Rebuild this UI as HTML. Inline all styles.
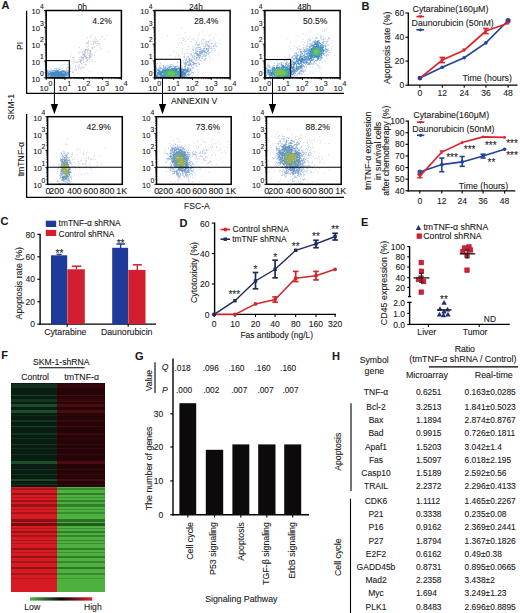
<!DOCTYPE html>
<html><head><meta charset="utf-8"><style>
html,body{margin:0;padding:0;background:#fff;overflow:hidden;}
svg{display:block;}
text{font-family:"Liberation Sans",sans-serif;fill:#1a1a1a;stroke:#1a1a1a;stroke-width:0.1px;}
</style></head><body>
<svg width="520" height="613" viewBox="0 0 520 613">
<defs>
<filter id="soft" x="-5%" y="-5%" width="110%" height="110%"><feGaussianBlur stdDeviation="0.4"/></filter>
<linearGradient id="lg" x1="0" x2="1" y1="0" y2="0"><stop offset="0" stop-color="#4cb84a"/><stop offset="0.5" stop-color="#080606"/><stop offset="1" stop-color="#e2202c"/></linearGradient>
</defs>
<rect width="520" height="613" fill="#fff"/>
<text x="1.49" y="9.20" font-size="11.00" text-anchor="start" font-weight="bold" >A</text>
<line x1="26.60" y1="10.80" x2="26.60" y2="93.60" stroke="#000" stroke-width="1.3" />
<line x1="26.00" y1="93.40" x2="344.00" y2="93.40" stroke="#000" stroke-width="1.3" />
<line x1="26.60" y1="114.00" x2="26.60" y2="197.40" stroke="#000" stroke-width="1.3" />
<line x1="26.00" y1="197.30" x2="344.00" y2="197.30" stroke="#000" stroke-width="1.3" />
<text transform="translate(13.80,119.88) rotate(-90)" font-size="8.50">SKM-1</text>
<text transform="translate(23.30,49.92) rotate(-90)" font-size="8.40">PI</text>
<text transform="translate(23.50,176.35) rotate(-90)" font-size="8.70">tmTNF-α</text>
<text x="170.92" y="103.80" font-size="8.60" text-anchor="start" >ANNEXIN V</text>
<text x="183.98" y="208.80" font-size="8.60" text-anchor="start" >FSC-A</text>
<path d="M61.3 64.7h1.0v1.0h-1.0zM67.6 67.1h1.0v1.0h-1.0zM53.8 67.9h1.0v1.0h-1.0zM54.7 67.9h1.0v1.0h-1.0zM58.1 68.0h1.0v1.0h-1.0zM51.2 68.8h1.0v1.0h-1.0zM51.0 69.1h1.0v1.0h-1.0zM61.9 68.6h1.0v1.0h-1.0z" fill="#b8cbe4" opacity="1.0" filter="url(#soft)"/>
<path d="M59.3 69.0h1.0v1.0h-1.0zM47.4 70.1h1.0v1.0h-1.0zM49.7 70.2h1.0v1.0h-1.0zM58.8 69.2h1.0v1.0h-1.0zM56.0 68.6h1.0v1.0h-1.0zM50.7 70.5h1.0v1.0h-1.0zM67.9 76.2h1.0v1.0h-1.0zM57.4 68.5h1.0v1.0h-1.0zM46.8 76.4h1.0v1.0h-1.0zM46.8 75.5h1.0v1.0h-1.0zM46.8 75.5h1.0v1.0h-1.0zM46.8 70.7h1.0v1.0h-1.0zM46.8 70.8h1.0v1.0h-1.0zM46.8 71.1h1.0v1.0h-1.0zM46.9 71.2h1.0v1.0h-1.0zM46.8 70.6h1.0v1.0h-1.0zM46.8 71.4h1.0v1.0h-1.0zM46.8 70.8h1.0v1.0h-1.0zM67.9 70.7h1.0v1.0h-1.0zM66.5 76.0h1.0v1.0h-1.0zM52.5 70.1h1.0v1.0h-1.0zM63.9 70.4h1.0v1.0h-1.0zM47.7 70.5h1.0v1.0h-1.0zM62.3 70.0h1.0v1.0h-1.0zM53.4 69.9h1.0v1.0h-1.0zM53.7 70.4h1.0v1.0h-1.0zM54.1 69.9h1.0v1.0h-1.0zM47.4 76.3h1.0v1.0h-1.0zM47.4 75.7h1.0v1.0h-1.0zM65.4 76.3h1.0v1.0h-1.0zM66.4 71.3h1.0v1.0h-1.0zM66.2 71.4h1.0v1.0h-1.0zM47.1 72.5h1.0v1.0h-1.0zM46.8 72.2h1.0v1.0h-1.0zM46.8 71.6h1.0v1.0h-1.0zM46.8 72.0h1.0v1.0h-1.0zM46.8 72.2h1.0v1.0h-1.0zM46.8 75.4h1.0v1.0h-1.0zM46.8 75.1h1.0v1.0h-1.0zM46.8 74.5h1.0v1.0h-1.0zM46.8 75.4h1.0v1.0h-1.0zM47.1 74.5h1.0v1.0h-1.0zM46.8 75.0h1.0v1.0h-1.0zM49.2 71.1h1.0v1.0h-1.0zM49.1 76.1h1.0v1.0h-1.0zM48.7 76.2h1.0v1.0h-1.0zM48.7 76.4h1.0v1.0h-1.0zM67.9 75.2h1.0v1.0h-1.0zM67.9 74.8h1.0v1.0h-1.0zM67.7 74.8h1.0v1.0h-1.0zM67.9 75.2h1.0v1.0h-1.0zM67.9 74.6h1.0v1.0h-1.0zM67.5 74.6h1.0v1.0h-1.0zM65.2 71.4h1.0v1.0h-1.0zM65.3 71.2h1.0v1.0h-1.0zM46.8 72.8h1.0v1.0h-1.0zM46.8 73.2h1.0v1.0h-1.0zM47.0 73.4h1.0v1.0h-1.0zM46.8 73.3h1.0v1.0h-1.0zM46.8 73.1h1.0v1.0h-1.0zM46.8 73.2h1.0v1.0h-1.0zM46.8 74.1h1.0v1.0h-1.0zM46.8 73.7h1.0v1.0h-1.0zM46.8 74.2h1.0v1.0h-1.0zM47.0 73.8h1.0v1.0h-1.0zM46.8 74.2h1.0v1.0h-1.0zM46.8 74.1h1.0v1.0h-1.0zM46.8 74.0h1.0v1.0h-1.0zM64.9 75.6h1.0v1.0h-1.0zM67.9 72.0h1.0v1.0h-1.0zM67.9 72.5h1.0v1.0h-1.0zM67.9 72.1h1.0v1.0h-1.0zM67.9 71.5h1.0v1.0h-1.0zM67.9 71.8h1.0v1.0h-1.0zM51.2 70.6h1.0v1.0h-1.0zM55.7 70.1h1.0v1.0h-1.0zM55.7 70.2h1.0v1.0h-1.0zM55.5 70.0h1.0v1.0h-1.0zM47.7 71.5h1.0v1.0h-1.0zM48.1 72.3h1.0v1.0h-1.0zM64.3 71.2h1.0v1.0h-1.0zM64.4 70.7h1.0v1.0h-1.0zM65.1 71.1h1.0v1.0h-1.0zM66.3 74.9h1.0v1.0h-1.0zM67.1 75.0h1.0v1.0h-1.0z" fill="#7fa8d6" opacity="1.0" filter="url(#soft)"/>
<path d="M57.6 70.1h1.0v1.0h-1.0zM58.1 70.4h1.0v1.0h-1.0zM47.6 75.2h1.0v1.0h-1.0zM48.2 75.5h1.0v1.0h-1.0zM56.7 69.9h1.0v1.0h-1.0zM67.9 74.4h1.0v1.0h-1.0zM67.9 74.3h1.0v1.0h-1.0zM67.7 74.1h1.0v1.0h-1.0zM67.9 74.4h1.0v1.0h-1.0zM67.9 73.8h1.0v1.0h-1.0zM51.1 76.0h1.0v1.0h-1.0zM50.5 75.8h1.0v1.0h-1.0zM50.4 75.7h1.0v1.0h-1.0zM50.5 75.9h1.0v1.0h-1.0zM67.1 72.1h1.0v1.0h-1.0zM66.9 72.4h1.0v1.0h-1.0zM65.5 75.2h1.0v1.0h-1.0zM66.0 74.7h1.0v1.0h-1.0zM66.2 74.8h1.0v1.0h-1.0zM67.9 72.8h1.0v1.0h-1.0zM67.9 73.2h1.0v1.0h-1.0zM67.9 72.6h1.0v1.0h-1.0zM67.3 73.1h1.0v1.0h-1.0zM67.9 73.1h1.0v1.0h-1.0zM67.6 72.7h1.0v1.0h-1.0zM67.9 72.5h1.0v1.0h-1.0zM67.9 72.5h1.0v1.0h-1.0zM67.9 73.3h1.0v1.0h-1.0zM67.9 73.3h1.0v1.0h-1.0zM64.0 70.9h1.0v1.0h-1.0zM63.2 70.8h1.0v1.0h-1.0zM63.3 70.5h1.0v1.0h-1.0zM63.8 76.4h1.0v1.0h-1.0zM64.0 75.6h1.0v1.0h-1.0zM63.4 76.1h1.0v1.0h-1.0zM63.7 76.4h1.0v1.0h-1.0zM63.4 75.9h1.0v1.0h-1.0zM49.1 74.5h1.0v1.0h-1.0zM48.9 74.5h1.0v1.0h-1.0zM47.4 72.9h1.0v1.0h-1.0zM48.2 72.8h1.0v1.0h-1.0zM47.9 72.7h1.0v1.0h-1.0zM49.6 71.7h1.0v1.0h-1.0zM50.0 72.2h1.0v1.0h-1.0zM50.0 72.4h1.0v1.0h-1.0zM52.8 70.5h1.0v1.0h-1.0zM47.7 74.4h1.0v1.0h-1.0zM48.0 74.0h1.0v1.0h-1.0zM65.3 72.0h1.0v1.0h-1.0zM65.4 72.1h1.0v1.0h-1.0zM65.3 71.9h1.0v1.0h-1.0zM67.0 74.2h1.0v1.0h-1.0zM62.2 70.6h1.0v1.0h-1.0zM62.5 70.7h1.0v1.0h-1.0zM62.8 70.8h1.0v1.0h-1.0zM48.6 72.9h1.0v1.0h-1.0zM48.9 73.0h1.0v1.0h-1.0zM52.1 76.0h1.0v1.0h-1.0zM51.3 76.4h1.0v1.0h-1.0zM51.5 75.8h1.0v1.0h-1.0zM67.0 73.0h1.0v1.0h-1.0zM66.8 72.6h1.0v1.0h-1.0zM66.5 72.7h1.0v1.0h-1.0zM64.6 74.6h1.0v1.0h-1.0zM64.3 74.7h1.0v1.0h-1.0zM64.4 74.8h1.0v1.0h-1.0zM61.8 71.4h1.0v1.0h-1.0zM61.6 71.0h1.0v1.0h-1.0zM49.0 73.6h1.0v1.0h-1.0zM48.8 74.4h1.0v1.0h-1.0zM49.8 75.2h1.0v1.0h-1.0zM50.1 75.5h1.0v1.0h-1.0zM49.7 74.7h1.0v1.0h-1.0zM63.1 75.5h1.0v1.0h-1.0zM63.0 76.4h1.0v1.0h-1.0zM62.9 76.4h1.0v1.0h-1.0zM62.8 76.4h1.0v1.0h-1.0zM62.6 75.6h1.0v1.0h-1.0zM62.8 75.6h1.0v1.0h-1.0zM65.7 74.0h1.0v1.0h-1.0zM65.6 73.9h1.0v1.0h-1.0zM66.0 74.5h1.0v1.0h-1.0zM64.4 72.1h1.0v1.0h-1.0zM64.6 71.5h1.0v1.0h-1.0zM64.8 72.3h1.0v1.0h-1.0zM65.1 71.8h1.0v1.0h-1.0zM60.9 70.7h1.0v1.0h-1.0zM60.9 71.2h1.0v1.0h-1.0zM65.9 73.1h1.0v1.0h-1.0zM65.4 73.0h1.0v1.0h-1.0zM61.8 75.9h1.0v1.0h-1.0zM62.0 76.4h1.0v1.0h-1.0zM61.6 76.1h1.0v1.0h-1.0zM61.8 76.4h1.0v1.0h-1.0zM52.8 75.6h1.0v1.0h-1.0zM53.2 76.4h1.0v1.0h-1.0zM50.9 72.5h1.0v1.0h-1.0zM50.2 71.6h1.0v1.0h-1.0zM50.4 72.1h1.0v1.0h-1.0zM51.0 71.9h1.0v1.0h-1.0zM50.5 71.5h1.0v1.0h-1.0zM51.0 72.2h1.0v1.0h-1.0zM54.9 70.8h1.0v1.0h-1.0zM54.9 71.2h1.0v1.0h-1.0zM49.9 73.4h1.0v1.0h-1.0zM49.6 73.1h1.0v1.0h-1.0zM60.0 71.2h1.0v1.0h-1.0zM60.4 75.8h1.0v1.0h-1.0zM60.9 75.9h1.0v1.0h-1.0zM64.4 73.8h1.0v1.0h-1.0zM64.4 74.1h1.0v1.0h-1.0zM64.9 74.4h1.0v1.0h-1.0zM64.8 73.8h1.0v1.0h-1.0zM50.2 73.6h1.0v1.0h-1.0zM49.9 73.8h1.0v1.0h-1.0zM49.4 74.0h1.0v1.0h-1.0zM49.7 73.6h1.0v1.0h-1.0zM53.2 76.4h1.0v1.0h-1.0zM53.9 76.4h1.0v1.0h-1.0zM64.2 73.2h1.0v1.0h-1.0zM64.7 73.1h1.0v1.0h-1.0zM63.7 72.4h1.0v1.0h-1.0zM63.9 72.4h1.0v1.0h-1.0zM64.2 72.4h1.0v1.0h-1.0zM63.6 75.4h1.0v1.0h-1.0zM63.5 74.9h1.0v1.0h-1.0zM63.6 75.1h1.0v1.0h-1.0zM59.2 76.2h1.0v1.0h-1.0zM60.0 76.3h1.0v1.0h-1.0zM50.6 75.0h1.0v1.0h-1.0zM51.2 75.0h1.0v1.0h-1.0zM51.0 74.9h1.0v1.0h-1.0zM50.4 75.4h1.0v1.0h-1.0zM50.2 75.4h1.0v1.0h-1.0zM54.4 76.3h1.0v1.0h-1.0zM55.1 75.7h1.0v1.0h-1.0zM54.3 76.2h1.0v1.0h-1.0zM54.6 76.4h1.0v1.0h-1.0zM58.3 71.4h1.0v1.0h-1.0zM58.3 71.0h1.0v1.0h-1.0zM58.4 71.1h1.0v1.0h-1.0zM58.6 71.3h1.0v1.0h-1.0zM55.9 76.4h1.0v1.0h-1.0zM55.4 71.4h1.0v1.0h-1.0zM56.2 70.7h1.0v1.0h-1.0zM52.0 71.6h1.0v1.0h-1.0zM51.3 72.0h1.0v1.0h-1.0zM52.0 72.4h1.0v1.0h-1.0zM56.7 75.6h1.0v1.0h-1.0zM56.7 75.6h1.0v1.0h-1.0zM56.7 76.2h1.0v1.0h-1.0zM56.6 76.4h1.0v1.0h-1.0zM56.6 76.1h1.0v1.0h-1.0zM58.9 75.7h1.0v1.0h-1.0zM59.0 75.7h1.0v1.0h-1.0zM58.5 76.4h1.0v1.0h-1.0zM59.0 76.4h1.0v1.0h-1.0zM58.3 76.4h1.0v1.0h-1.0zM58.4 76.4h1.0v1.0h-1.0zM58.4 75.8h1.0v1.0h-1.0zM57.3 76.2h1.0v1.0h-1.0zM57.6 76.3h1.0v1.0h-1.0zM58.1 76.2h1.0v1.0h-1.0zM57.6 76.4h1.0v1.0h-1.0zM57.8 75.9h1.0v1.0h-1.0zM50.4 73.2h1.0v1.0h-1.0zM50.5 73.1h1.0v1.0h-1.0zM50.9 73.3h1.0v1.0h-1.0zM50.5 73.0h1.0v1.0h-1.0zM50.5 73.1h1.0v1.0h-1.0zM50.9 72.7h1.0v1.0h-1.0zM51.1 73.1h1.0v1.0h-1.0zM57.3 70.6h1.0v1.0h-1.0zM57.2 70.9h1.0v1.0h-1.0zM57.8 71.1h1.0v1.0h-1.0zM57.7 70.6h1.0v1.0h-1.0zM56.2 71.4h1.0v1.0h-1.0zM57.1 71.5h1.0v1.0h-1.0zM57.1 71.4h1.0v1.0h-1.0zM62.6 71.7h1.0v1.0h-1.0zM62.7 72.1h1.0v1.0h-1.0zM63.0 71.8h1.0v1.0h-1.0zM62.3 71.7h1.0v1.0h-1.0zM62.7 71.6h1.0v1.0h-1.0zM62.4 71.6h1.0v1.0h-1.0z" fill="#4f90cc" opacity="1.0" filter="url(#soft)"/>
<path d="M63.4 72.8h1.0v1.0h-1.0zM64.1 73.4h1.0v1.0h-1.0zM63.3 73.0h1.0v1.0h-1.0zM63.7 73.1h1.0v1.0h-1.0zM64.0 73.8h1.0v1.0h-1.0zM63.5 74.1h1.0v1.0h-1.0zM63.9 73.8h1.0v1.0h-1.0zM63.4 74.2h1.0v1.0h-1.0zM63.6 73.7h1.0v1.0h-1.0zM53.1 71.9h1.0v1.0h-1.0zM53.1 71.9h1.0v1.0h-1.0zM52.8 72.4h1.0v1.0h-1.0zM53.1 72.1h1.0v1.0h-1.0zM52.7 72.2h1.0v1.0h-1.0zM53.1 71.9h1.0v1.0h-1.0zM52.7 72.2h1.0v1.0h-1.0zM62.6 75.2h1.0v1.0h-1.0zM62.7 75.0h1.0v1.0h-1.0zM62.2 74.9h1.0v1.0h-1.0zM62.9 75.2h1.0v1.0h-1.0zM50.7 74.0h1.0v1.0h-1.0zM51.1 74.1h1.0v1.0h-1.0zM51.1 73.9h1.0v1.0h-1.0zM50.7 74.2h1.0v1.0h-1.0zM50.9 74.2h1.0v1.0h-1.0zM51.6 75.0h1.0v1.0h-1.0zM52.2 74.6h1.0v1.0h-1.0zM51.5 74.7h1.0v1.0h-1.0zM52.0 74.9h1.0v1.0h-1.0zM51.8 75.2h1.0v1.0h-1.0zM61.2 72.1h1.0v1.0h-1.0zM61.7 72.5h1.0v1.0h-1.0zM61.6 71.5h1.0v1.0h-1.0zM61.8 72.5h1.0v1.0h-1.0zM61.8 72.0h1.0v1.0h-1.0zM61.6 72.0h1.0v1.0h-1.0zM61.4 72.2h1.0v1.0h-1.0zM53.8 71.7h1.0v1.0h-1.0zM53.8 71.6h1.0v1.0h-1.0zM54.1 72.0h1.0v1.0h-1.0zM53.6 72.4h1.0v1.0h-1.0zM53.3 71.7h1.0v1.0h-1.0zM62.2 74.7h1.0v1.0h-1.0zM61.5 74.8h1.0v1.0h-1.0zM61.5 74.6h1.0v1.0h-1.0zM61.5 75.1h1.0v1.0h-1.0zM61.7 74.8h1.0v1.0h-1.0zM61.9 75.1h1.0v1.0h-1.0zM61.2 72.0h1.0v1.0h-1.0zM60.2 71.8h1.0v1.0h-1.0zM60.9 72.2h1.0v1.0h-1.0zM51.8 73.1h1.0v1.0h-1.0zM51.7 73.0h1.0v1.0h-1.0zM51.4 73.4h1.0v1.0h-1.0zM51.8 73.3h1.0v1.0h-1.0zM52.6 74.6h1.0v1.0h-1.0zM52.2 74.6h1.0v1.0h-1.0zM52.5 74.9h1.0v1.0h-1.0zM53.0 74.9h1.0v1.0h-1.0zM52.7 74.8h1.0v1.0h-1.0zM53.0 74.9h1.0v1.0h-1.0zM63.0 73.1h1.0v1.0h-1.0zM62.8 72.7h1.0v1.0h-1.0zM62.3 73.4h1.0v1.0h-1.0zM62.5 72.7h1.0v1.0h-1.0zM62.5 73.4h1.0v1.0h-1.0zM62.5 73.3h1.0v1.0h-1.0zM63.0 74.0h1.0v1.0h-1.0zM62.6 73.5h1.0v1.0h-1.0zM62.3 74.1h1.0v1.0h-1.0zM62.4 74.3h1.0v1.0h-1.0zM63.0 74.4h1.0v1.0h-1.0zM62.8 74.0h1.0v1.0h-1.0zM60.6 75.4h1.0v1.0h-1.0zM61.1 74.7h1.0v1.0h-1.0zM61.1 74.8h1.0v1.0h-1.0zM59.5 72.1h1.0v1.0h-1.0zM59.3 71.7h1.0v1.0h-1.0zM59.9 72.0h1.0v1.0h-1.0zM59.8 71.9h1.0v1.0h-1.0zM59.8 72.1h1.0v1.0h-1.0zM59.6 72.0h1.0v1.0h-1.0zM51.4 73.8h1.0v1.0h-1.0zM51.5 74.5h1.0v1.0h-1.0zM51.4 73.9h1.0v1.0h-1.0zM51.7 73.8h1.0v1.0h-1.0zM51.6 74.4h1.0v1.0h-1.0zM52.1 73.8h1.0v1.0h-1.0zM54.3 71.8h1.0v1.0h-1.0zM54.9 72.3h1.0v1.0h-1.0zM54.7 72.2h1.0v1.0h-1.0zM53.6 75.3h1.0v1.0h-1.0zM53.3 75.2h1.0v1.0h-1.0zM54.1 75.0h1.0v1.0h-1.0zM54.0 75.5h1.0v1.0h-1.0zM53.8 75.1h1.0v1.0h-1.0zM53.6 75.4h1.0v1.0h-1.0zM53.7 75.5h1.0v1.0h-1.0zM53.7 75.4h1.0v1.0h-1.0zM59.8 74.6h1.0v1.0h-1.0zM59.9 74.7h1.0v1.0h-1.0zM60.2 75.2h1.0v1.0h-1.0zM59.5 74.8h1.0v1.0h-1.0zM59.5 74.8h1.0v1.0h-1.0zM59.7 74.6h1.0v1.0h-1.0zM61.6 73.4h1.0v1.0h-1.0zM61.8 73.2h1.0v1.0h-1.0zM62.0 73.3h1.0v1.0h-1.0zM61.6 72.7h1.0v1.0h-1.0zM61.5 73.0h1.0v1.0h-1.0zM62.0 73.1h1.0v1.0h-1.0zM52.9 72.7h1.0v1.0h-1.0zM52.7 73.3h1.0v1.0h-1.0zM53.0 72.5h1.0v1.0h-1.0zM53.1 72.9h1.0v1.0h-1.0zM52.9 73.1h1.0v1.0h-1.0zM52.5 72.8h1.0v1.0h-1.0zM52.6 72.7h1.0v1.0h-1.0zM52.6 72.5h1.0v1.0h-1.0zM52.9 73.2h1.0v1.0h-1.0zM61.5 73.9h1.0v1.0h-1.0zM61.6 74.0h1.0v1.0h-1.0zM62.1 73.9h1.0v1.0h-1.0zM61.5 74.3h1.0v1.0h-1.0zM61.5 74.0h1.0v1.0h-1.0zM61.8 73.6h1.0v1.0h-1.0zM61.5 74.1h1.0v1.0h-1.0zM62.1 74.4h1.0v1.0h-1.0zM58.4 71.9h1.0v1.0h-1.0zM58.7 71.8h1.0v1.0h-1.0zM59.0 72.0h1.0v1.0h-1.0zM58.3 71.9h1.0v1.0h-1.0zM59.1 72.2h1.0v1.0h-1.0zM58.9 71.8h1.0v1.0h-1.0zM54.9 74.8h1.0v1.0h-1.0zM54.6 74.6h1.0v1.0h-1.0zM54.4 74.7h1.0v1.0h-1.0zM55.0 75.4h1.0v1.0h-1.0zM55.0 74.6h1.0v1.0h-1.0zM54.7 74.5h1.0v1.0h-1.0zM55.4 72.0h1.0v1.0h-1.0zM55.7 71.9h1.0v1.0h-1.0zM55.4 72.0h1.0v1.0h-1.0zM56.1 71.7h1.0v1.0h-1.0zM55.4 71.7h1.0v1.0h-1.0zM55.3 72.3h1.0v1.0h-1.0zM53.2 74.2h1.0v1.0h-1.0zM52.6 74.4h1.0v1.0h-1.0zM53.0 73.7h1.0v1.0h-1.0zM53.0 74.3h1.0v1.0h-1.0zM53.2 73.9h1.0v1.0h-1.0zM52.9 73.9h1.0v1.0h-1.0zM52.4 73.6h1.0v1.0h-1.0zM52.5 74.3h1.0v1.0h-1.0zM58.7 74.9h1.0v1.0h-1.0zM58.9 74.6h1.0v1.0h-1.0zM58.5 75.3h1.0v1.0h-1.0zM58.7 74.9h1.0v1.0h-1.0zM58.8 75.0h1.0v1.0h-1.0zM58.4 75.2h1.0v1.0h-1.0zM59.2 74.6h1.0v1.0h-1.0zM55.6 74.7h1.0v1.0h-1.0zM56.0 74.7h1.0v1.0h-1.0zM55.8 74.9h1.0v1.0h-1.0zM55.8 75.4h1.0v1.0h-1.0zM56.0 74.7h1.0v1.0h-1.0zM55.6 74.7h1.0v1.0h-1.0zM55.8 75.3h1.0v1.0h-1.0zM60.8 72.7h1.0v1.0h-1.0zM60.7 72.7h1.0v1.0h-1.0zM60.9 72.9h1.0v1.0h-1.0zM60.3 73.1h1.0v1.0h-1.0zM60.9 72.8h1.0v1.0h-1.0zM61.0 73.2h1.0v1.0h-1.0zM60.3 73.1h1.0v1.0h-1.0zM60.8 73.1h1.0v1.0h-1.0zM56.8 74.6h1.0v1.0h-1.0zM57.0 74.5h1.0v1.0h-1.0zM56.9 75.4h1.0v1.0h-1.0zM57.1 74.7h1.0v1.0h-1.0zM60.5 73.9h1.0v1.0h-1.0zM60.9 73.8h1.0v1.0h-1.0zM61.1 74.4h1.0v1.0h-1.0zM60.4 73.7h1.0v1.0h-1.0zM60.2 74.1h1.0v1.0h-1.0zM60.3 73.9h1.0v1.0h-1.0zM60.2 74.3h1.0v1.0h-1.0zM60.8 74.2h1.0v1.0h-1.0zM57.6 72.2h1.0v1.0h-1.0zM57.4 71.9h1.0v1.0h-1.0zM58.0 72.3h1.0v1.0h-1.0zM57.6 72.0h1.0v1.0h-1.0zM57.8 72.0h1.0v1.0h-1.0zM57.3 72.4h1.0v1.0h-1.0zM57.6 72.3h1.0v1.0h-1.0zM57.5 71.8h1.0v1.0h-1.0zM57.4 75.2h1.0v1.0h-1.0zM58.2 74.9h1.0v1.0h-1.0zM57.4 74.7h1.0v1.0h-1.0zM57.6 75.1h1.0v1.0h-1.0zM57.3 75.2h1.0v1.0h-1.0zM57.2 75.4h1.0v1.0h-1.0zM56.5 72.5h1.0v1.0h-1.0zM56.6 72.4h1.0v1.0h-1.0zM56.4 72.3h1.0v1.0h-1.0zM56.9 71.6h1.0v1.0h-1.0zM56.2 72.5h1.0v1.0h-1.0zM56.5 71.9h1.0v1.0h-1.0zM56.6 72.3h1.0v1.0h-1.0zM53.4 73.4h1.0v1.0h-1.0zM54.0 73.0h1.0v1.0h-1.0zM54.1 72.9h1.0v1.0h-1.0zM53.2 73.5h1.0v1.0h-1.0zM53.6 73.0h1.0v1.0h-1.0zM53.3 73.4h1.0v1.0h-1.0zM59.4 72.5h1.0v1.0h-1.0zM59.7 73.3h1.0v1.0h-1.0zM59.6 73.2h1.0v1.0h-1.0zM59.5 72.8h1.0v1.0h-1.0zM59.4 73.2h1.0v1.0h-1.0zM53.3 74.0h1.0v1.0h-1.0zM53.8 73.9h1.0v1.0h-1.0zM53.6 73.7h1.0v1.0h-1.0zM54.2 74.3h1.0v1.0h-1.0zM53.7 73.7h1.0v1.0h-1.0zM53.4 73.6h1.0v1.0h-1.0zM53.6 73.5h1.0v1.0h-1.0zM59.6 73.7h1.0v1.0h-1.0zM60.2 73.9h1.0v1.0h-1.0zM59.8 74.1h1.0v1.0h-1.0zM60.1 73.9h1.0v1.0h-1.0zM59.5 73.9h1.0v1.0h-1.0zM60.1 73.7h1.0v1.0h-1.0zM59.3 74.2h1.0v1.0h-1.0zM60.1 73.7h1.0v1.0h-1.0zM59.4 73.9h1.0v1.0h-1.0zM54.7 73.2h1.0v1.0h-1.0zM55.2 73.0h1.0v1.0h-1.0zM54.9 73.1h1.0v1.0h-1.0zM54.4 72.8h1.0v1.0h-1.0zM54.8 73.1h1.0v1.0h-1.0zM54.7 72.8h1.0v1.0h-1.0zM55.1 74.4h1.0v1.0h-1.0zM55.0 74.0h1.0v1.0h-1.0zM55.0 74.2h1.0v1.0h-1.0zM55.0 73.8h1.0v1.0h-1.0zM54.7 73.6h1.0v1.0h-1.0zM54.3 74.0h1.0v1.0h-1.0zM54.8 73.8h1.0v1.0h-1.0zM54.3 74.2h1.0v1.0h-1.0zM54.5 73.5h1.0v1.0h-1.0zM54.7 73.9h1.0v1.0h-1.0zM54.4 74.4h1.0v1.0h-1.0zM54.8 74.0h1.0v1.0h-1.0zM55.2 74.4h1.0v1.0h-1.0zM58.4 73.0h1.0v1.0h-1.0zM58.3 72.9h1.0v1.0h-1.0zM58.3 72.9h1.0v1.0h-1.0zM58.9 73.1h1.0v1.0h-1.0zM58.9 72.7h1.0v1.0h-1.0zM59.1 72.9h1.0v1.0h-1.0zM58.6 73.1h1.0v1.0h-1.0zM59.1 73.1h1.0v1.0h-1.0zM58.4 72.8h1.0v1.0h-1.0zM59.1 73.1h1.0v1.0h-1.0zM58.8 74.0h1.0v1.0h-1.0zM58.4 73.7h1.0v1.0h-1.0zM58.3 73.5h1.0v1.0h-1.0zM58.3 74.1h1.0v1.0h-1.0zM58.8 73.6h1.0v1.0h-1.0zM58.6 73.8h1.0v1.0h-1.0zM58.9 74.3h1.0v1.0h-1.0zM58.7 74.1h1.0v1.0h-1.0zM58.8 73.7h1.0v1.0h-1.0zM55.5 73.2h1.0v1.0h-1.0zM55.6 73.4h1.0v1.0h-1.0zM55.6 73.2h1.0v1.0h-1.0zM55.3 72.6h1.0v1.0h-1.0zM56.0 73.2h1.0v1.0h-1.0zM55.3 73.0h1.0v1.0h-1.0zM55.3 72.6h1.0v1.0h-1.0zM55.4 73.2h1.0v1.0h-1.0zM55.3 72.7h1.0v1.0h-1.0zM55.5 74.2h1.0v1.0h-1.0zM56.1 73.9h1.0v1.0h-1.0zM56.1 74.0h1.0v1.0h-1.0zM55.5 73.5h1.0v1.0h-1.0zM55.7 74.2h1.0v1.0h-1.0zM55.5 74.3h1.0v1.0h-1.0zM55.2 73.7h1.0v1.0h-1.0zM56.1 74.0h1.0v1.0h-1.0zM55.7 74.3h1.0v1.0h-1.0zM55.9 74.0h1.0v1.0h-1.0zM57.4 72.5h1.0v1.0h-1.0zM58.0 73.0h1.0v1.0h-1.0zM57.4 72.7h1.0v1.0h-1.0zM57.3 73.3h1.0v1.0h-1.0zM57.8 73.0h1.0v1.0h-1.0zM58.1 73.8h1.0v1.0h-1.0zM58.1 73.6h1.0v1.0h-1.0zM58.1 73.7h1.0v1.0h-1.0zM57.9 73.6h1.0v1.0h-1.0zM58.0 74.2h1.0v1.0h-1.0zM57.5 74.2h1.0v1.0h-1.0zM57.4 73.9h1.0v1.0h-1.0zM58.1 74.0h1.0v1.0h-1.0zM58.2 73.6h1.0v1.0h-1.0zM58.1 74.2h1.0v1.0h-1.0zM57.2 74.3h1.0v1.0h-1.0zM58.0 74.3h1.0v1.0h-1.0zM56.9 74.3h1.0v1.0h-1.0zM56.8 73.6h1.0v1.0h-1.0zM56.8 73.7h1.0v1.0h-1.0zM56.7 74.3h1.0v1.0h-1.0zM56.3 74.2h1.0v1.0h-1.0zM56.3 73.8h1.0v1.0h-1.0zM56.6 72.7h1.0v1.0h-1.0zM57.2 72.5h1.0v1.0h-1.0zM56.8 73.1h1.0v1.0h-1.0zM56.3 73.1h1.0v1.0h-1.0zM57.1 73.5h1.0v1.0h-1.0zM56.5 73.1h1.0v1.0h-1.0zM56.7 72.6h1.0v1.0h-1.0zM56.7 73.1h1.0v1.0h-1.0zM56.7 72.6h1.0v1.0h-1.0zM56.7 73.4h1.0v1.0h-1.0zM56.3 73.1h1.0v1.0h-1.0zM57.0 73.5h1.0v1.0h-1.0zM56.2 73.3h1.0v1.0h-1.0zM56.4 73.2h1.0v1.0h-1.0zM57.1 72.7h1.0v1.0h-1.0zM57.0 72.9h1.0v1.0h-1.0z" fill="#3d8ac6" opacity="1.0" filter="url(#soft)"/>
<path d="M108.2 51.1h1.0v1.0h-1.0zM89.3 71.1h1.0v1.0h-1.0zM106.6 35.1h1.0v1.0h-1.0zM73.8 74.6h1.0v1.0h-1.0zM76.9 72.8h1.0v1.0h-1.0zM67.8 74.7h1.0v1.0h-1.0zM83.7 71.7h1.0v1.0h-1.0zM94.5 60.9h1.0v1.0h-1.0zM62.6 72.3h1.0v1.0h-1.0zM87.1 37.0h1.0v1.0h-1.0zM80.4 71.6h1.0v1.0h-1.0zM79.1 47.0h1.0v1.0h-1.0zM62.6 65.6h1.0v1.0h-1.0zM70.9 53.3h1.0v1.0h-1.0zM70.0 55.4h1.0v1.0h-1.0zM71.2 61.3h1.0v1.0h-1.0zM63.6 64.2h1.0v1.0h-1.0zM94.4 52.1h1.0v1.0h-1.0zM95.5 50.1h1.0v1.0h-1.0zM66.8 64.0h1.0v1.0h-1.0zM99.7 39.1h1.0v1.0h-1.0zM93.9 54.9h1.0v1.0h-1.0zM99.3 49.3h1.0v1.0h-1.0zM91.7 60.8h1.0v1.0h-1.0zM105.2 38.4h1.0v1.0h-1.0zM103.7 38.5h1.0v1.0h-1.0zM72.8 63.3h1.0v1.0h-1.0zM90.4 37.1h1.0v1.0h-1.0zM101.4 35.7h1.0v1.0h-1.0zM100.9 48.1h1.0v1.0h-1.0zM95.4 46.7h1.0v1.0h-1.0zM89.8 35.4h1.0v1.0h-1.0zM81.8 48.4h1.0v1.0h-1.0zM94.5 36.8h1.0v1.0h-1.0zM101.9 36.9h1.0v1.0h-1.0zM91.0 34.6h1.0v1.0h-1.0zM70.5 64.6h1.0v1.0h-1.0zM99.3 46.4h1.0v1.0h-1.0zM88.6 61.0h1.0v1.0h-1.0zM91.1 43.9h1.0v1.0h-1.0zM77.8 51.5h1.0v1.0h-1.0zM80.3 49.3h1.0v1.0h-1.0zM84.2 67.1h1.0v1.0h-1.0zM78.4 54.3h1.0v1.0h-1.0zM93.1 38.8h1.0v1.0h-1.0zM91.4 59.3h1.0v1.0h-1.0zM67.1 66.2h1.0v1.0h-1.0zM73.0 59.2h1.0v1.0h-1.0zM73.2 56.4h1.0v1.0h-1.0zM85.4 43.7h1.0v1.0h-1.0zM88.2 40.2h1.0v1.0h-1.0zM82.8 67.6h1.0v1.0h-1.0z" fill="#d3d8e4" opacity="1.0" filter="url(#soft)"/>
<path d="M85.3 61.0h1.0v1.0h-1.0zM73.6 57.0h1.0v1.0h-1.0zM78.8 51.9h1.0v1.0h-1.0zM74.4 60.3h1.0v1.0h-1.0zM72.1 72.1h1.0v1.0h-1.0zM84.3 63.8h1.0v1.0h-1.0zM93.7 46.4h1.0v1.0h-1.0zM73.5 61.2h1.0v1.0h-1.0zM88.0 45.6h1.0v1.0h-1.0zM86.5 46.2h1.0v1.0h-1.0zM85.5 64.4h1.0v1.0h-1.0zM85.6 63.7h1.0v1.0h-1.0zM71.8 67.8h1.0v1.0h-1.0zM75.0 66.4h1.0v1.0h-1.0zM67.9 72.4h1.0v1.0h-1.0zM79.9 68.5h1.0v1.0h-1.0zM95.4 37.6h1.0v1.0h-1.0zM70.0 71.0h1.0v1.0h-1.0zM72.4 57.2h1.0v1.0h-1.0zM75.3 65.3h1.0v1.0h-1.0zM97.2 40.2h1.0v1.0h-1.0zM74.4 69.8h1.0v1.0h-1.0zM96.8 44.9h1.0v1.0h-1.0zM73.1 71.4h1.0v1.0h-1.0zM70.1 66.3h1.0v1.0h-1.0zM92.6 44.2h1.0v1.0h-1.0zM74.8 66.6h1.0v1.0h-1.0zM82.1 66.5h1.0v1.0h-1.0zM71.8 70.7h1.0v1.0h-1.0zM76.0 69.3h1.0v1.0h-1.0zM98.4 43.6h1.0v1.0h-1.0zM98.8 43.7h1.0v1.0h-1.0zM75.2 68.8h1.0v1.0h-1.0zM92.9 43.1h1.0v1.0h-1.0zM93.0 41.3h1.0v1.0h-1.0zM88.0 40.9h1.0v1.0h-1.0zM86.6 60.1h1.0v1.0h-1.0zM87.3 43.6h1.0v1.0h-1.0zM75.3 62.0h1.0v1.0h-1.0zM80.8 68.3h1.0v1.0h-1.0zM95.5 39.1h1.0v1.0h-1.0zM92.5 48.5h1.0v1.0h-1.0zM92.1 47.0h1.0v1.0h-1.0zM80.7 63.5h1.0v1.0h-1.0zM83.0 61.3h1.0v1.0h-1.0zM80.8 51.6h1.0v1.0h-1.0zM86.5 42.3h1.0v1.0h-1.0zM78.0 67.7h1.0v1.0h-1.0zM97.4 42.9h1.0v1.0h-1.0zM89.4 58.9h1.0v1.0h-1.0zM80.6 66.6h1.0v1.0h-1.0zM78.7 64.2h1.0v1.0h-1.0zM87.9 43.5h1.0v1.0h-1.0zM76.7 61.5h1.0v1.0h-1.0zM76.7 62.3h1.0v1.0h-1.0zM65.7 71.0h1.0v1.0h-1.0zM87.4 42.2h1.0v1.0h-1.0zM78.6 65.3h1.0v1.0h-1.0zM91.7 54.2h1.0v1.0h-1.0zM91.2 47.6h1.0v1.0h-1.0zM92.0 47.5h1.0v1.0h-1.0zM69.6 68.4h1.0v1.0h-1.0zM69.2 67.9h1.0v1.0h-1.0zM70.0 67.7h1.0v1.0h-1.0zM77.5 65.9h1.0v1.0h-1.0zM77.7 61.3h1.0v1.0h-1.0zM78.8 59.0h1.0v1.0h-1.0zM87.0 53.4h1.0v1.0h-1.0zM77.7 67.4h1.0v1.0h-1.0zM96.8 40.9h1.0v1.0h-1.0zM81.0 63.3h1.0v1.0h-1.0zM79.3 57.2h1.0v1.0h-1.0zM79.1 67.2h1.0v1.0h-1.0zM87.0 59.0h1.0v1.0h-1.0zM66.7 67.6h1.0v1.0h-1.0zM66.7 67.7h1.0v1.0h-1.0zM93.2 40.9h1.0v1.0h-1.0zM81.7 51.8h1.0v1.0h-1.0zM81.9 51.5h1.0v1.0h-1.0zM95.4 42.5h1.0v1.0h-1.0zM95.4 42.8h1.0v1.0h-1.0zM87.4 52.0h1.0v1.0h-1.0zM90.5 50.3h1.0v1.0h-1.0zM65.9 69.4h1.0v1.0h-1.0zM65.3 70.4h1.0v1.0h-1.0zM67.5 70.1h1.0v1.0h-1.0zM85.0 49.1h1.0v1.0h-1.0zM84.8 49.2h1.0v1.0h-1.0zM90.7 56.6h1.0v1.0h-1.0zM90.4 52.8h1.0v1.0h-1.0zM95.5 40.9h1.0v1.0h-1.0z" fill="#bcc6da" opacity="1.0" filter="url(#soft)"/>
<path d="M83.4 59.3h1.0v1.0h-1.0zM94.3 40.8h1.0v1.0h-1.0zM83.4 49.8h1.0v1.0h-1.0zM94.7 42.5h1.0v1.0h-1.0zM81.1 56.3h1.0v1.0h-1.0zM80.5 56.5h1.0v1.0h-1.0zM80.2 61.9h1.0v1.0h-1.0zM79.3 61.6h1.0v1.0h-1.0zM89.2 53.0h1.0v1.0h-1.0zM89.9 52.7h1.0v1.0h-1.0zM90.5 54.0h1.0v1.0h-1.0zM88.7 57.8h1.0v1.0h-1.0zM66.5 69.5h1.0v1.0h-1.0zM66.6 70.2h1.0v1.0h-1.0zM90.0 51.4h1.0v1.0h-1.0zM86.0 58.2h1.0v1.0h-1.0zM88.1 48.6h1.0v1.0h-1.0zM87.3 49.4h1.0v1.0h-1.0zM86.3 48.8h1.0v1.0h-1.0zM89.5 50.4h1.0v1.0h-1.0zM90.1 50.4h1.0v1.0h-1.0zM85.6 55.2h1.0v1.0h-1.0zM79.9 59.4h1.0v1.0h-1.0zM81.3 60.2h1.0v1.0h-1.0zM86.8 57.1h1.0v1.0h-1.0zM86.3 57.0h1.0v1.0h-1.0zM84.1 51.0h1.0v1.0h-1.0zM79.9 60.7h1.0v1.0h-1.0zM88.8 54.9h1.0v1.0h-1.0zM88.8 50.3h1.0v1.0h-1.0zM87.2 50.2h1.0v1.0h-1.0zM82.5 54.3h1.0v1.0h-1.0zM82.5 53.6h1.0v1.0h-1.0zM79.7 59.7h1.0v1.0h-1.0zM85.6 49.6h1.0v1.0h-1.0zM85.2 50.0h1.0v1.0h-1.0zM89.4 57.0h1.0v1.0h-1.0zM85.5 56.3h1.0v1.0h-1.0zM84.4 53.4h1.0v1.0h-1.0zM89.7 54.8h1.0v1.0h-1.0zM88.8 56.7h1.0v1.0h-1.0zM80.3 60.1h1.0v1.0h-1.0zM80.6 60.2h1.0v1.0h-1.0zM84.4 52.3h1.0v1.0h-1.0zM84.3 51.7h1.0v1.0h-1.0zM84.9 51.9h1.0v1.0h-1.0zM88.8 56.4h1.0v1.0h-1.0zM83.5 53.4h1.0v1.0h-1.0zM89.6 55.5h1.0v1.0h-1.0zM90.0 56.0h1.0v1.0h-1.0zM85.0 57.5h1.0v1.0h-1.0zM84.1 54.6h1.0v1.0h-1.0zM83.4 55.0h1.0v1.0h-1.0zM81.5 58.5h1.0v1.0h-1.0zM81.5 57.7h1.0v1.0h-1.0zM82.6 58.5h1.0v1.0h-1.0zM81.4 56.7h1.0v1.0h-1.0zM84.8 56.1h1.0v1.0h-1.0zM83.7 56.5h1.0v1.0h-1.0zM84.0 55.6h1.0v1.0h-1.0zM83.1 57.3h1.0v1.0h-1.0zM82.3 57.2h1.0v1.0h-1.0z" fill="#a9b7d2" opacity="1.0" filter="url(#soft)"/>
<rect x="46.20" y="60.60" width="23.10" height="17.20" fill="none" stroke="#000" stroke-width="1.1"/>
<rect x="46.20" y="10.50" width="75.20" height="67.30" fill="none" stroke="#000" stroke-width="1.5"/>
<text x="43.80" y="81.70" font-size="7.6" text-anchor="end">10<tspan dy="-5.6" font-size="6.8">0</tspan></text>
<line x1="44.00" y1="77.80" x2="46.20" y2="77.80" stroke="#000" stroke-width="0.9" />
<line x1="44.80" y1="72.74" x2="46.20" y2="72.74" stroke="#000" stroke-width="0.6" />
<line x1="44.80" y1="69.77" x2="46.20" y2="69.77" stroke="#000" stroke-width="0.6" />
<line x1="44.80" y1="67.67" x2="46.20" y2="67.67" stroke="#000" stroke-width="0.6" />
<line x1="44.80" y1="66.04" x2="46.20" y2="66.04" stroke="#000" stroke-width="0.6" />
<line x1="44.80" y1="64.71" x2="46.20" y2="64.71" stroke="#000" stroke-width="0.6" />
<line x1="44.80" y1="63.58" x2="46.20" y2="63.58" stroke="#000" stroke-width="0.6" />
<line x1="44.80" y1="62.61" x2="46.20" y2="62.61" stroke="#000" stroke-width="0.6" />
<line x1="44.80" y1="61.74" x2="46.20" y2="61.74" stroke="#000" stroke-width="0.6" />
<text x="43.80" y="64.88" font-size="7.6" text-anchor="end">10<tspan dy="-5.6" font-size="6.8">1</tspan></text>
<line x1="44.00" y1="60.97" x2="46.20" y2="60.97" stroke="#000" stroke-width="0.9" />
<line x1="44.80" y1="55.91" x2="46.20" y2="55.91" stroke="#000" stroke-width="0.6" />
<line x1="44.80" y1="52.95" x2="46.20" y2="52.95" stroke="#000" stroke-width="0.6" />
<line x1="44.80" y1="50.85" x2="46.20" y2="50.85" stroke="#000" stroke-width="0.6" />
<line x1="44.80" y1="49.21" x2="46.20" y2="49.21" stroke="#000" stroke-width="0.6" />
<line x1="44.80" y1="47.88" x2="46.20" y2="47.88" stroke="#000" stroke-width="0.6" />
<line x1="44.80" y1="46.76" x2="46.20" y2="46.76" stroke="#000" stroke-width="0.6" />
<line x1="44.80" y1="45.78" x2="46.20" y2="45.78" stroke="#000" stroke-width="0.6" />
<line x1="44.80" y1="44.92" x2="46.20" y2="44.92" stroke="#000" stroke-width="0.6" />
<text x="43.80" y="48.05" font-size="7.6" text-anchor="end">10<tspan dy="-5.6" font-size="6.8">2</tspan></text>
<line x1="44.00" y1="44.15" x2="46.20" y2="44.15" stroke="#000" stroke-width="0.9" />
<line x1="44.80" y1="39.09" x2="46.20" y2="39.09" stroke="#000" stroke-width="0.6" />
<line x1="44.80" y1="36.12" x2="46.20" y2="36.12" stroke="#000" stroke-width="0.6" />
<line x1="44.80" y1="34.02" x2="46.20" y2="34.02" stroke="#000" stroke-width="0.6" />
<line x1="44.80" y1="32.39" x2="46.20" y2="32.39" stroke="#000" stroke-width="0.6" />
<line x1="44.80" y1="31.06" x2="46.20" y2="31.06" stroke="#000" stroke-width="0.6" />
<line x1="44.80" y1="29.93" x2="46.20" y2="29.93" stroke="#000" stroke-width="0.6" />
<line x1="44.80" y1="28.96" x2="46.20" y2="28.96" stroke="#000" stroke-width="0.6" />
<line x1="44.80" y1="28.09" x2="46.20" y2="28.09" stroke="#000" stroke-width="0.6" />
<text x="43.80" y="31.23" font-size="7.6" text-anchor="end">10<tspan dy="-5.6" font-size="6.8">3</tspan></text>
<line x1="44.00" y1="27.33" x2="46.20" y2="27.33" stroke="#000" stroke-width="0.9" />
<line x1="44.80" y1="22.26" x2="46.20" y2="22.26" stroke="#000" stroke-width="0.6" />
<line x1="44.80" y1="19.30" x2="46.20" y2="19.30" stroke="#000" stroke-width="0.6" />
<line x1="44.80" y1="17.20" x2="46.20" y2="17.20" stroke="#000" stroke-width="0.6" />
<line x1="44.80" y1="15.56" x2="46.20" y2="15.56" stroke="#000" stroke-width="0.6" />
<line x1="44.80" y1="14.23" x2="46.20" y2="14.23" stroke="#000" stroke-width="0.6" />
<line x1="44.80" y1="13.11" x2="46.20" y2="13.11" stroke="#000" stroke-width="0.6" />
<line x1="44.80" y1="12.13" x2="46.20" y2="12.13" stroke="#000" stroke-width="0.6" />
<line x1="44.80" y1="11.27" x2="46.20" y2="11.27" stroke="#000" stroke-width="0.6" />
<text x="43.80" y="14.40" font-size="7.6" text-anchor="end">10<tspan dy="-5.6" font-size="6.8">4</tspan></text>
<line x1="44.00" y1="10.50" x2="46.20" y2="10.50" stroke="#000" stroke-width="0.9" />
<text x="46.00" y="90.9" font-size="8.1" text-anchor="middle">10<tspan dy="-5.4" font-size="7">0</tspan></text>
<line x1="46.20" y1="77.80" x2="46.20" y2="80.00" stroke="#000" stroke-width="0.9" />
<line x1="51.86" y1="77.80" x2="51.86" y2="79.10" stroke="#000" stroke-width="0.6" />
<line x1="55.17" y1="77.80" x2="55.17" y2="79.10" stroke="#000" stroke-width="0.6" />
<line x1="57.52" y1="77.80" x2="57.52" y2="79.10" stroke="#000" stroke-width="0.6" />
<line x1="59.34" y1="77.80" x2="59.34" y2="79.10" stroke="#000" stroke-width="0.6" />
<line x1="60.83" y1="77.80" x2="60.83" y2="79.10" stroke="#000" stroke-width="0.6" />
<line x1="62.09" y1="77.80" x2="62.09" y2="79.10" stroke="#000" stroke-width="0.6" />
<line x1="63.18" y1="77.80" x2="63.18" y2="79.10" stroke="#000" stroke-width="0.6" />
<line x1="64.14" y1="77.80" x2="64.14" y2="79.10" stroke="#000" stroke-width="0.6" />
<text x="64.80" y="90.9" font-size="8.1" text-anchor="middle">10<tspan dy="-5.4" font-size="7">1</tspan></text>
<line x1="65.00" y1="77.80" x2="65.00" y2="80.00" stroke="#000" stroke-width="0.9" />
<line x1="70.66" y1="77.80" x2="70.66" y2="79.10" stroke="#000" stroke-width="0.6" />
<line x1="73.97" y1="77.80" x2="73.97" y2="79.10" stroke="#000" stroke-width="0.6" />
<line x1="76.32" y1="77.80" x2="76.32" y2="79.10" stroke="#000" stroke-width="0.6" />
<line x1="78.14" y1="77.80" x2="78.14" y2="79.10" stroke="#000" stroke-width="0.6" />
<line x1="79.63" y1="77.80" x2="79.63" y2="79.10" stroke="#000" stroke-width="0.6" />
<line x1="80.89" y1="77.80" x2="80.89" y2="79.10" stroke="#000" stroke-width="0.6" />
<line x1="81.98" y1="77.80" x2="81.98" y2="79.10" stroke="#000" stroke-width="0.6" />
<line x1="82.94" y1="77.80" x2="82.94" y2="79.10" stroke="#000" stroke-width="0.6" />
<text x="83.60" y="90.9" font-size="8.1" text-anchor="middle">10<tspan dy="-5.4" font-size="7">2</tspan></text>
<line x1="83.80" y1="77.80" x2="83.80" y2="80.00" stroke="#000" stroke-width="0.9" />
<line x1="89.46" y1="77.80" x2="89.46" y2="79.10" stroke="#000" stroke-width="0.6" />
<line x1="92.77" y1="77.80" x2="92.77" y2="79.10" stroke="#000" stroke-width="0.6" />
<line x1="95.12" y1="77.80" x2="95.12" y2="79.10" stroke="#000" stroke-width="0.6" />
<line x1="96.94" y1="77.80" x2="96.94" y2="79.10" stroke="#000" stroke-width="0.6" />
<line x1="98.43" y1="77.80" x2="98.43" y2="79.10" stroke="#000" stroke-width="0.6" />
<line x1="99.69" y1="77.80" x2="99.69" y2="79.10" stroke="#000" stroke-width="0.6" />
<line x1="100.78" y1="77.80" x2="100.78" y2="79.10" stroke="#000" stroke-width="0.6" />
<line x1="101.74" y1="77.80" x2="101.74" y2="79.10" stroke="#000" stroke-width="0.6" />
<text x="102.40" y="90.9" font-size="8.1" text-anchor="middle">10<tspan dy="-5.4" font-size="7">3</tspan></text>
<line x1="102.60" y1="77.80" x2="102.60" y2="80.00" stroke="#000" stroke-width="0.9" />
<line x1="108.26" y1="77.80" x2="108.26" y2="79.10" stroke="#000" stroke-width="0.6" />
<line x1="111.57" y1="77.80" x2="111.57" y2="79.10" stroke="#000" stroke-width="0.6" />
<line x1="113.92" y1="77.80" x2="113.92" y2="79.10" stroke="#000" stroke-width="0.6" />
<line x1="115.74" y1="77.80" x2="115.74" y2="79.10" stroke="#000" stroke-width="0.6" />
<line x1="117.23" y1="77.80" x2="117.23" y2="79.10" stroke="#000" stroke-width="0.6" />
<line x1="118.49" y1="77.80" x2="118.49" y2="79.10" stroke="#000" stroke-width="0.6" />
<line x1="119.58" y1="77.80" x2="119.58" y2="79.10" stroke="#000" stroke-width="0.6" />
<line x1="120.54" y1="77.80" x2="120.54" y2="79.10" stroke="#000" stroke-width="0.6" />
<text x="121.20" y="90.9" font-size="8.1" text-anchor="middle">10<tspan dy="-5.4" font-size="7">4</tspan></text>
<line x1="121.40" y1="77.80" x2="121.40" y2="80.00" stroke="#000" stroke-width="0.9" />
<text x="77.69" y="9.60" font-size="8.40" text-anchor="start" >0h</text>
<text x="92.25" y="23.80" font-size="8.60" text-anchor="start" >4.2%</text>
<line x1="54.40" y1="77.80" x2="54.40" y2="106.00" stroke="#000" stroke-width="1" />
<path d="M50.80,104 L58.00,104 L54.40,114.3 Z" fill="#000" />
<path d="M181.4 27.3h1.0v1.0h-1.0zM184.8 31.9h1.0v1.0h-1.0zM167.2 35.0h1.0v1.0h-1.0zM169.9 54.6h1.0v1.0h-1.0zM218.4 54.1h1.0v1.0h-1.0zM176.6 46.7h1.0v1.0h-1.0zM201.9 73.6h1.0v1.0h-1.0zM202.2 31.3h1.0v1.0h-1.0zM215.4 33.8h1.0v1.0h-1.0zM203.6 35.0h1.0v1.0h-1.0zM161.6 59.0h1.0v1.0h-1.0zM173.6 51.2h1.0v1.0h-1.0zM176.4 34.4h1.0v1.0h-1.0zM178.3 38.2h1.0v1.0h-1.0zM219.6 39.6h1.0v1.0h-1.0zM179.4 34.4h1.0v1.0h-1.0zM182.0 47.9h1.0v1.0h-1.0zM219.8 42.9h1.0v1.0h-1.0zM197.8 38.4h1.0v1.0h-1.0zM189.1 36.3h1.0v1.0h-1.0zM175.3 56.4h1.0v1.0h-1.0zM209.6 60.4h1.0v1.0h-1.0zM175.9 52.4h1.0v1.0h-1.0zM211.5 58.5h1.0v1.0h-1.0zM198.3 31.7h1.0v1.0h-1.0zM185.6 43.5h1.0v1.0h-1.0zM186.7 49.0h1.0v1.0h-1.0zM181.9 51.3h1.0v1.0h-1.0zM194.5 76.0h1.0v1.0h-1.0zM181.8 44.6h1.0v1.0h-1.0zM186.2 36.7h1.0v1.0h-1.0zM177.8 56.6h1.0v1.0h-1.0zM197.2 69.0h1.0v1.0h-1.0zM209.6 34.7h1.0v1.0h-1.0zM193.2 38.1h1.0v1.0h-1.0zM208.6 35.7h1.0v1.0h-1.0zM177.7 43.5h1.0v1.0h-1.0zM178.3 52.5h1.0v1.0h-1.0zM165.8 59.6h1.0v1.0h-1.0zM165.4 59.5h1.0v1.0h-1.0zM185.0 40.8h1.0v1.0h-1.0zM197.1 35.4h1.0v1.0h-1.0zM178.3 55.0h1.0v1.0h-1.0zM157.5 60.7h1.0v1.0h-1.0zM188.4 47.5h1.0v1.0h-1.0zM215.1 49.9h1.0v1.0h-1.0zM213.8 36.9h1.0v1.0h-1.0zM181.7 36.6h1.0v1.0h-1.0zM194.5 39.6h1.0v1.0h-1.0zM214.0 50.6h1.0v1.0h-1.0zM190.8 41.5h1.0v1.0h-1.0zM216.2 42.4h1.0v1.0h-1.0zM200.7 39.8h1.0v1.0h-1.0zM198.7 33.9h1.0v1.0h-1.0zM209.2 56.9h1.0v1.0h-1.0zM187.4 45.4h1.0v1.0h-1.0zM187.7 39.0h1.0v1.0h-1.0zM188.7 45.8h1.0v1.0h-1.0zM178.9 42.1h1.0v1.0h-1.0zM201.6 62.9h1.0v1.0h-1.0zM186.6 52.4h1.0v1.0h-1.0zM180.2 61.6h1.0v1.0h-1.0zM192.0 46.1h1.0v1.0h-1.0zM191.7 38.8h1.0v1.0h-1.0zM181.3 42.9h1.0v1.0h-1.0zM173.4 63.5h1.0v1.0h-1.0zM189.4 38.5h1.0v1.0h-1.0zM197.5 74.4h1.0v1.0h-1.0zM197.5 70.8h1.0v1.0h-1.0zM187.4 52.7h1.0v1.0h-1.0zM181.9 53.0h1.0v1.0h-1.0zM190.6 41.0h1.0v1.0h-1.0zM180.8 42.1h1.0v1.0h-1.0zM196.5 74.0h1.0v1.0h-1.0zM190.5 50.8h1.0v1.0h-1.0zM183.9 38.6h1.0v1.0h-1.0zM212.9 37.9h1.0v1.0h-1.0zM197.8 72.1h1.0v1.0h-1.0zM184.2 53.1h1.0v1.0h-1.0zM182.7 38.1h1.0v1.0h-1.0zM202.0 38.7h1.0v1.0h-1.0zM210.1 39.2h1.0v1.0h-1.0zM208.8 55.8h1.0v1.0h-1.0zM210.9 39.5h1.0v1.0h-1.0zM211.8 52.2h1.0v1.0h-1.0zM204.2 38.9h1.0v1.0h-1.0zM183.9 54.4h1.0v1.0h-1.0zM211.9 43.1h1.0v1.0h-1.0zM190.9 76.2h1.0v1.0h-1.0zM155.5 64.0h1.0v1.0h-1.0zM203.2 39.4h1.0v1.0h-1.0zM215.1 43.2h1.0v1.0h-1.0zM182.2 39.9h1.0v1.0h-1.0zM182.5 40.0h1.0v1.0h-1.0zM160.1 63.3h1.0v1.0h-1.0zM160.0 62.7h1.0v1.0h-1.0zM177.4 62.4h1.0v1.0h-1.0zM177.0 61.6h1.0v1.0h-1.0zM177.4 61.6h1.0v1.0h-1.0zM156.2 63.4h1.0v1.0h-1.0z" fill="#ccd5e6" opacity="1.0" filter="url(#soft)"/>
<path d="M157.1 62.9h1.0v1.0h-1.0zM213.5 47.8h1.0v1.0h-1.0zM216.5 45.9h1.0v1.0h-1.0zM195.7 42.0h1.0v1.0h-1.0zM211.1 42.9h1.0v1.0h-1.0zM196.4 65.5h1.0v1.0h-1.0zM183.8 57.2h1.0v1.0h-1.0zM183.2 56.6h1.0v1.0h-1.0zM195.9 41.8h1.0v1.0h-1.0zM200.7 60.7h1.0v1.0h-1.0zM184.0 56.2h1.0v1.0h-1.0zM191.9 75.1h1.0v1.0h-1.0zM193.6 47.3h1.0v1.0h-1.0zM201.2 41.6h1.0v1.0h-1.0zM211.6 49.7h1.0v1.0h-1.0zM211.4 50.5h1.0v1.0h-1.0zM195.0 44.0h1.0v1.0h-1.0zM193.0 72.8h1.0v1.0h-1.0zM193.1 72.7h1.0v1.0h-1.0zM182.7 60.5h1.0v1.0h-1.0zM199.0 63.9h1.0v1.0h-1.0zM195.5 65.8h1.0v1.0h-1.0zM189.9 53.5h1.0v1.0h-1.0zM190.7 53.0h1.0v1.0h-1.0zM193.3 67.4h1.0v1.0h-1.0zM202.5 43.6h1.0v1.0h-1.0zM214.9 43.7h1.0v1.0h-1.0zM203.5 59.6h1.0v1.0h-1.0zM159.0 65.5h1.0v1.0h-1.0zM200.0 60.1h1.0v1.0h-1.0zM192.1 48.7h1.0v1.0h-1.0zM192.3 49.2h1.0v1.0h-1.0zM209.4 40.6h1.0v1.0h-1.0zM201.3 43.1h1.0v1.0h-1.0zM201.4 43.3h1.0v1.0h-1.0zM203.5 41.7h1.0v1.0h-1.0zM204.4 59.6h1.0v1.0h-1.0zM205.1 58.6h1.0v1.0h-1.0zM202.7 45.8h1.0v1.0h-1.0zM156.2 65.3h1.0v1.0h-1.0zM213.1 45.6h1.0v1.0h-1.0zM212.9 46.0h1.0v1.0h-1.0zM205.1 58.0h1.0v1.0h-1.0zM215.3 45.6h1.0v1.0h-1.0zM215.5 45.8h1.0v1.0h-1.0zM160.3 65.3h1.0v1.0h-1.0zM211.6 47.8h1.0v1.0h-1.0zM155.6 66.5h1.0v1.0h-1.0zM155.5 65.8h1.0v1.0h-1.0zM171.7 63.9h1.0v1.0h-1.0zM199.1 43.9h1.0v1.0h-1.0zM196.0 43.2h1.0v1.0h-1.0zM199.2 59.8h1.0v1.0h-1.0zM180.0 64.9h1.0v1.0h-1.0zM186.6 56.3h1.0v1.0h-1.0zM188.0 55.7h1.0v1.0h-1.0zM208.0 41.0h1.0v1.0h-1.0zM170.5 64.0h1.0v1.0h-1.0zM191.9 72.3h1.0v1.0h-1.0zM192.6 72.0h1.0v1.0h-1.0zM184.7 59.2h1.0v1.0h-1.0zM198.5 64.1h1.0v1.0h-1.0zM207.0 41.1h1.0v1.0h-1.0zM166.5 64.9h1.0v1.0h-1.0zM205.2 40.7h1.0v1.0h-1.0zM192.7 52.6h1.0v1.0h-1.0zM214.0 45.2h1.0v1.0h-1.0zM190.4 54.6h1.0v1.0h-1.0zM187.7 55.8h1.0v1.0h-1.0zM207.9 54.0h1.0v1.0h-1.0zM162.5 65.5h1.0v1.0h-1.0zM179.5 65.1h1.0v1.0h-1.0zM179.3 64.7h1.0v1.0h-1.0zM203.7 46.5h1.0v1.0h-1.0zM204.6 58.5h1.0v1.0h-1.0zM204.3 59.0h1.0v1.0h-1.0zM193.2 49.8h1.0v1.0h-1.0zM193.1 49.0h1.0v1.0h-1.0zM195.4 47.4h1.0v1.0h-1.0zM195.7 47.4h1.0v1.0h-1.0zM202.1 57.7h1.0v1.0h-1.0zM163.1 65.1h1.0v1.0h-1.0zM209.1 42.8h1.0v1.0h-1.0zM209.1 42.7h1.0v1.0h-1.0zM167.6 65.3h1.0v1.0h-1.0zM192.2 67.2h1.0v1.0h-1.0zM188.9 75.7h1.0v1.0h-1.0zM198.5 44.0h1.0v1.0h-1.0zM195.6 64.6h1.0v1.0h-1.0zM210.5 47.9h1.0v1.0h-1.0zM201.3 58.0h1.0v1.0h-1.0zM201.0 58.3h1.0v1.0h-1.0zM198.8 62.8h1.0v1.0h-1.0zM198.5 62.8h1.0v1.0h-1.0zM176.8 65.2h1.0v1.0h-1.0zM205.1 55.7h1.0v1.0h-1.0zM155.5 67.2h1.0v1.0h-1.0zM208.0 42.1h1.0v1.0h-1.0zM210.8 46.5h1.0v1.0h-1.0zM191.1 72.3h1.0v1.0h-1.0zM186.5 56.6h1.0v1.0h-1.0zM181.5 65.8h1.0v1.0h-1.0zM197.5 44.2h1.0v1.0h-1.0zM199.4 47.3h1.0v1.0h-1.0zM199.9 46.8h1.0v1.0h-1.0zM209.7 51.9h1.0v1.0h-1.0zM204.3 46.5h1.0v1.0h-1.0zM197.6 61.9h1.0v1.0h-1.0zM185.1 58.8h1.0v1.0h-1.0zM196.8 46.9h1.0v1.0h-1.0zM209.2 45.5h1.0v1.0h-1.0zM209.7 45.4h1.0v1.0h-1.0zM198.2 45.3h1.0v1.0h-1.0zM205.9 42.2h1.0v1.0h-1.0zM205.8 41.9h1.0v1.0h-1.0zM190.9 54.6h1.0v1.0h-1.0zM191.6 55.1h1.0v1.0h-1.0zM197.6 62.5h1.0v1.0h-1.0zM197.3 48.3h1.0v1.0h-1.0zM190.9 68.6h1.0v1.0h-1.0zM195.5 48.7h1.0v1.0h-1.0zM201.9 56.2h1.0v1.0h-1.0zM197.1 44.5h1.0v1.0h-1.0zM197.3 44.8h1.0v1.0h-1.0zM191.8 68.5h1.0v1.0h-1.0zM172.2 65.4h1.0v1.0h-1.0zM187.7 56.9h1.0v1.0h-1.0zM198.7 49.1h1.0v1.0h-1.0zM191.8 66.6h1.0v1.0h-1.0zM183.1 62.1h1.0v1.0h-1.0zM183.2 61.8h1.0v1.0h-1.0zM198.4 46.9h1.0v1.0h-1.0zM200.3 48.5h1.0v1.0h-1.0zM197.6 47.0h1.0v1.0h-1.0zM208.3 52.9h1.0v1.0h-1.0zM208.9 52.9h1.0v1.0h-1.0zM203.4 56.0h1.0v1.0h-1.0zM206.2 53.8h1.0v1.0h-1.0zM205.2 45.2h1.0v1.0h-1.0zM185.7 60.3h1.0v1.0h-1.0zM205.7 55.1h1.0v1.0h-1.0zM155.5 67.9h1.0v1.0h-1.0zM205.3 44.1h1.0v1.0h-1.0zM191.0 65.5h1.0v1.0h-1.0zM205.5 42.7h1.0v1.0h-1.0zM193.7 54.2h1.0v1.0h-1.0zM196.4 63.3h1.0v1.0h-1.0zM201.4 55.8h1.0v1.0h-1.0zM196.3 59.9h1.0v1.0h-1.0zM196.0 60.1h1.0v1.0h-1.0zM184.8 60.6h1.0v1.0h-1.0zM196.8 49.8h1.0v1.0h-1.0zM169.5 64.8h1.0v1.0h-1.0zM195.2 59.8h1.0v1.0h-1.0zM209.2 47.4h1.0v1.0h-1.0zM209.0 46.6h1.0v1.0h-1.0zM193.5 58.6h1.0v1.0h-1.0zM193.9 59.3h1.0v1.0h-1.0zM195.8 50.3h1.0v1.0h-1.0zM195.2 50.1h1.0v1.0h-1.0zM202.9 48.0h1.0v1.0h-1.0zM156.1 67.1h1.0v1.0h-1.0zM192.7 64.7h1.0v1.0h-1.0zM203.2 55.3h1.0v1.0h-1.0zM206.4 43.3h1.0v1.0h-1.0zM205.9 42.8h1.0v1.0h-1.0zM186.1 58.7h1.0v1.0h-1.0zM192.3 56.9h1.0v1.0h-1.0zM192.2 56.7h1.0v1.0h-1.0zM193.4 58.1h1.0v1.0h-1.0zM207.1 44.1h1.0v1.0h-1.0zM197.8 59.2h1.0v1.0h-1.0zM193.8 55.4h1.0v1.0h-1.0zM192.1 56.1h1.0v1.0h-1.0zM192.7 55.7h1.0v1.0h-1.0zM195.5 59.3h1.0v1.0h-1.0zM205.0 46.5h1.0v1.0h-1.0zM160.8 67.3h1.0v1.0h-1.0zM160.2 67.1h1.0v1.0h-1.0zM204.5 55.4h1.0v1.0h-1.0zM204.1 54.6h1.0v1.0h-1.0zM204.7 54.6h1.0v1.0h-1.0zM206.2 45.0h1.0v1.0h-1.0zM158.9 66.6h1.0v1.0h-1.0zM163.5 66.1h1.0v1.0h-1.0zM163.6 66.3h1.0v1.0h-1.0zM208.3 52.5h1.0v1.0h-1.0zM203.2 48.0h1.0v1.0h-1.0zM194.0 57.4h1.0v1.0h-1.0zM186.3 59.7h1.0v1.0h-1.0zM207.4 45.1h1.0v1.0h-1.0zM195.4 62.4h1.0v1.0h-1.0zM196.3 58.5h1.0v1.0h-1.0zM208.0 50.7h1.0v1.0h-1.0zM208.2 50.6h1.0v1.0h-1.0zM194.1 55.7h1.0v1.0h-1.0zM194.4 55.7h1.0v1.0h-1.0zM206.5 53.2h1.0v1.0h-1.0zM208.0 45.7h1.0v1.0h-1.0z" fill="#b2c4e0" opacity="1.0" filter="url(#soft)"/>
<path d="M207.9 48.5h1.0v1.0h-1.0zM202.4 54.0h1.0v1.0h-1.0zM155.5 69.2h1.0v1.0h-1.0zM155.5 69.3h1.0v1.0h-1.0zM177.5 66.4h1.0v1.0h-1.0zM203.9 48.1h1.0v1.0h-1.0zM164.6 65.8h1.0v1.0h-1.0zM195.5 62.9h1.0v1.0h-1.0zM190.6 65.2h1.0v1.0h-1.0zM184.8 61.7h1.0v1.0h-1.0zM207.6 45.6h1.0v1.0h-1.0zM207.8 46.1h1.0v1.0h-1.0zM200.3 49.3h1.0v1.0h-1.0zM200.4 48.6h1.0v1.0h-1.0zM198.8 57.5h1.0v1.0h-1.0zM198.8 58.1h1.0v1.0h-1.0zM184.1 66.0h1.0v1.0h-1.0zM184.1 65.9h1.0v1.0h-1.0zM184.5 66.2h1.0v1.0h-1.0zM196.7 51.0h1.0v1.0h-1.0zM194.3 63.5h1.0v1.0h-1.0zM191.4 58.5h1.0v1.0h-1.0zM191.5 59.2h1.0v1.0h-1.0zM194.6 52.9h1.0v1.0h-1.0zM190.0 68.2h1.0v1.0h-1.0zM193.3 61.2h1.0v1.0h-1.0zM167.8 66.2h1.0v1.0h-1.0zM188.6 64.5h1.0v1.0h-1.0zM188.1 65.0h1.0v1.0h-1.0zM189.2 64.8h1.0v1.0h-1.0zM184.1 63.5h1.0v1.0h-1.0zM183.9 63.6h1.0v1.0h-1.0zM190.2 70.5h1.0v1.0h-1.0zM205.7 48.1h1.0v1.0h-1.0zM188.5 58.3h1.0v1.0h-1.0zM187.9 64.3h1.0v1.0h-1.0zM188.5 65.5h1.0v1.0h-1.0zM186.7 64.6h1.0v1.0h-1.0zM196.1 57.7h1.0v1.0h-1.0zM185.5 62.1h1.0v1.0h-1.0zM184.4 63.0h1.0v1.0h-1.0zM186.9 76.4h1.0v1.0h-1.0zM186.1 75.8h1.0v1.0h-1.0zM192.8 64.2h1.0v1.0h-1.0zM192.5 64.1h1.0v1.0h-1.0zM190.5 63.8h1.0v1.0h-1.0zM190.3 64.1h1.0v1.0h-1.0zM187.1 61.8h1.0v1.0h-1.0zM205.9 53.3h1.0v1.0h-1.0zM207.8 47.7h1.0v1.0h-1.0zM207.9 48.5h1.0v1.0h-1.0zM176.2 66.0h1.0v1.0h-1.0zM185.3 64.6h1.0v1.0h-1.0zM187.0 61.1h1.0v1.0h-1.0zM185.9 62.6h1.0v1.0h-1.0zM190.1 63.1h1.0v1.0h-1.0zM189.3 64.1h1.0v1.0h-1.0zM206.6 47.9h1.0v1.0h-1.0zM155.9 69.6h1.0v1.0h-1.0zM155.5 70.3h1.0v1.0h-1.0zM207.4 50.7h1.0v1.0h-1.0zM207.3 51.1h1.0v1.0h-1.0zM206.0 51.9h1.0v1.0h-1.0zM191.2 59.6h1.0v1.0h-1.0zM191.3 59.8h1.0v1.0h-1.0zM189.9 73.5h1.0v1.0h-1.0zM188.7 63.2h1.0v1.0h-1.0zM184.9 65.6h1.0v1.0h-1.0zM207.7 49.2h1.0v1.0h-1.0zM191.8 62.0h1.0v1.0h-1.0zM207.6 50.2h1.0v1.0h-1.0zM191.4 60.7h1.0v1.0h-1.0zM156.1 67.7h1.0v1.0h-1.0zM156.0 68.0h1.0v1.0h-1.0zM190.6 70.2h1.0v1.0h-1.0zM198.8 50.9h1.0v1.0h-1.0zM199.3 56.7h1.0v1.0h-1.0zM199.2 57.0h1.0v1.0h-1.0zM155.5 72.3h1.0v1.0h-1.0zM155.5 71.9h1.0v1.0h-1.0zM185.6 63.7h1.0v1.0h-1.0zM188.2 61.5h1.0v1.0h-1.0zM188.7 61.6h1.0v1.0h-1.0zM185.4 62.6h1.0v1.0h-1.0zM196.4 57.4h1.0v1.0h-1.0zM185.8 63.4h1.0v1.0h-1.0zM196.7 57.3h1.0v1.0h-1.0zM196.3 56.8h1.0v1.0h-1.0zM155.6 73.1h1.0v1.0h-1.0zM189.7 73.4h1.0v1.0h-1.0zM189.4 62.3h1.0v1.0h-1.0zM189.6 62.3h1.0v1.0h-1.0zM155.5 70.7h1.0v1.0h-1.0zM155.5 70.7h1.0v1.0h-1.0zM155.5 71.2h1.0v1.0h-1.0zM155.6 70.8h1.0v1.0h-1.0zM194.8 63.1h1.0v1.0h-1.0zM194.3 63.1h1.0v1.0h-1.0zM192.7 61.9h1.0v1.0h-1.0zM206.1 48.5h1.0v1.0h-1.0zM206.1 49.4h1.0v1.0h-1.0zM195.7 52.1h1.0v1.0h-1.0zM195.3 52.4h1.0v1.0h-1.0zM195.7 51.7h1.0v1.0h-1.0zM195.2 52.5h1.0v1.0h-1.0zM202.7 49.2h1.0v1.0h-1.0zM188.0 75.3h1.0v1.0h-1.0zM188.0 75.3h1.0v1.0h-1.0zM188.6 74.7h1.0v1.0h-1.0zM193.1 62.3h1.0v1.0h-1.0zM193.5 62.4h1.0v1.0h-1.0zM206.0 49.6h1.0v1.0h-1.0zM195.8 54.3h1.0v1.0h-1.0zM171.1 66.2h1.0v1.0h-1.0zM187.9 67.4h1.0v1.0h-1.0zM161.3 68.0h1.0v1.0h-1.0zM203.1 49.4h1.0v1.0h-1.0zM190.5 60.5h1.0v1.0h-1.0zM175.5 66.0h1.0v1.0h-1.0zM203.8 53.4h1.0v1.0h-1.0zM193.4 63.2h1.0v1.0h-1.0zM193.4 62.8h1.0v1.0h-1.0zM193.7 62.9h1.0v1.0h-1.0zM189.2 58.6h1.0v1.0h-1.0zM189.5 58.6h1.0v1.0h-1.0zM159.9 67.7h1.0v1.0h-1.0zM159.4 68.4h1.0v1.0h-1.0zM188.6 58.7h1.0v1.0h-1.0zM188.7 58.9h1.0v1.0h-1.0zM188.5 58.7h1.0v1.0h-1.0zM188.8 59.4h1.0v1.0h-1.0zM195.1 52.9h1.0v1.0h-1.0zM195.0 52.8h1.0v1.0h-1.0zM172.9 65.8h1.0v1.0h-1.0zM158.2 67.6h1.0v1.0h-1.0zM163.3 67.0h1.0v1.0h-1.0zM198.6 56.7h1.0v1.0h-1.0zM179.9 66.8h1.0v1.0h-1.0zM169.4 66.1h1.0v1.0h-1.0zM169.8 65.7h1.0v1.0h-1.0zM170.0 65.5h1.0v1.0h-1.0zM170.8 66.0h1.0v1.0h-1.0zM187.1 67.1h1.0v1.0h-1.0zM188.5 60.3h1.0v1.0h-1.0zM200.8 50.2h1.0v1.0h-1.0zM174.8 66.4h1.0v1.0h-1.0zM174.7 65.9h1.0v1.0h-1.0zM174.3 66.2h1.0v1.0h-1.0zM184.9 67.4h1.0v1.0h-1.0zM155.5 73.9h1.0v1.0h-1.0zM189.8 60.1h1.0v1.0h-1.0zM189.5 60.4h1.0v1.0h-1.0zM185.7 76.4h1.0v1.0h-1.0zM196.4 53.1h1.0v1.0h-1.0zM179.3 66.6h1.0v1.0h-1.0zM196.7 54.8h1.0v1.0h-1.0zM188.4 73.9h1.0v1.0h-1.0zM187.9 74.1h1.0v1.0h-1.0zM187.9 73.8h1.0v1.0h-1.0zM199.8 55.5h1.0v1.0h-1.0zM198.9 50.9h1.0v1.0h-1.0zM155.5 76.3h1.0v1.0h-1.0zM155.5 76.4h1.0v1.0h-1.0zM178.0 67.3h1.0v1.0h-1.0zM189.0 70.5h1.0v1.0h-1.0zM196.7 53.8h1.0v1.0h-1.0zM204.5 49.5h1.0v1.0h-1.0zM197.3 53.1h1.0v1.0h-1.0zM204.7 52.0h1.0v1.0h-1.0zM204.8 51.5h1.0v1.0h-1.0zM204.9 51.8h1.0v1.0h-1.0zM188.5 73.4h1.0v1.0h-1.0zM165.2 67.1h1.0v1.0h-1.0zM164.9 66.7h1.0v1.0h-1.0zM165.6 67.2h1.0v1.0h-1.0zM155.5 75.0h1.0v1.0h-1.0zM155.5 74.8h1.0v1.0h-1.0zM189.7 69.1h1.0v1.0h-1.0zM189.7 68.8h1.0v1.0h-1.0zM187.3 73.9h1.0v1.0h-1.0zM187.7 73.6h1.0v1.0h-1.0zM186.9 74.2h1.0v1.0h-1.0zM157.2 69.0h1.0v1.0h-1.0zM202.0 50.1h1.0v1.0h-1.0zM188.4 67.8h1.0v1.0h-1.0zM188.3 68.0h1.0v1.0h-1.0zM156.9 70.1h1.0v1.0h-1.0zM189.0 70.4h1.0v1.0h-1.0zM189.6 69.7h1.0v1.0h-1.0zM198.2 56.3h1.0v1.0h-1.0zM203.6 50.4h1.0v1.0h-1.0zM204.3 50.6h1.0v1.0h-1.0zM204.2 50.5h1.0v1.0h-1.0zM204.1 51.0h1.0v1.0h-1.0zM188.7 71.5h1.0v1.0h-1.0zM202.0 51.7h1.0v1.0h-1.0zM200.4 51.0h1.0v1.0h-1.0zM200.9 51.2h1.0v1.0h-1.0zM198.9 54.5h1.0v1.0h-1.0zM199.2 55.0h1.0v1.0h-1.0zM199.8 55.2h1.0v1.0h-1.0zM158.3 68.6h1.0v1.0h-1.0zM158.2 69.3h1.0v1.0h-1.0zM158.3 68.7h1.0v1.0h-1.0zM159.8 68.8h1.0v1.0h-1.0zM183.2 68.4h1.0v1.0h-1.0zM200.5 53.0h1.0v1.0h-1.0zM200.7 53.0h1.0v1.0h-1.0zM197.1 53.8h1.0v1.0h-1.0zM199.8 51.5h1.0v1.0h-1.0zM199.4 52.2h1.0v1.0h-1.0zM199.6 51.7h1.0v1.0h-1.0zM199.2 52.0h1.0v1.0h-1.0zM197.1 54.9h1.0v1.0h-1.0zM197.6 54.7h1.0v1.0h-1.0zM197.3 55.2h1.0v1.0h-1.0zM197.7 54.6h1.0v1.0h-1.0zM201.1 52.1h1.0v1.0h-1.0zM201.8 52.5h1.0v1.0h-1.0zM187.5 67.6h1.0v1.0h-1.0zM187.1 68.2h1.0v1.0h-1.0zM201.1 51.3h1.0v1.0h-1.0zM156.2 70.7h1.0v1.0h-1.0zM186.7 68.2h1.0v1.0h-1.0zM199.8 53.5h1.0v1.0h-1.0zM199.5 54.4h1.0v1.0h-1.0zM199.4 54.5h1.0v1.0h-1.0zM202.0 50.5h1.0v1.0h-1.0zM202.4 51.4h1.0v1.0h-1.0zM203.9 50.7h1.0v1.0h-1.0zM203.1 51.3h1.0v1.0h-1.0zM203.0 51.2h1.0v1.0h-1.0zM203.9 51.5h1.0v1.0h-1.0zM184.9 67.8h1.0v1.0h-1.0zM184.5 76.4h1.0v1.0h-1.0zM199.2 52.9h1.0v1.0h-1.0zM161.8 69.3h1.0v1.0h-1.0zM181.6 67.6h1.0v1.0h-1.0zM181.5 68.3h1.0v1.0h-1.0zM200.2 51.5h1.0v1.0h-1.0zM200.3 51.7h1.0v1.0h-1.0zM198.0 54.9h1.0v1.0h-1.0zM198.3 55.1h1.0v1.0h-1.0zM186.0 72.8h1.0v1.0h-1.0zM198.1 54.0h1.0v1.0h-1.0zM162.9 68.5h1.0v1.0h-1.0zM163.2 67.9h1.0v1.0h-1.0zM185.6 75.1h1.0v1.0h-1.0zM184.9 75.0h1.0v1.0h-1.0zM188.5 70.6h1.0v1.0h-1.0zM188.4 71.1h1.0v1.0h-1.0zM168.4 67.0h1.0v1.0h-1.0zM168.8 66.8h1.0v1.0h-1.0zM188.1 68.8h1.0v1.0h-1.0zM188.3 69.2h1.0v1.0h-1.0z" fill="#86abd8" opacity="1.0" filter="url(#soft)"/>
<path d="M172.4 67.5h1.0v1.0h-1.0zM186.1 71.8h1.0v1.0h-1.0zM169.5 67.1h1.0v1.0h-1.0zM174.5 66.7h1.0v1.0h-1.0zM158.2 70.0h1.0v1.0h-1.0zM158.9 70.2h1.0v1.0h-1.0zM185.1 73.9h1.0v1.0h-1.0zM179.3 67.6h1.0v1.0h-1.0zM179.5 68.5h1.0v1.0h-1.0zM187.0 69.4h1.0v1.0h-1.0zM187.2 69.0h1.0v1.0h-1.0zM187.0 71.3h1.0v1.0h-1.0zM187.2 71.4h1.0v1.0h-1.0zM187.5 71.5h1.0v1.0h-1.0zM187.0 71.3h1.0v1.0h-1.0zM178.6 68.0h1.0v1.0h-1.0zM164.3 68.0h1.0v1.0h-1.0zM157.9 70.8h1.0v1.0h-1.0zM162.9 69.3h1.0v1.0h-1.0zM162.2 69.4h1.0v1.0h-1.0zM185.2 73.1h1.0v1.0h-1.0zM156.5 76.4h1.0v1.0h-1.0zM156.4 76.4h1.0v1.0h-1.0zM156.5 76.4h1.0v1.0h-1.0zM156.0 76.4h1.0v1.0h-1.0zM156.8 75.8h1.0v1.0h-1.0zM156.3 76.4h1.0v1.0h-1.0zM177.0 67.9h1.0v1.0h-1.0zM177.3 68.0h1.0v1.0h-1.0zM159.4 70.0h1.0v1.0h-1.0zM159.8 76.0h1.0v1.0h-1.0zM159.1 76.3h1.0v1.0h-1.0zM159.0 76.4h1.0v1.0h-1.0zM185.4 69.2h1.0v1.0h-1.0zM185.9 69.5h1.0v1.0h-1.0zM187.0 70.5h1.0v1.0h-1.0zM187.9 70.4h1.0v1.0h-1.0zM187.2 69.5h1.0v1.0h-1.0zM183.6 75.5h1.0v1.0h-1.0zM183.9 76.4h1.0v1.0h-1.0zM186.1 71.3h1.0v1.0h-1.0zM186.5 71.2h1.0v1.0h-1.0zM184.7 69.2h1.0v1.0h-1.0zM184.4 69.3h1.0v1.0h-1.0zM184.9 69.1h1.0v1.0h-1.0zM184.5 68.7h1.0v1.0h-1.0zM184.2 68.7h1.0v1.0h-1.0zM183.8 68.6h1.0v1.0h-1.0zM183.1 68.9h1.0v1.0h-1.0zM184.8 75.0h1.0v1.0h-1.0zM184.4 75.1h1.0v1.0h-1.0zM184.0 75.2h1.0v1.0h-1.0zM184.7 75.1h1.0v1.0h-1.0zM182.3 69.0h1.0v1.0h-1.0zM155.9 75.4h1.0v1.0h-1.0zM156.1 74.6h1.0v1.0h-1.0zM157.0 72.1h1.0v1.0h-1.0zM157.4 72.1h1.0v1.0h-1.0zM157.2 76.4h1.0v1.0h-1.0zM157.7 76.3h1.0v1.0h-1.0zM156.9 76.4h1.0v1.0h-1.0zM157.0 75.7h1.0v1.0h-1.0zM157.1 76.4h1.0v1.0h-1.0zM157.3 75.6h1.0v1.0h-1.0zM156.9 76.4h1.0v1.0h-1.0zM156.9 76.4h1.0v1.0h-1.0zM186.0 70.5h1.0v1.0h-1.0zM185.9 69.9h1.0v1.0h-1.0zM176.1 68.3h1.0v1.0h-1.0zM176.5 68.1h1.0v1.0h-1.0zM176.6 67.7h1.0v1.0h-1.0zM185.5 71.0h1.0v1.0h-1.0zM181.4 69.1h1.0v1.0h-1.0zM181.0 69.0h1.0v1.0h-1.0zM181.0 69.1h1.0v1.0h-1.0zM180.9 69.4h1.0v1.0h-1.0zM181.8 68.6h1.0v1.0h-1.0zM157.5 73.4h1.0v1.0h-1.0zM157.1 72.6h1.0v1.0h-1.0zM185.3 69.9h1.0v1.0h-1.0zM185.2 69.7h1.0v1.0h-1.0zM158.8 70.9h1.0v1.0h-1.0zM166.8 68.4h1.0v1.0h-1.0zM166.7 68.1h1.0v1.0h-1.0zM160.2 76.4h1.0v1.0h-1.0zM160.8 76.4h1.0v1.0h-1.0zM160.7 76.1h1.0v1.0h-1.0zM184.4 74.0h1.0v1.0h-1.0zM184.5 74.3h1.0v1.0h-1.0zM157.3 74.4h1.0v1.0h-1.0zM157.1 73.5h1.0v1.0h-1.0zM157.1 74.2h1.0v1.0h-1.0zM157.7 74.5h1.0v1.0h-1.0zM184.7 70.1h1.0v1.0h-1.0zM183.9 69.8h1.0v1.0h-1.0zM184.1 69.9h1.0v1.0h-1.0zM163.3 69.4h1.0v1.0h-1.0zM180.9 69.3h1.0v1.0h-1.0zM157.4 75.0h1.0v1.0h-1.0zM157.0 75.2h1.0v1.0h-1.0zM184.3 72.8h1.0v1.0h-1.0zM184.7 73.4h1.0v1.0h-1.0zM184.9 73.1h1.0v1.0h-1.0zM184.8 71.9h1.0v1.0h-1.0zM184.0 72.2h1.0v1.0h-1.0zM184.7 71.7h1.0v1.0h-1.0zM184.7 71.7h1.0v1.0h-1.0zM175.4 67.8h1.0v1.0h-1.0zM175.2 67.8h1.0v1.0h-1.0zM184.0 71.4h1.0v1.0h-1.0zM179.1 69.1h1.0v1.0h-1.0zM179.2 69.0h1.0v1.0h-1.0zM179.4 69.1h1.0v1.0h-1.0zM166.9 67.5h1.0v1.0h-1.0zM182.6 75.7h1.0v1.0h-1.0zM182.9 76.4h1.0v1.0h-1.0zM182.0 75.5h1.0v1.0h-1.0zM182.2 76.1h1.0v1.0h-1.0zM182.4 76.2h1.0v1.0h-1.0zM183.0 70.1h1.0v1.0h-1.0zM183.8 69.6h1.0v1.0h-1.0zM178.8 69.4h1.0v1.0h-1.0zM178.1 68.6h1.0v1.0h-1.0zM178.0 68.6h1.0v1.0h-1.0zM159.6 71.3h1.0v1.0h-1.0zM159.2 70.6h1.0v1.0h-1.0zM159.0 71.2h1.0v1.0h-1.0zM159.0 70.8h1.0v1.0h-1.0zM157.9 72.1h1.0v1.0h-1.0zM158.2 72.0h1.0v1.0h-1.0zM158.6 72.4h1.0v1.0h-1.0zM158.2 72.3h1.0v1.0h-1.0zM183.5 74.7h1.0v1.0h-1.0zM159.2 74.6h1.0v1.0h-1.0zM174.6 68.1h1.0v1.0h-1.0zM174.2 67.6h1.0v1.0h-1.0zM174.9 67.7h1.0v1.0h-1.0zM174.2 68.1h1.0v1.0h-1.0zM176.9 68.6h1.0v1.0h-1.0zM173.1 68.1h1.0v1.0h-1.0zM173.4 67.9h1.0v1.0h-1.0zM182.1 70.5h1.0v1.0h-1.0zM158.6 73.0h1.0v1.0h-1.0zM158.9 72.7h1.0v1.0h-1.0zM158.3 73.3h1.0v1.0h-1.0zM158.6 73.4h1.0v1.0h-1.0zM172.7 68.5h1.0v1.0h-1.0zM162.7 70.2h1.0v1.0h-1.0zM162.1 69.8h1.0v1.0h-1.0zM182.9 71.0h1.0v1.0h-1.0zM161.4 76.4h1.0v1.0h-1.0zM161.5 76.4h1.0v1.0h-1.0zM161.4 76.2h1.0v1.0h-1.0zM161.6 76.4h1.0v1.0h-1.0zM161.8 76.4h1.0v1.0h-1.0zM164.8 69.4h1.0v1.0h-1.0zM164.9 68.6h1.0v1.0h-1.0zM164.6 69.4h1.0v1.0h-1.0zM183.7 73.9h1.0v1.0h-1.0zM183.9 73.5h1.0v1.0h-1.0zM159.9 71.5h1.0v1.0h-1.0zM159.9 70.7h1.0v1.0h-1.0zM181.3 75.9h1.0v1.0h-1.0zM181.1 75.7h1.0v1.0h-1.0zM181.7 76.1h1.0v1.0h-1.0zM181.3 76.4h1.0v1.0h-1.0zM180.9 75.5h1.0v1.0h-1.0zM181.7 76.0h1.0v1.0h-1.0zM181.2 76.4h1.0v1.0h-1.0zM171.7 68.5h1.0v1.0h-1.0zM171.5 67.9h1.0v1.0h-1.0zM171.6 68.2h1.0v1.0h-1.0z" fill="#5592ca" opacity="1.0" filter="url(#soft)"/>
<path d="M176.1 69.0h1.0v1.0h-1.0zM176.6 69.3h1.0v1.0h-1.0zM183.6 72.0h1.0v1.0h-1.0zM183.8 72.2h1.0v1.0h-1.0zM183.7 73.5h1.0v1.0h-1.0zM183.2 73.0h1.0v1.0h-1.0zM159.2 73.7h1.0v1.0h-1.0zM159.5 74.3h1.0v1.0h-1.0zM159.4 74.0h1.0v1.0h-1.0zM169.2 67.7h1.0v1.0h-1.0zM169.1 67.6h1.0v1.0h-1.0zM160.5 74.7h1.0v1.0h-1.0zM160.0 74.7h1.0v1.0h-1.0zM180.8 70.3h1.0v1.0h-1.0zM180.3 69.7h1.0v1.0h-1.0zM180.6 70.4h1.0v1.0h-1.0zM159.5 71.9h1.0v1.0h-1.0zM179.6 70.3h1.0v1.0h-1.0zM179.3 70.5h1.0v1.0h-1.0zM179.2 69.7h1.0v1.0h-1.0zM179.3 69.8h1.0v1.0h-1.0zM179.8 69.8h1.0v1.0h-1.0zM180.2 75.5h1.0v1.0h-1.0zM180.1 76.4h1.0v1.0h-1.0zM180.7 76.4h1.0v1.0h-1.0zM180.3 76.4h1.0v1.0h-1.0zM180.4 76.1h1.0v1.0h-1.0zM182.7 74.8h1.0v1.0h-1.0zM182.0 75.0h1.0v1.0h-1.0zM182.0 74.9h1.0v1.0h-1.0zM179.2 76.4h1.0v1.0h-1.0zM182.9 70.7h1.0v1.0h-1.0zM181.9 71.1h1.0v1.0h-1.0zM182.8 71.5h1.0v1.0h-1.0zM182.1 71.3h1.0v1.0h-1.0zM159.6 73.4h1.0v1.0h-1.0zM178.6 69.8h1.0v1.0h-1.0zM178.7 76.4h1.0v1.0h-1.0zM178.0 76.4h1.0v1.0h-1.0zM178.5 76.1h1.0v1.0h-1.0zM178.6 76.3h1.0v1.0h-1.0zM178.6 75.7h1.0v1.0h-1.0zM178.2 76.4h1.0v1.0h-1.0zM161.4 71.1h1.0v1.0h-1.0zM161.7 70.6h1.0v1.0h-1.0zM161.0 71.2h1.0v1.0h-1.0zM165.6 68.9h1.0v1.0h-1.0zM175.8 69.1h1.0v1.0h-1.0zM175.0 69.0h1.0v1.0h-1.0zM177.3 76.4h1.0v1.0h-1.0zM177.1 76.2h1.0v1.0h-1.0zM177.9 76.4h1.0v1.0h-1.0zM177.3 76.4h1.0v1.0h-1.0zM163.4 70.5h1.0v1.0h-1.0zM163.3 70.1h1.0v1.0h-1.0zM160.5 74.1h1.0v1.0h-1.0zM160.2 73.5h1.0v1.0h-1.0zM160.4 74.4h1.0v1.0h-1.0zM159.9 74.1h1.0v1.0h-1.0zM182.8 73.7h1.0v1.0h-1.0zM182.4 73.5h1.0v1.0h-1.0zM177.0 70.5h1.0v1.0h-1.0zM181.5 70.6h1.0v1.0h-1.0zM181.1 71.2h1.0v1.0h-1.0zM181.3 71.0h1.0v1.0h-1.0zM162.6 76.4h1.0v1.0h-1.0zM162.8 75.8h1.0v1.0h-1.0zM162.8 76.1h1.0v1.0h-1.0zM162.6 76.3h1.0v1.0h-1.0zM161.9 75.6h1.0v1.0h-1.0zM160.8 72.4h1.0v1.0h-1.0zM160.2 72.3h1.0v1.0h-1.0zM159.9 72.4h1.0v1.0h-1.0zM160.9 71.5h1.0v1.0h-1.0zM182.4 72.5h1.0v1.0h-1.0zM182.5 72.1h1.0v1.0h-1.0zM182.8 71.6h1.0v1.0h-1.0zM182.8 73.2h1.0v1.0h-1.0zM182.6 73.4h1.0v1.0h-1.0zM182.7 72.9h1.0v1.0h-1.0zM161.2 75.3h1.0v1.0h-1.0zM161.5 75.4h1.0v1.0h-1.0zM161.6 75.1h1.0v1.0h-1.0zM174.0 69.5h1.0v1.0h-1.0zM174.5 69.5h1.0v1.0h-1.0zM174.3 68.7h1.0v1.0h-1.0zM174.4 69.4h1.0v1.0h-1.0zM180.5 70.7h1.0v1.0h-1.0zM179.9 70.7h1.0v1.0h-1.0zM160.6 73.1h1.0v1.0h-1.0zM160.1 73.0h1.0v1.0h-1.0zM160.6 73.5h1.0v1.0h-1.0zM160.7 72.8h1.0v1.0h-1.0zM160.5 72.9h1.0v1.0h-1.0zM160.6 72.5h1.0v1.0h-1.0zM166.2 69.3h1.0v1.0h-1.0zM166.0 69.3h1.0v1.0h-1.0zM166.8 68.9h1.0v1.0h-1.0zM166.5 68.9h1.0v1.0h-1.0zM166.4 68.8h1.0v1.0h-1.0zM179.7 70.7h1.0v1.0h-1.0zM176.8 76.1h1.0v1.0h-1.0zM176.6 76.2h1.0v1.0h-1.0zM176.7 76.4h1.0v1.0h-1.0zM175.9 76.4h1.0v1.0h-1.0zM162.3 71.4h1.0v1.0h-1.0zM162.8 71.4h1.0v1.0h-1.0zM162.1 70.9h1.0v1.0h-1.0zM173.0 69.5h1.0v1.0h-1.0zM173.4 68.9h1.0v1.0h-1.0zM172.9 69.5h1.0v1.0h-1.0zM173.0 69.4h1.0v1.0h-1.0zM178.6 71.3h1.0v1.0h-1.0zM178.4 71.1h1.0v1.0h-1.0zM178.2 71.3h1.0v1.0h-1.0zM176.2 69.8h1.0v1.0h-1.0zM176.3 70.1h1.0v1.0h-1.0zM175.9 69.6h1.0v1.0h-1.0zM161.6 72.2h1.0v1.0h-1.0zM161.8 71.8h1.0v1.0h-1.0zM161.2 71.9h1.0v1.0h-1.0zM161.2 72.4h1.0v1.0h-1.0zM161.2 71.9h1.0v1.0h-1.0zM161.7 71.7h1.0v1.0h-1.0zM181.0 72.1h1.0v1.0h-1.0zM181.0 71.9h1.0v1.0h-1.0zM181.5 71.6h1.0v1.0h-1.0zM181.7 71.9h1.0v1.0h-1.0zM181.8 71.6h1.0v1.0h-1.0zM181.6 72.4h1.0v1.0h-1.0zM181.4 72.0h1.0v1.0h-1.0zM181.5 72.0h1.0v1.0h-1.0zM161.2 73.9h1.0v1.0h-1.0zM161.1 73.8h1.0v1.0h-1.0zM161.4 74.3h1.0v1.0h-1.0zM181.1 74.3h1.0v1.0h-1.0zM181.8 73.7h1.0v1.0h-1.0zM181.8 74.2h1.0v1.0h-1.0zM181.4 74.3h1.0v1.0h-1.0zM180.1 75.4h1.0v1.0h-1.0zM180.1 75.0h1.0v1.0h-1.0zM180.1 75.3h1.0v1.0h-1.0zM180.2 75.2h1.0v1.0h-1.0zM180.4 74.6h1.0v1.0h-1.0zM180.9 75.5h1.0v1.0h-1.0zM164.3 69.6h1.0v1.0h-1.0zM164.6 70.4h1.0v1.0h-1.0zM164.4 69.7h1.0v1.0h-1.0zM164.4 69.7h1.0v1.0h-1.0zM171.9 69.2h1.0v1.0h-1.0zM181.3 73.1h1.0v1.0h-1.0zM162.9 76.4h1.0v1.0h-1.0zM163.9 76.4h1.0v1.0h-1.0zM163.4 75.7h1.0v1.0h-1.0zM163.1 76.4h1.0v1.0h-1.0zM163.2 76.4h1.0v1.0h-1.0zM163.2 76.4h1.0v1.0h-1.0zM163.6 76.4h1.0v1.0h-1.0zM163.3 76.4h1.0v1.0h-1.0zM160.9 72.8h1.0v1.0h-1.0zM180.5 72.5h1.0v1.0h-1.0zM180.6 72.1h1.0v1.0h-1.0zM180.3 72.1h1.0v1.0h-1.0zM179.5 75.4h1.0v1.0h-1.0zM179.3 74.6h1.0v1.0h-1.0zM179.0 75.0h1.0v1.0h-1.0zM179.1 75.2h1.0v1.0h-1.0zM179.6 72.5h1.0v1.0h-1.0zM178.9 71.7h1.0v1.0h-1.0zM177.9 71.5h1.0v1.0h-1.0zM177.6 70.8h1.0v1.0h-1.0zM177.5 71.0h1.0v1.0h-1.0zM177.8 71.1h1.0v1.0h-1.0zM177.5 70.9h1.0v1.0h-1.0zM162.5 75.1h1.0v1.0h-1.0zM162.4 75.0h1.0v1.0h-1.0zM161.9 75.3h1.0v1.0h-1.0zM175.6 70.1h1.0v1.0h-1.0zM174.9 70.2h1.0v1.0h-1.0zM175.5 70.2h1.0v1.0h-1.0zM175.3 76.4h1.0v1.0h-1.0zM174.9 76.4h1.0v1.0h-1.0zM174.9 75.7h1.0v1.0h-1.0zM168.2 68.9h1.0v1.0h-1.0zM168.8 69.1h1.0v1.0h-1.0zM168.4 68.9h1.0v1.0h-1.0zM168.1 69.4h1.0v1.0h-1.0zM168.0 68.5h1.0v1.0h-1.0zM168.2 69.1h1.0v1.0h-1.0zM178.2 74.9h1.0v1.0h-1.0zM178.3 75.0h1.0v1.0h-1.0zM178.4 74.8h1.0v1.0h-1.0zM178.4 75.1h1.0v1.0h-1.0zM171.1 68.9h1.0v1.0h-1.0zM171.2 68.9h1.0v1.0h-1.0zM171.7 68.8h1.0v1.0h-1.0zM171.1 68.6h1.0v1.0h-1.0zM170.9 69.0h1.0v1.0h-1.0zM171.3 69.3h1.0v1.0h-1.0zM180.4 74.1h1.0v1.0h-1.0zM180.8 73.7h1.0v1.0h-1.0zM180.2 73.2h1.0v1.0h-1.0zM180.4 72.6h1.0v1.0h-1.0zM180.9 72.5h1.0v1.0h-1.0zM180.2 73.0h1.0v1.0h-1.0zM180.2 73.2h1.0v1.0h-1.0zM180.7 72.7h1.0v1.0h-1.0zM180.4 72.8h1.0v1.0h-1.0zM179.9 72.9h1.0v1.0h-1.0zM163.1 71.2h1.0v1.0h-1.0zM163.0 71.0h1.0v1.0h-1.0zM163.1 70.9h1.0v1.0h-1.0zM162.8 71.9h1.0v1.0h-1.0zM162.5 72.2h1.0v1.0h-1.0zM162.6 71.7h1.0v1.0h-1.0zM161.9 72.1h1.0v1.0h-1.0zM162.8 71.9h1.0v1.0h-1.0zM162.0 71.7h1.0v1.0h-1.0zM178.8 72.1h1.0v1.0h-1.0zM178.5 72.4h1.0v1.0h-1.0zM178.7 71.8h1.0v1.0h-1.0zM178.2 71.9h1.0v1.0h-1.0zM164.2 76.4h1.0v1.0h-1.0zM164.0 76.4h1.0v1.0h-1.0zM164.7 75.9h1.0v1.0h-1.0z" fill="#3f88c2" opacity="1.0" filter="url(#soft)"/>
<path d="M164.9 69.7h1.0v1.0h-1.0zM169.0 69.2h1.0v1.0h-1.0zM169.7 68.9h1.0v1.0h-1.0zM169.5 69.1h1.0v1.0h-1.0zM179.9 72.9h1.0v1.0h-1.0zM179.2 73.4h1.0v1.0h-1.0zM179.4 72.9h1.0v1.0h-1.0zM170.3 68.8h1.0v1.0h-1.0zM170.7 68.6h1.0v1.0h-1.0zM170.0 69.1h1.0v1.0h-1.0zM170.1 68.9h1.0v1.0h-1.0zM170.5 69.2h1.0v1.0h-1.0zM170.3 68.7h1.0v1.0h-1.0zM177.3 74.8h1.0v1.0h-1.0zM177.3 74.5h1.0v1.0h-1.0zM179.5 74.4h1.0v1.0h-1.0zM179.1 74.0h1.0v1.0h-1.0zM179.4 73.5h1.0v1.0h-1.0zM179.3 74.0h1.0v1.0h-1.0zM179.8 73.9h1.0v1.0h-1.0zM162.5 72.6h1.0v1.0h-1.0zM162.6 72.6h1.0v1.0h-1.0zM174.5 69.8h1.0v1.0h-1.0zM174.1 70.2h1.0v1.0h-1.0zM173.9 69.9h1.0v1.0h-1.0zM174.8 69.8h1.0v1.0h-1.0zM165.7 76.1h1.0v1.0h-1.0zM165.9 76.3h1.0v1.0h-1.0zM165.7 76.4h1.0v1.0h-1.0zM165.7 76.4h1.0v1.0h-1.0zM165.6 76.4h1.0v1.0h-1.0zM165.7 76.4h1.0v1.0h-1.0zM164.9 76.4h1.0v1.0h-1.0zM165.5 76.1h1.0v1.0h-1.0zM165.1 75.8h1.0v1.0h-1.0zM176.1 71.0h1.0v1.0h-1.0zM175.9 70.5h1.0v1.0h-1.0zM176.0 71.3h1.0v1.0h-1.0zM176.7 71.1h1.0v1.0h-1.0zM176.1 71.0h1.0v1.0h-1.0zM166.9 75.6h1.0v1.0h-1.0zM166.7 76.4h1.0v1.0h-1.0zM166.7 76.1h1.0v1.0h-1.0zM166.1 76.4h1.0v1.0h-1.0zM166.2 76.4h1.0v1.0h-1.0zM166.2 76.1h1.0v1.0h-1.0zM166.7 76.1h1.0v1.0h-1.0zM166.0 76.4h1.0v1.0h-1.0zM178.2 73.2h1.0v1.0h-1.0zM178.8 72.9h1.0v1.0h-1.0zM178.2 73.4h1.0v1.0h-1.0zM178.0 72.9h1.0v1.0h-1.0zM178.1 73.3h1.0v1.0h-1.0zM178.1 73.7h1.0v1.0h-1.0zM178.1 74.1h1.0v1.0h-1.0zM178.2 73.6h1.0v1.0h-1.0zM176.9 72.1h1.0v1.0h-1.0zM177.0 72.4h1.0v1.0h-1.0zM173.7 70.3h1.0v1.0h-1.0zM173.3 69.8h1.0v1.0h-1.0zM164.3 71.5h1.0v1.0h-1.0zM164.2 71.3h1.0v1.0h-1.0zM164.7 71.2h1.0v1.0h-1.0zM164.3 70.9h1.0v1.0h-1.0zM164.7 70.8h1.0v1.0h-1.0zM164.3 71.3h1.0v1.0h-1.0zM164.1 70.7h1.0v1.0h-1.0zM176.1 74.7h1.0v1.0h-1.0zM176.0 75.1h1.0v1.0h-1.0zM176.7 74.6h1.0v1.0h-1.0zM165.9 70.0h1.0v1.0h-1.0zM166.8 70.1h1.0v1.0h-1.0zM166.5 69.6h1.0v1.0h-1.0zM165.9 69.8h1.0v1.0h-1.0zM163.0 74.6h1.0v1.0h-1.0zM163.8 74.9h1.0v1.0h-1.0zM163.9 75.1h1.0v1.0h-1.0zM163.6 75.4h1.0v1.0h-1.0zM163.6 75.1h1.0v1.0h-1.0zM163.8 72.2h1.0v1.0h-1.0zM163.5 71.7h1.0v1.0h-1.0zM167.5 76.4h1.0v1.0h-1.0zM167.2 75.8h1.0v1.0h-1.0zM167.3 76.4h1.0v1.0h-1.0zM167.3 75.9h1.0v1.0h-1.0zM167.0 75.8h1.0v1.0h-1.0zM167.5 76.4h1.0v1.0h-1.0zM167.0 75.9h1.0v1.0h-1.0zM167.1 76.4h1.0v1.0h-1.0zM167.2 76.4h1.0v1.0h-1.0zM167.7 76.4h1.0v1.0h-1.0zM174.1 76.4h1.0v1.0h-1.0zM174.7 76.4h1.0v1.0h-1.0zM174.8 76.4h1.0v1.0h-1.0zM174.2 75.9h1.0v1.0h-1.0zM174.8 76.4h1.0v1.0h-1.0zM174.3 76.2h1.0v1.0h-1.0zM174.7 76.4h1.0v1.0h-1.0zM174.8 75.9h1.0v1.0h-1.0zM174.1 75.9h1.0v1.0h-1.0zM174.4 76.4h1.0v1.0h-1.0zM174.3 76.4h1.0v1.0h-1.0zM177.7 74.3h1.0v1.0h-1.0zM177.0 73.9h1.0v1.0h-1.0zM177.3 74.0h1.0v1.0h-1.0zM177.3 74.4h1.0v1.0h-1.0zM177.4 73.8h1.0v1.0h-1.0zM175.8 71.0h1.0v1.0h-1.0zM175.5 70.9h1.0v1.0h-1.0zM175.1 71.3h1.0v1.0h-1.0zM175.5 71.3h1.0v1.0h-1.0zM177.5 72.9h1.0v1.0h-1.0zM177.4 73.4h1.0v1.0h-1.0zM177.2 72.6h1.0v1.0h-1.0zM177.3 72.9h1.0v1.0h-1.0zM177.7 73.1h1.0v1.0h-1.0zM177.7 72.8h1.0v1.0h-1.0zM176.9 73.0h1.0v1.0h-1.0zM163.5 72.7h1.0v1.0h-1.0zM163.4 72.6h1.0v1.0h-1.0zM163.8 72.9h1.0v1.0h-1.0zM163.6 73.3h1.0v1.0h-1.0zM163.2 72.9h1.0v1.0h-1.0zM163.2 72.7h1.0v1.0h-1.0zM163.0 73.1h1.0v1.0h-1.0zM163.8 72.8h1.0v1.0h-1.0zM163.5 74.0h1.0v1.0h-1.0zM163.7 74.3h1.0v1.0h-1.0zM163.0 73.7h1.0v1.0h-1.0zM163.8 74.1h1.0v1.0h-1.0zM172.7 70.3h1.0v1.0h-1.0zM172.5 69.8h1.0v1.0h-1.0zM167.0 70.1h1.0v1.0h-1.0zM167.9 70.1h1.0v1.0h-1.0zM167.8 70.2h1.0v1.0h-1.0zM167.8 69.6h1.0v1.0h-1.0zM167.2 70.1h1.0v1.0h-1.0zM167.3 69.8h1.0v1.0h-1.0zM176.9 72.0h1.0v1.0h-1.0zM176.9 72.1h1.0v1.0h-1.0zM176.8 72.1h1.0v1.0h-1.0zM176.4 72.0h1.0v1.0h-1.0zM168.6 76.3h1.0v1.0h-1.0zM168.2 76.4h1.0v1.0h-1.0zM168.1 76.4h1.0v1.0h-1.0zM168.6 76.4h1.0v1.0h-1.0zM168.4 76.0h1.0v1.0h-1.0zM168.6 76.4h1.0v1.0h-1.0zM168.3 76.0h1.0v1.0h-1.0zM168.5 76.4h1.0v1.0h-1.0zM168.8 76.2h1.0v1.0h-1.0zM164.5 75.2h1.0v1.0h-1.0zM164.0 75.4h1.0v1.0h-1.0zM164.1 75.0h1.0v1.0h-1.0zM164.3 75.2h1.0v1.0h-1.0zM164.2 74.8h1.0v1.0h-1.0zM164.3 74.8h1.0v1.0h-1.0zM164.8 74.6h1.0v1.0h-1.0zM164.6 75.1h1.0v1.0h-1.0zM164.7 74.8h1.0v1.0h-1.0zM164.4 75.2h1.0v1.0h-1.0zM165.0 70.7h1.0v1.0h-1.0zM165.7 70.7h1.0v1.0h-1.0zM165.3 70.5h1.0v1.0h-1.0zM165.1 71.2h1.0v1.0h-1.0zM165.1 71.5h1.0v1.0h-1.0zM165.2 70.8h1.0v1.0h-1.0zM165.2 71.2h1.0v1.0h-1.0zM165.0 71.0h1.0v1.0h-1.0zM165.0 70.6h1.0v1.0h-1.0zM175.7 75.1h1.0v1.0h-1.0zM175.1 74.9h1.0v1.0h-1.0zM175.2 74.8h1.0v1.0h-1.0zM164.4 72.1h1.0v1.0h-1.0zM164.8 71.5h1.0v1.0h-1.0zM164.6 72.3h1.0v1.0h-1.0zM176.3 73.9h1.0v1.0h-1.0zM176.6 74.1h1.0v1.0h-1.0zM176.2 73.6h1.0v1.0h-1.0zM176.3 74.5h1.0v1.0h-1.0zM176.1 73.9h1.0v1.0h-1.0zM176.2 73.9h1.0v1.0h-1.0zM176.5 73.7h1.0v1.0h-1.0zM176.6 73.7h1.0v1.0h-1.0zM176.9 74.0h1.0v1.0h-1.0zM176.1 74.2h1.0v1.0h-1.0zM176.8 73.6h1.0v1.0h-1.0zM165.8 74.7h1.0v1.0h-1.0zM165.0 74.6h1.0v1.0h-1.0zM165.9 75.2h1.0v1.0h-1.0zM165.8 74.6h1.0v1.0h-1.0zM171.3 69.7h1.0v1.0h-1.0zM171.3 70.4h1.0v1.0h-1.0zM171.8 70.3h1.0v1.0h-1.0zM171.1 70.2h1.0v1.0h-1.0zM171.0 70.1h1.0v1.0h-1.0zM171.3 69.7h1.0v1.0h-1.0zM171.0 69.7h1.0v1.0h-1.0zM168.1 70.4h1.0v1.0h-1.0zM167.9 70.2h1.0v1.0h-1.0zM168.7 70.4h1.0v1.0h-1.0zM168.0 70.4h1.0v1.0h-1.0zM174.0 70.9h1.0v1.0h-1.0zM174.8 70.9h1.0v1.0h-1.0zM174.3 71.1h1.0v1.0h-1.0zM174.6 71.1h1.0v1.0h-1.0zM174.0 71.3h1.0v1.0h-1.0zM176.7 73.2h1.0v1.0h-1.0zM176.2 73.4h1.0v1.0h-1.0zM176.0 72.6h1.0v1.0h-1.0zM176.4 73.5h1.0v1.0h-1.0z" fill="#3b9db0" opacity="1.0" filter="url(#soft)"/>
<path d="M166.2 75.2h1.0v1.0h-1.0zM166.1 74.5h1.0v1.0h-1.0zM169.4 76.4h1.0v1.0h-1.0zM168.9 76.4h1.0v1.0h-1.0zM169.3 76.4h1.0v1.0h-1.0zM169.6 76.4h1.0v1.0h-1.0zM169.4 75.7h1.0v1.0h-1.0zM169.8 76.4h1.0v1.0h-1.0zM169.8 76.1h1.0v1.0h-1.0zM169.0 76.4h1.0v1.0h-1.0zM169.4 76.4h1.0v1.0h-1.0zM169.3 76.2h1.0v1.0h-1.0zM169.8 76.1h1.0v1.0h-1.0zM169.2 75.6h1.0v1.0h-1.0zM164.2 73.3h1.0v1.0h-1.0zM164.0 73.4h1.0v1.0h-1.0zM164.4 72.6h1.0v1.0h-1.0zM163.9 72.5h1.0v1.0h-1.0zM163.9 73.3h1.0v1.0h-1.0zM164.1 72.8h1.0v1.0h-1.0zM164.1 72.9h1.0v1.0h-1.0zM164.1 73.4h1.0v1.0h-1.0zM164.0 73.3h1.0v1.0h-1.0zM164.6 73.0h1.0v1.0h-1.0zM164.7 73.4h1.0v1.0h-1.0zM164.4 74.4h1.0v1.0h-1.0zM164.7 74.2h1.0v1.0h-1.0zM164.8 74.4h1.0v1.0h-1.0zM164.6 73.8h1.0v1.0h-1.0zM164.2 74.1h1.0v1.0h-1.0zM169.3 69.7h1.0v1.0h-1.0zM169.6 70.5h1.0v1.0h-1.0zM169.8 70.1h1.0v1.0h-1.0zM169.8 70.2h1.0v1.0h-1.0zM169.4 70.1h1.0v1.0h-1.0zM169.0 69.9h1.0v1.0h-1.0zM169.9 70.1h1.0v1.0h-1.0zM170.1 70.3h1.0v1.0h-1.0zM170.2 70.4h1.0v1.0h-1.0zM170.8 69.8h1.0v1.0h-1.0zM170.0 70.2h1.0v1.0h-1.0zM170.7 70.4h1.0v1.0h-1.0zM166.2 70.7h1.0v1.0h-1.0zM166.7 70.8h1.0v1.0h-1.0zM166.8 70.7h1.0v1.0h-1.0zM166.3 70.6h1.0v1.0h-1.0zM166.1 71.3h1.0v1.0h-1.0zM166.1 71.1h1.0v1.0h-1.0zM166.9 71.3h1.0v1.0h-1.0zM173.7 75.9h1.0v1.0h-1.0zM173.0 75.8h1.0v1.0h-1.0zM173.4 75.6h1.0v1.0h-1.0zM173.8 75.8h1.0v1.0h-1.0zM173.7 76.4h1.0v1.0h-1.0zM173.1 75.5h1.0v1.0h-1.0zM173.2 76.4h1.0v1.0h-1.0zM173.1 76.4h1.0v1.0h-1.0zM173.5 75.7h1.0v1.0h-1.0zM173.0 76.4h1.0v1.0h-1.0zM175.4 71.6h1.0v1.0h-1.0zM175.4 71.7h1.0v1.0h-1.0zM175.8 72.4h1.0v1.0h-1.0zM175.6 71.5h1.0v1.0h-1.0zM175.9 72.1h1.0v1.0h-1.0zM175.6 71.6h1.0v1.0h-1.0zM175.2 72.2h1.0v1.0h-1.0zM165.7 71.9h1.0v1.0h-1.0zM165.1 71.9h1.0v1.0h-1.0zM165.3 71.9h1.0v1.0h-1.0zM165.3 72.3h1.0v1.0h-1.0zM165.7 71.8h1.0v1.0h-1.0zM167.3 74.8h1.0v1.0h-1.0zM167.7 75.4h1.0v1.0h-1.0zM165.2 73.7h1.0v1.0h-1.0zM165.3 73.8h1.0v1.0h-1.0zM165.5 73.7h1.0v1.0h-1.0zM165.3 73.7h1.0v1.0h-1.0zM165.3 73.9h1.0v1.0h-1.0zM165.4 73.7h1.0v1.0h-1.0zM165.1 74.2h1.0v1.0h-1.0zM173.2 70.6h1.0v1.0h-1.0zM173.8 71.1h1.0v1.0h-1.0zM173.5 71.0h1.0v1.0h-1.0zM173.6 70.8h1.0v1.0h-1.0zM165.8 73.2h1.0v1.0h-1.0zM165.0 72.7h1.0v1.0h-1.0zM165.5 73.4h1.0v1.0h-1.0zM175.4 73.9h1.0v1.0h-1.0zM175.3 73.6h1.0v1.0h-1.0zM175.4 74.3h1.0v1.0h-1.0zM175.4 74.5h1.0v1.0h-1.0zM175.5 73.7h1.0v1.0h-1.0zM175.3 73.7h1.0v1.0h-1.0zM170.1 76.4h1.0v1.0h-1.0zM170.7 76.4h1.0v1.0h-1.0zM170.1 76.3h1.0v1.0h-1.0zM170.9 76.4h1.0v1.0h-1.0zM170.8 75.6h1.0v1.0h-1.0zM170.0 75.6h1.0v1.0h-1.0zM170.2 75.7h1.0v1.0h-1.0zM170.4 76.4h1.0v1.0h-1.0zM170.2 76.4h1.0v1.0h-1.0zM174.1 75.3h1.0v1.0h-1.0zM174.3 74.8h1.0v1.0h-1.0zM174.7 74.7h1.0v1.0h-1.0zM174.0 75.2h1.0v1.0h-1.0zM174.3 74.6h1.0v1.0h-1.0zM166.7 74.5h1.0v1.0h-1.0zM166.2 74.2h1.0v1.0h-1.0zM166.3 73.6h1.0v1.0h-1.0zM166.2 73.6h1.0v1.0h-1.0zM167.0 71.4h1.0v1.0h-1.0zM167.8 71.4h1.0v1.0h-1.0zM167.5 71.2h1.0v1.0h-1.0zM167.0 71.0h1.0v1.0h-1.0zM167.3 71.0h1.0v1.0h-1.0zM167.5 71.1h1.0v1.0h-1.0zM167.5 70.9h1.0v1.0h-1.0zM175.7 72.9h1.0v1.0h-1.0zM175.4 72.9h1.0v1.0h-1.0zM175.3 72.8h1.0v1.0h-1.0zM175.8 72.9h1.0v1.0h-1.0zM175.8 73.5h1.0v1.0h-1.0zM175.5 73.5h1.0v1.0h-1.0zM175.6 72.9h1.0v1.0h-1.0zM166.8 71.9h1.0v1.0h-1.0zM166.7 71.9h1.0v1.0h-1.0zM166.2 71.7h1.0v1.0h-1.0zM166.0 71.9h1.0v1.0h-1.0zM166.1 72.1h1.0v1.0h-1.0zM172.3 75.6h1.0v1.0h-1.0zM172.5 76.4h1.0v1.0h-1.0zM171.9 76.4h1.0v1.0h-1.0zM172.4 75.8h1.0v1.0h-1.0zM172.7 76.4h1.0v1.0h-1.0zM172.1 76.4h1.0v1.0h-1.0zM172.4 75.9h1.0v1.0h-1.0zM172.0 76.4h1.0v1.0h-1.0zM172.7 76.1h1.0v1.0h-1.0zM172.9 76.4h1.0v1.0h-1.0zM172.2 76.4h1.0v1.0h-1.0zM172.3 75.7h1.0v1.0h-1.0zM166.0 72.6h1.0v1.0h-1.0zM166.3 73.1h1.0v1.0h-1.0zM166.1 72.6h1.0v1.0h-1.0zM166.7 73.3h1.0v1.0h-1.0zM166.0 72.9h1.0v1.0h-1.0zM166.6 73.0h1.0v1.0h-1.0zM166.6 72.6h1.0v1.0h-1.0zM168.3 74.6h1.0v1.0h-1.0zM168.2 75.1h1.0v1.0h-1.0zM168.5 75.4h1.0v1.0h-1.0zM168.5 75.1h1.0v1.0h-1.0zM168.2 74.7h1.0v1.0h-1.0zM168.4 75.1h1.0v1.0h-1.0zM174.1 71.5h1.0v1.0h-1.0zM174.1 71.6h1.0v1.0h-1.0zM173.9 72.1h1.0v1.0h-1.0zM174.6 71.6h1.0v1.0h-1.0zM174.2 71.9h1.0v1.0h-1.0zM174.3 71.9h1.0v1.0h-1.0zM174.8 71.8h1.0v1.0h-1.0zM174.8 72.4h1.0v1.0h-1.0zM171.0 76.0h1.0v1.0h-1.0zM170.9 76.3h1.0v1.0h-1.0zM171.1 75.8h1.0v1.0h-1.0zM171.1 76.4h1.0v1.0h-1.0zM171.0 76.4h1.0v1.0h-1.0zM171.1 76.1h1.0v1.0h-1.0zM171.1 75.7h1.0v1.0h-1.0zM171.6 76.1h1.0v1.0h-1.0zM171.0 76.4h1.0v1.0h-1.0zM171.7 75.7h1.0v1.0h-1.0zM171.7 76.4h1.0v1.0h-1.0zM171.4 75.5h1.0v1.0h-1.0zM171.7 76.4h1.0v1.0h-1.0zM171.2 76.2h1.0v1.0h-1.0zM171.9 76.3h1.0v1.0h-1.0zM171.6 76.4h1.0v1.0h-1.0zM172.4 71.1h1.0v1.0h-1.0zM171.9 71.1h1.0v1.0h-1.0zM172.7 71.1h1.0v1.0h-1.0zM172.7 70.6h1.0v1.0h-1.0zM172.6 70.8h1.0v1.0h-1.0zM172.5 71.0h1.0v1.0h-1.0zM167.1 74.3h1.0v1.0h-1.0zM167.6 73.6h1.0v1.0h-1.0zM167.4 74.4h1.0v1.0h-1.0zM167.9 74.5h1.0v1.0h-1.0zM167.5 74.4h1.0v1.0h-1.0zM167.3 73.5h1.0v1.0h-1.0zM167.4 74.1h1.0v1.0h-1.0zM167.7 73.6h1.0v1.0h-1.0zM167.1 73.6h1.0v1.0h-1.0zM167.4 74.1h1.0v1.0h-1.0zM168.9 70.5h1.0v1.0h-1.0zM168.8 70.8h1.0v1.0h-1.0zM168.6 71.3h1.0v1.0h-1.0zM168.8 71.4h1.0v1.0h-1.0zM168.7 71.0h1.0v1.0h-1.0zM167.9 71.2h1.0v1.0h-1.0zM168.2 71.5h1.0v1.0h-1.0zM168.0 70.7h1.0v1.0h-1.0zM168.3 71.1h1.0v1.0h-1.0zM167.9 72.2h1.0v1.0h-1.0zM167.0 72.1h1.0v1.0h-1.0zM167.5 72.1h1.0v1.0h-1.0zM167.6 71.9h1.0v1.0h-1.0zM167.0 72.0h1.0v1.0h-1.0zM167.2 71.8h1.0v1.0h-1.0zM167.5 71.6h1.0v1.0h-1.0zM167.6 73.0h1.0v1.0h-1.0zM167.7 72.6h1.0v1.0h-1.0zM167.7 73.0h1.0v1.0h-1.0zM167.4 73.1h1.0v1.0h-1.0zM167.7 72.8h1.0v1.0h-1.0zM167.5 73.5h1.0v1.0h-1.0zM167.9 73.3h1.0v1.0h-1.0zM174.7 74.1h1.0v1.0h-1.0zM174.5 73.6h1.0v1.0h-1.0zM174.5 73.7h1.0v1.0h-1.0zM174.0 73.5h1.0v1.0h-1.0zM174.1 74.0h1.0v1.0h-1.0zM171.5 71.2h1.0v1.0h-1.0zM171.8 71.1h1.0v1.0h-1.0zM171.1 71.3h1.0v1.0h-1.0zM171.5 71.0h1.0v1.0h-1.0zM171.6 71.2h1.0v1.0h-1.0zM169.2 71.2h1.0v1.0h-1.0zM169.0 71.0h1.0v1.0h-1.0zM169.0 70.8h1.0v1.0h-1.0zM169.6 71.2h1.0v1.0h-1.0zM169.6 71.0h1.0v1.0h-1.0zM169.0 71.4h1.0v1.0h-1.0zM169.6 70.9h1.0v1.0h-1.0zM169.3 71.3h1.0v1.0h-1.0zM168.9 75.2h1.0v1.0h-1.0zM169.7 75.1h1.0v1.0h-1.0zM169.4 75.2h1.0v1.0h-1.0zM169.6 75.0h1.0v1.0h-1.0zM169.5 74.8h1.0v1.0h-1.0zM169.0 74.8h1.0v1.0h-1.0zM169.6 74.7h1.0v1.0h-1.0zM169.9 74.6h1.0v1.0h-1.0zM174.6 73.4h1.0v1.0h-1.0zM174.1 73.0h1.0v1.0h-1.0zM174.3 72.6h1.0v1.0h-1.0zM174.6 73.4h1.0v1.0h-1.0zM174.8 72.5h1.0v1.0h-1.0zM174.3 72.8h1.0v1.0h-1.0zM174.4 72.8h1.0v1.0h-1.0zM170.9 70.9h1.0v1.0h-1.0zM170.3 70.6h1.0v1.0h-1.0zM170.3 71.1h1.0v1.0h-1.0zM170.1 70.8h1.0v1.0h-1.0zM170.9 71.3h1.0v1.0h-1.0z" fill="#4db47c" opacity="1.0" filter="url(#soft)"/>
<path d="M168.6 74.1h1.0v1.0h-1.0zM168.8 74.5h1.0v1.0h-1.0zM168.0 74.3h1.0v1.0h-1.0zM168.1 73.8h1.0v1.0h-1.0zM168.9 74.0h1.0v1.0h-1.0zM168.1 74.3h1.0v1.0h-1.0zM173.5 75.1h1.0v1.0h-1.0zM173.3 75.0h1.0v1.0h-1.0zM173.1 75.4h1.0v1.0h-1.0zM173.7 75.4h1.0v1.0h-1.0zM173.5 75.2h1.0v1.0h-1.0zM173.0 71.7h1.0v1.0h-1.0zM173.1 72.4h1.0v1.0h-1.0zM173.1 71.6h1.0v1.0h-1.0zM173.0 72.2h1.0v1.0h-1.0zM173.0 72.1h1.0v1.0h-1.0zM173.7 72.1h1.0v1.0h-1.0zM173.5 72.3h1.0v1.0h-1.0zM168.0 72.1h1.0v1.0h-1.0zM168.9 71.7h1.0v1.0h-1.0zM168.9 71.9h1.0v1.0h-1.0zM168.7 71.6h1.0v1.0h-1.0zM168.9 71.7h1.0v1.0h-1.0zM168.6 72.3h1.0v1.0h-1.0zM168.4 73.2h1.0v1.0h-1.0zM168.7 73.2h1.0v1.0h-1.0zM168.6 72.6h1.0v1.0h-1.0zM168.0 72.6h1.0v1.0h-1.0zM168.5 72.9h1.0v1.0h-1.0zM168.7 72.7h1.0v1.0h-1.0zM168.3 72.8h1.0v1.0h-1.0zM170.9 75.2h1.0v1.0h-1.0zM170.0 74.9h1.0v1.0h-1.0zM170.2 75.5h1.0v1.0h-1.0zM170.8 74.8h1.0v1.0h-1.0zM169.5 74.3h1.0v1.0h-1.0zM169.5 74.2h1.0v1.0h-1.0zM169.5 71.6h1.0v1.0h-1.0zM169.8 72.4h1.0v1.0h-1.0zM169.3 72.2h1.0v1.0h-1.0zM169.8 71.9h1.0v1.0h-1.0zM169.8 71.9h1.0v1.0h-1.0zM169.4 71.6h1.0v1.0h-1.0zM169.2 72.3h1.0v1.0h-1.0zM169.1 72.0h1.0v1.0h-1.0zM172.8 71.6h1.0v1.0h-1.0zM172.2 72.0h1.0v1.0h-1.0zM172.7 71.9h1.0v1.0h-1.0zM172.0 71.8h1.0v1.0h-1.0zM172.0 72.5h1.0v1.0h-1.0zM172.5 71.9h1.0v1.0h-1.0zM172.3 72.2h1.0v1.0h-1.0zM172.0 72.5h1.0v1.0h-1.0zM172.4 71.5h1.0v1.0h-1.0zM172.2 72.4h1.0v1.0h-1.0zM172.7 72.1h1.0v1.0h-1.0zM172.4 71.5h1.0v1.0h-1.0zM172.4 71.8h1.0v1.0h-1.0zM172.1 72.1h1.0v1.0h-1.0zM172.3 72.3h1.0v1.0h-1.0zM173.9 74.4h1.0v1.0h-1.0zM173.6 73.9h1.0v1.0h-1.0zM173.4 74.0h1.0v1.0h-1.0zM173.0 73.7h1.0v1.0h-1.0zM172.9 73.9h1.0v1.0h-1.0zM173.0 74.3h1.0v1.0h-1.0zM173.8 73.6h1.0v1.0h-1.0zM173.5 74.1h1.0v1.0h-1.0zM173.8 73.4h1.0v1.0h-1.0zM173.6 73.3h1.0v1.0h-1.0zM173.6 73.2h1.0v1.0h-1.0zM173.8 72.7h1.0v1.0h-1.0zM173.6 73.3h1.0v1.0h-1.0zM173.5 72.7h1.0v1.0h-1.0zM173.5 72.8h1.0v1.0h-1.0zM173.3 73.3h1.0v1.0h-1.0zM173.4 72.7h1.0v1.0h-1.0zM173.2 72.7h1.0v1.0h-1.0zM169.4 72.8h1.0v1.0h-1.0zM169.1 72.9h1.0v1.0h-1.0zM169.8 73.1h1.0v1.0h-1.0zM169.6 72.9h1.0v1.0h-1.0zM169.0 72.9h1.0v1.0h-1.0zM169.2 73.1h1.0v1.0h-1.0zM169.7 73.4h1.0v1.0h-1.0zM169.5 72.8h1.0v1.0h-1.0zM169.3 73.5h1.0v1.0h-1.0zM169.9 73.2h1.0v1.0h-1.0zM169.2 72.7h1.0v1.0h-1.0zM169.1 73.2h1.0v1.0h-1.0zM169.7 72.7h1.0v1.0h-1.0zM169.8 72.6h1.0v1.0h-1.0zM172.8 75.3h1.0v1.0h-1.0zM172.6 74.6h1.0v1.0h-1.0zM171.9 75.0h1.0v1.0h-1.0zM172.4 75.1h1.0v1.0h-1.0zM172.9 75.4h1.0v1.0h-1.0zM172.8 75.0h1.0v1.0h-1.0zM172.8 75.1h1.0v1.0h-1.0zM172.7 74.6h1.0v1.0h-1.0zM172.9 74.8h1.0v1.0h-1.0zM172.6 75.1h1.0v1.0h-1.0zM172.1 74.5h1.0v1.0h-1.0zM172.2 75.0h1.0v1.0h-1.0zM172.1 75.0h1.0v1.0h-1.0zM170.6 72.2h1.0v1.0h-1.0zM170.9 72.2h1.0v1.0h-1.0zM170.0 72.3h1.0v1.0h-1.0zM170.8 72.0h1.0v1.0h-1.0zM170.4 71.6h1.0v1.0h-1.0zM170.9 72.0h1.0v1.0h-1.0zM170.7 72.1h1.0v1.0h-1.0zM170.6 71.6h1.0v1.0h-1.0zM170.2 71.9h1.0v1.0h-1.0zM171.8 75.2h1.0v1.0h-1.0zM171.7 74.6h1.0v1.0h-1.0zM171.2 75.4h1.0v1.0h-1.0zM171.0 75.0h1.0v1.0h-1.0zM171.5 74.7h1.0v1.0h-1.0zM171.3 74.9h1.0v1.0h-1.0zM171.0 75.3h1.0v1.0h-1.0zM171.4 74.6h1.0v1.0h-1.0zM171.7 71.9h1.0v1.0h-1.0zM171.3 72.5h1.0v1.0h-1.0zM171.3 72.5h1.0v1.0h-1.0zM171.3 71.9h1.0v1.0h-1.0zM171.3 72.3h1.0v1.0h-1.0zM171.7 72.0h1.0v1.0h-1.0zM171.3 72.1h1.0v1.0h-1.0zM171.4 71.6h1.0v1.0h-1.0zM171.5 72.4h1.0v1.0h-1.0zM171.2 72.0h1.0v1.0h-1.0zM170.9 74.0h1.0v1.0h-1.0zM170.2 74.3h1.0v1.0h-1.0zM170.0 73.6h1.0v1.0h-1.0zM170.9 73.7h1.0v1.0h-1.0zM170.3 74.1h1.0v1.0h-1.0zM169.9 74.1h1.0v1.0h-1.0zM170.6 74.4h1.0v1.0h-1.0zM170.1 73.5h1.0v1.0h-1.0zM170.7 73.1h1.0v1.0h-1.0zM170.0 72.9h1.0v1.0h-1.0zM170.0 73.3h1.0v1.0h-1.0zM170.1 73.3h1.0v1.0h-1.0zM170.6 72.7h1.0v1.0h-1.0zM170.1 73.2h1.0v1.0h-1.0zM172.7 73.0h1.0v1.0h-1.0zM172.4 72.6h1.0v1.0h-1.0zM172.6 72.7h1.0v1.0h-1.0zM172.9 73.1h1.0v1.0h-1.0zM172.2 72.8h1.0v1.0h-1.0zM172.4 73.0h1.0v1.0h-1.0zM172.2 74.2h1.0v1.0h-1.0zM172.3 74.0h1.0v1.0h-1.0zM172.1 74.0h1.0v1.0h-1.0zM172.1 74.2h1.0v1.0h-1.0zM172.0 73.7h1.0v1.0h-1.0zM172.6 73.5h1.0v1.0h-1.0zM171.0 73.2h1.0v1.0h-1.0zM171.3 72.6h1.0v1.0h-1.0zM171.8 73.2h1.0v1.0h-1.0zM171.7 72.8h1.0v1.0h-1.0zM171.9 72.9h1.0v1.0h-1.0zM171.8 72.7h1.0v1.0h-1.0zM171.7 73.2h1.0v1.0h-1.0zM171.8 72.9h1.0v1.0h-1.0zM171.0 73.3h1.0v1.0h-1.0zM171.2 72.7h1.0v1.0h-1.0zM171.6 73.4h1.0v1.0h-1.0zM171.5 73.0h1.0v1.0h-1.0zM171.6 73.3h1.0v1.0h-1.0zM170.9 73.8h1.0v1.0h-1.0zM171.7 74.5h1.0v1.0h-1.0zM171.8 73.9h1.0v1.0h-1.0zM171.0 73.8h1.0v1.0h-1.0zM171.3 74.1h1.0v1.0h-1.0zM171.6 74.0h1.0v1.0h-1.0zM171.8 74.0h1.0v1.0h-1.0zM171.6 73.6h1.0v1.0h-1.0zM171.0 74.0h1.0v1.0h-1.0zM170.9 74.1h1.0v1.0h-1.0zM171.5 74.3h1.0v1.0h-1.0z" fill="#6cc04c" opacity="1.0" filter="url(#soft)"/>
<rect x="154.90" y="59.30" width="25.70" height="18.50" fill="none" stroke="#000" stroke-width="1.1"/>
<rect x="154.90" y="10.50" width="75.20" height="67.30" fill="none" stroke="#000" stroke-width="1.5"/>
<text x="152.50" y="81.70" font-size="7.6" text-anchor="end">10<tspan dy="-5.6" font-size="6.8">0</tspan></text>
<line x1="152.70" y1="77.80" x2="154.90" y2="77.80" stroke="#000" stroke-width="0.9" />
<line x1="153.50" y1="72.74" x2="154.90" y2="72.74" stroke="#000" stroke-width="0.6" />
<line x1="153.50" y1="69.77" x2="154.90" y2="69.77" stroke="#000" stroke-width="0.6" />
<line x1="153.50" y1="67.67" x2="154.90" y2="67.67" stroke="#000" stroke-width="0.6" />
<line x1="153.50" y1="66.04" x2="154.90" y2="66.04" stroke="#000" stroke-width="0.6" />
<line x1="153.50" y1="64.71" x2="154.90" y2="64.71" stroke="#000" stroke-width="0.6" />
<line x1="153.50" y1="63.58" x2="154.90" y2="63.58" stroke="#000" stroke-width="0.6" />
<line x1="153.50" y1="62.61" x2="154.90" y2="62.61" stroke="#000" stroke-width="0.6" />
<line x1="153.50" y1="61.74" x2="154.90" y2="61.74" stroke="#000" stroke-width="0.6" />
<text x="152.50" y="64.88" font-size="7.6" text-anchor="end">10<tspan dy="-5.6" font-size="6.8">1</tspan></text>
<line x1="152.70" y1="60.97" x2="154.90" y2="60.97" stroke="#000" stroke-width="0.9" />
<line x1="153.50" y1="55.91" x2="154.90" y2="55.91" stroke="#000" stroke-width="0.6" />
<line x1="153.50" y1="52.95" x2="154.90" y2="52.95" stroke="#000" stroke-width="0.6" />
<line x1="153.50" y1="50.85" x2="154.90" y2="50.85" stroke="#000" stroke-width="0.6" />
<line x1="153.50" y1="49.21" x2="154.90" y2="49.21" stroke="#000" stroke-width="0.6" />
<line x1="153.50" y1="47.88" x2="154.90" y2="47.88" stroke="#000" stroke-width="0.6" />
<line x1="153.50" y1="46.76" x2="154.90" y2="46.76" stroke="#000" stroke-width="0.6" />
<line x1="153.50" y1="45.78" x2="154.90" y2="45.78" stroke="#000" stroke-width="0.6" />
<line x1="153.50" y1="44.92" x2="154.90" y2="44.92" stroke="#000" stroke-width="0.6" />
<text x="152.50" y="48.05" font-size="7.6" text-anchor="end">10<tspan dy="-5.6" font-size="6.8">2</tspan></text>
<line x1="152.70" y1="44.15" x2="154.90" y2="44.15" stroke="#000" stroke-width="0.9" />
<line x1="153.50" y1="39.09" x2="154.90" y2="39.09" stroke="#000" stroke-width="0.6" />
<line x1="153.50" y1="36.12" x2="154.90" y2="36.12" stroke="#000" stroke-width="0.6" />
<line x1="153.50" y1="34.02" x2="154.90" y2="34.02" stroke="#000" stroke-width="0.6" />
<line x1="153.50" y1="32.39" x2="154.90" y2="32.39" stroke="#000" stroke-width="0.6" />
<line x1="153.50" y1="31.06" x2="154.90" y2="31.06" stroke="#000" stroke-width="0.6" />
<line x1="153.50" y1="29.93" x2="154.90" y2="29.93" stroke="#000" stroke-width="0.6" />
<line x1="153.50" y1="28.96" x2="154.90" y2="28.96" stroke="#000" stroke-width="0.6" />
<line x1="153.50" y1="28.09" x2="154.90" y2="28.09" stroke="#000" stroke-width="0.6" />
<text x="152.50" y="31.23" font-size="7.6" text-anchor="end">10<tspan dy="-5.6" font-size="6.8">3</tspan></text>
<line x1="152.70" y1="27.33" x2="154.90" y2="27.33" stroke="#000" stroke-width="0.9" />
<line x1="153.50" y1="22.26" x2="154.90" y2="22.26" stroke="#000" stroke-width="0.6" />
<line x1="153.50" y1="19.30" x2="154.90" y2="19.30" stroke="#000" stroke-width="0.6" />
<line x1="153.50" y1="17.20" x2="154.90" y2="17.20" stroke="#000" stroke-width="0.6" />
<line x1="153.50" y1="15.56" x2="154.90" y2="15.56" stroke="#000" stroke-width="0.6" />
<line x1="153.50" y1="14.23" x2="154.90" y2="14.23" stroke="#000" stroke-width="0.6" />
<line x1="153.50" y1="13.11" x2="154.90" y2="13.11" stroke="#000" stroke-width="0.6" />
<line x1="153.50" y1="12.13" x2="154.90" y2="12.13" stroke="#000" stroke-width="0.6" />
<line x1="153.50" y1="11.27" x2="154.90" y2="11.27" stroke="#000" stroke-width="0.6" />
<text x="152.50" y="14.40" font-size="7.6" text-anchor="end">10<tspan dy="-5.6" font-size="6.8">4</tspan></text>
<line x1="152.70" y1="10.50" x2="154.90" y2="10.50" stroke="#000" stroke-width="0.9" />
<text x="154.70" y="90.9" font-size="8.1" text-anchor="middle">10<tspan dy="-5.4" font-size="7">0</tspan></text>
<line x1="154.90" y1="77.80" x2="154.90" y2="80.00" stroke="#000" stroke-width="0.9" />
<line x1="160.56" y1="77.80" x2="160.56" y2="79.10" stroke="#000" stroke-width="0.6" />
<line x1="163.87" y1="77.80" x2="163.87" y2="79.10" stroke="#000" stroke-width="0.6" />
<line x1="166.22" y1="77.80" x2="166.22" y2="79.10" stroke="#000" stroke-width="0.6" />
<line x1="168.04" y1="77.80" x2="168.04" y2="79.10" stroke="#000" stroke-width="0.6" />
<line x1="169.53" y1="77.80" x2="169.53" y2="79.10" stroke="#000" stroke-width="0.6" />
<line x1="170.79" y1="77.80" x2="170.79" y2="79.10" stroke="#000" stroke-width="0.6" />
<line x1="171.88" y1="77.80" x2="171.88" y2="79.10" stroke="#000" stroke-width="0.6" />
<line x1="172.84" y1="77.80" x2="172.84" y2="79.10" stroke="#000" stroke-width="0.6" />
<text x="173.50" y="90.9" font-size="8.1" text-anchor="middle">10<tspan dy="-5.4" font-size="7">1</tspan></text>
<line x1="173.70" y1="77.80" x2="173.70" y2="80.00" stroke="#000" stroke-width="0.9" />
<line x1="179.36" y1="77.80" x2="179.36" y2="79.10" stroke="#000" stroke-width="0.6" />
<line x1="182.67" y1="77.80" x2="182.67" y2="79.10" stroke="#000" stroke-width="0.6" />
<line x1="185.02" y1="77.80" x2="185.02" y2="79.10" stroke="#000" stroke-width="0.6" />
<line x1="186.84" y1="77.80" x2="186.84" y2="79.10" stroke="#000" stroke-width="0.6" />
<line x1="188.33" y1="77.80" x2="188.33" y2="79.10" stroke="#000" stroke-width="0.6" />
<line x1="189.59" y1="77.80" x2="189.59" y2="79.10" stroke="#000" stroke-width="0.6" />
<line x1="190.68" y1="77.80" x2="190.68" y2="79.10" stroke="#000" stroke-width="0.6" />
<line x1="191.64" y1="77.80" x2="191.64" y2="79.10" stroke="#000" stroke-width="0.6" />
<text x="192.30" y="90.9" font-size="8.1" text-anchor="middle">10<tspan dy="-5.4" font-size="7">2</tspan></text>
<line x1="192.50" y1="77.80" x2="192.50" y2="80.00" stroke="#000" stroke-width="0.9" />
<line x1="198.16" y1="77.80" x2="198.16" y2="79.10" stroke="#000" stroke-width="0.6" />
<line x1="201.47" y1="77.80" x2="201.47" y2="79.10" stroke="#000" stroke-width="0.6" />
<line x1="203.82" y1="77.80" x2="203.82" y2="79.10" stroke="#000" stroke-width="0.6" />
<line x1="205.64" y1="77.80" x2="205.64" y2="79.10" stroke="#000" stroke-width="0.6" />
<line x1="207.13" y1="77.80" x2="207.13" y2="79.10" stroke="#000" stroke-width="0.6" />
<line x1="208.39" y1="77.80" x2="208.39" y2="79.10" stroke="#000" stroke-width="0.6" />
<line x1="209.48" y1="77.80" x2="209.48" y2="79.10" stroke="#000" stroke-width="0.6" />
<line x1="210.44" y1="77.80" x2="210.44" y2="79.10" stroke="#000" stroke-width="0.6" />
<text x="211.10" y="90.9" font-size="8.1" text-anchor="middle">10<tspan dy="-5.4" font-size="7">3</tspan></text>
<line x1="211.30" y1="77.80" x2="211.30" y2="80.00" stroke="#000" stroke-width="0.9" />
<line x1="216.96" y1="77.80" x2="216.96" y2="79.10" stroke="#000" stroke-width="0.6" />
<line x1="220.27" y1="77.80" x2="220.27" y2="79.10" stroke="#000" stroke-width="0.6" />
<line x1="222.62" y1="77.80" x2="222.62" y2="79.10" stroke="#000" stroke-width="0.6" />
<line x1="224.44" y1="77.80" x2="224.44" y2="79.10" stroke="#000" stroke-width="0.6" />
<line x1="225.93" y1="77.80" x2="225.93" y2="79.10" stroke="#000" stroke-width="0.6" />
<line x1="227.19" y1="77.80" x2="227.19" y2="79.10" stroke="#000" stroke-width="0.6" />
<line x1="228.28" y1="77.80" x2="228.28" y2="79.10" stroke="#000" stroke-width="0.6" />
<line x1="229.24" y1="77.80" x2="229.24" y2="79.10" stroke="#000" stroke-width="0.6" />
<text x="229.90" y="90.9" font-size="8.1" text-anchor="middle">10<tspan dy="-5.4" font-size="7">4</tspan></text>
<line x1="230.10" y1="77.80" x2="230.10" y2="80.00" stroke="#000" stroke-width="0.9" />
<text x="188.89" y="9.60" font-size="8.40" text-anchor="start" >24h</text>
<text x="193.96" y="23.80" font-size="8.60" text-anchor="start" >28.4%</text>
<line x1="162.50" y1="77.80" x2="162.50" y2="106.00" stroke="#000" stroke-width="1" />
<path d="M158.90,104 L166.10,104 L162.50,114.3 Z" fill="#000" />
<path d="M265.5 60.1h1.0v1.0h-1.0zM310.1 31.4h1.0v1.0h-1.0zM334.0 55.1h1.0v1.0h-1.0zM295.4 40.5h1.0v1.0h-1.0zM302.6 33.1h1.0v1.0h-1.0zM297.1 35.5h1.0v1.0h-1.0zM287.4 38.5h1.0v1.0h-1.0zM289.9 41.9h1.0v1.0h-1.0zM276.7 55.7h1.0v1.0h-1.0zM317.2 33.3h1.0v1.0h-1.0zM332.6 40.4h1.0v1.0h-1.0zM321.9 30.9h1.0v1.0h-1.0zM312.3 72.6h1.0v1.0h-1.0zM290.1 48.0h1.0v1.0h-1.0zM327.5 58.6h1.0v1.0h-1.0zM288.5 45.9h1.0v1.0h-1.0zM309.9 71.4h1.0v1.0h-1.0zM294.0 45.4h1.0v1.0h-1.0zM269.6 59.6h1.0v1.0h-1.0zM330.6 43.2h1.0v1.0h-1.0zM302.7 38.7h1.0v1.0h-1.0zM332.1 46.1h1.0v1.0h-1.0zM278.8 59.2h1.0v1.0h-1.0zM276.0 60.1h1.0v1.0h-1.0zM315.4 67.4h1.0v1.0h-1.0zM303.9 74.2h1.0v1.0h-1.0zM301.3 40.9h1.0v1.0h-1.0zM326.4 28.6h1.0v1.0h-1.0zM310.0 66.6h1.0v1.0h-1.0zM273.5 62.2h1.0v1.0h-1.0zM322.0 62.0h1.0v1.0h-1.0zM303.9 42.1h1.0v1.0h-1.0zM268.5 62.4h1.0v1.0h-1.0zM284.6 56.6h1.0v1.0h-1.0zM324.7 60.9h1.0v1.0h-1.0zM309.3 37.2h1.0v1.0h-1.0zM303.0 44.5h1.0v1.0h-1.0zM331.1 47.7h1.0v1.0h-1.0zM323.0 36.2h1.0v1.0h-1.0zM324.4 30.0h1.0v1.0h-1.0zM297.8 45.4h1.0v1.0h-1.0zM312.2 37.8h1.0v1.0h-1.0zM323.9 28.8h1.0v1.0h-1.0zM319.0 62.2h1.0v1.0h-1.0zM320.4 68.5h1.0v1.0h-1.0zM323.9 59.7h1.0v1.0h-1.0zM282.7 59.3h1.0v1.0h-1.0zM312.1 66.5h1.0v1.0h-1.0zM320.3 34.6h1.0v1.0h-1.0zM289.3 54.3h1.0v1.0h-1.0zM330.7 49.3h1.0v1.0h-1.0zM328.4 44.6h1.0v1.0h-1.0zM320.5 66.5h1.0v1.0h-1.0zM298.9 46.1h1.0v1.0h-1.0zM274.1 63.0h1.0v1.0h-1.0z" fill="#c9d3e6" opacity="1.0" filter="url(#soft)"/>
<path d="M307.5 40.5h1.0v1.0h-1.0zM329.4 52.0h1.0v1.0h-1.0zM288.5 55.5h1.0v1.0h-1.0zM296.4 47.0h1.0v1.0h-1.0zM318.7 67.1h1.0v1.0h-1.0zM317.4 65.0h1.0v1.0h-1.0zM327.9 36.8h1.0v1.0h-1.0zM318.2 65.7h1.0v1.0h-1.0zM307.2 42.5h1.0v1.0h-1.0zM320.9 35.8h1.0v1.0h-1.0zM305.0 70.5h1.0v1.0h-1.0zM329.3 38.2h1.0v1.0h-1.0zM326.1 55.8h1.0v1.0h-1.0zM283.5 59.9h1.0v1.0h-1.0zM316.7 64.4h1.0v1.0h-1.0zM327.9 48.4h1.0v1.0h-1.0zM327.5 44.9h1.0v1.0h-1.0zM306.8 44.0h1.0v1.0h-1.0zM305.7 67.6h1.0v1.0h-1.0zM308.2 39.1h1.0v1.0h-1.0zM320.2 36.7h1.0v1.0h-1.0zM324.8 38.5h1.0v1.0h-1.0zM284.3 59.6h1.0v1.0h-1.0zM319.9 37.6h1.0v1.0h-1.0zM267.4 63.8h1.0v1.0h-1.0zM288.8 58.3h1.0v1.0h-1.0zM327.8 54.4h1.0v1.0h-1.0zM265.5 76.4h1.0v1.0h-1.0zM265.5 76.0h1.0v1.0h-1.0zM328.0 51.6h1.0v1.0h-1.0zM286.8 58.2h1.0v1.0h-1.0zM297.8 51.3h1.0v1.0h-1.0zM266.7 65.2h1.0v1.0h-1.0zM301.3 48.4h1.0v1.0h-1.0zM309.8 39.4h1.0v1.0h-1.0zM287.7 58.4h1.0v1.0h-1.0zM297.5 48.2h1.0v1.0h-1.0zM306.0 65.5h1.0v1.0h-1.0zM309.2 40.2h1.0v1.0h-1.0zM309.6 40.2h1.0v1.0h-1.0zM286.4 60.1h1.0v1.0h-1.0zM328.3 38.1h1.0v1.0h-1.0zM328.5 38.4h1.0v1.0h-1.0zM289.3 56.5h1.0v1.0h-1.0zM286.2 59.4h1.0v1.0h-1.0zM326.9 39.3h1.0v1.0h-1.0zM297.2 48.8h1.0v1.0h-1.0zM315.8 36.9h1.0v1.0h-1.0zM326.0 54.7h1.0v1.0h-1.0zM303.2 72.3h1.0v1.0h-1.0zM327.5 40.6h1.0v1.0h-1.0zM323.2 38.3h1.0v1.0h-1.0zM273.7 64.9h1.0v1.0h-1.0zM328.4 49.9h1.0v1.0h-1.0zM313.0 63.7h1.0v1.0h-1.0zM282.8 62.2h1.0v1.0h-1.0zM301.4 74.2h1.0v1.0h-1.0zM295.1 76.4h1.0v1.0h-1.0zM295.3 52.3h1.0v1.0h-1.0zM326.7 54.3h1.0v1.0h-1.0zM315.7 62.7h1.0v1.0h-1.0zM276.9 62.6h1.0v1.0h-1.0zM269.2 64.6h1.0v1.0h-1.0zM303.2 47.3h1.0v1.0h-1.0zM303.4 46.8h1.0v1.0h-1.0zM299.7 48.7h1.0v1.0h-1.0zM298.8 49.3h1.0v1.0h-1.0zM302.9 48.5h1.0v1.0h-1.0zM321.0 39.3h1.0v1.0h-1.0zM293.5 76.2h1.0v1.0h-1.0zM326.0 41.6h1.0v1.0h-1.0zM304.6 68.8h1.0v1.0h-1.0zM296.3 75.4h1.0v1.0h-1.0zM296.7 74.6h1.0v1.0h-1.0zM265.5 66.8h1.0v1.0h-1.0zM326.8 41.3h1.0v1.0h-1.0zM326.8 40.9h1.0v1.0h-1.0zM305.9 45.6h1.0v1.0h-1.0zM266.1 76.4h1.0v1.0h-1.0zM280.7 61.8h1.0v1.0h-1.0zM280.8 62.1h1.0v1.0h-1.0zM324.3 54.9h1.0v1.0h-1.0zM324.2 55.0h1.0v1.0h-1.0zM290.5 57.9h1.0v1.0h-1.0zM314.4 62.5h1.0v1.0h-1.0zM311.4 63.9h1.0v1.0h-1.0zM268.1 65.1h1.0v1.0h-1.0zM325.4 41.0h1.0v1.0h-1.0zM322.8 38.9h1.0v1.0h-1.0zM325.6 43.1h1.0v1.0h-1.0zM320.9 39.6h1.0v1.0h-1.0zM312.4 41.3h1.0v1.0h-1.0zM294.0 53.4h1.0v1.0h-1.0zM326.3 51.8h1.0v1.0h-1.0zM265.5 73.7h1.0v1.0h-1.0zM306.2 46.1h1.0v1.0h-1.0zM306.9 45.7h1.0v1.0h-1.0zM299.8 49.7h1.0v1.0h-1.0zM316.4 60.8h1.0v1.0h-1.0zM291.6 56.3h1.0v1.0h-1.0zM291.8 55.7h1.0v1.0h-1.0zM315.0 37.6h1.0v1.0h-1.0zM267.1 66.2h1.0v1.0h-1.0zM319.2 60.0h1.0v1.0h-1.0zM314.3 39.4h1.0v1.0h-1.0zM295.3 74.5h1.0v1.0h-1.0zM269.4 66.2h1.0v1.0h-1.0zM312.6 63.1h1.0v1.0h-1.0zM299.0 73.9h1.0v1.0h-1.0zM299.6 74.5h1.0v1.0h-1.0zM316.5 37.9h1.0v1.0h-1.0zM316.5 38.2h1.0v1.0h-1.0zM316.4 37.6h1.0v1.0h-1.0zM301.5 73.4h1.0v1.0h-1.0zM306.6 64.7h1.0v1.0h-1.0zM323.6 40.4h1.0v1.0h-1.0zM323.0 40.4h1.0v1.0h-1.0zM310.2 42.9h1.0v1.0h-1.0zM314.4 62.4h1.0v1.0h-1.0zM268.1 66.3h1.0v1.0h-1.0zM326.0 48.5h1.0v1.0h-1.0zM277.3 63.9h1.0v1.0h-1.0zM299.9 50.9h1.0v1.0h-1.0zM279.1 62.9h1.0v1.0h-1.0zM279.7 63.5h1.0v1.0h-1.0zM303.8 70.4h1.0v1.0h-1.0zM303.2 69.7h1.0v1.0h-1.0zM305.5 47.3h1.0v1.0h-1.0zM323.7 41.3h1.0v1.0h-1.0zM296.7 73.4h1.0v1.0h-1.0zM291.7 56.9h1.0v1.0h-1.0zM294.2 75.2h1.0v1.0h-1.0z" fill="#acc0de" opacity="1.0" filter="url(#soft)"/>
<path d="M309.5 43.5h1.0v1.0h-1.0zM321.2 58.5h1.0v1.0h-1.0zM325.4 45.3h1.0v1.0h-1.0zM292.1 56.5h1.0v1.0h-1.0zM281.0 62.8h1.0v1.0h-1.0zM313.1 62.3h1.0v1.0h-1.0zM322.5 41.5h1.0v1.0h-1.0zM325.4 46.2h1.0v1.0h-1.0zM278.2 63.6h1.0v1.0h-1.0zM291.6 57.6h1.0v1.0h-1.0zM314.0 61.3h1.0v1.0h-1.0zM269.6 66.7h1.0v1.0h-1.0zM268.9 66.6h1.0v1.0h-1.0zM297.9 72.8h1.0v1.0h-1.0zM298.6 72.7h1.0v1.0h-1.0zM295.8 52.7h1.0v1.0h-1.0zM295.5 53.1h1.0v1.0h-1.0zM265.5 72.8h1.0v1.0h-1.0zM265.5 72.7h1.0v1.0h-1.0zM320.1 59.4h1.0v1.0h-1.0zM266.0 75.0h1.0v1.0h-1.0zM293.7 55.3h1.0v1.0h-1.0zM293.5 55.5h1.0v1.0h-1.0zM326.0 51.2h1.0v1.0h-1.0zM324.3 52.9h1.0v1.0h-1.0zM303.9 49.3h1.0v1.0h-1.0zM265.5 68.5h1.0v1.0h-1.0zM265.5 68.0h1.0v1.0h-1.0zM265.5 67.6h1.0v1.0h-1.0zM265.7 68.1h1.0v1.0h-1.0zM302.6 71.1h1.0v1.0h-1.0zM286.3 61.5h1.0v1.0h-1.0zM315.2 59.9h1.0v1.0h-1.0zM322.9 42.5h1.0v1.0h-1.0zM321.9 41.8h1.0v1.0h-1.0zM326.7 48.8h1.0v1.0h-1.0zM300.4 72.8h1.0v1.0h-1.0zM324.6 44.4h1.0v1.0h-1.0zM303.8 66.5h1.0v1.0h-1.0zM300.3 51.0h1.0v1.0h-1.0zM318.4 40.1h1.0v1.0h-1.0zM318.7 40.2h1.0v1.0h-1.0zM299.2 72.6h1.0v1.0h-1.0zM305.5 48.3h1.0v1.0h-1.0zM326.6 49.6h1.0v1.0h-1.0zM326.9 50.5h1.0v1.0h-1.0zM303.9 66.0h1.0v1.0h-1.0zM316.5 59.8h1.0v1.0h-1.0zM325.2 48.5h1.0v1.0h-1.0zM311.6 42.7h1.0v1.0h-1.0zM308.8 46.3h1.0v1.0h-1.0zM317.0 59.9h1.0v1.0h-1.0zM294.9 72.9h1.0v1.0h-1.0zM301.4 51.2h1.0v1.0h-1.0zM313.7 40.7h1.0v1.0h-1.0zM275.9 65.4h1.0v1.0h-1.0zM276.6 65.3h1.0v1.0h-1.0zM280.7 63.9h1.0v1.0h-1.0zM265.8 72.2h1.0v1.0h-1.0zM325.1 51.2h1.0v1.0h-1.0zM303.9 49.8h1.0v1.0h-1.0zM309.1 63.7h1.0v1.0h-1.0zM309.5 64.2h1.0v1.0h-1.0zM299.1 72.1h1.0v1.0h-1.0zM303.0 64.8h1.0v1.0h-1.0zM310.7 44.3h1.0v1.0h-1.0zM302.8 50.8h1.0v1.0h-1.0zM268.9 76.4h1.0v1.0h-1.0zM301.7 70.7h1.0v1.0h-1.0zM324.2 45.5h1.0v1.0h-1.0zM324.2 45.3h1.0v1.0h-1.0zM266.6 74.0h1.0v1.0h-1.0zM265.5 69.2h1.0v1.0h-1.0zM277.6 65.3h1.0v1.0h-1.0zM305.1 63.9h1.0v1.0h-1.0zM321.8 57.2h1.0v1.0h-1.0zM299.3 71.5h1.0v1.0h-1.0zM323.5 53.7h1.0v1.0h-1.0zM322.4 43.5h1.0v1.0h-1.0zM310.6 63.0h1.0v1.0h-1.0zM300.1 51.6h1.0v1.0h-1.0zM300.5 52.3h1.0v1.0h-1.0zM302.3 68.6h1.0v1.0h-1.0zM296.5 54.1h1.0v1.0h-1.0zM296.6 54.1h1.0v1.0h-1.0zM281.6 63.9h1.0v1.0h-1.0zM292.9 58.6h1.0v1.0h-1.0zM266.3 68.1h1.0v1.0h-1.0zM312.8 60.6h1.0v1.0h-1.0zM324.1 45.5h1.0v1.0h-1.0zM300.5 70.8h1.0v1.0h-1.0zM300.8 70.8h1.0v1.0h-1.0zM300.2 70.7h1.0v1.0h-1.0zM325.6 48.9h1.0v1.0h-1.0zM297.9 55.0h1.0v1.0h-1.0zM293.6 58.3h1.0v1.0h-1.0zM293.2 58.4h1.0v1.0h-1.0zM291.8 60.0h1.0v1.0h-1.0zM301.3 70.0h1.0v1.0h-1.0zM265.5 70.6h1.0v1.0h-1.0zM265.5 71.2h1.0v1.0h-1.0zM265.5 71.2h1.0v1.0h-1.0zM307.0 47.8h1.0v1.0h-1.0zM315.8 59.4h1.0v1.0h-1.0zM294.3 55.0h1.0v1.0h-1.0zM317.4 39.9h1.0v1.0h-1.0zM291.5 76.4h1.0v1.0h-1.0zM291.1 76.4h1.0v1.0h-1.0zM303.5 51.3h1.0v1.0h-1.0zM303.8 50.5h1.0v1.0h-1.0zM308.4 64.3h1.0v1.0h-1.0zM265.5 69.8h1.0v1.0h-1.0zM265.5 70.0h1.0v1.0h-1.0zM265.5 70.4h1.0v1.0h-1.0zM265.5 70.1h1.0v1.0h-1.0zM285.0 63.2h1.0v1.0h-1.0zM285.6 62.9h1.0v1.0h-1.0zM325.3 49.7h1.0v1.0h-1.0zM307.7 63.6h1.0v1.0h-1.0zM307.2 64.1h1.0v1.0h-1.0zM300.9 53.2h1.0v1.0h-1.0zM300.7 52.7h1.0v1.0h-1.0zM299.9 69.8h1.0v1.0h-1.0zM293.3 74.3h1.0v1.0h-1.0zM314.9 40.5h1.0v1.0h-1.0zM315.0 40.3h1.0v1.0h-1.0zM296.3 70.9h1.0v1.0h-1.0zM287.6 63.5h1.0v1.0h-1.0zM288.5 63.0h1.0v1.0h-1.0zM304.2 49.5h1.0v1.0h-1.0zM320.3 57.8h1.0v1.0h-1.0zM320.7 57.5h1.0v1.0h-1.0zM302.2 68.5h1.0v1.0h-1.0zM293.3 58.7h1.0v1.0h-1.0zM286.0 62.6h1.0v1.0h-1.0zM286.4 62.5h1.0v1.0h-1.0zM294.5 73.1h1.0v1.0h-1.0zM300.2 54.0h1.0v1.0h-1.0zM322.3 54.6h1.0v1.0h-1.0zM310.0 61.7h1.0v1.0h-1.0zM310.2 62.3h1.0v1.0h-1.0zM321.6 43.4h1.0v1.0h-1.0zM306.3 48.9h1.0v1.0h-1.0zM306.7 49.2h1.0v1.0h-1.0zM306.8 49.2h1.0v1.0h-1.0zM301.3 69.3h1.0v1.0h-1.0zM299.5 54.6h1.0v1.0h-1.0zM299.5 55.1h1.0v1.0h-1.0zM309.5 46.0h1.0v1.0h-1.0zM308.9 46.2h1.0v1.0h-1.0zM280.8 64.7h1.0v1.0h-1.0zM291.9 60.3h1.0v1.0h-1.0zM324.8 47.6h1.0v1.0h-1.0zM304.2 52.2h1.0v1.0h-1.0zM304.5 52.0h1.0v1.0h-1.0zM301.8 53.4h1.0v1.0h-1.0zM301.6 52.8h1.0v1.0h-1.0zM323.0 45.2h1.0v1.0h-1.0zM310.5 45.2h1.0v1.0h-1.0zM310.7 44.8h1.0v1.0h-1.0zM302.0 52.7h1.0v1.0h-1.0zM302.1 52.8h1.0v1.0h-1.0zM313.3 41.6h1.0v1.0h-1.0zM313.3 41.9h1.0v1.0h-1.0zM290.6 62.2h1.0v1.0h-1.0zM296.8 54.9h1.0v1.0h-1.0zM296.6 55.1h1.0v1.0h-1.0zM296.6 55.3h1.0v1.0h-1.0zM304.5 52.8h1.0v1.0h-1.0zM289.1 62.6h1.0v1.0h-1.0zM314.1 41.4h1.0v1.0h-1.0zM294.4 57.9h1.0v1.0h-1.0zM313.0 59.1h1.0v1.0h-1.0zM305.4 50.3h1.0v1.0h-1.0zM305.8 49.7h1.0v1.0h-1.0zM295.2 55.5h1.0v1.0h-1.0zM301.9 65.4h1.0v1.0h-1.0zM268.1 69.0h1.0v1.0h-1.0zM318.5 58.6h1.0v1.0h-1.0zM269.4 75.7h1.0v1.0h-1.0zM269.0 76.4h1.0v1.0h-1.0zM312.1 60.0h1.0v1.0h-1.0zM312.0 59.6h1.0v1.0h-1.0zM302.5 65.7h1.0v1.0h-1.0zM291.5 60.6h1.0v1.0h-1.0zM291.3 61.1h1.0v1.0h-1.0zM291.6 60.9h1.0v1.0h-1.0zM291.8 60.8h1.0v1.0h-1.0zM291.4 60.7h1.0v1.0h-1.0zM309.3 62.4h1.0v1.0h-1.0zM308.1 62.8h1.0v1.0h-1.0zM308.6 63.0h1.0v1.0h-1.0zM308.8 62.9h1.0v1.0h-1.0zM308.4 62.6h1.0v1.0h-1.0zM306.2 63.1h1.0v1.0h-1.0zM319.0 42.1h1.0v1.0h-1.0zM302.2 53.6h1.0v1.0h-1.0zM307.9 48.3h1.0v1.0h-1.0zM294.0 59.0h1.0v1.0h-1.0zM300.7 55.4h1.0v1.0h-1.0zM304.9 50.9h1.0v1.0h-1.0zM305.7 51.2h1.0v1.0h-1.0zM272.4 66.8h1.0v1.0h-1.0zM272.3 66.6h1.0v1.0h-1.0zM317.2 58.9h1.0v1.0h-1.0zM317.6 59.3h1.0v1.0h-1.0zM266.9 69.3h1.0v1.0h-1.0zM304.4 54.1h1.0v1.0h-1.0zM304.6 53.7h1.0v1.0h-1.0zM299.5 69.3h1.0v1.0h-1.0zM268.5 74.6h1.0v1.0h-1.0zM292.2 73.9h1.0v1.0h-1.0zM310.3 60.8h1.0v1.0h-1.0zM310.4 61.3h1.0v1.0h-1.0zM295.5 56.3h1.0v1.0h-1.0zM295.2 56.4h1.0v1.0h-1.0zM295.6 55.8h1.0v1.0h-1.0zM296.7 56.1h1.0v1.0h-1.0zM288.3 63.5h1.0v1.0h-1.0zM288.3 64.5h1.0v1.0h-1.0zM285.7 63.5h1.0v1.0h-1.0zM285.8 63.8h1.0v1.0h-1.0zM285.6 64.1h1.0v1.0h-1.0zM295.2 71.4h1.0v1.0h-1.0zM295.8 70.9h1.0v1.0h-1.0zM324.0 50.3h1.0v1.0h-1.0zM320.0 43.2h1.0v1.0h-1.0zM293.2 73.0h1.0v1.0h-1.0zM304.6 62.7h1.0v1.0h-1.0zM304.2 63.0h1.0v1.0h-1.0zM304.4 63.1h1.0v1.0h-1.0zM295.0 56.7h1.0v1.0h-1.0zM295.8 57.4h1.0v1.0h-1.0zM323.0 51.8h1.0v1.0h-1.0zM307.3 61.8h1.0v1.0h-1.0zM290.7 63.0h1.0v1.0h-1.0zM290.7 62.9h1.0v1.0h-1.0zM290.7 63.1h1.0v1.0h-1.0zM290.5 63.2h1.0v1.0h-1.0zM286.3 63.9h1.0v1.0h-1.0zM301.4 67.7h1.0v1.0h-1.0zM302.5 55.3h1.0v1.0h-1.0zM306.6 51.3h1.0v1.0h-1.0zM306.0 51.3h1.0v1.0h-1.0zM309.4 60.7h1.0v1.0h-1.0zM321.1 43.9h1.0v1.0h-1.0zM321.4 44.4h1.0v1.0h-1.0zM309.6 47.1h1.0v1.0h-1.0zM309.0 47.1h1.0v1.0h-1.0z" fill="#82a8d6" opacity="1.0" filter="url(#soft)"/>
<path d="M295.5 57.6h1.0v1.0h-1.0zM271.6 67.6h1.0v1.0h-1.0zM271.8 68.4h1.0v1.0h-1.0zM271.4 68.4h1.0v1.0h-1.0zM310.4 46.0h1.0v1.0h-1.0zM296.6 56.8h1.0v1.0h-1.0zM296.6 69.6h1.0v1.0h-1.0zM296.7 70.2h1.0v1.0h-1.0zM317.7 41.0h1.0v1.0h-1.0zM307.1 50.5h1.0v1.0h-1.0zM307.8 49.9h1.0v1.0h-1.0zM306.1 53.5h1.0v1.0h-1.0zM306.4 53.1h1.0v1.0h-1.0zM322.9 53.8h1.0v1.0h-1.0zM306.6 62.2h1.0v1.0h-1.0zM306.1 61.9h1.0v1.0h-1.0zM303.7 54.6h1.0v1.0h-1.0zM303.3 55.2h1.0v1.0h-1.0zM303.4 55.3h1.0v1.0h-1.0zM303.8 55.4h1.0v1.0h-1.0zM277.0 66.5h1.0v1.0h-1.0zM320.5 56.9h1.0v1.0h-1.0zM311.3 44.7h1.0v1.0h-1.0zM322.5 45.4h1.0v1.0h-1.0zM291.7 74.6h1.0v1.0h-1.0zM296.5 65.5h1.0v1.0h-1.0zM296.0 64.5h1.0v1.0h-1.0zM301.6 64.0h1.0v1.0h-1.0zM301.2 64.2h1.0v1.0h-1.0zM311.2 59.9h1.0v1.0h-1.0zM299.4 56.2h1.0v1.0h-1.0zM267.2 72.8h1.0v1.0h-1.0zM298.2 63.9h1.0v1.0h-1.0zM298.9 64.3h1.0v1.0h-1.0zM293.9 64.6h1.0v1.0h-1.0zM293.3 60.7h1.0v1.0h-1.0zM312.3 44.4h1.0v1.0h-1.0zM290.1 64.2h1.0v1.0h-1.0zM290.6 64.0h1.0v1.0h-1.0zM306.6 53.6h1.0v1.0h-1.0zM306.8 54.1h1.0v1.0h-1.0zM306.6 54.3h1.0v1.0h-1.0zM295.7 58.8h1.0v1.0h-1.0zM295.8 63.7h1.0v1.0h-1.0zM295.9 64.2h1.0v1.0h-1.0zM299.1 64.4h1.0v1.0h-1.0zM299.2 64.4h1.0v1.0h-1.0zM272.9 66.8h1.0v1.0h-1.0zM273.8 67.1h1.0v1.0h-1.0zM305.1 61.7h1.0v1.0h-1.0zM305.8 62.2h1.0v1.0h-1.0zM281.9 64.9h1.0v1.0h-1.0zM282.2 64.7h1.0v1.0h-1.0zM306.4 60.8h1.0v1.0h-1.0zM306.2 60.6h1.0v1.0h-1.0zM306.5 61.4h1.0v1.0h-1.0zM287.3 64.7h1.0v1.0h-1.0zM287.1 65.4h1.0v1.0h-1.0zM316.7 41.0h1.0v1.0h-1.0zM316.8 41.2h1.0v1.0h-1.0zM312.3 59.1h1.0v1.0h-1.0zM312.8 58.6h1.0v1.0h-1.0zM312.5 59.1h1.0v1.0h-1.0zM300.4 67.6h1.0v1.0h-1.0zM323.0 46.8h1.0v1.0h-1.0zM318.8 42.4h1.0v1.0h-1.0zM317.9 42.2h1.0v1.0h-1.0zM307.6 52.1h1.0v1.0h-1.0zM295.9 57.9h1.0v1.0h-1.0zM293.3 65.3h1.0v1.0h-1.0zM292.9 63.8h1.0v1.0h-1.0zM301.2 66.8h1.0v1.0h-1.0zM301.0 66.5h1.0v1.0h-1.0zM268.9 69.8h1.0v1.0h-1.0zM314.4 42.2h1.0v1.0h-1.0zM292.6 62.0h1.0v1.0h-1.0zM319.5 43.3h1.0v1.0h-1.0zM319.3 43.2h1.0v1.0h-1.0zM318.9 43.3h1.0v1.0h-1.0zM319.8 43.3h1.0v1.0h-1.0zM319.4 42.9h1.0v1.0h-1.0zM302.3 55.8h1.0v1.0h-1.0zM301.5 65.6h1.0v1.0h-1.0zM301.2 65.6h1.0v1.0h-1.0zM301.6 66.2h1.0v1.0h-1.0zM301.2 56.3h1.0v1.0h-1.0zM307.4 52.6h1.0v1.0h-1.0zM307.4 52.5h1.0v1.0h-1.0zM294.3 63.7h1.0v1.0h-1.0zM283.3 65.4h1.0v1.0h-1.0zM283.3 65.3h1.0v1.0h-1.0zM283.0 65.1h1.0v1.0h-1.0zM300.1 55.8h1.0v1.0h-1.0zM300.3 55.5h1.0v1.0h-1.0zM268.5 73.8h1.0v1.0h-1.0zM300.8 64.7h1.0v1.0h-1.0zM292.2 63.4h1.0v1.0h-1.0zM295.9 66.5h1.0v1.0h-1.0zM293.1 64.4h1.0v1.0h-1.0zM293.5 64.3h1.0v1.0h-1.0zM268.4 70.2h1.0v1.0h-1.0zM268.6 69.5h1.0v1.0h-1.0zM268.4 69.9h1.0v1.0h-1.0zM268.1 70.1h1.0v1.0h-1.0zM299.7 63.0h1.0v1.0h-1.0zM267.9 70.3h1.0v1.0h-1.0zM267.1 70.0h1.0v1.0h-1.0zM292.8 73.0h1.0v1.0h-1.0zM298.6 62.5h1.0v1.0h-1.0zM298.4 63.1h1.0v1.0h-1.0zM285.1 65.0h1.0v1.0h-1.0zM285.3 65.2h1.0v1.0h-1.0zM297.5 63.0h1.0v1.0h-1.0zM297.1 62.9h1.0v1.0h-1.0zM296.7 63.0h1.0v1.0h-1.0zM320.8 44.3h1.0v1.0h-1.0zM271.7 76.4h1.0v1.0h-1.0zM306.7 54.8h1.0v1.0h-1.0zM306.8 54.6h1.0v1.0h-1.0zM297.7 69.2h1.0v1.0h-1.0zM297.4 69.1h1.0v1.0h-1.0zM295.2 70.0h1.0v1.0h-1.0zM300.0 62.5h1.0v1.0h-1.0zM299.8 67.7h1.0v1.0h-1.0zM295.9 60.4h1.0v1.0h-1.0zM308.2 59.6h1.0v1.0h-1.0zM308.4 60.0h1.0v1.0h-1.0zM305.4 61.5h1.0v1.0h-1.0zM301.0 62.8h1.0v1.0h-1.0zM300.9 62.6h1.0v1.0h-1.0zM301.2 62.6h1.0v1.0h-1.0zM322.4 53.0h1.0v1.0h-1.0zM294.8 71.3h1.0v1.0h-1.0zM289.2 65.3h1.0v1.0h-1.0zM316.9 58.1h1.0v1.0h-1.0zM308.2 49.6h1.0v1.0h-1.0zM293.4 72.0h1.0v1.0h-1.0zM293.8 72.2h1.0v1.0h-1.0zM293.7 71.8h1.0v1.0h-1.0zM293.1 71.5h1.0v1.0h-1.0zM295.0 63.1h1.0v1.0h-1.0zM296.3 66.5h1.0v1.0h-1.0zM296.2 65.8h1.0v1.0h-1.0zM321.0 55.1h1.0v1.0h-1.0zM291.1 64.6h1.0v1.0h-1.0zM293.7 62.1h1.0v1.0h-1.0zM293.4 62.1h1.0v1.0h-1.0zM304.5 55.7h1.0v1.0h-1.0zM309.7 59.7h1.0v1.0h-1.0zM267.2 72.5h1.0v1.0h-1.0zM267.5 71.8h1.0v1.0h-1.0zM267.8 72.3h1.0v1.0h-1.0zM270.2 70.5h1.0v1.0h-1.0zM270.2 69.6h1.0v1.0h-1.0zM297.1 58.2h1.0v1.0h-1.0zM297.7 58.4h1.0v1.0h-1.0zM290.5 64.8h1.0v1.0h-1.0zM297.7 66.3h1.0v1.0h-1.0zM293.4 62.7h1.0v1.0h-1.0zM293.6 63.4h1.0v1.0h-1.0zM293.6 62.6h1.0v1.0h-1.0zM296.7 59.3h1.0v1.0h-1.0zM298.4 66.3h1.0v1.0h-1.0zM298.3 66.0h1.0v1.0h-1.0zM305.4 56.0h1.0v1.0h-1.0zM305.8 56.1h1.0v1.0h-1.0zM318.4 58.0h1.0v1.0h-1.0zM318.4 58.1h1.0v1.0h-1.0zM294.1 63.3h1.0v1.0h-1.0zM295.6 61.1h1.0v1.0h-1.0zM295.7 61.4h1.0v1.0h-1.0zM294.6 62.4h1.0v1.0h-1.0zM294.0 62.2h1.0v1.0h-1.0zM294.2 61.7h1.0v1.0h-1.0zM294.6 62.1h1.0v1.0h-1.0zM272.7 76.4h1.0v1.0h-1.0zM272.6 75.7h1.0v1.0h-1.0zM300.9 66.1h1.0v1.0h-1.0zM299.9 65.6h1.0v1.0h-1.0zM300.3 66.9h1.0v1.0h-1.0zM300.4 66.5h1.0v1.0h-1.0zM300.3 67.0h1.0v1.0h-1.0zM269.0 75.2h1.0v1.0h-1.0zM269.4 74.6h1.0v1.0h-1.0zM269.6 74.9h1.0v1.0h-1.0zM291.8 73.8h1.0v1.0h-1.0zM291.8 74.5h1.0v1.0h-1.0zM308.5 51.3h1.0v1.0h-1.0zM308.6 51.1h1.0v1.0h-1.0zM308.7 51.2h1.0v1.0h-1.0zM267.6 70.9h1.0v1.0h-1.0zM267.0 70.5h1.0v1.0h-1.0zM280.4 66.4h1.0v1.0h-1.0zM299.8 65.6h1.0v1.0h-1.0zM298.9 65.9h1.0v1.0h-1.0zM303.7 61.5h1.0v1.0h-1.0zM303.1 62.4h1.0v1.0h-1.0zM303.9 61.8h1.0v1.0h-1.0zM303.4 62.1h1.0v1.0h-1.0zM303.4 61.5h1.0v1.0h-1.0zM295.3 61.8h1.0v1.0h-1.0zM298.6 68.3h1.0v1.0h-1.0zM304.6 60.5h1.0v1.0h-1.0zM312.6 45.2h1.0v1.0h-1.0zM311.9 45.4h1.0v1.0h-1.0zM312.0 44.6h1.0v1.0h-1.0zM296.5 68.5h1.0v1.0h-1.0zM317.6 58.5h1.0v1.0h-1.0zM317.5 57.5h1.0v1.0h-1.0zM308.2 51.7h1.0v1.0h-1.0zM306.9 56.3h1.0v1.0h-1.0zM268.6 72.7h1.0v1.0h-1.0zM317.8 41.9h1.0v1.0h-1.0zM317.5 42.4h1.0v1.0h-1.0zM321.9 45.8h1.0v1.0h-1.0zM322.3 45.5h1.0v1.0h-1.0zM308.3 53.1h1.0v1.0h-1.0zM313.7 44.1h1.0v1.0h-1.0zM313.9 43.9h1.0v1.0h-1.0zM313.8 44.1h1.0v1.0h-1.0zM297.7 62.2h1.0v1.0h-1.0zM297.7 62.2h1.0v1.0h-1.0zM297.5 61.6h1.0v1.0h-1.0zM297.0 61.6h1.0v1.0h-1.0zM299.5 67.4h1.0v1.0h-1.0zM299.5 66.8h1.0v1.0h-1.0zM295.8 67.0h1.0v1.0h-1.0zM295.4 67.3h1.0v1.0h-1.0zM295.4 67.2h1.0v1.0h-1.0zM272.0 68.3h1.0v1.0h-1.0zM294.0 70.0h1.0v1.0h-1.0zM286.4 66.4h1.0v1.0h-1.0zM320.6 56.0h1.0v1.0h-1.0zM295.8 69.0h1.0v1.0h-1.0zM292.5 66.2h1.0v1.0h-1.0zM292.8 66.0h1.0v1.0h-1.0zM292.9 65.9h1.0v1.0h-1.0zM296.9 60.4h1.0v1.0h-1.0zM296.1 60.3h1.0v1.0h-1.0zM296.7 60.4h1.0v1.0h-1.0zM296.2 60.0h1.0v1.0h-1.0zM315.3 41.8h1.0v1.0h-1.0zM315.6 41.6h1.0v1.0h-1.0zM297.9 66.9h1.0v1.0h-1.0zM312.8 58.4h1.0v1.0h-1.0zM314.1 42.6h1.0v1.0h-1.0zM288.6 65.7h1.0v1.0h-1.0zM288.1 66.0h1.0v1.0h-1.0zM288.6 66.3h1.0v1.0h-1.0zM302.2 61.8h1.0v1.0h-1.0zM302.9 62.5h1.0v1.0h-1.0zM302.7 61.7h1.0v1.0h-1.0zM296.5 61.3h1.0v1.0h-1.0zM304.2 59.7h1.0v1.0h-1.0zM304.5 59.7h1.0v1.0h-1.0zM300.0 62.3h1.0v1.0h-1.0zM299.2 56.7h1.0v1.0h-1.0zM299.4 56.9h1.0v1.0h-1.0zM299.8 56.8h1.0v1.0h-1.0zM293.6 66.5h1.0v1.0h-1.0zM293.7 67.4h1.0v1.0h-1.0zM308.9 53.6h1.0v1.0h-1.0zM308.1 54.4h1.0v1.0h-1.0zM269.7 70.7h1.0v1.0h-1.0zM269.8 71.2h1.0v1.0h-1.0zM306.8 59.4h1.0v1.0h-1.0zM306.1 58.7h1.0v1.0h-1.0zM306.7 58.9h1.0v1.0h-1.0zM306.4 59.3h1.0v1.0h-1.0zM268.9 71.9h1.0v1.0h-1.0zM268.6 71.5h1.0v1.0h-1.0zM268.1 71.8h1.0v1.0h-1.0zM268.2 71.6h1.0v1.0h-1.0zM293.7 70.9h1.0v1.0h-1.0zM321.9 51.7h1.0v1.0h-1.0zM297.8 58.9h1.0v1.0h-1.0zM304.3 57.0h1.0v1.0h-1.0zM304.1 57.4h1.0v1.0h-1.0zM304.5 57.2h1.0v1.0h-1.0zM304.0 57.0h1.0v1.0h-1.0zM304.8 56.7h1.0v1.0h-1.0zM297.7 67.9h1.0v1.0h-1.0zM297.3 67.6h1.0v1.0h-1.0zM297.2 67.7h1.0v1.0h-1.0zM297.4 67.8h1.0v1.0h-1.0zM296.9 68.3h1.0v1.0h-1.0zM302.6 57.1h1.0v1.0h-1.0zM296.1 67.0h1.0v1.0h-1.0zM300.9 62.1h1.0v1.0h-1.0zM309.4 48.6h1.0v1.0h-1.0zM309.1 49.0h1.0v1.0h-1.0zM323.0 49.6h1.0v1.0h-1.0zM323.0 49.6h1.0v1.0h-1.0zM323.8 49.2h1.0v1.0h-1.0zM297.7 66.7h1.0v1.0h-1.0zM297.9 66.9h1.0v1.0h-1.0zM295.4 68.4h1.0v1.0h-1.0zM295.5 67.7h1.0v1.0h-1.0zM295.7 67.5h1.0v1.0h-1.0zM295.6 67.9h1.0v1.0h-1.0zM273.0 76.4h1.0v1.0h-1.0zM272.9 76.4h1.0v1.0h-1.0zM273.6 76.4h1.0v1.0h-1.0zM273.1 76.4h1.0v1.0h-1.0zM316.5 42.3h1.0v1.0h-1.0zM316.5 41.6h1.0v1.0h-1.0zM294.2 68.9h1.0v1.0h-1.0zM305.6 58.8h1.0v1.0h-1.0zM305.0 59.2h1.0v1.0h-1.0zM285.5 66.4h1.0v1.0h-1.0zM298.6 58.1h1.0v1.0h-1.0zM298.6 57.7h1.0v1.0h-1.0zM290.7 65.9h1.0v1.0h-1.0zM290.8 66.0h1.0v1.0h-1.0zM290.5 65.6h1.0v1.0h-1.0zM290.4 66.5h1.0v1.0h-1.0zM307.9 56.3h1.0v1.0h-1.0zM306.2 56.8h1.0v1.0h-1.0zM306.4 57.4h1.0v1.0h-1.0zM297.4 61.2h1.0v1.0h-1.0zM297.4 61.4h1.0v1.0h-1.0zM320.0 45.2h1.0v1.0h-1.0zM320.5 45.5h1.0v1.0h-1.0zM320.7 45.1h1.0v1.0h-1.0zM296.4 67.5h1.0v1.0h-1.0zM275.9 66.7h1.0v1.0h-1.0zM308.6 59.3h1.0v1.0h-1.0zM308.4 58.7h1.0v1.0h-1.0zM304.3 58.9h1.0v1.0h-1.0zM304.3 58.9h1.0v1.0h-1.0zM297.8 60.5h1.0v1.0h-1.0zM297.8 59.9h1.0v1.0h-1.0zM281.9 66.3h1.0v1.0h-1.0zM281.0 66.5h1.0v1.0h-1.0zM300.5 56.6h1.0v1.0h-1.0zM293.0 67.6h1.0v1.0h-1.0zM306.2 58.5h1.0v1.0h-1.0zM305.9 57.9h1.0v1.0h-1.0zM305.7 57.8h1.0v1.0h-1.0zM305.8 58.1h1.0v1.0h-1.0zM293.9 70.1h1.0v1.0h-1.0zM293.6 69.6h1.0v1.0h-1.0zM293.7 70.4h1.0v1.0h-1.0zM290.1 75.3h1.0v1.0h-1.0zM304.6 57.7h1.0v1.0h-1.0zM308.7 54.6h1.0v1.0h-1.0zM308.4 55.2h1.0v1.0h-1.0zM310.5 58.8h1.0v1.0h-1.0zM310.7 58.6h1.0v1.0h-1.0zM310.4 59.4h1.0v1.0h-1.0zM303.6 60.0h1.0v1.0h-1.0zM284.2 66.1h1.0v1.0h-1.0zM284.1 66.2h1.0v1.0h-1.0zM289.7 76.4h1.0v1.0h-1.0zM289.8 76.4h1.0v1.0h-1.0zM289.1 75.7h1.0v1.0h-1.0zM292.6 67.3h1.0v1.0h-1.0zM292.2 66.5h1.0v1.0h-1.0zM292.3 67.2h1.0v1.0h-1.0zM292.7 66.5h1.0v1.0h-1.0zM291.9 66.7h1.0v1.0h-1.0zM311.9 47.5h1.0v1.0h-1.0zM293.1 69.0h1.0v1.0h-1.0zM293.7 69.0h1.0v1.0h-1.0zM293.6 68.7h1.0v1.0h-1.0zM291.9 71.5h1.0v1.0h-1.0zM292.6 71.1h1.0v1.0h-1.0zM309.2 50.2h1.0v1.0h-1.0zM307.8 57.8h1.0v1.0h-1.0zM307.1 58.4h1.0v1.0h-1.0zM308.9 58.5h1.0v1.0h-1.0zM309.1 58.8h1.0v1.0h-1.0zM307.8 56.6h1.0v1.0h-1.0zM302.3 61.0h1.0v1.0h-1.0zM313.1 44.7h1.0v1.0h-1.0zM312.9 45.0h1.0v1.0h-1.0zM313.3 45.0h1.0v1.0h-1.0zM314.5 44.0h1.0v1.0h-1.0zM270.7 74.8h1.0v1.0h-1.0zM270.0 74.5h1.0v1.0h-1.0zM270.0 75.3h1.0v1.0h-1.0zM299.7 60.8h1.0v1.0h-1.0zM299.6 60.7h1.0v1.0h-1.0zM299.7 60.6h1.0v1.0h-1.0zM310.6 48.4h1.0v1.0h-1.0zM310.8 48.2h1.0v1.0h-1.0zM310.7 47.9h1.0v1.0h-1.0zM271.0 70.3h1.0v1.0h-1.0zM282.9 66.0h1.0v1.0h-1.0zM272.9 67.7h1.0v1.0h-1.0zM273.3 67.6h1.0v1.0h-1.0zM273.9 67.8h1.0v1.0h-1.0zM292.3 68.1h1.0v1.0h-1.0zM292.0 67.9h1.0v1.0h-1.0zM281.9 65.9h1.0v1.0h-1.0zM291.5 66.7h1.0v1.0h-1.0zM291.1 67.4h1.0v1.0h-1.0zM314.9 43.0h1.0v1.0h-1.0zM315.6 43.5h1.0v1.0h-1.0zM315.0 43.2h1.0v1.0h-1.0zM303.5 59.1h1.0v1.0h-1.0zM303.1 59.2h1.0v1.0h-1.0zM292.4 68.5h1.0v1.0h-1.0zM291.3 72.2h1.0v1.0h-1.0zM291.0 71.9h1.0v1.0h-1.0zM292.7 70.0h1.0v1.0h-1.0zM292.4 69.7h1.0v1.0h-1.0zM292.8 70.5h1.0v1.0h-1.0zM290.1 66.8h1.0v1.0h-1.0zM290.1 67.1h1.0v1.0h-1.0zM298.3 59.8h1.0v1.0h-1.0zM298.0 60.3h1.0v1.0h-1.0zM313.1 57.1h1.0v1.0h-1.0zM322.6 47.5h1.0v1.0h-1.0zM322.4 46.8h1.0v1.0h-1.0zM276.0 67.4h1.0v1.0h-1.0zM276.6 66.8h1.0v1.0h-1.0zM276.0 67.1h1.0v1.0h-1.0zM275.9 67.1h1.0v1.0h-1.0zM276.8 67.0h1.0v1.0h-1.0zM311.1 58.2h1.0v1.0h-1.0zM314.0 56.9h1.0v1.0h-1.0zM314.3 56.9h1.0v1.0h-1.0zM289.1 67.3h1.0v1.0h-1.0zM288.9 67.0h1.0v1.0h-1.0zM269.5 73.4h1.0v1.0h-1.0zM268.9 73.1h1.0v1.0h-1.0zM291.2 67.8h1.0v1.0h-1.0zM291.8 67.7h1.0v1.0h-1.0zM288.5 66.6h1.0v1.0h-1.0zM288.5 66.5h1.0v1.0h-1.0zM288.8 66.9h1.0v1.0h-1.0zM278.0 67.1h1.0v1.0h-1.0zM309.9 51.1h1.0v1.0h-1.0zM287.2 67.1h1.0v1.0h-1.0zM309.7 53.2h1.0v1.0h-1.0zM300.1 60.9h1.0v1.0h-1.0zM300.2 60.8h1.0v1.0h-1.0zM321.0 53.1h1.0v1.0h-1.0zM321.0 53.3h1.0v1.0h-1.0zM321.0 53.5h1.0v1.0h-1.0zM321.7 52.9h1.0v1.0h-1.0zM320.9 53.4h1.0v1.0h-1.0zM301.1 61.0h1.0v1.0h-1.0zM301.4 60.5h1.0v1.0h-1.0zM321.6 45.7h1.0v1.0h-1.0zM321.2 45.6h1.0v1.0h-1.0zM308.6 55.6h1.0v1.0h-1.0zM307.9 55.7h1.0v1.0h-1.0zM308.2 56.0h1.0v1.0h-1.0zM316.9 43.0h1.0v1.0h-1.0zM316.6 43.5h1.0v1.0h-1.0zM316.1 43.0h1.0v1.0h-1.0zM316.6 42.6h1.0v1.0h-1.0zM315.8 57.1h1.0v1.0h-1.0zM309.4 52.4h1.0v1.0h-1.0zM318.2 56.9h1.0v1.0h-1.0zM318.0 56.9h1.0v1.0h-1.0zM318.4 57.0h1.0v1.0h-1.0zM318.2 56.7h1.0v1.0h-1.0zM302.4 58.4h1.0v1.0h-1.0zM302.7 57.7h1.0v1.0h-1.0zM302.5 58.3h1.0v1.0h-1.0zM302.1 58.1h1.0v1.0h-1.0zM302.5 57.6h1.0v1.0h-1.0zM299.1 57.6h1.0v1.0h-1.0zM298.9 57.8h1.0v1.0h-1.0zM299.3 58.2h1.0v1.0h-1.0zM299.5 58.5h1.0v1.0h-1.0zM291.6 70.5h1.0v1.0h-1.0zM312.2 56.7h1.0v1.0h-1.0zM312.0 56.5h1.0v1.0h-1.0zM291.6 70.6h1.0v1.0h-1.0zM291.3 70.6h1.0v1.0h-1.0zM291.6 71.2h1.0v1.0h-1.0zM272.1 69.1h1.0v1.0h-1.0zM272.0 69.4h1.0v1.0h-1.0zM308.2 58.0h1.0v1.0h-1.0zM308.0 58.1h1.0v1.0h-1.0zM308.1 57.5h1.0v1.0h-1.0zM320.7 55.3h1.0v1.0h-1.0zM320.8 55.2h1.0v1.0h-1.0zM320.8 54.9h1.0v1.0h-1.0zM286.9 67.3h1.0v1.0h-1.0zM286.2 67.0h1.0v1.0h-1.0zM274.3 76.4h1.0v1.0h-1.0zM274.3 75.8h1.0v1.0h-1.0zM302.4 60.3h1.0v1.0h-1.0zM322.9 50.8h1.0v1.0h-1.0zM322.5 51.1h1.0v1.0h-1.0zM322.9 51.0h1.0v1.0h-1.0z" fill="#5290ca" opacity="1.0" filter="url(#soft)"/>
<path d="M290.1 68.7h1.0v1.0h-1.0zM290.1 68.7h1.0v1.0h-1.0zM316.9 43.7h1.0v1.0h-1.0zM317.7 44.2h1.0v1.0h-1.0zM317.4 43.7h1.0v1.0h-1.0zM317.3 43.7h1.0v1.0h-1.0zM309.1 54.5h1.0v1.0h-1.0zM309.0 54.8h1.0v1.0h-1.0zM309.7 54.9h1.0v1.0h-1.0zM290.0 73.9h1.0v1.0h-1.0zM290.7 74.1h1.0v1.0h-1.0zM308.1 57.4h1.0v1.0h-1.0zM308.3 57.2h1.0v1.0h-1.0zM271.6 74.7h1.0v1.0h-1.0zM271.7 75.2h1.0v1.0h-1.0zM271.0 74.6h1.0v1.0h-1.0zM271.3 75.2h1.0v1.0h-1.0zM315.2 43.8h1.0v1.0h-1.0zM315.8 44.3h1.0v1.0h-1.0zM315.2 43.6h1.0v1.0h-1.0zM289.4 67.6h1.0v1.0h-1.0zM289.1 67.8h1.0v1.0h-1.0zM289.9 68.0h1.0v1.0h-1.0zM317.3 56.8h1.0v1.0h-1.0zM317.5 56.6h1.0v1.0h-1.0zM279.0 66.8h1.0v1.0h-1.0zM299.3 60.0h1.0v1.0h-1.0zM299.0 59.7h1.0v1.0h-1.0zM299.8 59.5h1.0v1.0h-1.0zM299.6 60.2h1.0v1.0h-1.0zM319.7 55.6h1.0v1.0h-1.0zM319.3 55.9h1.0v1.0h-1.0zM302.3 59.3h1.0v1.0h-1.0zM302.7 59.1h1.0v1.0h-1.0zM310.2 57.9h1.0v1.0h-1.0zM310.8 58.3h1.0v1.0h-1.0zM310.4 57.9h1.0v1.0h-1.0zM301.6 57.8h1.0v1.0h-1.0zM301.0 58.2h1.0v1.0h-1.0zM274.4 68.4h1.0v1.0h-1.0zM274.4 68.3h1.0v1.0h-1.0zM285.6 67.0h1.0v1.0h-1.0zM309.6 57.9h1.0v1.0h-1.0zM309.8 57.8h1.0v1.0h-1.0zM309.4 58.1h1.0v1.0h-1.0zM318.4 44.5h1.0v1.0h-1.0zM318.1 45.5h1.0v1.0h-1.0zM318.1 44.8h1.0v1.0h-1.0zM300.5 57.8h1.0v1.0h-1.0zM300.6 58.1h1.0v1.0h-1.0zM299.9 59.4h1.0v1.0h-1.0zM299.1 58.6h1.0v1.0h-1.0zM316.7 43.7h1.0v1.0h-1.0zM316.1 44.4h1.0v1.0h-1.0zM310.9 48.7h1.0v1.0h-1.0zM310.0 49.5h1.0v1.0h-1.0zM310.9 49.4h1.0v1.0h-1.0zM310.8 49.2h1.0v1.0h-1.0zM312.6 47.0h1.0v1.0h-1.0zM313.5 45.7h1.0v1.0h-1.0zM313.0 46.2h1.0v1.0h-1.0zM270.5 72.1h1.0v1.0h-1.0zM270.2 71.8h1.0v1.0h-1.0zM311.3 56.8h1.0v1.0h-1.0zM311.9 57.0h1.0v1.0h-1.0zM311.8 56.5h1.0v1.0h-1.0zM290.7 69.8h1.0v1.0h-1.0zM290.3 69.9h1.0v1.0h-1.0zM309.2 55.7h1.0v1.0h-1.0zM309.6 56.3h1.0v1.0h-1.0zM288.2 68.3h1.0v1.0h-1.0zM288.8 68.1h1.0v1.0h-1.0zM288.7 76.4h1.0v1.0h-1.0zM287.9 76.4h1.0v1.0h-1.0zM290.0 72.7h1.0v1.0h-1.0zM290.9 72.7h1.0v1.0h-1.0zM301.3 59.7h1.0v1.0h-1.0zM301.8 60.0h1.0v1.0h-1.0zM301.4 60.0h1.0v1.0h-1.0zM300.3 60.4h1.0v1.0h-1.0zM322.1 48.4h1.0v1.0h-1.0zM289.0 69.0h1.0v1.0h-1.0zM289.3 68.9h1.0v1.0h-1.0zM270.4 74.0h1.0v1.0h-1.0zM270.5 73.6h1.0v1.0h-1.0zM311.5 48.2h1.0v1.0h-1.0zM311.9 48.5h1.0v1.0h-1.0zM310.9 48.1h1.0v1.0h-1.0zM284.3 67.3h1.0v1.0h-1.0zM284.7 67.5h1.0v1.0h-1.0zM284.1 66.9h1.0v1.0h-1.0zM309.9 57.4h1.0v1.0h-1.0zM290.6 70.9h1.0v1.0h-1.0zM290.4 70.9h1.0v1.0h-1.0zM310.1 54.8h1.0v1.0h-1.0zM310.5 55.5h1.0v1.0h-1.0zM290.0 71.9h1.0v1.0h-1.0zM310.7 56.7h1.0v1.0h-1.0zM310.4 57.1h1.0v1.0h-1.0zM310.2 57.0h1.0v1.0h-1.0zM310.0 57.5h1.0v1.0h-1.0zM301.5 59.2h1.0v1.0h-1.0zM301.9 58.6h1.0v1.0h-1.0zM301.2 58.7h1.0v1.0h-1.0zM301.4 58.6h1.0v1.0h-1.0zM300.9 58.6h1.0v1.0h-1.0zM310.2 55.6h1.0v1.0h-1.0zM309.9 55.9h1.0v1.0h-1.0zM310.8 56.3h1.0v1.0h-1.0zM287.7 68.0h1.0v1.0h-1.0zM287.4 68.3h1.0v1.0h-1.0zM287.4 68.3h1.0v1.0h-1.0zM320.3 54.0h1.0v1.0h-1.0zM320.4 53.8h1.0v1.0h-1.0zM320.5 53.8h1.0v1.0h-1.0zM320.3 54.2h1.0v1.0h-1.0zM320.6 54.0h1.0v1.0h-1.0zM300.4 59.2h1.0v1.0h-1.0zM300.6 58.9h1.0v1.0h-1.0zM300.4 58.8h1.0v1.0h-1.0zM310.5 54.5h1.0v1.0h-1.0zM289.7 75.1h1.0v1.0h-1.0zM289.0 74.7h1.0v1.0h-1.0zM289.3 75.2h1.0v1.0h-1.0zM289.3 74.7h1.0v1.0h-1.0zM289.8 74.5h1.0v1.0h-1.0zM322.9 50.2h1.0v1.0h-1.0zM322.0 50.3h1.0v1.0h-1.0zM322.2 50.4h1.0v1.0h-1.0zM322.6 49.6h1.0v1.0h-1.0zM322.6 50.2h1.0v1.0h-1.0zM322.5 49.6h1.0v1.0h-1.0zM270.1 72.8h1.0v1.0h-1.0zM270.9 72.9h1.0v1.0h-1.0zM270.6 73.3h1.0v1.0h-1.0zM270.5 72.5h1.0v1.0h-1.0zM311.1 55.6h1.0v1.0h-1.0zM311.9 56.4h1.0v1.0h-1.0zM317.6 45.1h1.0v1.0h-1.0zM310.4 50.3h1.0v1.0h-1.0zM310.1 49.6h1.0v1.0h-1.0zM283.0 66.6h1.0v1.0h-1.0zM283.3 67.4h1.0v1.0h-1.0zM283.5 67.3h1.0v1.0h-1.0zM273.3 68.5h1.0v1.0h-1.0zM273.2 69.1h1.0v1.0h-1.0zM273.7 74.6h1.0v1.0h-1.0zM272.5 70.4h1.0v1.0h-1.0zM272.3 70.3h1.0v1.0h-1.0zM272.6 70.5h1.0v1.0h-1.0zM272.1 70.5h1.0v1.0h-1.0zM272.5 70.4h1.0v1.0h-1.0zM322.6 49.5h1.0v1.0h-1.0zM316.7 44.6h1.0v1.0h-1.0zM316.1 45.1h1.0v1.0h-1.0zM275.9 67.6h1.0v1.0h-1.0zM275.4 68.1h1.0v1.0h-1.0zM275.8 68.3h1.0v1.0h-1.0zM318.9 46.2h1.0v1.0h-1.0zM319.2 46.3h1.0v1.0h-1.0zM319.6 45.7h1.0v1.0h-1.0zM287.9 68.7h1.0v1.0h-1.0zM289.4 69.7h1.0v1.0h-1.0zM289.1 69.6h1.0v1.0h-1.0zM289.1 69.9h1.0v1.0h-1.0zM287.0 76.4h1.0v1.0h-1.0zM287.0 75.9h1.0v1.0h-1.0zM287.8 76.3h1.0v1.0h-1.0zM287.1 76.0h1.0v1.0h-1.0zM287.5 76.0h1.0v1.0h-1.0zM287.5 76.4h1.0v1.0h-1.0zM287.3 76.4h1.0v1.0h-1.0zM310.3 52.8h1.0v1.0h-1.0zM310.8 52.5h1.0v1.0h-1.0zM310.3 53.4h1.0v1.0h-1.0zM321.6 47.5h1.0v1.0h-1.0zM321.8 47.1h1.0v1.0h-1.0zM321.2 47.2h1.0v1.0h-1.0zM320.6 52.8h1.0v1.0h-1.0zM320.1 52.6h1.0v1.0h-1.0zM286.8 67.6h1.0v1.0h-1.0zM318.8 56.2h1.0v1.0h-1.0zM318.1 55.9h1.0v1.0h-1.0zM318.8 55.7h1.0v1.0h-1.0zM314.8 45.9h1.0v1.0h-1.0zM314.5 45.8h1.0v1.0h-1.0zM314.1 46.2h1.0v1.0h-1.0zM282.7 67.4h1.0v1.0h-1.0zM282.6 67.3h1.0v1.0h-1.0zM310.1 51.3h1.0v1.0h-1.0zM311.8 55.5h1.0v1.0h-1.0zM311.6 54.8h1.0v1.0h-1.0zM274.9 76.4h1.0v1.0h-1.0zM275.2 76.4h1.0v1.0h-1.0zM313.1 55.5h1.0v1.0h-1.0zM313.4 55.8h1.0v1.0h-1.0zM280.9 66.8h1.0v1.0h-1.0zM281.9 67.4h1.0v1.0h-1.0zM281.0 66.9h1.0v1.0h-1.0zM319.0 55.2h1.0v1.0h-1.0zM319.1 55.1h1.0v1.0h-1.0zM271.7 74.0h1.0v1.0h-1.0zM271.5 73.5h1.0v1.0h-1.0zM271.0 74.4h1.0v1.0h-1.0zM310.8 51.6h1.0v1.0h-1.0zM310.2 52.2h1.0v1.0h-1.0zM310.4 51.7h1.0v1.0h-1.0zM313.8 47.4h1.0v1.0h-1.0zM313.4 46.9h1.0v1.0h-1.0zM313.3 46.7h1.0v1.0h-1.0zM289.3 74.0h1.0v1.0h-1.0zM289.7 73.6h1.0v1.0h-1.0zM271.9 71.5h1.0v1.0h-1.0zM271.5 72.0h1.0v1.0h-1.0zM320.8 52.0h1.0v1.0h-1.0zM285.1 67.7h1.0v1.0h-1.0zM285.3 68.3h1.0v1.0h-1.0zM285.7 67.9h1.0v1.0h-1.0zM285.0 67.8h1.0v1.0h-1.0zM285.2 67.9h1.0v1.0h-1.0zM311.8 49.4h1.0v1.0h-1.0zM311.6 48.8h1.0v1.0h-1.0zM312.7 47.5h1.0v1.0h-1.0zM312.1 48.4h1.0v1.0h-1.0zM312.4 47.8h1.0v1.0h-1.0zM286.3 76.1h1.0v1.0h-1.0zM289.1 70.8h1.0v1.0h-1.0zM289.8 71.5h1.0v1.0h-1.0zM314.3 56.5h1.0v1.0h-1.0zM314.0 55.8h1.0v1.0h-1.0zM314.2 55.6h1.0v1.0h-1.0zM314.4 55.9h1.0v1.0h-1.0zM314.7 56.0h1.0v1.0h-1.0zM287.1 68.6h1.0v1.0h-1.0zM287.4 69.2h1.0v1.0h-1.0zM287.0 69.0h1.0v1.0h-1.0zM276.2 68.0h1.0v1.0h-1.0zM275.9 68.3h1.0v1.0h-1.0zM276.5 67.7h1.0v1.0h-1.0zM276.5 67.6h1.0v1.0h-1.0zM317.0 55.9h1.0v1.0h-1.0zM317.0 56.4h1.0v1.0h-1.0zM317.1 55.8h1.0v1.0h-1.0zM284.9 67.6h1.0v1.0h-1.0zM274.5 69.3h1.0v1.0h-1.0zM274.8 69.5h1.0v1.0h-1.0zM288.9 72.8h1.0v1.0h-1.0zM289.8 73.2h1.0v1.0h-1.0zM289.2 73.0h1.0v1.0h-1.0zM289.4 72.6h1.0v1.0h-1.0zM315.4 46.4h1.0v1.0h-1.0zM315.3 46.4h1.0v1.0h-1.0zM315.4 46.3h1.0v1.0h-1.0zM315.9 45.8h1.0v1.0h-1.0zM315.6 46.3h1.0v1.0h-1.0zM271.2 72.6h1.0v1.0h-1.0zM271.2 73.2h1.0v1.0h-1.0zM271.2 72.7h1.0v1.0h-1.0zM271.5 72.7h1.0v1.0h-1.0zM271.7 72.9h1.0v1.0h-1.0zM315.9 56.4h1.0v1.0h-1.0zM315.5 56.0h1.0v1.0h-1.0zM315.0 55.9h1.0v1.0h-1.0zM315.1 55.8h1.0v1.0h-1.0zM315.8 55.7h1.0v1.0h-1.0zM311.2 53.8h1.0v1.0h-1.0zM311.2 54.1h1.0v1.0h-1.0zM316.1 55.6h1.0v1.0h-1.0zM316.6 56.5h1.0v1.0h-1.0zM288.2 70.1h1.0v1.0h-1.0zM288.4 69.6h1.0v1.0h-1.0zM288.4 70.0h1.0v1.0h-1.0zM288.7 70.4h1.0v1.0h-1.0zM272.7 73.8h1.0v1.0h-1.0zM289.0 71.8h1.0v1.0h-1.0zM289.8 71.6h1.0v1.0h-1.0zM288.9 72.1h1.0v1.0h-1.0zM288.9 71.8h1.0v1.0h-1.0zM288.2 75.2h1.0v1.0h-1.0zM288.0 75.2h1.0v1.0h-1.0zM288.9 74.9h1.0v1.0h-1.0zM288.6 75.1h1.0v1.0h-1.0zM288.8 75.0h1.0v1.0h-1.0zM277.9 68.0h1.0v1.0h-1.0zM274.3 74.6h1.0v1.0h-1.0zM274.3 74.6h1.0v1.0h-1.0zM273.9 74.9h1.0v1.0h-1.0zM312.1 54.8h1.0v1.0h-1.0zM311.9 55.4h1.0v1.0h-1.0zM312.8 54.7h1.0v1.0h-1.0zM312.2 54.7h1.0v1.0h-1.0zM317.8 45.9h1.0v1.0h-1.0zM317.5 45.5h1.0v1.0h-1.0zM317.5 46.5h1.0v1.0h-1.0zM316.9 46.1h1.0v1.0h-1.0zM317.6 45.8h1.0v1.0h-1.0zM317.0 46.2h1.0v1.0h-1.0zM317.1 46.3h1.0v1.0h-1.0zM272.3 71.4h1.0v1.0h-1.0zM272.0 71.1h1.0v1.0h-1.0zM278.0 67.8h1.0v1.0h-1.0zM278.5 67.6h1.0v1.0h-1.0zM278.5 68.1h1.0v1.0h-1.0zM278.6 67.6h1.0v1.0h-1.0zM320.3 47.2h1.0v1.0h-1.0zM320.1 47.4h1.0v1.0h-1.0zM320.5 46.7h1.0v1.0h-1.0zM320.2 47.2h1.0v1.0h-1.0zM320.3 46.6h1.0v1.0h-1.0zM283.1 67.8h1.0v1.0h-1.0zM285.8 75.8h1.0v1.0h-1.0zM285.1 76.4h1.0v1.0h-1.0zM285.6 76.4h1.0v1.0h-1.0zM285.8 76.4h1.0v1.0h-1.0zM285.3 75.7h1.0v1.0h-1.0zM284.9 76.3h1.0v1.0h-1.0z" fill="#3f88c2" opacity="1.0" filter="url(#soft)"/>
<path d="M273.4 69.7h1.0v1.0h-1.0zM273.1 69.8h1.0v1.0h-1.0zM273.7 69.6h1.0v1.0h-1.0zM321.0 47.9h1.0v1.0h-1.0zM321.0 48.3h1.0v1.0h-1.0zM321.5 47.6h1.0v1.0h-1.0zM321.2 48.4h1.0v1.0h-1.0zM321.3 47.8h1.0v1.0h-1.0zM319.0 53.7h1.0v1.0h-1.0zM321.2 49.7h1.0v1.0h-1.0zM320.9 50.0h1.0v1.0h-1.0zM320.9 50.3h1.0v1.0h-1.0zM311.2 50.5h1.0v1.0h-1.0zM311.5 50.2h1.0v1.0h-1.0zM310.9 50.1h1.0v1.0h-1.0zM320.6 51.0h1.0v1.0h-1.0zM320.9 51.1h1.0v1.0h-1.0zM320.5 50.9h1.0v1.0h-1.0zM320.8 50.5h1.0v1.0h-1.0zM286.1 69.1h1.0v1.0h-1.0zM314.6 47.2h1.0v1.0h-1.0zM314.4 47.0h1.0v1.0h-1.0zM314.7 47.1h1.0v1.0h-1.0zM311.1 53.1h1.0v1.0h-1.0zM311.6 52.6h1.0v1.0h-1.0zM311.9 53.0h1.0v1.0h-1.0zM311.1 53.3h1.0v1.0h-1.0zM317.9 54.7h1.0v1.0h-1.0zM317.9 55.4h1.0v1.0h-1.0zM318.1 55.3h1.0v1.0h-1.0zM284.5 75.8h1.0v1.0h-1.0zM283.9 75.5h1.0v1.0h-1.0zM284.5 76.4h1.0v1.0h-1.0zM284.1 76.4h1.0v1.0h-1.0zM284.9 76.2h1.0v1.0h-1.0zM284.0 76.4h1.0v1.0h-1.0zM284.5 76.1h1.0v1.0h-1.0zM273.6 74.2h1.0v1.0h-1.0zM272.9 74.0h1.0v1.0h-1.0zM273.1 74.3h1.0v1.0h-1.0zM273.8 74.3h1.0v1.0h-1.0zM279.3 67.8h1.0v1.0h-1.0zM279.2 68.2h1.0v1.0h-1.0zM279.5 67.7h1.0v1.0h-1.0zM276.4 76.4h1.0v1.0h-1.0zM276.0 76.4h1.0v1.0h-1.0zM276.6 75.6h1.0v1.0h-1.0zM276.1 76.4h1.0v1.0h-1.0zM276.2 76.4h1.0v1.0h-1.0zM276.7 76.4h1.0v1.0h-1.0zM321.8 48.7h1.0v1.0h-1.0zM321.0 48.6h1.0v1.0h-1.0zM321.2 48.9h1.0v1.0h-1.0zM321.6 48.8h1.0v1.0h-1.0zM321.8 48.6h1.0v1.0h-1.0zM288.1 74.1h1.0v1.0h-1.0zM319.5 53.2h1.0v1.0h-1.0zM319.1 52.9h1.0v1.0h-1.0zM318.9 53.1h1.0v1.0h-1.0zM287.2 69.5h1.0v1.0h-1.0zM319.8 46.8h1.0v1.0h-1.0zM319.0 46.9h1.0v1.0h-1.0zM288.6 70.8h1.0v1.0h-1.0zM288.0 70.9h1.0v1.0h-1.0zM313.2 47.5h1.0v1.0h-1.0zM287.5 74.7h1.0v1.0h-1.0zM287.1 74.8h1.0v1.0h-1.0zM287.7 75.4h1.0v1.0h-1.0zM287.2 74.6h1.0v1.0h-1.0zM287.1 75.1h1.0v1.0h-1.0zM311.3 51.1h1.0v1.0h-1.0zM311.1 51.1h1.0v1.0h-1.0zM311.8 50.5h1.0v1.0h-1.0zM312.9 49.0h1.0v1.0h-1.0zM312.8 49.3h1.0v1.0h-1.0zM312.7 48.8h1.0v1.0h-1.0zM282.5 67.8h1.0v1.0h-1.0zM281.9 68.4h1.0v1.0h-1.0zM282.0 68.3h1.0v1.0h-1.0zM282.0 68.3h1.0v1.0h-1.0zM282.6 68.5h1.0v1.0h-1.0zM282.2 68.0h1.0v1.0h-1.0zM312.9 54.9h1.0v1.0h-1.0zM313.9 54.7h1.0v1.0h-1.0zM313.8 55.0h1.0v1.0h-1.0zM313.8 54.6h1.0v1.0h-1.0zM272.4 73.0h1.0v1.0h-1.0zM272.1 73.2h1.0v1.0h-1.0zM272.5 73.2h1.0v1.0h-1.0zM272.6 72.8h1.0v1.0h-1.0zM272.8 73.4h1.0v1.0h-1.0zM272.3 72.4h1.0v1.0h-1.0zM272.2 72.2h1.0v1.0h-1.0zM272.0 72.0h1.0v1.0h-1.0zM272.4 71.8h1.0v1.0h-1.0zM272.3 71.7h1.0v1.0h-1.0zM275.2 69.4h1.0v1.0h-1.0zM285.8 68.5h1.0v1.0h-1.0zM285.0 68.7h1.0v1.0h-1.0zM285.2 68.7h1.0v1.0h-1.0zM285.7 69.2h1.0v1.0h-1.0zM285.8 69.2h1.0v1.0h-1.0zM285.7 69.5h1.0v1.0h-1.0zM285.2 68.6h1.0v1.0h-1.0zM311.0 52.4h1.0v1.0h-1.0zM311.1 52.1h1.0v1.0h-1.0zM311.2 52.1h1.0v1.0h-1.0zM311.9 51.7h1.0v1.0h-1.0zM311.9 51.8h1.0v1.0h-1.0zM311.1 52.1h1.0v1.0h-1.0zM311.7 52.4h1.0v1.0h-1.0zM311.9 51.7h1.0v1.0h-1.0zM283.5 76.4h1.0v1.0h-1.0zM319.3 52.3h1.0v1.0h-1.0zM319.5 52.1h1.0v1.0h-1.0zM319.4 51.6h1.0v1.0h-1.0zM312.8 54.0h1.0v1.0h-1.0zM312.3 54.4h1.0v1.0h-1.0zM288.6 72.6h1.0v1.0h-1.0zM288.3 72.9h1.0v1.0h-1.0zM282.4 75.7h1.0v1.0h-1.0zM282.3 76.4h1.0v1.0h-1.0zM282.6 75.7h1.0v1.0h-1.0zM284.4 69.1h1.0v1.0h-1.0zM284.3 69.2h1.0v1.0h-1.0zM284.8 69.2h1.0v1.0h-1.0zM318.0 46.8h1.0v1.0h-1.0zM318.3 46.9h1.0v1.0h-1.0zM318.0 47.4h1.0v1.0h-1.0zM288.1 71.7h1.0v1.0h-1.0zM288.2 72.5h1.0v1.0h-1.0zM288.2 71.7h1.0v1.0h-1.0zM288.1 72.0h1.0v1.0h-1.0zM288.1 71.5h1.0v1.0h-1.0zM281.2 76.4h1.0v1.0h-1.0zM281.8 76.0h1.0v1.0h-1.0zM281.2 76.0h1.0v1.0h-1.0zM281.8 76.4h1.0v1.0h-1.0zM281.6 76.4h1.0v1.0h-1.0zM281.9 76.4h1.0v1.0h-1.0zM280.9 76.4h1.0v1.0h-1.0zM314.9 47.2h1.0v1.0h-1.0zM315.7 47.5h1.0v1.0h-1.0zM280.8 76.4h1.0v1.0h-1.0zM279.9 76.4h1.0v1.0h-1.0zM280.5 76.4h1.0v1.0h-1.0zM280.2 76.4h1.0v1.0h-1.0zM280.7 68.3h1.0v1.0h-1.0zM280.8 68.2h1.0v1.0h-1.0zM280.7 67.6h1.0v1.0h-1.0zM280.8 68.0h1.0v1.0h-1.0zM280.7 68.5h1.0v1.0h-1.0zM317.5 55.2h1.0v1.0h-1.0zM317.6 54.9h1.0v1.0h-1.0zM317.3 55.0h1.0v1.0h-1.0zM317.8 55.5h1.0v1.0h-1.0zM320.3 50.4h1.0v1.0h-1.0zM320.1 49.7h1.0v1.0h-1.0zM320.2 50.4h1.0v1.0h-1.0zM320.7 50.4h1.0v1.0h-1.0zM320.5 50.0h1.0v1.0h-1.0zM320.4 50.3h1.0v1.0h-1.0zM320.1 50.4h1.0v1.0h-1.0zM320.6 50.3h1.0v1.0h-1.0zM320.5 48.4h1.0v1.0h-1.0zM320.5 48.1h1.0v1.0h-1.0zM320.8 48.2h1.0v1.0h-1.0zM281.8 68.2h1.0v1.0h-1.0zM281.7 67.8h1.0v1.0h-1.0zM281.2 68.5h1.0v1.0h-1.0zM281.0 68.4h1.0v1.0h-1.0zM274.4 70.5h1.0v1.0h-1.0zM274.2 70.0h1.0v1.0h-1.0zM274.3 70.0h1.0v1.0h-1.0zM274.1 70.4h1.0v1.0h-1.0zM275.8 75.0h1.0v1.0h-1.0zM275.2 74.8h1.0v1.0h-1.0zM275.2 74.8h1.0v1.0h-1.0zM314.6 54.7h1.0v1.0h-1.0zM283.3 69.4h1.0v1.0h-1.0zM286.2 70.2h1.0v1.0h-1.0zM286.2 70.3h1.0v1.0h-1.0zM286.5 70.0h1.0v1.0h-1.0zM286.4 70.0h1.0v1.0h-1.0zM286.5 69.5h1.0v1.0h-1.0zM286.9 75.1h1.0v1.0h-1.0zM286.6 75.1h1.0v1.0h-1.0zM273.7 71.1h1.0v1.0h-1.0zM273.7 71.3h1.0v1.0h-1.0zM317.3 47.3h1.0v1.0h-1.0zM317.3 47.5h1.0v1.0h-1.0zM317.8 46.5h1.0v1.0h-1.0zM317.0 46.6h1.0v1.0h-1.0zM279.2 75.6h1.0v1.0h-1.0zM279.2 76.1h1.0v1.0h-1.0zM279.5 76.4h1.0v1.0h-1.0zM279.3 75.9h1.0v1.0h-1.0zM277.4 76.4h1.0v1.0h-1.0zM277.9 76.4h1.0v1.0h-1.0zM277.0 76.4h1.0v1.0h-1.0zM277.2 76.4h1.0v1.0h-1.0zM277.4 75.7h1.0v1.0h-1.0zM277.6 76.4h1.0v1.0h-1.0zM277.2 75.6h1.0v1.0h-1.0zM316.2 47.2h1.0v1.0h-1.0zM316.7 46.9h1.0v1.0h-1.0zM316.8 46.5h1.0v1.0h-1.0zM316.9 47.3h1.0v1.0h-1.0zM287.1 70.5h1.0v1.0h-1.0zM287.3 71.1h1.0v1.0h-1.0zM287.9 71.1h1.0v1.0h-1.0zM287.0 70.5h1.0v1.0h-1.0zM318.2 54.5h1.0v1.0h-1.0zM318.2 53.8h1.0v1.0h-1.0zM318.7 53.6h1.0v1.0h-1.0zM287.6 73.7h1.0v1.0h-1.0zM312.6 50.5h1.0v1.0h-1.0zM312.8 50.1h1.0v1.0h-1.0zM316.9 55.3h1.0v1.0h-1.0zM315.3 54.6h1.0v1.0h-1.0zM315.7 55.0h1.0v1.0h-1.0zM315.4 55.1h1.0v1.0h-1.0zM315.4 55.5h1.0v1.0h-1.0zM315.1 55.3h1.0v1.0h-1.0zM278.0 76.4h1.0v1.0h-1.0zM277.9 76.4h1.0v1.0h-1.0zM278.0 76.4h1.0v1.0h-1.0zM278.7 76.4h1.0v1.0h-1.0zM278.1 76.0h1.0v1.0h-1.0zM277.9 76.4h1.0v1.0h-1.0zM278.5 76.4h1.0v1.0h-1.0zM278.5 76.4h1.0v1.0h-1.0zM278.1 76.2h1.0v1.0h-1.0zM276.5 68.9h1.0v1.0h-1.0zM276.5 68.7h1.0v1.0h-1.0zM276.7 68.7h1.0v1.0h-1.0zM276.6 68.6h1.0v1.0h-1.0zM276.7 69.0h1.0v1.0h-1.0zM276.7 69.2h1.0v1.0h-1.0zM312.4 53.3h1.0v1.0h-1.0zM312.5 52.6h1.0v1.0h-1.0zM312.6 52.7h1.0v1.0h-1.0zM274.0 74.4h1.0v1.0h-1.0zM274.4 73.9h1.0v1.0h-1.0zM320.0 48.9h1.0v1.0h-1.0zM320.0 49.4h1.0v1.0h-1.0zM320.3 49.2h1.0v1.0h-1.0zM314.8 48.0h1.0v1.0h-1.0zM313.9 48.2h1.0v1.0h-1.0zM314.0 48.1h1.0v1.0h-1.0zM273.8 72.7h1.0v1.0h-1.0zM273.3 73.0h1.0v1.0h-1.0zM319.0 48.0h1.0v1.0h-1.0zM319.1 48.0h1.0v1.0h-1.0zM318.9 47.9h1.0v1.0h-1.0zM319.7 47.9h1.0v1.0h-1.0zM319.5 47.8h1.0v1.0h-1.0zM319.3 48.0h1.0v1.0h-1.0zM313.1 49.1h1.0v1.0h-1.0zM313.4 49.4h1.0v1.0h-1.0zM313.6 48.5h1.0v1.0h-1.0zM313.4 48.8h1.0v1.0h-1.0zM313.8 49.2h1.0v1.0h-1.0zM313.5 48.7h1.0v1.0h-1.0zM313.5 53.6h1.0v1.0h-1.0zM313.2 54.4h1.0v1.0h-1.0zM313.3 54.1h1.0v1.0h-1.0zM313.4 54.2h1.0v1.0h-1.0zM313.1 53.9h1.0v1.0h-1.0zM313.6 54.0h1.0v1.0h-1.0zM287.1 73.2h1.0v1.0h-1.0zM287.9 73.0h1.0v1.0h-1.0zM287.6 73.4h1.0v1.0h-1.0zM285.0 70.0h1.0v1.0h-1.0zM285.5 70.2h1.0v1.0h-1.0zM287.0 72.0h1.0v1.0h-1.0zM286.9 72.3h1.0v1.0h-1.0zM287.1 72.1h1.0v1.0h-1.0zM287.5 72.1h1.0v1.0h-1.0zM287.9 72.0h1.0v1.0h-1.0zM287.7 72.0h1.0v1.0h-1.0zM287.2 71.9h1.0v1.0h-1.0zM287.2 72.3h1.0v1.0h-1.0zM272.9 72.1h1.0v1.0h-1.0zM273.2 72.3h1.0v1.0h-1.0zM273.7 72.0h1.0v1.0h-1.0zM273.2 71.6h1.0v1.0h-1.0zM273.9 72.0h1.0v1.0h-1.0zM277.6 69.5h1.0v1.0h-1.0zM276.9 68.6h1.0v1.0h-1.0zM277.0 68.9h1.0v1.0h-1.0zM277.0 68.6h1.0v1.0h-1.0zM319.1 50.2h1.0v1.0h-1.0zM312.5 51.1h1.0v1.0h-1.0zM312.8 50.5h1.0v1.0h-1.0zM312.5 51.4h1.0v1.0h-1.0zM311.9 51.0h1.0v1.0h-1.0zM285.1 75.3h1.0v1.0h-1.0zM285.1 75.1h1.0v1.0h-1.0zM285.1 75.1h1.0v1.0h-1.0zM285.5 75.0h1.0v1.0h-1.0zM285.3 74.5h1.0v1.0h-1.0zM285.8 74.8h1.0v1.0h-1.0zM312.8 51.5h1.0v1.0h-1.0zM312.9 51.5h1.0v1.0h-1.0zM318.2 53.1h1.0v1.0h-1.0zM318.1 53.2h1.0v1.0h-1.0zM318.8 53.0h1.0v1.0h-1.0zM318.1 52.6h1.0v1.0h-1.0zM318.3 52.5h1.0v1.0h-1.0zM318.1 52.6h1.0v1.0h-1.0zM282.8 69.4h1.0v1.0h-1.0zM282.6 68.8h1.0v1.0h-1.0z" fill="#3b9db0" opacity="1.0" filter="url(#soft)"/>
<path d="M278.6 68.9h1.0v1.0h-1.0zM278.9 69.4h1.0v1.0h-1.0zM317.9 47.8h1.0v1.0h-1.0zM318.6 47.6h1.0v1.0h-1.0zM317.9 47.7h1.0v1.0h-1.0zM318.3 48.0h1.0v1.0h-1.0zM286.8 71.0h1.0v1.0h-1.0zM286.3 71.2h1.0v1.0h-1.0zM286.6 70.8h1.0v1.0h-1.0zM319.4 49.2h1.0v1.0h-1.0zM319.0 48.9h1.0v1.0h-1.0zM319.2 49.2h1.0v1.0h-1.0zM319.6 48.6h1.0v1.0h-1.0zM319.8 48.7h1.0v1.0h-1.0zM286.0 74.1h1.0v1.0h-1.0zM286.1 74.2h1.0v1.0h-1.0zM286.0 73.7h1.0v1.0h-1.0zM285.9 73.8h1.0v1.0h-1.0zM318.8 51.5h1.0v1.0h-1.0zM318.3 51.9h1.0v1.0h-1.0zM318.2 51.9h1.0v1.0h-1.0zM284.8 70.0h1.0v1.0h-1.0zM284.1 70.1h1.0v1.0h-1.0zM284.0 69.8h1.0v1.0h-1.0zM284.6 69.5h1.0v1.0h-1.0zM284.7 70.0h1.0v1.0h-1.0zM315.7 47.9h1.0v1.0h-1.0zM315.9 47.9h1.0v1.0h-1.0zM315.1 48.0h1.0v1.0h-1.0zM315.8 48.4h1.0v1.0h-1.0zM315.4 48.3h1.0v1.0h-1.0zM315.4 48.5h1.0v1.0h-1.0zM317.8 53.9h1.0v1.0h-1.0zM317.3 54.5h1.0v1.0h-1.0zM317.4 54.1h1.0v1.0h-1.0zM317.1 53.8h1.0v1.0h-1.0zM317.9 54.5h1.0v1.0h-1.0zM317.9 54.4h1.0v1.0h-1.0zM317.4 53.7h1.0v1.0h-1.0zM317.4 48.2h1.0v1.0h-1.0zM317.4 47.8h1.0v1.0h-1.0zM318.0 50.8h1.0v1.0h-1.0zM318.4 50.6h1.0v1.0h-1.0zM276.1 75.2h1.0v1.0h-1.0zM276.6 74.9h1.0v1.0h-1.0zM276.5 75.3h1.0v1.0h-1.0zM276.3 74.9h1.0v1.0h-1.0zM276.1 75.3h1.0v1.0h-1.0zM276.3 75.1h1.0v1.0h-1.0zM276.4 74.9h1.0v1.0h-1.0zM276.9 74.8h1.0v1.0h-1.0zM279.0 68.6h1.0v1.0h-1.0zM279.7 69.1h1.0v1.0h-1.0zM279.7 68.9h1.0v1.0h-1.0zM314.5 53.6h1.0v1.0h-1.0zM314.2 53.8h1.0v1.0h-1.0zM314.4 54.2h1.0v1.0h-1.0zM314.9 53.9h1.0v1.0h-1.0zM314.7 53.8h1.0v1.0h-1.0zM314.9 53.6h1.0v1.0h-1.0zM274.5 70.6h1.0v1.0h-1.0zM274.1 71.1h1.0v1.0h-1.0zM274.8 71.5h1.0v1.0h-1.0zM313.3 50.0h1.0v1.0h-1.0zM313.3 49.8h1.0v1.0h-1.0zM313.0 50.2h1.0v1.0h-1.0zM313.8 49.6h1.0v1.0h-1.0zM313.7 49.5h1.0v1.0h-1.0zM316.5 48.1h1.0v1.0h-1.0zM315.9 47.7h1.0v1.0h-1.0zM315.9 48.1h1.0v1.0h-1.0zM316.3 48.1h1.0v1.0h-1.0zM316.0 47.8h1.0v1.0h-1.0zM316.4 47.5h1.0v1.0h-1.0zM313.8 53.3h1.0v1.0h-1.0zM313.9 52.7h1.0v1.0h-1.0zM284.7 74.7h1.0v1.0h-1.0zM284.0 75.3h1.0v1.0h-1.0zM284.5 74.9h1.0v1.0h-1.0zM314.3 49.0h1.0v1.0h-1.0zM314.5 48.7h1.0v1.0h-1.0zM314.6 49.4h1.0v1.0h-1.0zM314.6 48.7h1.0v1.0h-1.0zM314.6 48.8h1.0v1.0h-1.0zM314.1 49.2h1.0v1.0h-1.0zM283.0 69.8h1.0v1.0h-1.0zM286.4 72.2h1.0v1.0h-1.0zM286.5 71.7h1.0v1.0h-1.0zM285.9 72.5h1.0v1.0h-1.0zM286.3 73.1h1.0v1.0h-1.0zM286.0 72.7h1.0v1.0h-1.0zM286.4 73.5h1.0v1.0h-1.0zM286.3 73.4h1.0v1.0h-1.0zM286.9 73.1h1.0v1.0h-1.0zM286.9 72.7h1.0v1.0h-1.0zM286.7 72.6h1.0v1.0h-1.0zM286.7 72.7h1.0v1.0h-1.0zM281.0 69.4h1.0v1.0h-1.0zM281.8 69.0h1.0v1.0h-1.0zM281.7 68.5h1.0v1.0h-1.0zM280.9 69.4h1.0v1.0h-1.0zM280.9 68.6h1.0v1.0h-1.0zM281.5 69.5h1.0v1.0h-1.0zM318.4 49.1h1.0v1.0h-1.0zM318.9 49.1h1.0v1.0h-1.0zM318.3 49.0h1.0v1.0h-1.0zM318.9 48.6h1.0v1.0h-1.0zM318.7 49.3h1.0v1.0h-1.0zM318.9 49.8h1.0v1.0h-1.0zM318.5 50.4h1.0v1.0h-1.0zM318.6 49.9h1.0v1.0h-1.0zM318.0 50.0h1.0v1.0h-1.0zM318.0 50.3h1.0v1.0h-1.0zM318.9 49.8h1.0v1.0h-1.0zM318.5 49.7h1.0v1.0h-1.0zM318.8 50.2h1.0v1.0h-1.0zM274.4 72.9h1.0v1.0h-1.0zM274.9 73.0h1.0v1.0h-1.0zM274.5 73.3h1.0v1.0h-1.0zM274.8 72.9h1.0v1.0h-1.0zM285.6 71.2h1.0v1.0h-1.0zM285.8 71.0h1.0v1.0h-1.0zM285.6 70.9h1.0v1.0h-1.0zM285.6 71.2h1.0v1.0h-1.0zM285.0 70.9h1.0v1.0h-1.0zM285.9 70.8h1.0v1.0h-1.0zM315.9 54.3h1.0v1.0h-1.0zM316.0 54.1h1.0v1.0h-1.0zM316.1 54.2h1.0v1.0h-1.0zM316.7 54.1h1.0v1.0h-1.0zM316.2 53.6h1.0v1.0h-1.0zM315.6 54.4h1.0v1.0h-1.0zM315.6 54.0h1.0v1.0h-1.0zM315.5 53.7h1.0v1.0h-1.0zM280.2 68.9h1.0v1.0h-1.0zM280.1 69.2h1.0v1.0h-1.0zM280.5 68.8h1.0v1.0h-1.0zM280.5 68.5h1.0v1.0h-1.0zM280.5 68.7h1.0v1.0h-1.0zM280.4 69.3h1.0v1.0h-1.0zM280.6 68.6h1.0v1.0h-1.0zM280.5 69.1h1.0v1.0h-1.0zM280.3 68.8h1.0v1.0h-1.0zM285.4 74.2h1.0v1.0h-1.0zM285.5 73.9h1.0v1.0h-1.0zM285.1 73.8h1.0v1.0h-1.0zM313.2 51.5h1.0v1.0h-1.0zM313.5 50.6h1.0v1.0h-1.0zM313.1 51.1h1.0v1.0h-1.0zM313.6 51.4h1.0v1.0h-1.0zM313.8 51.4h1.0v1.0h-1.0zM313.1 51.7h1.0v1.0h-1.0zM313.5 51.9h1.0v1.0h-1.0zM313.3 51.6h1.0v1.0h-1.0zM313.5 51.9h1.0v1.0h-1.0zM313.7 52.2h1.0v1.0h-1.0zM313.2 52.4h1.0v1.0h-1.0zM280.6 75.0h1.0v1.0h-1.0zM280.6 75.0h1.0v1.0h-1.0zM280.6 75.0h1.0v1.0h-1.0zM283.7 75.3h1.0v1.0h-1.0zM283.8 74.8h1.0v1.0h-1.0zM283.4 75.1h1.0v1.0h-1.0zM283.2 75.1h1.0v1.0h-1.0zM283.9 74.5h1.0v1.0h-1.0zM283.7 75.4h1.0v1.0h-1.0zM282.9 75.0h1.0v1.0h-1.0zM279.1 74.9h1.0v1.0h-1.0zM279.4 75.5h1.0v1.0h-1.0zM279.7 74.9h1.0v1.0h-1.0zM279.1 74.6h1.0v1.0h-1.0zM279.4 75.1h1.0v1.0h-1.0zM278.9 75.3h1.0v1.0h-1.0zM279.1 74.9h1.0v1.0h-1.0zM279.0 74.7h1.0v1.0h-1.0zM279.5 75.1h1.0v1.0h-1.0zM279.4 75.2h1.0v1.0h-1.0zM317.4 52.9h1.0v1.0h-1.0zM316.9 52.6h1.0v1.0h-1.0zM317.2 52.5h1.0v1.0h-1.0zM317.7 52.9h1.0v1.0h-1.0zM317.5 52.6h1.0v1.0h-1.0zM317.4 52.9h1.0v1.0h-1.0zM274.9 72.2h1.0v1.0h-1.0zM274.8 72.3h1.0v1.0h-1.0zM274.2 71.5h1.0v1.0h-1.0zM274.5 72.1h1.0v1.0h-1.0zM274.0 71.9h1.0v1.0h-1.0zM274.7 72.0h1.0v1.0h-1.0zM274.7 72.4h1.0v1.0h-1.0zM274.2 72.0h1.0v1.0h-1.0zM274.7 71.6h1.0v1.0h-1.0zM274.6 72.3h1.0v1.0h-1.0zM277.3 74.8h1.0v1.0h-1.0zM277.7 75.1h1.0v1.0h-1.0zM277.8 74.6h1.0v1.0h-1.0zM277.4 75.0h1.0v1.0h-1.0zM277.2 74.5h1.0v1.0h-1.0zM277.6 74.6h1.0v1.0h-1.0zM281.1 75.1h1.0v1.0h-1.0zM281.0 74.9h1.0v1.0h-1.0zM281.3 75.2h1.0v1.0h-1.0zM280.9 75.1h1.0v1.0h-1.0zM317.3 48.7h1.0v1.0h-1.0zM317.9 48.8h1.0v1.0h-1.0zM317.8 49.3h1.0v1.0h-1.0zM317.8 49.5h1.0v1.0h-1.0zM317.0 49.1h1.0v1.0h-1.0zM315.0 49.2h1.0v1.0h-1.0zM315.9 49.5h1.0v1.0h-1.0zM315.6 48.6h1.0v1.0h-1.0zM315.1 49.2h1.0v1.0h-1.0zM315.5 48.6h1.0v1.0h-1.0zM278.5 74.5h1.0v1.0h-1.0zM278.8 74.9h1.0v1.0h-1.0zM278.4 75.4h1.0v1.0h-1.0zM282.4 75.0h1.0v1.0h-1.0zM282.0 75.1h1.0v1.0h-1.0zM282.7 75.4h1.0v1.0h-1.0zM282.5 74.9h1.0v1.0h-1.0zM282.0 74.6h1.0v1.0h-1.0zM282.4 75.1h1.0v1.0h-1.0zM282.7 75.4h1.0v1.0h-1.0zM276.5 70.3h1.0v1.0h-1.0zM276.2 69.9h1.0v1.0h-1.0zM276.9 70.1h1.0v1.0h-1.0zM276.7 70.5h1.0v1.0h-1.0zM276.9 69.7h1.0v1.0h-1.0zM276.5 69.8h1.0v1.0h-1.0zM282.8 69.6h1.0v1.0h-1.0zM282.2 69.9h1.0v1.0h-1.0zM282.8 69.9h1.0v1.0h-1.0zM282.3 69.9h1.0v1.0h-1.0zM281.9 69.7h1.0v1.0h-1.0zM284.5 70.9h1.0v1.0h-1.0zM284.1 70.7h1.0v1.0h-1.0zM284.4 71.0h1.0v1.0h-1.0zM284.6 70.8h1.0v1.0h-1.0zM284.7 71.4h1.0v1.0h-1.0zM284.4 71.5h1.0v1.0h-1.0zM285.7 71.8h1.0v1.0h-1.0zM285.0 72.0h1.0v1.0h-1.0zM285.2 72.1h1.0v1.0h-1.0zM314.4 52.7h1.0v1.0h-1.0zM314.5 52.9h1.0v1.0h-1.0zM314.6 52.7h1.0v1.0h-1.0zM314.8 53.5h1.0v1.0h-1.0zM314.7 52.8h1.0v1.0h-1.0zM314.5 49.8h1.0v1.0h-1.0zM314.4 50.5h1.0v1.0h-1.0zM316.1 48.7h1.0v1.0h-1.0zM316.3 48.7h1.0v1.0h-1.0zM316.7 48.7h1.0v1.0h-1.0zM316.2 48.8h1.0v1.0h-1.0zM316.6 48.7h1.0v1.0h-1.0zM316.1 49.5h1.0v1.0h-1.0zM317.7 51.7h1.0v1.0h-1.0zM317.1 52.1h1.0v1.0h-1.0zM317.5 51.6h1.0v1.0h-1.0zM317.8 52.3h1.0v1.0h-1.0zM317.3 52.2h1.0v1.0h-1.0zM317.8 51.6h1.0v1.0h-1.0zM317.2 51.7h1.0v1.0h-1.0zM317.5 52.1h1.0v1.0h-1.0zM285.4 73.1h1.0v1.0h-1.0zM285.8 73.1h1.0v1.0h-1.0zM284.9 73.0h1.0v1.0h-1.0zM285.9 73.5h1.0v1.0h-1.0zM285.1 72.6h1.0v1.0h-1.0zM285.3 73.2h1.0v1.0h-1.0zM317.2 50.5h1.0v1.0h-1.0zM317.2 49.9h1.0v1.0h-1.0zM317.4 49.8h1.0v1.0h-1.0zM317.6 49.7h1.0v1.0h-1.0zM317.5 50.4h1.0v1.0h-1.0zM317.5 49.7h1.0v1.0h-1.0zM317.8 50.4h1.0v1.0h-1.0zM317.8 49.7h1.0v1.0h-1.0zM316.9 51.2h1.0v1.0h-1.0zM317.9 51.3h1.0v1.0h-1.0z" fill="#4db47c" opacity="1.0" filter="url(#soft)"/>
<path d="M277.5 70.1h1.0v1.0h-1.0zM277.3 69.9h1.0v1.0h-1.0zM277.6 70.2h1.0v1.0h-1.0zM277.2 69.6h1.0v1.0h-1.0zM284.4 73.9h1.0v1.0h-1.0zM284.2 73.6h1.0v1.0h-1.0zM284.0 73.5h1.0v1.0h-1.0zM316.8 52.6h1.0v1.0h-1.0zM316.6 52.9h1.0v1.0h-1.0zM316.4 53.4h1.0v1.0h-1.0zM316.0 53.5h1.0v1.0h-1.0zM278.0 70.5h1.0v1.0h-1.0zM278.7 70.3h1.0v1.0h-1.0zM278.1 70.0h1.0v1.0h-1.0zM278.2 69.9h1.0v1.0h-1.0zM278.1 70.4h1.0v1.0h-1.0zM275.7 70.7h1.0v1.0h-1.0zM275.9 71.1h1.0v1.0h-1.0zM275.8 71.0h1.0v1.0h-1.0zM275.8 71.1h1.0v1.0h-1.0zM314.9 53.1h1.0v1.0h-1.0zM314.9 53.5h1.0v1.0h-1.0zM315.4 53.5h1.0v1.0h-1.0zM315.3 52.8h1.0v1.0h-1.0zM315.6 53.5h1.0v1.0h-1.0zM315.9 53.0h1.0v1.0h-1.0zM315.3 53.0h1.0v1.0h-1.0zM315.3 53.4h1.0v1.0h-1.0zM315.5 52.7h1.0v1.0h-1.0zM314.1 50.6h1.0v1.0h-1.0zM314.3 51.5h1.0v1.0h-1.0zM314.6 51.0h1.0v1.0h-1.0zM314.8 51.0h1.0v1.0h-1.0zM314.2 50.6h1.0v1.0h-1.0zM314.4 50.6h1.0v1.0h-1.0zM314.4 51.3h1.0v1.0h-1.0zM314.4 50.9h1.0v1.0h-1.0zM314.5 50.6h1.0v1.0h-1.0zM314.2 50.9h1.0v1.0h-1.0zM314.0 51.2h1.0v1.0h-1.0zM313.9 52.1h1.0v1.0h-1.0zM314.2 52.0h1.0v1.0h-1.0zM314.1 51.8h1.0v1.0h-1.0zM314.6 51.9h1.0v1.0h-1.0zM314.7 52.3h1.0v1.0h-1.0zM315.8 50.2h1.0v1.0h-1.0zM315.2 50.2h1.0v1.0h-1.0zM315.7 49.7h1.0v1.0h-1.0zM315.9 50.2h1.0v1.0h-1.0zM283.4 71.0h1.0v1.0h-1.0zM283.4 70.9h1.0v1.0h-1.0zM283.7 71.2h1.0v1.0h-1.0zM283.0 70.8h1.0v1.0h-1.0zM283.5 71.1h1.0v1.0h-1.0zM283.0 70.7h1.0v1.0h-1.0zM276.1 74.2h1.0v1.0h-1.0zM276.1 74.4h1.0v1.0h-1.0zM316.8 49.7h1.0v1.0h-1.0zM316.4 50.3h1.0v1.0h-1.0zM316.7 49.8h1.0v1.0h-1.0zM316.6 50.4h1.0v1.0h-1.0zM316.0 50.2h1.0v1.0h-1.0zM316.8 49.9h1.0v1.0h-1.0zM316.4 50.2h1.0v1.0h-1.0zM279.1 70.0h1.0v1.0h-1.0zM279.5 70.2h1.0v1.0h-1.0zM279.5 69.5h1.0v1.0h-1.0zM279.2 70.1h1.0v1.0h-1.0zM281.8 69.8h1.0v1.0h-1.0zM280.9 70.0h1.0v1.0h-1.0zM281.0 70.5h1.0v1.0h-1.0zM275.5 72.8h1.0v1.0h-1.0zM275.8 72.7h1.0v1.0h-1.0zM275.0 72.6h1.0v1.0h-1.0zM275.6 72.6h1.0v1.0h-1.0zM275.8 73.1h1.0v1.0h-1.0zM274.9 73.1h1.0v1.0h-1.0zM275.4 73.3h1.0v1.0h-1.0zM275.2 72.9h1.0v1.0h-1.0zM279.4 74.1h1.0v1.0h-1.0zM279.2 73.9h1.0v1.0h-1.0zM279.6 73.9h1.0v1.0h-1.0zM279.4 73.9h1.0v1.0h-1.0zM283.9 71.9h1.0v1.0h-1.0zM284.4 72.2h1.0v1.0h-1.0zM284.1 72.4h1.0v1.0h-1.0zM284.3 71.8h1.0v1.0h-1.0zM284.4 72.1h1.0v1.0h-1.0zM284.7 71.9h1.0v1.0h-1.0zM284.9 71.5h1.0v1.0h-1.0zM284.5 71.6h1.0v1.0h-1.0zM316.8 52.4h1.0v1.0h-1.0zM316.1 52.1h1.0v1.0h-1.0zM316.0 51.8h1.0v1.0h-1.0zM316.8 52.1h1.0v1.0h-1.0zM316.0 51.5h1.0v1.0h-1.0zM316.1 52.5h1.0v1.0h-1.0zM316.4 51.9h1.0v1.0h-1.0zM316.7 51.1h1.0v1.0h-1.0zM316.5 50.5h1.0v1.0h-1.0zM316.0 51.2h1.0v1.0h-1.0zM316.7 50.6h1.0v1.0h-1.0zM316.6 50.6h1.0v1.0h-1.0zM316.2 50.9h1.0v1.0h-1.0zM280.2 70.4h1.0v1.0h-1.0zM280.7 69.8h1.0v1.0h-1.0zM280.7 69.7h1.0v1.0h-1.0zM280.6 69.9h1.0v1.0h-1.0zM280.9 70.2h1.0v1.0h-1.0zM280.3 74.3h1.0v1.0h-1.0zM279.9 73.8h1.0v1.0h-1.0zM280.4 74.2h1.0v1.0h-1.0zM279.9 74.1h1.0v1.0h-1.0zM280.0 73.7h1.0v1.0h-1.0zM284.6 73.4h1.0v1.0h-1.0zM284.3 72.8h1.0v1.0h-1.0zM284.1 72.9h1.0v1.0h-1.0zM284.0 73.0h1.0v1.0h-1.0zM284.3 72.7h1.0v1.0h-1.0zM284.9 72.6h1.0v1.0h-1.0zM278.0 73.9h1.0v1.0h-1.0zM277.9 74.3h1.0v1.0h-1.0zM278.3 73.8h1.0v1.0h-1.0zM315.0 50.8h1.0v1.0h-1.0zM315.2 51.0h1.0v1.0h-1.0zM315.6 50.6h1.0v1.0h-1.0zM315.9 51.0h1.0v1.0h-1.0zM315.7 51.0h1.0v1.0h-1.0zM315.4 52.4h1.0v1.0h-1.0zM315.1 51.7h1.0v1.0h-1.0zM315.7 52.2h1.0v1.0h-1.0zM315.7 52.2h1.0v1.0h-1.0zM315.7 51.9h1.0v1.0h-1.0zM315.1 52.5h1.0v1.0h-1.0zM315.1 51.7h1.0v1.0h-1.0zM283.3 74.0h1.0v1.0h-1.0zM283.8 73.5h1.0v1.0h-1.0zM283.0 74.0h1.0v1.0h-1.0zM283.5 73.7h1.0v1.0h-1.0zM283.1 74.0h1.0v1.0h-1.0zM283.4 73.7h1.0v1.0h-1.0zM283.6 73.8h1.0v1.0h-1.0zM283.3 74.1h1.0v1.0h-1.0zM283.4 74.4h1.0v1.0h-1.0zM283.3 73.6h1.0v1.0h-1.0zM276.9 73.7h1.0v1.0h-1.0zM277.4 73.6h1.0v1.0h-1.0zM277.2 74.0h1.0v1.0h-1.0zM277.1 73.7h1.0v1.0h-1.0zM275.7 71.9h1.0v1.0h-1.0zM275.4 72.0h1.0v1.0h-1.0zM275.0 72.1h1.0v1.0h-1.0zM274.9 72.0h1.0v1.0h-1.0zM275.2 71.7h1.0v1.0h-1.0zM274.9 72.0h1.0v1.0h-1.0zM282.1 71.5h1.0v1.0h-1.0zM282.0 71.1h1.0v1.0h-1.0zM282.9 70.7h1.0v1.0h-1.0zM282.1 70.7h1.0v1.0h-1.0zM282.4 70.9h1.0v1.0h-1.0zM280.9 73.9h1.0v1.0h-1.0zM281.3 74.5h1.0v1.0h-1.0zM281.4 74.3h1.0v1.0h-1.0zM281.8 74.1h1.0v1.0h-1.0zM281.5 73.7h1.0v1.0h-1.0zM281.8 74.0h1.0v1.0h-1.0zM282.4 74.3h1.0v1.0h-1.0zM281.9 74.2h1.0v1.0h-1.0zM282.2 74.1h1.0v1.0h-1.0zM282.2 74.4h1.0v1.0h-1.0zM282.2 74.0h1.0v1.0h-1.0zM282.9 73.6h1.0v1.0h-1.0zM281.9 73.6h1.0v1.0h-1.0zM283.8 71.5h1.0v1.0h-1.0zM283.4 71.7h1.0v1.0h-1.0zM283.4 72.2h1.0v1.0h-1.0zM283.9 72.4h1.0v1.0h-1.0zM283.5 71.8h1.0v1.0h-1.0zM283.8 72.1h1.0v1.0h-1.0zM283.7 71.6h1.0v1.0h-1.0zM283.6 72.4h1.0v1.0h-1.0zM283.0 71.7h1.0v1.0h-1.0zM276.8 71.3h1.0v1.0h-1.0zM276.6 71.3h1.0v1.0h-1.0zM276.6 71.3h1.0v1.0h-1.0zM276.0 70.9h1.0v1.0h-1.0zM275.9 70.7h1.0v1.0h-1.0zM276.1 70.5h1.0v1.0h-1.0zM275.9 70.7h1.0v1.0h-1.0zM276.5 70.7h1.0v1.0h-1.0zM276.6 70.8h1.0v1.0h-1.0zM276.4 70.7h1.0v1.0h-1.0zM276.7 70.9h1.0v1.0h-1.0zM279.5 73.0h1.0v1.0h-1.0zM279.3 72.8h1.0v1.0h-1.0zM279.8 73.4h1.0v1.0h-1.0zM283.2 72.8h1.0v1.0h-1.0zM283.8 73.1h1.0v1.0h-1.0zM283.2 73.0h1.0v1.0h-1.0zM283.6 73.4h1.0v1.0h-1.0zM281.1 70.8h1.0v1.0h-1.0zM281.2 71.0h1.0v1.0h-1.0zM281.1 71.3h1.0v1.0h-1.0zM281.7 70.8h1.0v1.0h-1.0zM281.4 70.6h1.0v1.0h-1.0zM281.6 70.8h1.0v1.0h-1.0zM281.6 70.6h1.0v1.0h-1.0zM281.6 71.0h1.0v1.0h-1.0zM281.3 71.3h1.0v1.0h-1.0zM280.3 73.1h1.0v1.0h-1.0zM279.9 73.4h1.0v1.0h-1.0zM280.6 73.2h1.0v1.0h-1.0zM279.3 70.6h1.0v1.0h-1.0zM279.4 71.1h1.0v1.0h-1.0zM278.8 71.4h1.0v1.0h-1.0zM278.0 70.6h1.0v1.0h-1.0zM278.7 70.9h1.0v1.0h-1.0zM278.1 70.5h1.0v1.0h-1.0zM278.3 71.4h1.0v1.0h-1.0zM276.8 72.6h1.0v1.0h-1.0zM276.6 73.4h1.0v1.0h-1.0zM276.8 72.8h1.0v1.0h-1.0zM276.2 72.9h1.0v1.0h-1.0zM276.4 73.0h1.0v1.0h-1.0zM276.7 72.6h1.0v1.0h-1.0zM276.3 73.5h1.0v1.0h-1.0zM276.4 72.8h1.0v1.0h-1.0zM276.8 73.2h1.0v1.0h-1.0zM276.0 72.7h1.0v1.0h-1.0zM276.9 73.1h1.0v1.0h-1.0zM276.4 72.8h1.0v1.0h-1.0zM278.9 73.2h1.0v1.0h-1.0zM278.7 73.3h1.0v1.0h-1.0zM278.5 72.6h1.0v1.0h-1.0zM278.7 72.7h1.0v1.0h-1.0zM278.1 73.4h1.0v1.0h-1.0zM278.5 73.1h1.0v1.0h-1.0zM280.4 71.3h1.0v1.0h-1.0zM280.9 70.8h1.0v1.0h-1.0zM280.5 70.6h1.0v1.0h-1.0zM280.3 71.0h1.0v1.0h-1.0zM280.6 71.4h1.0v1.0h-1.0zM280.5 70.9h1.0v1.0h-1.0zM280.5 70.7h1.0v1.0h-1.0zM280.3 71.3h1.0v1.0h-1.0zM280.0 71.5h1.0v1.0h-1.0zM280.2 70.7h1.0v1.0h-1.0zM280.2 71.5h1.0v1.0h-1.0zM280.6 70.8h1.0v1.0h-1.0zM280.5 71.4h1.0v1.0h-1.0zM280.6 71.0h1.0v1.0h-1.0zM280.2 71.1h1.0v1.0h-1.0zM277.3 70.8h1.0v1.0h-1.0zM277.1 70.6h1.0v1.0h-1.0zM277.3 70.9h1.0v1.0h-1.0zM276.9 71.5h1.0v1.0h-1.0zM277.3 71.1h1.0v1.0h-1.0zM277.0 71.0h1.0v1.0h-1.0zM277.4 71.5h1.0v1.0h-1.0zM277.4 71.2h1.0v1.0h-1.0zM277.2 71.2h1.0v1.0h-1.0zM277.0 70.8h1.0v1.0h-1.0zM282.0 71.8h1.0v1.0h-1.0zM282.7 72.2h1.0v1.0h-1.0zM282.0 71.6h1.0v1.0h-1.0zM282.4 71.7h1.0v1.0h-1.0zM282.8 71.8h1.0v1.0h-1.0zM282.8 72.2h1.0v1.0h-1.0zM282.3 71.7h1.0v1.0h-1.0zM281.4 73.1h1.0v1.0h-1.0zM281.5 72.8h1.0v1.0h-1.0zM281.6 73.0h1.0v1.0h-1.0zM281.9 72.5h1.0v1.0h-1.0zM281.2 73.2h1.0v1.0h-1.0zM281.4 72.6h1.0v1.0h-1.0zM281.0 72.8h1.0v1.0h-1.0zM281.0 73.3h1.0v1.0h-1.0zM281.4 72.7h1.0v1.0h-1.0zM281.5 73.2h1.0v1.0h-1.0zM281.9 73.2h1.0v1.0h-1.0zM281.5 73.2h1.0v1.0h-1.0zM279.1 71.8h1.0v1.0h-1.0zM279.5 71.6h1.0v1.0h-1.0zM279.4 71.5h1.0v1.0h-1.0zM279.5 72.5h1.0v1.0h-1.0zM279.5 71.7h1.0v1.0h-1.0zM279.7 72.1h1.0v1.0h-1.0zM279.5 71.7h1.0v1.0h-1.0zM279.3 72.2h1.0v1.0h-1.0zM279.6 72.3h1.0v1.0h-1.0zM282.2 72.7h1.0v1.0h-1.0zM282.2 72.5h1.0v1.0h-1.0zM282.4 73.1h1.0v1.0h-1.0zM282.0 72.7h1.0v1.0h-1.0zM282.8 72.6h1.0v1.0h-1.0zM282.5 72.9h1.0v1.0h-1.0zM282.6 73.2h1.0v1.0h-1.0zM277.6 72.8h1.0v1.0h-1.0zM277.4 73.3h1.0v1.0h-1.0zM277.4 73.0h1.0v1.0h-1.0zM277.9 73.2h1.0v1.0h-1.0zM277.6 73.1h1.0v1.0h-1.0zM277.2 72.8h1.0v1.0h-1.0zM277.1 73.4h1.0v1.0h-1.0zM277.6 72.8h1.0v1.0h-1.0zM277.9 72.7h1.0v1.0h-1.0zM277.2 73.0h1.0v1.0h-1.0zM276.9 73.1h1.0v1.0h-1.0zM280.0 72.3h1.0v1.0h-1.0zM280.6 71.5h1.0v1.0h-1.0zM280.3 72.3h1.0v1.0h-1.0zM280.9 71.8h1.0v1.0h-1.0zM280.4 72.3h1.0v1.0h-1.0zM280.5 71.7h1.0v1.0h-1.0zM280.2 72.4h1.0v1.0h-1.0zM280.6 71.5h1.0v1.0h-1.0zM280.0 72.0h1.0v1.0h-1.0zM281.6 71.9h1.0v1.0h-1.0zM281.0 72.2h1.0v1.0h-1.0zM281.2 71.7h1.0v1.0h-1.0zM276.1 72.5h1.0v1.0h-1.0zM276.4 72.4h1.0v1.0h-1.0zM276.0 72.2h1.0v1.0h-1.0zM276.7 72.1h1.0v1.0h-1.0zM276.4 72.1h1.0v1.0h-1.0zM276.5 72.4h1.0v1.0h-1.0zM276.8 72.2h1.0v1.0h-1.0zM278.3 72.4h1.0v1.0h-1.0zM278.3 72.4h1.0v1.0h-1.0zM278.1 71.8h1.0v1.0h-1.0zM278.0 71.7h1.0v1.0h-1.0zM278.6 72.1h1.0v1.0h-1.0zM278.6 72.1h1.0v1.0h-1.0zM278.3 72.2h1.0v1.0h-1.0zM277.0 71.8h1.0v1.0h-1.0zM277.8 72.4h1.0v1.0h-1.0zM276.9 71.6h1.0v1.0h-1.0zM277.0 72.4h1.0v1.0h-1.0zM277.8 72.0h1.0v1.0h-1.0zM277.3 72.5h1.0v1.0h-1.0zM277.4 72.1h1.0v1.0h-1.0zM276.9 71.9h1.0v1.0h-1.0zM277.1 72.2h1.0v1.0h-1.0zM277.9 72.3h1.0v1.0h-1.0z" fill="#7ac24c" opacity="1.0" filter="url(#soft)"/>
<rect x="264.90" y="59.50" width="25.70" height="18.30" fill="none" stroke="#000" stroke-width="1.1"/>
<rect x="264.90" y="10.50" width="75.20" height="67.30" fill="none" stroke="#000" stroke-width="1.5"/>
<text x="262.50" y="81.70" font-size="7.6" text-anchor="end">10<tspan dy="-5.6" font-size="6.8">0</tspan></text>
<line x1="262.70" y1="77.80" x2="264.90" y2="77.80" stroke="#000" stroke-width="0.9" />
<line x1="263.50" y1="72.74" x2="264.90" y2="72.74" stroke="#000" stroke-width="0.6" />
<line x1="263.50" y1="69.77" x2="264.90" y2="69.77" stroke="#000" stroke-width="0.6" />
<line x1="263.50" y1="67.67" x2="264.90" y2="67.67" stroke="#000" stroke-width="0.6" />
<line x1="263.50" y1="66.04" x2="264.90" y2="66.04" stroke="#000" stroke-width="0.6" />
<line x1="263.50" y1="64.71" x2="264.90" y2="64.71" stroke="#000" stroke-width="0.6" />
<line x1="263.50" y1="63.58" x2="264.90" y2="63.58" stroke="#000" stroke-width="0.6" />
<line x1="263.50" y1="62.61" x2="264.90" y2="62.61" stroke="#000" stroke-width="0.6" />
<line x1="263.50" y1="61.74" x2="264.90" y2="61.74" stroke="#000" stroke-width="0.6" />
<text x="262.50" y="64.88" font-size="7.6" text-anchor="end">10<tspan dy="-5.6" font-size="6.8">1</tspan></text>
<line x1="262.70" y1="60.97" x2="264.90" y2="60.97" stroke="#000" stroke-width="0.9" />
<line x1="263.50" y1="55.91" x2="264.90" y2="55.91" stroke="#000" stroke-width="0.6" />
<line x1="263.50" y1="52.95" x2="264.90" y2="52.95" stroke="#000" stroke-width="0.6" />
<line x1="263.50" y1="50.85" x2="264.90" y2="50.85" stroke="#000" stroke-width="0.6" />
<line x1="263.50" y1="49.21" x2="264.90" y2="49.21" stroke="#000" stroke-width="0.6" />
<line x1="263.50" y1="47.88" x2="264.90" y2="47.88" stroke="#000" stroke-width="0.6" />
<line x1="263.50" y1="46.76" x2="264.90" y2="46.76" stroke="#000" stroke-width="0.6" />
<line x1="263.50" y1="45.78" x2="264.90" y2="45.78" stroke="#000" stroke-width="0.6" />
<line x1="263.50" y1="44.92" x2="264.90" y2="44.92" stroke="#000" stroke-width="0.6" />
<text x="262.50" y="48.05" font-size="7.6" text-anchor="end">10<tspan dy="-5.6" font-size="6.8">2</tspan></text>
<line x1="262.70" y1="44.15" x2="264.90" y2="44.15" stroke="#000" stroke-width="0.9" />
<line x1="263.50" y1="39.09" x2="264.90" y2="39.09" stroke="#000" stroke-width="0.6" />
<line x1="263.50" y1="36.12" x2="264.90" y2="36.12" stroke="#000" stroke-width="0.6" />
<line x1="263.50" y1="34.02" x2="264.90" y2="34.02" stroke="#000" stroke-width="0.6" />
<line x1="263.50" y1="32.39" x2="264.90" y2="32.39" stroke="#000" stroke-width="0.6" />
<line x1="263.50" y1="31.06" x2="264.90" y2="31.06" stroke="#000" stroke-width="0.6" />
<line x1="263.50" y1="29.93" x2="264.90" y2="29.93" stroke="#000" stroke-width="0.6" />
<line x1="263.50" y1="28.96" x2="264.90" y2="28.96" stroke="#000" stroke-width="0.6" />
<line x1="263.50" y1="28.09" x2="264.90" y2="28.09" stroke="#000" stroke-width="0.6" />
<text x="262.50" y="31.23" font-size="7.6" text-anchor="end">10<tspan dy="-5.6" font-size="6.8">3</tspan></text>
<line x1="262.70" y1="27.33" x2="264.90" y2="27.33" stroke="#000" stroke-width="0.9" />
<line x1="263.50" y1="22.26" x2="264.90" y2="22.26" stroke="#000" stroke-width="0.6" />
<line x1="263.50" y1="19.30" x2="264.90" y2="19.30" stroke="#000" stroke-width="0.6" />
<line x1="263.50" y1="17.20" x2="264.90" y2="17.20" stroke="#000" stroke-width="0.6" />
<line x1="263.50" y1="15.56" x2="264.90" y2="15.56" stroke="#000" stroke-width="0.6" />
<line x1="263.50" y1="14.23" x2="264.90" y2="14.23" stroke="#000" stroke-width="0.6" />
<line x1="263.50" y1="13.11" x2="264.90" y2="13.11" stroke="#000" stroke-width="0.6" />
<line x1="263.50" y1="12.13" x2="264.90" y2="12.13" stroke="#000" stroke-width="0.6" />
<line x1="263.50" y1="11.27" x2="264.90" y2="11.27" stroke="#000" stroke-width="0.6" />
<text x="262.50" y="14.40" font-size="7.6" text-anchor="end">10<tspan dy="-5.6" font-size="6.8">4</tspan></text>
<line x1="262.70" y1="10.50" x2="264.90" y2="10.50" stroke="#000" stroke-width="0.9" />
<text x="264.70" y="90.9" font-size="8.1" text-anchor="middle">10<tspan dy="-5.4" font-size="7">0</tspan></text>
<line x1="264.90" y1="77.80" x2="264.90" y2="80.00" stroke="#000" stroke-width="0.9" />
<line x1="270.56" y1="77.80" x2="270.56" y2="79.10" stroke="#000" stroke-width="0.6" />
<line x1="273.87" y1="77.80" x2="273.87" y2="79.10" stroke="#000" stroke-width="0.6" />
<line x1="276.22" y1="77.80" x2="276.22" y2="79.10" stroke="#000" stroke-width="0.6" />
<line x1="278.04" y1="77.80" x2="278.04" y2="79.10" stroke="#000" stroke-width="0.6" />
<line x1="279.53" y1="77.80" x2="279.53" y2="79.10" stroke="#000" stroke-width="0.6" />
<line x1="280.79" y1="77.80" x2="280.79" y2="79.10" stroke="#000" stroke-width="0.6" />
<line x1="281.88" y1="77.80" x2="281.88" y2="79.10" stroke="#000" stroke-width="0.6" />
<line x1="282.84" y1="77.80" x2="282.84" y2="79.10" stroke="#000" stroke-width="0.6" />
<text x="283.50" y="90.9" font-size="8.1" text-anchor="middle">10<tspan dy="-5.4" font-size="7">1</tspan></text>
<line x1="283.70" y1="77.80" x2="283.70" y2="80.00" stroke="#000" stroke-width="0.9" />
<line x1="289.36" y1="77.80" x2="289.36" y2="79.10" stroke="#000" stroke-width="0.6" />
<line x1="292.67" y1="77.80" x2="292.67" y2="79.10" stroke="#000" stroke-width="0.6" />
<line x1="295.02" y1="77.80" x2="295.02" y2="79.10" stroke="#000" stroke-width="0.6" />
<line x1="296.84" y1="77.80" x2="296.84" y2="79.10" stroke="#000" stroke-width="0.6" />
<line x1="298.33" y1="77.80" x2="298.33" y2="79.10" stroke="#000" stroke-width="0.6" />
<line x1="299.59" y1="77.80" x2="299.59" y2="79.10" stroke="#000" stroke-width="0.6" />
<line x1="300.68" y1="77.80" x2="300.68" y2="79.10" stroke="#000" stroke-width="0.6" />
<line x1="301.64" y1="77.80" x2="301.64" y2="79.10" stroke="#000" stroke-width="0.6" />
<text x="302.30" y="90.9" font-size="8.1" text-anchor="middle">10<tspan dy="-5.4" font-size="7">2</tspan></text>
<line x1="302.50" y1="77.80" x2="302.50" y2="80.00" stroke="#000" stroke-width="0.9" />
<line x1="308.16" y1="77.80" x2="308.16" y2="79.10" stroke="#000" stroke-width="0.6" />
<line x1="311.47" y1="77.80" x2="311.47" y2="79.10" stroke="#000" stroke-width="0.6" />
<line x1="313.82" y1="77.80" x2="313.82" y2="79.10" stroke="#000" stroke-width="0.6" />
<line x1="315.64" y1="77.80" x2="315.64" y2="79.10" stroke="#000" stroke-width="0.6" />
<line x1="317.13" y1="77.80" x2="317.13" y2="79.10" stroke="#000" stroke-width="0.6" />
<line x1="318.39" y1="77.80" x2="318.39" y2="79.10" stroke="#000" stroke-width="0.6" />
<line x1="319.48" y1="77.80" x2="319.48" y2="79.10" stroke="#000" stroke-width="0.6" />
<line x1="320.44" y1="77.80" x2="320.44" y2="79.10" stroke="#000" stroke-width="0.6" />
<text x="321.10" y="90.9" font-size="8.1" text-anchor="middle">10<tspan dy="-5.4" font-size="7">3</tspan></text>
<line x1="321.30" y1="77.80" x2="321.30" y2="80.00" stroke="#000" stroke-width="0.9" />
<line x1="326.96" y1="77.80" x2="326.96" y2="79.10" stroke="#000" stroke-width="0.6" />
<line x1="330.27" y1="77.80" x2="330.27" y2="79.10" stroke="#000" stroke-width="0.6" />
<line x1="332.62" y1="77.80" x2="332.62" y2="79.10" stroke="#000" stroke-width="0.6" />
<line x1="334.44" y1="77.80" x2="334.44" y2="79.10" stroke="#000" stroke-width="0.6" />
<line x1="335.93" y1="77.80" x2="335.93" y2="79.10" stroke="#000" stroke-width="0.6" />
<line x1="337.19" y1="77.80" x2="337.19" y2="79.10" stroke="#000" stroke-width="0.6" />
<line x1="338.28" y1="77.80" x2="338.28" y2="79.10" stroke="#000" stroke-width="0.6" />
<line x1="339.24" y1="77.80" x2="339.24" y2="79.10" stroke="#000" stroke-width="0.6" />
<text x="339.90" y="90.9" font-size="8.1" text-anchor="middle">10<tspan dy="-5.4" font-size="7">4</tspan></text>
<line x1="340.10" y1="77.80" x2="340.10" y2="80.00" stroke="#000" stroke-width="0.9" />
<text x="297.24" y="9.60" font-size="8.40" text-anchor="start" >48h</text>
<text x="303.06" y="23.80" font-size="8.60" text-anchor="start" >50.5%</text>
<line x1="272.50" y1="77.80" x2="272.50" y2="106.00" stroke="#000" stroke-width="1" />
<path d="M268.90,104 L276.10,104 L272.50,114.3 Z" fill="#000" />
<path d="M104.7 147.6h1.0v1.0h-1.0zM99.8 155.7h1.0v1.0h-1.0zM53.2 164.4h1.0v1.0h-1.0zM66.9 138.0h1.0v1.0h-1.0zM53.2 169.5h1.0v1.0h-1.0zM55.8 156.4h1.0v1.0h-1.0zM61.3 143.5h1.0v1.0h-1.0zM56.1 152.4h1.0v1.0h-1.0zM78.2 173.3h1.0v1.0h-1.0zM92.0 173.3h1.0v1.0h-1.0zM87.2 172.5h1.0v1.0h-1.0zM76.6 153.8h1.0v1.0h-1.0zM58.9 148.8h1.0v1.0h-1.0zM84.4 173.3h1.0v1.0h-1.0zM81.3 174.0h1.0v1.0h-1.0zM94.8 159.0h1.0v1.0h-1.0zM86.2 151.9h1.0v1.0h-1.0zM97.6 167.5h1.0v1.0h-1.0zM79.9 150.0h1.0v1.0h-1.0zM83.4 167.4h1.0v1.0h-1.0zM90.7 169.9h1.0v1.0h-1.0zM75.2 149.4h1.0v1.0h-1.0zM72.1 182.9h1.0v1.0h-1.0zM96.8 164.9h1.0v1.0h-1.0zM88.8 162.7h1.0v1.0h-1.0zM94.2 154.6h1.0v1.0h-1.0zM93.4 155.4h1.0v1.0h-1.0zM75.4 156.7h1.0v1.0h-1.0zM82.8 151.5h1.0v1.0h-1.0zM77.2 159.3h1.0v1.0h-1.0zM65.2 142.4h1.0v1.0h-1.0zM72.0 152.4h1.0v1.0h-1.0zM75.0 164.3h1.0v1.0h-1.0zM100.9 162.7h1.0v1.0h-1.0zM101.2 164.4h1.0v1.0h-1.0zM89.0 164.7h1.0v1.0h-1.0zM77.9 148.4h1.0v1.0h-1.0zM73.3 161.4h1.0v1.0h-1.0zM82.9 153.9h1.0v1.0h-1.0zM71.2 156.3h1.0v1.0h-1.0zM56.9 171.1h1.0v1.0h-1.0zM72.2 158.5h1.0v1.0h-1.0zM72.0 154.1h1.0v1.0h-1.0zM74.3 158.9h1.0v1.0h-1.0zM85.6 167.5h1.0v1.0h-1.0zM56.7 173.0h1.0v1.0h-1.0zM66.6 144.0h1.0v1.0h-1.0zM77.3 149.6h1.0v1.0h-1.0zM83.5 158.6h1.0v1.0h-1.0zM96.9 161.9h1.0v1.0h-1.0zM96.6 161.7h1.0v1.0h-1.0zM65.1 144.6h1.0v1.0h-1.0zM79.2 168.5h1.0v1.0h-1.0z" fill="#cfd7e7" opacity="1.0" filter="url(#soft)"/>
<path d="M92.5 158.7h1.0v1.0h-1.0zM83.2 153.2h1.0v1.0h-1.0zM92.5 167.1h1.0v1.0h-1.0zM88.1 156.9h1.0v1.0h-1.0zM85.6 158.3h1.0v1.0h-1.0zM70.5 153.6h1.0v1.0h-1.0zM82.0 162.9h1.0v1.0h-1.0zM85.7 166.2h1.0v1.0h-1.0zM85.6 164.6h1.0v1.0h-1.0zM77.7 160.9h1.0v1.0h-1.0zM56.6 168.5h1.0v1.0h-1.0zM88.3 158.6h1.0v1.0h-1.0zM90.7 159.2h1.0v1.0h-1.0zM75.2 168.4h1.0v1.0h-1.0zM90.2 157.9h1.0v1.0h-1.0zM82.8 164.2h1.0v1.0h-1.0zM72.8 168.5h1.0v1.0h-1.0zM85.8 160.5h1.0v1.0h-1.0zM79.1 166.9h1.0v1.0h-1.0zM79.4 163.0h1.0v1.0h-1.0zM81.2 159.7h1.0v1.0h-1.0zM77.8 163.6h1.0v1.0h-1.0zM84.7 160.4h1.0v1.0h-1.0zM85.3 162.4h1.0v1.0h-1.0zM62.2 150.4h1.0v1.0h-1.0zM81.4 159.8h1.0v1.0h-1.0zM80.2 160.7h1.0v1.0h-1.0zM77.6 164.8h1.0v1.0h-1.0zM58.3 164.3h1.0v1.0h-1.0zM75.1 166.7h1.0v1.0h-1.0zM78.4 166.6h1.0v1.0h-1.0zM74.0 165.9h1.0v1.0h-1.0zM84.4 163.5h1.0v1.0h-1.0zM71.6 165.9h1.0v1.0h-1.0zM58.3 179.6h1.0v1.0h-1.0zM90.1 166.8h1.0v1.0h-1.0zM89.8 167.4h1.0v1.0h-1.0zM90.6 167.6h1.0v1.0h-1.0zM57.1 180.2h1.0v1.0h-1.0zM71.1 163.8h1.0v1.0h-1.0zM62.6 182.9h1.0v1.0h-1.0zM62.1 182.9h1.0v1.0h-1.0zM57.9 182.8h1.0v1.0h-1.0zM57.2 181.3h1.0v1.0h-1.0zM56.7 181.1h1.0v1.0h-1.0zM71.2 178.3h1.0v1.0h-1.0zM61.1 152.2h1.0v1.0h-1.0zM67.0 152.4h1.0v1.0h-1.0zM67.6 152.2h1.0v1.0h-1.0zM60.4 182.9h1.0v1.0h-1.0zM57.8 166.4h1.0v1.0h-1.0zM71.5 175.4h1.0v1.0h-1.0zM59.2 182.9h1.0v1.0h-1.0zM58.9 182.9h1.0v1.0h-1.0zM57.8 167.7h1.0v1.0h-1.0zM63.3 151.5h1.0v1.0h-1.0zM63.5 151.3h1.0v1.0h-1.0zM68.1 153.1h1.0v1.0h-1.0zM70.6 176.9h1.0v1.0h-1.0zM70.8 176.7h1.0v1.0h-1.0zM69.6 182.1h1.0v1.0h-1.0zM61.0 152.8h1.0v1.0h-1.0zM59.5 177.9h1.0v1.0h-1.0zM64.4 152.6h1.0v1.0h-1.0zM59.2 163.2h1.0v1.0h-1.0zM69.0 182.9h1.0v1.0h-1.0zM70.7 167.1h1.0v1.0h-1.0zM65.1 182.9h1.0v1.0h-1.0zM65.0 182.9h1.0v1.0h-1.0z" fill="#b6c7e1" opacity="1.0" filter="url(#soft)"/>
<path d="M60.7 153.8h1.0v1.0h-1.0zM68.1 182.9h1.0v1.0h-1.0zM67.6 182.9h1.0v1.0h-1.0zM60.1 157.9h1.0v1.0h-1.0zM63.7 153.1h1.0v1.0h-1.0zM70.0 175.7h1.0v1.0h-1.0zM59.3 174.8h1.0v1.0h-1.0zM69.1 159.3h1.0v1.0h-1.0zM67.2 154.2h1.0v1.0h-1.0zM61.1 156.4h1.0v1.0h-1.0zM62.1 154.3h1.0v1.0h-1.0zM64.7 182.7h1.0v1.0h-1.0zM68.5 157.3h1.0v1.0h-1.0zM61.4 179.9h1.0v1.0h-1.0zM60.0 159.4h1.0v1.0h-1.0zM70.2 162.7h1.0v1.0h-1.0zM70.4 162.6h1.0v1.0h-1.0zM69.7 162.4h1.0v1.0h-1.0zM70.0 162.7h1.0v1.0h-1.0zM69.3 181.3h1.0v1.0h-1.0zM63.5 181.3h1.0v1.0h-1.0zM66.3 181.7h1.0v1.0h-1.0zM68.7 180.2h1.0v1.0h-1.0zM68.6 180.1h1.0v1.0h-1.0zM68.5 158.7h1.0v1.0h-1.0zM66.0 154.6h1.0v1.0h-1.0zM61.9 154.7h1.0v1.0h-1.0zM65.3 153.9h1.0v1.0h-1.0zM59.9 160.5h1.0v1.0h-1.0zM67.0 181.7h1.0v1.0h-1.0zM69.3 159.9h1.0v1.0h-1.0zM65.1 181.0h1.0v1.0h-1.0zM66.8 156.5h1.0v1.0h-1.0zM60.0 177.2h1.0v1.0h-1.0zM62.1 156.0h1.0v1.0h-1.0zM62.5 156.1h1.0v1.0h-1.0zM62.1 156.2h1.0v1.0h-1.0zM63.6 155.2h1.0v1.0h-1.0zM63.7 155.0h1.0v1.0h-1.0zM66.0 154.7h1.0v1.0h-1.0zM65.9 155.4h1.0v1.0h-1.0zM66.8 157.4h1.0v1.0h-1.0zM66.9 157.1h1.0v1.0h-1.0zM69.6 161.2h1.0v1.0h-1.0zM61.2 179.3h1.0v1.0h-1.0zM68.4 179.6h1.0v1.0h-1.0zM66.6 181.6h1.0v1.0h-1.0zM67.1 181.7h1.0v1.0h-1.0zM68.5 178.1h1.0v1.0h-1.0zM68.0 180.4h1.0v1.0h-1.0zM68.0 179.8h1.0v1.0h-1.0zM65.0 155.2h1.0v1.0h-1.0zM59.9 176.2h1.0v1.0h-1.0zM62.4 180.0h1.0v1.0h-1.0zM60.3 173.7h1.0v1.0h-1.0zM60.4 174.1h1.0v1.0h-1.0zM68.7 175.0h1.0v1.0h-1.0zM62.8 156.6h1.0v1.0h-1.0zM60.6 174.9h1.0v1.0h-1.0z" fill="#96b2da" opacity="1.0" filter="url(#soft)"/>
<path d="M69.4 161.9h1.0v1.0h-1.0zM60.4 172.9h1.0v1.0h-1.0zM66.1 155.8h1.0v1.0h-1.0zM67.3 179.8h1.0v1.0h-1.0zM69.7 171.9h1.0v1.0h-1.0zM70.3 171.9h1.0v1.0h-1.0zM69.7 171.0h1.0v1.0h-1.0zM60.9 159.0h1.0v1.0h-1.0zM68.5 160.3h1.0v1.0h-1.0zM68.2 160.0h1.0v1.0h-1.0zM60.4 172.0h1.0v1.0h-1.0zM62.3 158.3h1.0v1.0h-1.0zM63.3 180.6h1.0v1.0h-1.0zM65.6 157.3h1.0v1.0h-1.0zM67.6 178.8h1.0v1.0h-1.0zM64.4 156.9h1.0v1.0h-1.0zM64.0 157.3h1.0v1.0h-1.0zM65.5 157.3h1.0v1.0h-1.0zM60.5 170.8h1.0v1.0h-1.0zM69.2 174.2h1.0v1.0h-1.0zM68.1 176.6h1.0v1.0h-1.0zM61.1 160.2h1.0v1.0h-1.0zM66.2 158.5h1.0v1.0h-1.0zM59.7 166.2h1.0v1.0h-1.0zM61.4 174.5h1.0v1.0h-1.0zM61.5 174.7h1.0v1.0h-1.0zM62.4 178.8h1.0v1.0h-1.0zM61.9 179.2h1.0v1.0h-1.0zM61.8 158.9h1.0v1.0h-1.0zM62.5 159.4h1.0v1.0h-1.0zM62.5 158.8h1.0v1.0h-1.0zM60.2 169.2h1.0v1.0h-1.0zM61.4 177.0h1.0v1.0h-1.0zM64.2 157.9h1.0v1.0h-1.0zM64.5 157.9h1.0v1.0h-1.0zM60.5 167.3h1.0v1.0h-1.0zM61.1 161.6h1.0v1.0h-1.0zM61.1 173.3h1.0v1.0h-1.0zM67.4 160.1h1.0v1.0h-1.0zM67.3 159.8h1.0v1.0h-1.0zM68.9 166.7h1.0v1.0h-1.0zM69.1 167.7h1.0v1.0h-1.0zM61.5 176.7h1.0v1.0h-1.0zM68.4 175.4h1.0v1.0h-1.0zM66.1 159.2h1.0v1.0h-1.0zM65.4 178.9h1.0v1.0h-1.0zM65.5 179.6h1.0v1.0h-1.0zM65.5 179.4h1.0v1.0h-1.0zM66.8 177.0h1.0v1.0h-1.0zM66.6 177.2h1.0v1.0h-1.0zM61.1 162.1h1.0v1.0h-1.0zM63.3 159.3h1.0v1.0h-1.0zM69.1 173.6h1.0v1.0h-1.0zM69.4 168.1h1.0v1.0h-1.0z" fill="#7a9fd0" opacity="1.0" filter="url(#soft)"/>
<path d="M63.0 179.6h1.0v1.0h-1.0zM63.6 179.5h1.0v1.0h-1.0zM63.3 179.3h1.0v1.0h-1.0zM61.1 163.7h1.0v1.0h-1.0zM63.7 179.0h1.0v1.0h-1.0zM68.8 169.6h1.0v1.0h-1.0zM69.5 169.6h1.0v1.0h-1.0zM69.0 169.0h1.0v1.0h-1.0zM69.5 169.1h1.0v1.0h-1.0zM67.7 164.4h1.0v1.0h-1.0zM68.2 164.0h1.0v1.0h-1.0zM66.6 161.0h1.0v1.0h-1.0zM64.7 159.4h1.0v1.0h-1.0zM65.2 159.1h1.0v1.0h-1.0zM65.1 159.6h1.0v1.0h-1.0zM65.3 159.1h1.0v1.0h-1.0zM64.1 159.5h1.0v1.0h-1.0zM61.6 160.6h1.0v1.0h-1.0zM62.0 160.3h1.0v1.0h-1.0zM66.6 178.2h1.0v1.0h-1.0zM66.3 177.9h1.0v1.0h-1.0zM62.2 178.0h1.0v1.0h-1.0zM61.1 164.0h1.0v1.0h-1.0zM61.0 164.6h1.0v1.0h-1.0zM67.3 176.3h1.0v1.0h-1.0zM67.2 176.1h1.0v1.0h-1.0zM66.2 160.3h1.0v1.0h-1.0zM68.6 174.0h1.0v1.0h-1.0zM69.1 172.1h1.0v1.0h-1.0zM69.2 171.7h1.0v1.0h-1.0zM61.0 165.1h1.0v1.0h-1.0zM60.6 165.1h1.0v1.0h-1.0zM62.3 173.7h1.0v1.0h-1.0zM66.9 162.6h1.0v1.0h-1.0zM67.2 161.9h1.0v1.0h-1.0zM62.0 177.1h1.0v1.0h-1.0zM62.2 176.7h1.0v1.0h-1.0zM62.4 176.1h1.0v1.0h-1.0zM62.5 176.4h1.0v1.0h-1.0zM62.0 176.7h1.0v1.0h-1.0zM62.0 176.1h1.0v1.0h-1.0zM68.2 165.8h1.0v1.0h-1.0zM67.9 166.6h1.0v1.0h-1.0zM67.9 166.6h1.0v1.0h-1.0zM66.9 174.9h1.0v1.0h-1.0zM67.2 175.6h1.0v1.0h-1.0zM61.5 170.7h1.0v1.0h-1.0zM61.0 170.7h1.0v1.0h-1.0zM60.9 166.6h1.0v1.0h-1.0zM61.1 166.6h1.0v1.0h-1.0zM61.5 166.3h1.0v1.0h-1.0zM61.7 161.0h1.0v1.0h-1.0zM61.8 161.5h1.0v1.0h-1.0zM62.6 161.5h1.0v1.0h-1.0zM64.8 160.0h1.0v1.0h-1.0zM65.0 160.3h1.0v1.0h-1.0zM66.0 177.1h1.0v1.0h-1.0zM64.8 178.2h1.0v1.0h-1.0zM65.5 178.4h1.0v1.0h-1.0zM65.1 177.8h1.0v1.0h-1.0zM64.0 160.5h1.0v1.0h-1.0zM63.6 175.2h1.0v1.0h-1.0zM63.2 177.8h1.0v1.0h-1.0zM63.4 178.3h1.0v1.0h-1.0zM66.5 161.4h1.0v1.0h-1.0zM67.6 167.5h1.0v1.0h-1.0zM67.7 167.3h1.0v1.0h-1.0zM67.7 167.5h1.0v1.0h-1.0zM61.3 166.8h1.0v1.0h-1.0zM61.2 166.7h1.0v1.0h-1.0zM60.9 167.0h1.0v1.0h-1.0zM61.3 167.2h1.0v1.0h-1.0zM66.9 162.9h1.0v1.0h-1.0zM68.4 168.5h1.0v1.0h-1.0zM67.8 168.7h1.0v1.0h-1.0zM61.6 170.2h1.0v1.0h-1.0zM61.0 170.4h1.0v1.0h-1.0zM61.4 170.5h1.0v1.0h-1.0zM61.2 169.8h1.0v1.0h-1.0zM66.0 176.5h1.0v1.0h-1.0zM66.3 175.9h1.0v1.0h-1.0zM68.1 173.1h1.0v1.0h-1.0zM68.2 173.4h1.0v1.0h-1.0z" fill="#6595c4" opacity="1.0" filter="url(#soft)"/>
<path d="M61.6 167.9h1.0v1.0h-1.0zM61.6 168.2h1.0v1.0h-1.0zM61.0 169.5h1.0v1.0h-1.0zM68.3 169.0h1.0v1.0h-1.0zM67.7 169.2h1.0v1.0h-1.0zM68.1 169.7h1.0v1.0h-1.0zM62.5 162.5h1.0v1.0h-1.0zM62.2 172.0h1.0v1.0h-1.0zM62.3 172.3h1.0v1.0h-1.0zM62.4 172.4h1.0v1.0h-1.0zM62.8 173.2h1.0v1.0h-1.0zM65.8 175.5h1.0v1.0h-1.0zM66.4 175.1h1.0v1.0h-1.0zM65.6 175.4h1.0v1.0h-1.0zM66.2 175.0h1.0v1.0h-1.0zM63.3 176.2h1.0v1.0h-1.0zM63.2 176.5h1.0v1.0h-1.0zM62.8 175.9h1.0v1.0h-1.0zM63.2 176.2h1.0v1.0h-1.0zM64.7 177.4h1.0v1.0h-1.0zM63.0 176.8h1.0v1.0h-1.0zM63.2 177.7h1.0v1.0h-1.0zM63.4 160.9h1.0v1.0h-1.0zM67.5 164.1h1.0v1.0h-1.0zM67.3 164.3h1.0v1.0h-1.0zM67.3 164.2h1.0v1.0h-1.0zM67.6 164.5h1.0v1.0h-1.0zM67.5 163.7h1.0v1.0h-1.0zM66.8 163.7h1.0v1.0h-1.0zM64.8 161.2h1.0v1.0h-1.0zM64.6 161.6h1.0v1.0h-1.0zM66.5 162.4h1.0v1.0h-1.0zM66.3 161.8h1.0v1.0h-1.0zM65.9 162.6h1.0v1.0h-1.0zM66.1 162.7h1.0v1.0h-1.0zM62.2 162.8h1.0v1.0h-1.0zM62.0 163.0h1.0v1.0h-1.0zM62.4 163.7h1.0v1.0h-1.0zM61.8 163.2h1.0v1.0h-1.0zM67.6 170.4h1.0v1.0h-1.0zM67.8 169.8h1.0v1.0h-1.0zM61.8 164.3h1.0v1.0h-1.0zM65.4 175.8h1.0v1.0h-1.0zM64.8 175.8h1.0v1.0h-1.0zM64.9 176.2h1.0v1.0h-1.0zM68.4 171.9h1.0v1.0h-1.0zM68.3 172.5h1.0v1.0h-1.0zM68.0 172.3h1.0v1.0h-1.0zM68.3 172.6h1.0v1.0h-1.0zM64.4 177.1h1.0v1.0h-1.0zM63.6 177.6h1.0v1.0h-1.0zM63.9 177.3h1.0v1.0h-1.0zM64.2 176.7h1.0v1.0h-1.0zM64.0 161.0h1.0v1.0h-1.0zM63.7 161.3h1.0v1.0h-1.0zM64.3 176.0h1.0v1.0h-1.0zM64.1 176.6h1.0v1.0h-1.0zM64.0 175.7h1.0v1.0h-1.0zM64.5 176.0h1.0v1.0h-1.0zM64.3 176.3h1.0v1.0h-1.0zM64.4 175.9h1.0v1.0h-1.0zM68.3 171.4h1.0v1.0h-1.0zM68.4 171.1h1.0v1.0h-1.0zM68.3 171.0h1.0v1.0h-1.0zM68.0 171.5h1.0v1.0h-1.0zM67.8 171.6h1.0v1.0h-1.0zM61.7 166.1h1.0v1.0h-1.0zM62.6 166.4h1.0v1.0h-1.0zM66.7 165.5h1.0v1.0h-1.0zM66.3 173.9h1.0v1.0h-1.0zM66.1 174.4h1.0v1.0h-1.0zM65.1 174.2h1.0v1.0h-1.0zM65.0 174.2h1.0v1.0h-1.0zM62.4 171.6h1.0v1.0h-1.0zM62.0 171.1h1.0v1.0h-1.0zM62.3 171.5h1.0v1.0h-1.0zM67.4 166.4h1.0v1.0h-1.0zM66.4 163.1h1.0v1.0h-1.0zM66.6 163.2h1.0v1.0h-1.0zM67.4 167.0h1.0v1.0h-1.0zM67.2 167.1h1.0v1.0h-1.0zM61.9 167.3h1.0v1.0h-1.0zM67.3 172.9h1.0v1.0h-1.0zM67.5 173.4h1.0v1.0h-1.0zM64.2 173.5h1.0v1.0h-1.0zM63.6 173.1h1.0v1.0h-1.0zM64.2 173.6h1.0v1.0h-1.0zM63.4 161.7h1.0v1.0h-1.0zM62.8 162.0h1.0v1.0h-1.0zM62.7 162.0h1.0v1.0h-1.0zM63.4 162.6h1.0v1.0h-1.0z" fill="#6a9ea4" opacity="1.0" filter="url(#soft)"/>
<path d="M65.2 162.5h1.0v1.0h-1.0zM65.2 162.6h1.0v1.0h-1.0zM63.4 172.2h1.0v1.0h-1.0zM63.6 172.1h1.0v1.0h-1.0zM62.3 168.2h1.0v1.0h-1.0zM62.1 168.5h1.0v1.0h-1.0zM61.7 170.5h1.0v1.0h-1.0zM66.0 163.8h1.0v1.0h-1.0zM66.5 164.4h1.0v1.0h-1.0zM63.6 162.0h1.0v1.0h-1.0zM64.3 162.3h1.0v1.0h-1.0zM63.7 162.6h1.0v1.0h-1.0zM64.5 161.7h1.0v1.0h-1.0zM64.5 162.3h1.0v1.0h-1.0zM62.8 165.2h1.0v1.0h-1.0zM62.7 165.1h1.0v1.0h-1.0zM61.8 169.5h1.0v1.0h-1.0zM62.2 169.6h1.0v1.0h-1.0zM61.7 169.4h1.0v1.0h-1.0zM62.0 169.0h1.0v1.0h-1.0zM61.9 169.1h1.0v1.0h-1.0zM62.8 162.8h1.0v1.0h-1.0zM63.6 162.9h1.0v1.0h-1.0zM62.8 163.6h1.0v1.0h-1.0zM63.0 165.9h1.0v1.0h-1.0zM63.4 166.4h1.0v1.0h-1.0zM63.2 166.0h1.0v1.0h-1.0zM62.6 166.3h1.0v1.0h-1.0zM63.0 165.7h1.0v1.0h-1.0zM66.6 170.1h1.0v1.0h-1.0zM66.9 169.9h1.0v1.0h-1.0zM63.3 164.2h1.0v1.0h-1.0zM63.3 164.3h1.0v1.0h-1.0zM63.5 163.8h1.0v1.0h-1.0zM63.4 164.2h1.0v1.0h-1.0zM67.2 172.7h1.0v1.0h-1.0zM67.4 171.7h1.0v1.0h-1.0zM66.8 171.9h1.0v1.0h-1.0zM66.3 173.5h1.0v1.0h-1.0zM66.4 172.8h1.0v1.0h-1.0zM66.1 173.1h1.0v1.0h-1.0zM66.4 173.2h1.0v1.0h-1.0zM65.4 162.9h1.0v1.0h-1.0zM65.6 173.3h1.0v1.0h-1.0zM65.5 173.0h1.0v1.0h-1.0zM64.7 173.4h1.0v1.0h-1.0zM64.7 173.3h1.0v1.0h-1.0zM66.1 164.8h1.0v1.0h-1.0zM66.3 165.2h1.0v1.0h-1.0zM65.8 165.4h1.0v1.0h-1.0zM63.3 167.3h1.0v1.0h-1.0zM66.5 167.2h1.0v1.0h-1.0zM66.5 166.9h1.0v1.0h-1.0zM65.7 166.7h1.0v1.0h-1.0zM65.8 167.3h1.0v1.0h-1.0zM65.7 166.8h1.0v1.0h-1.0zM65.7 168.2h1.0v1.0h-1.0zM66.8 171.5h1.0v1.0h-1.0zM67.5 171.1h1.0v1.0h-1.0zM66.6 165.9h1.0v1.0h-1.0zM66.4 166.6h1.0v1.0h-1.0zM66.2 166.2h1.0v1.0h-1.0zM65.8 166.2h1.0v1.0h-1.0zM65.6 165.7h1.0v1.0h-1.0zM66.2 166.1h1.0v1.0h-1.0zM66.2 166.3h1.0v1.0h-1.0zM64.3 162.9h1.0v1.0h-1.0zM64.0 162.8h1.0v1.0h-1.0zM64.1 163.5h1.0v1.0h-1.0zM64.4 163.3h1.0v1.0h-1.0zM63.9 163.2h1.0v1.0h-1.0zM65.0 163.7h1.0v1.0h-1.0zM65.5 163.9h1.0v1.0h-1.0zM65.2 164.3h1.0v1.0h-1.0zM65.5 164.2h1.0v1.0h-1.0zM63.2 171.1h1.0v1.0h-1.0zM63.5 170.9h1.0v1.0h-1.0zM63.3 171.0h1.0v1.0h-1.0zM63.4 171.5h1.0v1.0h-1.0zM63.0 171.1h1.0v1.0h-1.0zM63.7 166.2h1.0v1.0h-1.0zM64.4 165.9h1.0v1.0h-1.0zM64.6 166.1h1.0v1.0h-1.0zM64.4 166.0h1.0v1.0h-1.0zM63.8 166.0h1.0v1.0h-1.0zM64.3 164.0h1.0v1.0h-1.0zM63.9 164.2h1.0v1.0h-1.0zM64.1 165.1h1.0v1.0h-1.0zM64.0 165.0h1.0v1.0h-1.0zM64.4 165.1h1.0v1.0h-1.0zM65.6 169.1h1.0v1.0h-1.0zM66.3 169.7h1.0v1.0h-1.0zM66.4 169.2h1.0v1.0h-1.0zM66.5 169.5h1.0v1.0h-1.0zM62.9 168.5h1.0v1.0h-1.0zM62.7 168.0h1.0v1.0h-1.0zM63.3 167.8h1.0v1.0h-1.0zM63.3 168.4h1.0v1.0h-1.0zM63.6 168.4h1.0v1.0h-1.0z" fill="#88ac62" opacity="1.0" filter="url(#soft)"/>
<path d="M63.7 167.5h1.0v1.0h-1.0zM64.4 172.3h1.0v1.0h-1.0zM64.6 172.1h1.0v1.0h-1.0zM64.4 171.7h1.0v1.0h-1.0zM63.9 171.9h1.0v1.0h-1.0zM64.8 165.2h1.0v1.0h-1.0zM65.5 165.0h1.0v1.0h-1.0zM64.6 167.5h1.0v1.0h-1.0zM64.8 167.1h1.0v1.0h-1.0zM64.7 167.0h1.0v1.0h-1.0zM65.3 166.1h1.0v1.0h-1.0zM64.9 165.8h1.0v1.0h-1.0zM64.8 168.5h1.0v1.0h-1.0zM65.1 168.3h1.0v1.0h-1.0zM66.5 171.7h1.0v1.0h-1.0zM66.3 172.6h1.0v1.0h-1.0zM66.3 172.1h1.0v1.0h-1.0zM66.4 172.3h1.0v1.0h-1.0zM62.7 168.8h1.0v1.0h-1.0zM63.2 169.2h1.0v1.0h-1.0zM62.8 169.2h1.0v1.0h-1.0zM63.1 168.8h1.0v1.0h-1.0zM62.7 169.4h1.0v1.0h-1.0zM62.8 168.9h1.0v1.0h-1.0zM62.7 170.2h1.0v1.0h-1.0zM64.1 167.9h1.0v1.0h-1.0zM65.9 169.9h1.0v1.0h-1.0zM66.5 170.5h1.0v1.0h-1.0zM66.2 170.2h1.0v1.0h-1.0zM66.4 170.2h1.0v1.0h-1.0zM65.6 170.0h1.0v1.0h-1.0zM65.2 171.8h1.0v1.0h-1.0zM65.4 172.2h1.0v1.0h-1.0zM65.6 172.5h1.0v1.0h-1.0zM64.7 172.2h1.0v1.0h-1.0zM65.0 172.1h1.0v1.0h-1.0zM66.3 171.6h1.0v1.0h-1.0zM64.9 169.3h1.0v1.0h-1.0zM65.0 169.4h1.0v1.0h-1.0zM65.4 169.6h1.0v1.0h-1.0zM65.4 168.7h1.0v1.0h-1.0zM65.1 168.9h1.0v1.0h-1.0zM64.8 169.6h1.0v1.0h-1.0zM64.9 169.2h1.0v1.0h-1.0zM64.0 169.0h1.0v1.0h-1.0zM64.4 169.6h1.0v1.0h-1.0zM64.6 168.8h1.0v1.0h-1.0zM64.6 169.5h1.0v1.0h-1.0zM63.7 171.6h1.0v1.0h-1.0zM64.0 171.1h1.0v1.0h-1.0zM63.7 171.1h1.0v1.0h-1.0zM64.3 170.4h1.0v1.0h-1.0zM64.3 170.5h1.0v1.0h-1.0zM65.5 170.2h1.0v1.0h-1.0zM64.7 169.8h1.0v1.0h-1.0zM65.1 170.6h1.0v1.0h-1.0zM65.4 171.4h1.0v1.0h-1.0zM64.9 171.0h1.0v1.0h-1.0zM64.8 171.4h1.0v1.0h-1.0zM64.8 171.1h1.0v1.0h-1.0zM65.3 171.0h1.0v1.0h-1.0zM65.2 171.6h1.0v1.0h-1.0z" fill="#a8ae48" opacity="1.0" filter="url(#soft)"/>
<rect x="47.60" y="116.70" width="74.70" height="67.60" fill="none" stroke="#000" stroke-width="1.5"/>
<line x1="47.60" y1="167.20" x2="122.30" y2="167.20" stroke="#000" stroke-width="1.1" />
<text x="45.40" y="188.20" font-size="7.6" text-anchor="end">10<tspan dy="-5.6" font-size="6.8">0</tspan></text>
<line x1="45.40" y1="184.30" x2="47.60" y2="184.30" stroke="#000" stroke-width="0.9" />
<line x1="46.20" y1="179.21" x2="47.60" y2="179.21" stroke="#000" stroke-width="0.6" />
<line x1="46.20" y1="176.24" x2="47.60" y2="176.24" stroke="#000" stroke-width="0.6" />
<line x1="46.20" y1="174.13" x2="47.60" y2="174.13" stroke="#000" stroke-width="0.6" />
<line x1="46.20" y1="172.49" x2="47.60" y2="172.49" stroke="#000" stroke-width="0.6" />
<line x1="46.20" y1="171.15" x2="47.60" y2="171.15" stroke="#000" stroke-width="0.6" />
<line x1="46.20" y1="170.02" x2="47.60" y2="170.02" stroke="#000" stroke-width="0.6" />
<line x1="46.20" y1="169.04" x2="47.60" y2="169.04" stroke="#000" stroke-width="0.6" />
<line x1="46.20" y1="168.17" x2="47.60" y2="168.17" stroke="#000" stroke-width="0.6" />
<text x="45.40" y="171.30" font-size="7.6" text-anchor="end">10<tspan dy="-5.6" font-size="6.8">1</tspan></text>
<line x1="45.40" y1="167.40" x2="47.60" y2="167.40" stroke="#000" stroke-width="0.9" />
<line x1="46.20" y1="162.31" x2="47.60" y2="162.31" stroke="#000" stroke-width="0.6" />
<line x1="46.20" y1="159.34" x2="47.60" y2="159.34" stroke="#000" stroke-width="0.6" />
<line x1="46.20" y1="157.23" x2="47.60" y2="157.23" stroke="#000" stroke-width="0.6" />
<line x1="46.20" y1="155.59" x2="47.60" y2="155.59" stroke="#000" stroke-width="0.6" />
<line x1="46.20" y1="154.25" x2="47.60" y2="154.25" stroke="#000" stroke-width="0.6" />
<line x1="46.20" y1="153.12" x2="47.60" y2="153.12" stroke="#000" stroke-width="0.6" />
<line x1="46.20" y1="152.14" x2="47.60" y2="152.14" stroke="#000" stroke-width="0.6" />
<line x1="46.20" y1="151.27" x2="47.60" y2="151.27" stroke="#000" stroke-width="0.6" />
<text x="45.40" y="154.40" font-size="7.6" text-anchor="end">10<tspan dy="-5.6" font-size="6.8">2</tspan></text>
<line x1="45.40" y1="150.50" x2="47.60" y2="150.50" stroke="#000" stroke-width="0.9" />
<line x1="46.20" y1="145.41" x2="47.60" y2="145.41" stroke="#000" stroke-width="0.6" />
<line x1="46.20" y1="142.44" x2="47.60" y2="142.44" stroke="#000" stroke-width="0.6" />
<line x1="46.20" y1="140.33" x2="47.60" y2="140.33" stroke="#000" stroke-width="0.6" />
<line x1="46.20" y1="138.69" x2="47.60" y2="138.69" stroke="#000" stroke-width="0.6" />
<line x1="46.20" y1="137.35" x2="47.60" y2="137.35" stroke="#000" stroke-width="0.6" />
<line x1="46.20" y1="136.22" x2="47.60" y2="136.22" stroke="#000" stroke-width="0.6" />
<line x1="46.20" y1="135.24" x2="47.60" y2="135.24" stroke="#000" stroke-width="0.6" />
<line x1="46.20" y1="134.37" x2="47.60" y2="134.37" stroke="#000" stroke-width="0.6" />
<text x="45.40" y="137.50" font-size="7.6" text-anchor="end">10<tspan dy="-5.6" font-size="6.8">3</tspan></text>
<line x1="45.40" y1="133.60" x2="47.60" y2="133.60" stroke="#000" stroke-width="0.9" />
<line x1="46.20" y1="128.51" x2="47.60" y2="128.51" stroke="#000" stroke-width="0.6" />
<line x1="46.20" y1="125.54" x2="47.60" y2="125.54" stroke="#000" stroke-width="0.6" />
<line x1="46.20" y1="123.43" x2="47.60" y2="123.43" stroke="#000" stroke-width="0.6" />
<line x1="46.20" y1="121.79" x2="47.60" y2="121.79" stroke="#000" stroke-width="0.6" />
<line x1="46.20" y1="120.45" x2="47.60" y2="120.45" stroke="#000" stroke-width="0.6" />
<line x1="46.20" y1="119.32" x2="47.60" y2="119.32" stroke="#000" stroke-width="0.6" />
<line x1="46.20" y1="118.34" x2="47.60" y2="118.34" stroke="#000" stroke-width="0.6" />
<line x1="46.20" y1="117.47" x2="47.60" y2="117.47" stroke="#000" stroke-width="0.6" />
<text x="45.40" y="120.60" font-size="7.6" text-anchor="end">10<tspan dy="-5.6" font-size="6.8">4</tspan></text>
<line x1="45.40" y1="116.70" x2="47.60" y2="116.70" stroke="#000" stroke-width="0.9" />
<text x="45.43" y="194.20" font-size="8.90" text-anchor="start" >0</text>
<text x="49.37" y="194.20" font-size="8.90" text-anchor="start" >200</text>
<text x="66.97" y="194.20" font-size="8.90" text-anchor="start" >400</text>
<text x="83.27" y="194.20" font-size="8.90" text-anchor="start" >600</text>
<text x="99.57" y="194.20" font-size="8.90" text-anchor="start" >800</text>
<text x="116.35" y="194.20" font-size="8.90" text-anchor="start" >1K</text>
<text x="86.56" y="129.60" font-size="8.60" text-anchor="start" >42.9%</text>
<path d="M215.8 163.6h1.0v1.0h-1.0zM208.5 172.0h1.0v1.0h-1.0zM201.2 176.5h1.0v1.0h-1.0zM198.8 180.9h1.0v1.0h-1.0zM188.4 143.8h1.0v1.0h-1.0zM170.3 136.5h1.0v1.0h-1.0zM229.8 137.6h1.0v1.0h-1.0zM222.1 161.7h1.0v1.0h-1.0zM220.0 157.8h1.0v1.0h-1.0zM229.8 153.6h1.0v1.0h-1.0zM227.2 147.1h1.0v1.0h-1.0zM196.9 140.7h1.0v1.0h-1.0zM220.7 143.2h1.0v1.0h-1.0zM228.2 140.8h1.0v1.0h-1.0zM193.1 142.2h1.0v1.0h-1.0zM229.5 144.0h1.0v1.0h-1.0zM217.8 141.5h1.0v1.0h-1.0zM165.4 171.1h1.0v1.0h-1.0zM201.3 139.4h1.0v1.0h-1.0zM214.9 154.2h1.0v1.0h-1.0zM225.6 152.4h1.0v1.0h-1.0zM170.3 181.0h1.0v1.0h-1.0zM221.5 151.9h1.0v1.0h-1.0zM195.4 145.0h1.0v1.0h-1.0zM200.5 144.0h1.0v1.0h-1.0zM210.9 154.3h1.0v1.0h-1.0zM212.4 138.6h1.0v1.0h-1.0zM202.5 162.0h1.0v1.0h-1.0zM205.0 142.1h1.0v1.0h-1.0zM177.0 138.0h1.0v1.0h-1.0zM224.1 150.3h1.0v1.0h-1.0zM172.8 140.0h1.0v1.0h-1.0zM212.7 152.6h1.0v1.0h-1.0zM164.0 149.3h1.0v1.0h-1.0zM218.1 149.9h1.0v1.0h-1.0zM220.3 148.8h1.0v1.0h-1.0zM165.2 166.3h1.0v1.0h-1.0zM210.4 157.4h1.0v1.0h-1.0zM210.5 140.5h1.0v1.0h-1.0zM179.6 142.0h1.0v1.0h-1.0zM192.2 181.2h1.0v1.0h-1.0zM169.3 143.1h1.0v1.0h-1.0zM194.1 177.3h1.0v1.0h-1.0zM216.0 146.9h1.0v1.0h-1.0zM203.2 141.6h1.0v1.0h-1.0zM215.3 143.0h1.0v1.0h-1.0zM178.0 182.9h1.0v1.0h-1.0zM180.2 182.9h1.0v1.0h-1.0zM204.9 146.2h1.0v1.0h-1.0zM174.9 181.4h1.0v1.0h-1.0zM195.2 174.6h1.0v1.0h-1.0zM199.9 168.5h1.0v1.0h-1.0zM208.7 144.7h1.0v1.0h-1.0zM190.5 182.8h1.0v1.0h-1.0zM215.8 145.7h1.0v1.0h-1.0zM212.2 143.6h1.0v1.0h-1.0zM199.0 165.8h1.0v1.0h-1.0zM178.5 139.8h1.0v1.0h-1.0zM184.5 182.8h1.0v1.0h-1.0zM198.4 168.9h1.0v1.0h-1.0zM182.6 182.8h1.0v1.0h-1.0zM206.3 163.5h1.0v1.0h-1.0zM166.0 168.0h1.0v1.0h-1.0zM195.8 169.7h1.0v1.0h-1.0zM172.1 182.9h1.0v1.0h-1.0zM172.7 182.9h1.0v1.0h-1.0zM181.5 178.9h1.0v1.0h-1.0zM163.4 152.9h1.0v1.0h-1.0zM177.4 141.9h1.0v1.0h-1.0zM197.3 160.9h1.0v1.0h-1.0zM174.3 142.7h1.0v1.0h-1.0zM196.7 148.2h1.0v1.0h-1.0zM197.1 165.7h1.0v1.0h-1.0zM210.9 149.2h1.0v1.0h-1.0zM197.9 146.0h1.0v1.0h-1.0zM188.6 182.0h1.0v1.0h-1.0zM192.0 176.7h1.0v1.0h-1.0zM196.7 151.5h1.0v1.0h-1.0zM177.4 180.5h1.0v1.0h-1.0zM165.1 151.5h1.0v1.0h-1.0zM196.7 163.5h1.0v1.0h-1.0zM203.1 148.1h1.0v1.0h-1.0zM190.1 176.9h1.0v1.0h-1.0zM198.0 147.2h1.0v1.0h-1.0zM207.4 155.0h1.0v1.0h-1.0zM208.4 147.4h1.0v1.0h-1.0zM193.8 157.7h1.0v1.0h-1.0zM190.1 150.0h1.0v1.0h-1.0zM187.7 180.9h1.0v1.0h-1.0zM207.6 163.1h1.0v1.0h-1.0zM206.6 156.9h1.0v1.0h-1.0zM208.6 149.4h1.0v1.0h-1.0zM164.1 152.8h1.0v1.0h-1.0zM210.1 160.3h1.0v1.0h-1.0zM195.1 159.0h1.0v1.0h-1.0zM198.4 158.6h1.0v1.0h-1.0zM201.4 158.4h1.0v1.0h-1.0zM198.2 155.2h1.0v1.0h-1.0zM212.3 147.5h1.0v1.0h-1.0zM195.3 161.8h1.0v1.0h-1.0zM167.9 147.1h1.0v1.0h-1.0zM205.0 160.0h1.0v1.0h-1.0zM211.3 144.8h1.0v1.0h-1.0zM188.2 179.8h1.0v1.0h-1.0zM164.6 160.8h1.0v1.0h-1.0z" fill="#cfd7e7" opacity="1.0" filter="url(#soft)"/>
<path d="M170.9 144.7h1.0v1.0h-1.0zM199.2 152.9h1.0v1.0h-1.0zM199.9 155.6h1.0v1.0h-1.0zM211.8 146.3h1.0v1.0h-1.0zM210.4 160.9h1.0v1.0h-1.0zM165.7 162.2h1.0v1.0h-1.0zM165.5 162.1h1.0v1.0h-1.0zM193.9 172.0h1.0v1.0h-1.0zM210.1 146.8h1.0v1.0h-1.0zM173.0 144.6h1.0v1.0h-1.0zM172.2 174.3h1.0v1.0h-1.0zM202.1 156.3h1.0v1.0h-1.0zM194.5 164.4h1.0v1.0h-1.0zM207.9 162.4h1.0v1.0h-1.0zM175.0 144.1h1.0v1.0h-1.0zM167.8 147.8h1.0v1.0h-1.0zM200.9 155.8h1.0v1.0h-1.0zM200.3 151.4h1.0v1.0h-1.0zM177.1 144.5h1.0v1.0h-1.0zM205.6 156.1h1.0v1.0h-1.0zM197.2 158.5h1.0v1.0h-1.0zM167.9 167.7h1.0v1.0h-1.0zM209.3 161.4h1.0v1.0h-1.0zM187.7 177.8h1.0v1.0h-1.0zM188.1 178.5h1.0v1.0h-1.0zM203.8 160.1h1.0v1.0h-1.0zM199.7 152.0h1.0v1.0h-1.0zM205.0 157.3h1.0v1.0h-1.0zM178.1 179.1h1.0v1.0h-1.0zM195.0 151.6h1.0v1.0h-1.0zM206.6 150.1h1.0v1.0h-1.0zM191.7 174.6h1.0v1.0h-1.0zM166.2 153.3h1.0v1.0h-1.0zM183.5 176.8h1.0v1.0h-1.0zM195.6 157.2h1.0v1.0h-1.0zM194.4 167.3h1.0v1.0h-1.0zM202.4 150.3h1.0v1.0h-1.0zM192.7 151.0h1.0v1.0h-1.0zM181.5 145.2h1.0v1.0h-1.0zM205.2 153.4h1.0v1.0h-1.0zM203.1 158.8h1.0v1.0h-1.0zM196.0 155.9h1.0v1.0h-1.0zM192.0 155.8h1.0v1.0h-1.0zM202.1 152.6h1.0v1.0h-1.0zM203.4 157.9h1.0v1.0h-1.0zM188.3 149.9h1.0v1.0h-1.0zM203.8 158.4h1.0v1.0h-1.0zM169.4 164.4h1.0v1.0h-1.0zM204.1 153.5h1.0v1.0h-1.0zM203.5 152.8h1.0v1.0h-1.0zM204.7 152.3h1.0v1.0h-1.0zM201.9 150.7h1.0v1.0h-1.0zM172.0 172.8h1.0v1.0h-1.0zM166.9 153.7h1.0v1.0h-1.0zM166.8 152.9h1.0v1.0h-1.0zM206.2 149.0h1.0v1.0h-1.0zM205.6 149.4h1.0v1.0h-1.0zM205.7 149.4h1.0v1.0h-1.0zM191.5 155.8h1.0v1.0h-1.0zM203.5 149.8h1.0v1.0h-1.0zM204.0 150.1h1.0v1.0h-1.0zM165.9 158.0h1.0v1.0h-1.0zM165.9 158.2h1.0v1.0h-1.0zM189.6 152.2h1.0v1.0h-1.0zM184.9 148.1h1.0v1.0h-1.0zM167.4 160.3h1.0v1.0h-1.0zM169.0 169.1h1.0v1.0h-1.0zM192.5 171.5h1.0v1.0h-1.0zM179.3 178.2h1.0v1.0h-1.0zM192.1 152.0h1.0v1.0h-1.0zM195.5 152.1h1.0v1.0h-1.0zM192.5 162.9h1.0v1.0h-1.0zM180.0 176.8h1.0v1.0h-1.0zM193.0 169.8h1.0v1.0h-1.0zM193.1 163.9h1.0v1.0h-1.0zM187.3 150.7h1.0v1.0h-1.0zM189.5 153.5h1.0v1.0h-1.0zM192.1 162.3h1.0v1.0h-1.0zM169.8 170.3h1.0v1.0h-1.0zM172.8 173.0h1.0v1.0h-1.0zM193.3 154.7h1.0v1.0h-1.0zM192.8 169.5h1.0v1.0h-1.0zM170.0 145.8h1.0v1.0h-1.0zM191.1 161.2h1.0v1.0h-1.0zM184.3 176.1h1.0v1.0h-1.0zM191.8 153.4h1.0v1.0h-1.0zM190.0 157.4h1.0v1.0h-1.0zM181.4 174.7h1.0v1.0h-1.0zM191.4 173.5h1.0v1.0h-1.0zM191.4 173.2h1.0v1.0h-1.0zM192.5 167.6h1.0v1.0h-1.0zM182.8 175.3h1.0v1.0h-1.0zM183.3 175.5h1.0v1.0h-1.0zM191.6 171.0h1.0v1.0h-1.0zM169.9 166.4h1.0v1.0h-1.0zM167.1 159.0h1.0v1.0h-1.0zM192.2 163.6h1.0v1.0h-1.0zM195.2 154.7h1.0v1.0h-1.0zM195.4 153.9h1.0v1.0h-1.0zM194.6 154.1h1.0v1.0h-1.0zM187.8 175.4h1.0v1.0h-1.0zM167.7 154.4h1.0v1.0h-1.0zM192.3 164.0h1.0v1.0h-1.0zM172.1 170.8h1.0v1.0h-1.0zM182.0 173.9h1.0v1.0h-1.0zM170.5 164.2h1.0v1.0h-1.0zM180.6 145.8h1.0v1.0h-1.0zM186.1 176.5h1.0v1.0h-1.0zM185.9 176.5h1.0v1.0h-1.0zM177.6 177.6h1.0v1.0h-1.0zM178.4 176.8h1.0v1.0h-1.0z" fill="#b6c7e1" opacity="1.0" filter="url(#soft)"/>
<path d="M182.9 147.4h1.0v1.0h-1.0zM192.8 153.9h1.0v1.0h-1.0zM193.4 152.9h1.0v1.0h-1.0zM166.7 157.8h1.0v1.0h-1.0zM189.2 174.0h1.0v1.0h-1.0zM188.7 174.3h1.0v1.0h-1.0zM170.2 169.4h1.0v1.0h-1.0zM170.2 162.4h1.0v1.0h-1.0zM174.1 172.9h1.0v1.0h-1.0zM188.4 152.0h1.0v1.0h-1.0zM170.5 170.0h1.0v1.0h-1.0zM170.2 168.1h1.0v1.0h-1.0zM193.6 153.0h1.0v1.0h-1.0zM194.1 153.8h1.0v1.0h-1.0zM185.8 150.0h1.0v1.0h-1.0zM191.2 164.3h1.0v1.0h-1.0zM189.7 173.6h1.0v1.0h-1.0zM180.1 174.7h1.0v1.0h-1.0zM178.5 146.6h1.0v1.0h-1.0zM191.8 166.6h1.0v1.0h-1.0zM173.1 171.1h1.0v1.0h-1.0zM189.7 161.3h1.0v1.0h-1.0zM189.9 161.5h1.0v1.0h-1.0zM189.2 153.9h1.0v1.0h-1.0zM186.8 175.4h1.0v1.0h-1.0zM179.9 173.1h1.0v1.0h-1.0zM179.9 173.4h1.0v1.0h-1.0zM169.2 153.3h1.0v1.0h-1.0zM172.4 170.5h1.0v1.0h-1.0zM192.1 167.3h1.0v1.0h-1.0zM185.2 174.9h1.0v1.0h-1.0zM176.5 145.7h1.0v1.0h-1.0zM177.1 146.4h1.0v1.0h-1.0zM178.6 176.5h1.0v1.0h-1.0zM171.1 165.8h1.0v1.0h-1.0zM191.3 166.1h1.0v1.0h-1.0zM170.9 165.2h1.0v1.0h-1.0zM171.3 165.3h1.0v1.0h-1.0zM190.2 164.9h1.0v1.0h-1.0zM188.5 158.6h1.0v1.0h-1.0zM172.4 145.8h1.0v1.0h-1.0zM185.5 175.1h1.0v1.0h-1.0zM187.6 153.6h1.0v1.0h-1.0zM188.6 155.0h1.0v1.0h-1.0zM173.9 169.5h1.0v1.0h-1.0zM178.4 176.6h1.0v1.0h-1.0zM189.6 162.4h1.0v1.0h-1.0zM174.2 172.0h1.0v1.0h-1.0zM181.8 146.7h1.0v1.0h-1.0zM186.9 152.0h1.0v1.0h-1.0zM187.3 152.7h1.0v1.0h-1.0zM188.7 160.3h1.0v1.0h-1.0zM182.7 173.4h1.0v1.0h-1.0zM170.8 163.8h1.0v1.0h-1.0zM191.5 170.1h1.0v1.0h-1.0zM191.2 170.2h1.0v1.0h-1.0zM169.6 152.4h1.0v1.0h-1.0zM170.2 152.4h1.0v1.0h-1.0zM168.3 157.7h1.0v1.0h-1.0zM168.3 158.4h1.0v1.0h-1.0zM174.0 171.3h1.0v1.0h-1.0zM189.1 155.9h1.0v1.0h-1.0zM169.9 150.1h1.0v1.0h-1.0zM169.9 150.5h1.0v1.0h-1.0zM171.0 167.8h1.0v1.0h-1.0zM179.1 175.6h1.0v1.0h-1.0zM168.7 159.1h1.0v1.0h-1.0zM177.2 175.5h1.0v1.0h-1.0zM186.7 174.0h1.0v1.0h-1.0zM170.0 149.6h1.0v1.0h-1.0zM176.0 174.3h1.0v1.0h-1.0zM191.2 166.9h1.0v1.0h-1.0zM190.5 167.0h1.0v1.0h-1.0zM182.8 147.9h1.0v1.0h-1.0zM185.2 174.4h1.0v1.0h-1.0zM172.4 168.7h1.0v1.0h-1.0zM184.1 148.9h1.0v1.0h-1.0zM183.5 148.7h1.0v1.0h-1.0zM170.2 153.0h1.0v1.0h-1.0zM187.8 153.9h1.0v1.0h-1.0zM181.4 147.5h1.0v1.0h-1.0zM186.4 174.5h1.0v1.0h-1.0zM170.7 163.7h1.0v1.0h-1.0zM175.1 170.5h1.0v1.0h-1.0zM190.9 167.7h1.0v1.0h-1.0zM190.7 168.1h1.0v1.0h-1.0zM172.0 167.2h1.0v1.0h-1.0zM171.9 167.3h1.0v1.0h-1.0zM172.5 168.5h1.0v1.0h-1.0zM172.8 168.3h1.0v1.0h-1.0zM172.9 167.9h1.0v1.0h-1.0zM177.9 175.6h1.0v1.0h-1.0zM178.4 175.7h1.0v1.0h-1.0zM172.3 168.5h1.0v1.0h-1.0zM172.4 168.2h1.0v1.0h-1.0zM188.6 172.1h1.0v1.0h-1.0zM188.9 171.9h1.0v1.0h-1.0zM171.0 147.2h1.0v1.0h-1.0zM171.2 147.3h1.0v1.0h-1.0zM180.4 147.2h1.0v1.0h-1.0zM181.8 172.7h1.0v1.0h-1.0zM182.0 172.0h1.0v1.0h-1.0zM171.0 152.5h1.0v1.0h-1.0zM189.8 170.2h1.0v1.0h-1.0zM188.6 161.9h1.0v1.0h-1.0zM188.5 161.9h1.0v1.0h-1.0zM189.6 168.1h1.0v1.0h-1.0zM190.1 168.4h1.0v1.0h-1.0zM189.0 164.1h1.0v1.0h-1.0zM189.2 163.8h1.0v1.0h-1.0zM188.7 164.3h1.0v1.0h-1.0zM179.4 146.8h1.0v1.0h-1.0zM185.4 173.6h1.0v1.0h-1.0zM173.9 146.8h1.0v1.0h-1.0zM177.9 174.4h1.0v1.0h-1.0zM177.3 174.6h1.0v1.0h-1.0zM177.0 173.9h1.0v1.0h-1.0zM189.6 168.8h1.0v1.0h-1.0zM175.3 147.2h1.0v1.0h-1.0zM174.7 147.1h1.0v1.0h-1.0zM174.9 146.7h1.0v1.0h-1.0zM169.1 157.8h1.0v1.0h-1.0zM168.7 158.6h1.0v1.0h-1.0zM171.4 153.5h1.0v1.0h-1.0zM177.8 147.3h1.0v1.0h-1.0zM181.9 148.5h1.0v1.0h-1.0zM182.3 148.6h1.0v1.0h-1.0zM183.4 172.6h1.0v1.0h-1.0zM185.6 172.7h1.0v1.0h-1.0zM178.3 173.1h1.0v1.0h-1.0zM178.0 173.2h1.0v1.0h-1.0zM170.1 154.5h1.0v1.0h-1.0zM176.5 170.5h1.0v1.0h-1.0zM171.0 150.0h1.0v1.0h-1.0zM170.8 150.6h1.0v1.0h-1.0zM176.3 173.3h1.0v1.0h-1.0zM171.5 147.6h1.0v1.0h-1.0zM171.7 147.2h1.0v1.0h-1.0zM172.2 147.4h1.0v1.0h-1.0zM176.2 147.6h1.0v1.0h-1.0zM189.3 167.9h1.0v1.0h-1.0zM169.9 158.8h1.0v1.0h-1.0zM170.3 158.9h1.0v1.0h-1.0zM177.6 172.4h1.0v1.0h-1.0zM187.8 172.2h1.0v1.0h-1.0zM187.6 171.8h1.0v1.0h-1.0zM171.5 148.4h1.0v1.0h-1.0zM171.4 148.6h1.0v1.0h-1.0zM187.2 154.0h1.0v1.0h-1.0zM187.0 154.7h1.0v1.0h-1.0zM184.9 151.4h1.0v1.0h-1.0zM185.5 151.5h1.0v1.0h-1.0zM171.4 149.2h1.0v1.0h-1.0zM187.6 156.1h1.0v1.0h-1.0zM188.2 156.6h1.0v1.0h-1.0zM188.3 156.0h1.0v1.0h-1.0zM169.1 155.7h1.0v1.0h-1.0zM175.1 167.5h1.0v1.0h-1.0zM175.5 167.4h1.0v1.0h-1.0zM183.6 150.7h1.0v1.0h-1.0zM171.9 151.9h1.0v1.0h-1.0zM172.3 151.3h1.0v1.0h-1.0zM171.7 151.4h1.0v1.0h-1.0zM189.4 170.2h1.0v1.0h-1.0zM189.3 169.9h1.0v1.0h-1.0zM189.3 170.4h1.0v1.0h-1.0zM177.3 173.4h1.0v1.0h-1.0zM176.9 172.8h1.0v1.0h-1.0zM178.8 171.4h1.0v1.0h-1.0z" fill="#96b2da" opacity="1.0" filter="url(#soft)"/>
<path d="M188.0 157.7h1.0v1.0h-1.0zM187.9 158.4h1.0v1.0h-1.0zM171.4 161.0h1.0v1.0h-1.0zM171.9 150.1h1.0v1.0h-1.0zM175.6 170.8h1.0v1.0h-1.0zM176.5 171.5h1.0v1.0h-1.0zM175.7 171.5h1.0v1.0h-1.0zM175.9 171.2h1.0v1.0h-1.0zM176.1 170.8h1.0v1.0h-1.0zM186.8 171.8h1.0v1.0h-1.0zM176.4 172.6h1.0v1.0h-1.0zM176.4 172.6h1.0v1.0h-1.0zM176.3 171.9h1.0v1.0h-1.0zM187.6 168.1h1.0v1.0h-1.0zM185.3 171.9h1.0v1.0h-1.0zM184.9 172.4h1.0v1.0h-1.0zM185.3 171.7h1.0v1.0h-1.0zM188.4 166.9h1.0v1.0h-1.0zM188.1 167.4h1.0v1.0h-1.0zM176.6 169.7h1.0v1.0h-1.0zM188.3 170.7h1.0v1.0h-1.0zM171.7 148.4h1.0v1.0h-1.0zM172.0 147.9h1.0v1.0h-1.0zM177.0 171.6h1.0v1.0h-1.0zM186.0 172.3h1.0v1.0h-1.0zM174.4 165.8h1.0v1.0h-1.0zM172.4 149.1h1.0v1.0h-1.0zM188.0 169.3h1.0v1.0h-1.0zM172.8 148.1h1.0v1.0h-1.0zM172.7 147.7h1.0v1.0h-1.0zM187.8 165.9h1.0v1.0h-1.0zM172.9 151.4h1.0v1.0h-1.0zM173.5 151.3h1.0v1.0h-1.0zM174.3 148.0h1.0v1.0h-1.0zM170.0 155.3h1.0v1.0h-1.0zM170.2 155.5h1.0v1.0h-1.0zM187.5 170.2h1.0v1.0h-1.0zM188.0 170.2h1.0v1.0h-1.0zM181.8 149.3h1.0v1.0h-1.0zM181.6 149.3h1.0v1.0h-1.0zM180.0 148.5h1.0v1.0h-1.0zM187.7 162.4h1.0v1.0h-1.0zM176.5 167.1h1.0v1.0h-1.0zM185.0 151.9h1.0v1.0h-1.0zM182.7 150.4h1.0v1.0h-1.0zM187.1 171.1h1.0v1.0h-1.0zM187.5 171.0h1.0v1.0h-1.0zM177.9 148.3h1.0v1.0h-1.0zM177.7 148.1h1.0v1.0h-1.0zM182.2 171.0h1.0v1.0h-1.0zM173.5 164.5h1.0v1.0h-1.0zM173.2 164.3h1.0v1.0h-1.0zM176.2 148.6h1.0v1.0h-1.0zM176.6 148.6h1.0v1.0h-1.0zM176.8 148.3h1.0v1.0h-1.0zM177.2 148.0h1.0v1.0h-1.0zM187.9 164.2h1.0v1.0h-1.0zM177.7 170.1h1.0v1.0h-1.0zM184.0 150.9h1.0v1.0h-1.0zM183.8 151.6h1.0v1.0h-1.0zM173.6 149.2h1.0v1.0h-1.0zM174.3 148.9h1.0v1.0h-1.0zM174.5 149.3h1.0v1.0h-1.0zM185.9 154.0h1.0v1.0h-1.0zM184.2 171.0h1.0v1.0h-1.0zM183.8 171.4h1.0v1.0h-1.0zM170.9 159.5h1.0v1.0h-1.0zM187.3 170.1h1.0v1.0h-1.0zM185.8 171.4h1.0v1.0h-1.0zM185.6 171.7h1.0v1.0h-1.0zM186.2 171.6h1.0v1.0h-1.0zM187.5 169.6h1.0v1.0h-1.0zM170.3 157.0h1.0v1.0h-1.0zM170.1 157.1h1.0v1.0h-1.0zM174.0 150.2h1.0v1.0h-1.0zM186.5 156.3h1.0v1.0h-1.0zM170.1 156.0h1.0v1.0h-1.0zM169.8 155.8h1.0v1.0h-1.0zM170.1 155.9h1.0v1.0h-1.0zM169.8 156.2h1.0v1.0h-1.0zM170.2 155.8h1.0v1.0h-1.0zM170.4 156.2h1.0v1.0h-1.0zM171.7 153.7h1.0v1.0h-1.0zM172.4 161.8h1.0v1.0h-1.0zM172.3 162.1h1.0v1.0h-1.0zM171.9 162.4h1.0v1.0h-1.0zM170.7 155.4h1.0v1.0h-1.0zM171.5 155.4h1.0v1.0h-1.0zM175.0 166.3h1.0v1.0h-1.0zM174.3 151.4h1.0v1.0h-1.0zM175.4 148.9h1.0v1.0h-1.0zM174.0 165.6h1.0v1.0h-1.0zM173.5 165.0h1.0v1.0h-1.0zM174.4 164.9h1.0v1.0h-1.0zM174.2 165.1h1.0v1.0h-1.0zM170.9 158.0h1.0v1.0h-1.0zM171.5 157.9h1.0v1.0h-1.0zM186.6 167.0h1.0v1.0h-1.0zM185.0 153.2h1.0v1.0h-1.0zM179.0 169.8h1.0v1.0h-1.0zM179.1 170.4h1.0v1.0h-1.0zM187.4 157.1h1.0v1.0h-1.0zM186.6 156.7h1.0v1.0h-1.0zM173.3 152.7h1.0v1.0h-1.0zM176.0 149.0h1.0v1.0h-1.0zM175.6 148.8h1.0v1.0h-1.0zM175.6 149.0h1.0v1.0h-1.0zM177.5 149.1h1.0v1.0h-1.0zM186.5 161.7h1.0v1.0h-1.0zM186.8 160.7h1.0v1.0h-1.0zM178.2 148.8h1.0v1.0h-1.0zM186.9 160.6h1.0v1.0h-1.0zM186.5 160.6h1.0v1.0h-1.0zM178.3 169.0h1.0v1.0h-1.0zM177.5 169.3h1.0v1.0h-1.0zM173.4 163.4h1.0v1.0h-1.0zM175.4 150.3h1.0v1.0h-1.0zM175.5 150.5h1.0v1.0h-1.0zM175.0 150.2h1.0v1.0h-1.0zM186.3 155.7h1.0v1.0h-1.0zM186.3 154.8h1.0v1.0h-1.0zM179.7 148.8h1.0v1.0h-1.0zM179.7 149.4h1.0v1.0h-1.0zM180.0 149.1h1.0v1.0h-1.0zM180.4 149.2h1.0v1.0h-1.0zM185.5 169.0h1.0v1.0h-1.0zM185.6 169.3h1.0v1.0h-1.0zM185.5 170.5h1.0v1.0h-1.0zM184.8 169.8h1.0v1.0h-1.0zM187.4 158.0h1.0v1.0h-1.0zM186.6 159.4h1.0v1.0h-1.0zM187.4 159.3h1.0v1.0h-1.0zM171.3 156.4h1.0v1.0h-1.0zM178.9 149.4h1.0v1.0h-1.0zM179.2 149.1h1.0v1.0h-1.0zM187.1 162.2h1.0v1.0h-1.0zM187.0 162.5h1.0v1.0h-1.0zM186.8 162.3h1.0v1.0h-1.0zM187.1 161.7h1.0v1.0h-1.0zM176.6 167.1h1.0v1.0h-1.0zM184.2 152.4h1.0v1.0h-1.0zM184.0 152.1h1.0v1.0h-1.0zM187.1 165.7h1.0v1.0h-1.0zM187.4 166.4h1.0v1.0h-1.0zM186.8 165.7h1.0v1.0h-1.0zM173.7 152.0h1.0v1.0h-1.0zM179.5 169.9h1.0v1.0h-1.0zM171.6 160.8h1.0v1.0h-1.0zM172.2 160.8h1.0v1.0h-1.0zM172.0 161.2h1.0v1.0h-1.0zM184.4 170.1h1.0v1.0h-1.0zM171.8 155.7h1.0v1.0h-1.0zM176.4 150.5h1.0v1.0h-1.0zM175.9 150.3h1.0v1.0h-1.0zM187.4 163.5h1.0v1.0h-1.0zM186.4 168.1h1.0v1.0h-1.0zM186.2 168.0h1.0v1.0h-1.0zM185.6 168.0h1.0v1.0h-1.0zM181.0 150.3h1.0v1.0h-1.0zM181.4 149.9h1.0v1.0h-1.0zM175.8 165.7h1.0v1.0h-1.0zM176.0 166.2h1.0v1.0h-1.0zM173.5 164.4h1.0v1.0h-1.0z" fill="#7a9fd0" opacity="1.0" filter="url(#soft)"/>
<path d="M186.9 165.6h1.0v1.0h-1.0zM187.3 165.2h1.0v1.0h-1.0zM187.1 164.9h1.0v1.0h-1.0zM181.0 170.3h1.0v1.0h-1.0zM181.2 170.5h1.0v1.0h-1.0zM180.9 169.8h1.0v1.0h-1.0zM181.3 170.5h1.0v1.0h-1.0zM183.4 169.7h1.0v1.0h-1.0zM182.6 170.6h1.0v1.0h-1.0zM183.0 170.0h1.0v1.0h-1.0zM185.6 156.3h1.0v1.0h-1.0zM186.4 156.7h1.0v1.0h-1.0zM177.8 150.5h1.0v1.0h-1.0zM187.1 164.2h1.0v1.0h-1.0zM187.4 164.1h1.0v1.0h-1.0zM185.3 154.5h1.0v1.0h-1.0zM184.6 153.8h1.0v1.0h-1.0zM177.8 167.8h1.0v1.0h-1.0zM177.9 168.2h1.0v1.0h-1.0zM181.7 151.0h1.0v1.0h-1.0zM182.3 150.9h1.0v1.0h-1.0zM182.0 151.6h1.0v1.0h-1.0zM181.5 151.3h1.0v1.0h-1.0zM178.3 168.3h1.0v1.0h-1.0zM181.7 151.5h1.0v1.0h-1.0zM172.2 160.4h1.0v1.0h-1.0zM171.6 160.7h1.0v1.0h-1.0zM181.8 170.0h1.0v1.0h-1.0zM182.1 170.3h1.0v1.0h-1.0zM182.4 170.6h1.0v1.0h-1.0zM185.1 168.7h1.0v1.0h-1.0zM185.1 169.4h1.0v1.0h-1.0zM172.4 159.7h1.0v1.0h-1.0zM172.4 159.1h1.0v1.0h-1.0zM175.1 165.6h1.0v1.0h-1.0zM171.6 157.9h1.0v1.0h-1.0zM173.1 153.8h1.0v1.0h-1.0zM178.9 150.6h1.0v1.0h-1.0zM178.9 150.6h1.0v1.0h-1.0zM178.8 150.3h1.0v1.0h-1.0zM179.8 150.5h1.0v1.0h-1.0zM179.9 150.2h1.0v1.0h-1.0zM180.1 150.5h1.0v1.0h-1.0zM179.9 150.4h1.0v1.0h-1.0zM172.3 157.1h1.0v1.0h-1.0zM172.4 156.8h1.0v1.0h-1.0zM172.3 157.3h1.0v1.0h-1.0zM172.4 157.4h1.0v1.0h-1.0zM172.5 162.0h1.0v1.0h-1.0zM183.5 151.9h1.0v1.0h-1.0zM183.2 151.8h1.0v1.0h-1.0zM182.7 152.7h1.0v1.0h-1.0zM184.0 153.0h1.0v1.0h-1.0zM184.3 153.4h1.0v1.0h-1.0zM183.5 153.7h1.0v1.0h-1.0zM185.6 161.6h1.0v1.0h-1.0zM176.2 151.5h1.0v1.0h-1.0zM176.1 151.5h1.0v1.0h-1.0zM176.3 151.3h1.0v1.0h-1.0zM179.1 169.4h1.0v1.0h-1.0zM178.7 169.3h1.0v1.0h-1.0zM178.9 169.2h1.0v1.0h-1.0zM185.9 161.7h1.0v1.0h-1.0zM185.5 157.1h1.0v1.0h-1.0zM180.5 150.8h1.0v1.0h-1.0zM177.0 151.4h1.0v1.0h-1.0zM176.8 151.4h1.0v1.0h-1.0zM174.2 153.7h1.0v1.0h-1.0zM173.5 152.7h1.0v1.0h-1.0zM174.5 163.1h1.0v1.0h-1.0zM174.1 163.4h1.0v1.0h-1.0zM184.3 169.3h1.0v1.0h-1.0zM183.8 169.6h1.0v1.0h-1.0zM184.0 169.0h1.0v1.0h-1.0zM178.2 151.5h1.0v1.0h-1.0zM185.1 168.0h1.0v1.0h-1.0zM185.3 167.9h1.0v1.0h-1.0zM185.4 167.8h1.0v1.0h-1.0zM175.2 152.5h1.0v1.0h-1.0zM185.0 154.9h1.0v1.0h-1.0zM186.1 160.0h1.0v1.0h-1.0zM185.9 160.6h1.0v1.0h-1.0zM186.3 160.0h1.0v1.0h-1.0zM186.3 166.7h1.0v1.0h-1.0zM185.8 165.7h1.0v1.0h-1.0zM185.7 163.4h1.0v1.0h-1.0zM186.3 163.5h1.0v1.0h-1.0zM185.6 162.9h1.0v1.0h-1.0zM186.0 162.7h1.0v1.0h-1.0zM176.7 166.4h1.0v1.0h-1.0zM178.3 166.7h1.0v1.0h-1.0zM178.4 166.7h1.0v1.0h-1.0zM179.3 151.4h1.0v1.0h-1.0zM179.3 150.8h1.0v1.0h-1.0zM186.1 157.9h1.0v1.0h-1.0zM185.7 158.3h1.0v1.0h-1.0zM185.5 158.5h1.0v1.0h-1.0zM186.4 157.9h1.0v1.0h-1.0zM175.4 163.9h1.0v1.0h-1.0zM174.7 163.8h1.0v1.0h-1.0zM181.7 152.4h1.0v1.0h-1.0zM173.3 154.9h1.0v1.0h-1.0zM172.7 155.0h1.0v1.0h-1.0zM172.6 154.7h1.0v1.0h-1.0zM186.5 158.9h1.0v1.0h-1.0zM185.8 159.3h1.0v1.0h-1.0zM176.4 165.5h1.0v1.0h-1.0zM176.3 165.2h1.0v1.0h-1.0zM176.3 164.7h1.0v1.0h-1.0zM175.5 165.3h1.0v1.0h-1.0zM175.5 165.6h1.0v1.0h-1.0zM180.2 169.2h1.0v1.0h-1.0zM179.9 169.4h1.0v1.0h-1.0zM179.8 169.6h1.0v1.0h-1.0zM180.2 169.5h1.0v1.0h-1.0zM185.8 164.6h1.0v1.0h-1.0zM185.8 164.2h1.0v1.0h-1.0zM185.5 164.4h1.0v1.0h-1.0zM186.1 165.1h1.0v1.0h-1.0zM186.0 164.7h1.0v1.0h-1.0zM183.4 169.5h1.0v1.0h-1.0zM185.3 156.5h1.0v1.0h-1.0zM185.3 156.3h1.0v1.0h-1.0zM185.2 156.6h1.0v1.0h-1.0zM185.1 166.7h1.0v1.0h-1.0zM184.5 167.6h1.0v1.0h-1.0zM184.6 167.7h1.0v1.0h-1.0zM184.7 167.0h1.0v1.0h-1.0zM172.7 160.8h1.0v1.0h-1.0zM173.3 161.0h1.0v1.0h-1.0zM178.8 168.7h1.0v1.0h-1.0zM178.8 168.3h1.0v1.0h-1.0zM179.2 167.8h1.0v1.0h-1.0zM172.7 158.1h1.0v1.0h-1.0zM184.5 154.4h1.0v1.0h-1.0zM173.0 156.2h1.0v1.0h-1.0zM173.2 155.9h1.0v1.0h-1.0zM173.2 155.8h1.0v1.0h-1.0zM173.4 156.4h1.0v1.0h-1.0zM182.8 153.6h1.0v1.0h-1.0zM183.0 153.0h1.0v1.0h-1.0zM180.5 151.9h1.0v1.0h-1.0zM175.6 152.7h1.0v1.0h-1.0zM176.2 152.4h1.0v1.0h-1.0zM175.6 152.3h1.0v1.0h-1.0zM184.9 162.6h1.0v1.0h-1.0zM181.5 168.8h1.0v1.0h-1.0zM181.6 168.8h1.0v1.0h-1.0zM173.2 159.0h1.0v1.0h-1.0zM172.9 159.0h1.0v1.0h-1.0zM172.7 159.2h1.0v1.0h-1.0zM176.8 152.7h1.0v1.0h-1.0zM176.5 152.3h1.0v1.0h-1.0zM177.3 152.3h1.0v1.0h-1.0zM176.6 151.9h1.0v1.0h-1.0zM178.3 152.1h1.0v1.0h-1.0zM185.4 161.2h1.0v1.0h-1.0zM184.6 160.9h1.0v1.0h-1.0zM185.1 157.6h1.0v1.0h-1.0zM174.2 161.9h1.0v1.0h-1.0zM173.5 162.4h1.0v1.0h-1.0zM174.3 162.0h1.0v1.0h-1.0zM173.3 159.9h1.0v1.0h-1.0zM172.8 159.8h1.0v1.0h-1.0zM172.8 160.6h1.0v1.0h-1.0zM180.0 152.2h1.0v1.0h-1.0zM179.5 151.9h1.0v1.0h-1.0zM180.3 152.1h1.0v1.0h-1.0zM180.0 152.5h1.0v1.0h-1.0zM174.2 154.5h1.0v1.0h-1.0zM173.7 154.2h1.0v1.0h-1.0zM173.6 154.4h1.0v1.0h-1.0zM175.3 162.8h1.0v1.0h-1.0zM174.6 163.0h1.0v1.0h-1.0zM174.6 163.5h1.0v1.0h-1.0zM174.8 163.1h1.0v1.0h-1.0zM178.6 151.8h1.0v1.0h-1.0zM178.9 152.5h1.0v1.0h-1.0zM178.9 152.2h1.0v1.0h-1.0zM184.6 163.2h1.0v1.0h-1.0zM184.7 163.2h1.0v1.0h-1.0zM176.2 164.4h1.0v1.0h-1.0zM176.4 164.0h1.0v1.0h-1.0zM175.6 164.4h1.0v1.0h-1.0zM185.4 165.8h1.0v1.0h-1.0zM175.3 153.2h1.0v1.0h-1.0zM175.0 153.2h1.0v1.0h-1.0zM175.1 152.9h1.0v1.0h-1.0zM175.4 153.4h1.0v1.0h-1.0zM175.1 153.1h1.0v1.0h-1.0zM182.4 153.2h1.0v1.0h-1.0zM182.0 153.4h1.0v1.0h-1.0zM178.8 167.0h1.0v1.0h-1.0zM179.3 167.5h1.0v1.0h-1.0zM178.8 167.5h1.0v1.0h-1.0zM183.6 155.3h1.0v1.0h-1.0zM183.5 155.2h1.0v1.0h-1.0zM183.6 155.5h1.0v1.0h-1.0zM183.9 154.8h1.0v1.0h-1.0zM184.0 155.1h1.0v1.0h-1.0z" fill="#6595c4" opacity="1.0" filter="url(#soft)"/>
<path d="M179.9 168.3h1.0v1.0h-1.0zM179.6 168.5h1.0v1.0h-1.0zM179.7 167.8h1.0v1.0h-1.0zM177.9 166.1h1.0v1.0h-1.0zM177.6 165.7h1.0v1.0h-1.0zM183.5 166.9h1.0v1.0h-1.0zM183.6 167.1h1.0v1.0h-1.0zM184.4 167.5h1.0v1.0h-1.0zM182.9 167.8h1.0v1.0h-1.0zM182.7 168.3h1.0v1.0h-1.0zM182.9 168.0h1.0v1.0h-1.0zM185.3 157.8h1.0v1.0h-1.0zM185.0 158.3h1.0v1.0h-1.0zM185.5 164.2h1.0v1.0h-1.0zM184.9 163.7h1.0v1.0h-1.0zM182.8 154.5h1.0v1.0h-1.0zM183.0 154.3h1.0v1.0h-1.0zM182.8 154.5h1.0v1.0h-1.0zM182.8 154.3h1.0v1.0h-1.0zM185.1 165.0h1.0v1.0h-1.0zM184.7 165.2h1.0v1.0h-1.0zM184.7 165.1h1.0v1.0h-1.0zM184.9 165.1h1.0v1.0h-1.0zM185.5 165.1h1.0v1.0h-1.0zM180.9 153.6h1.0v1.0h-1.0zM181.4 152.8h1.0v1.0h-1.0zM180.9 152.9h1.0v1.0h-1.0zM181.1 153.0h1.0v1.0h-1.0zM174.2 158.1h1.0v1.0h-1.0zM173.5 157.9h1.0v1.0h-1.0zM173.7 157.7h1.0v1.0h-1.0zM174.4 158.1h1.0v1.0h-1.0zM176.2 162.9h1.0v1.0h-1.0zM174.3 157.3h1.0v1.0h-1.0zM173.6 157.5h1.0v1.0h-1.0zM173.8 157.2h1.0v1.0h-1.0zM174.2 157.0h1.0v1.0h-1.0zM183.8 156.5h1.0v1.0h-1.0zM184.4 156.2h1.0v1.0h-1.0zM183.8 155.8h1.0v1.0h-1.0zM184.0 156.5h1.0v1.0h-1.0zM173.6 155.0h1.0v1.0h-1.0zM173.6 155.3h1.0v1.0h-1.0zM174.0 155.2h1.0v1.0h-1.0zM173.7 155.4h1.0v1.0h-1.0zM185.2 159.2h1.0v1.0h-1.0zM184.7 158.8h1.0v1.0h-1.0zM184.9 159.5h1.0v1.0h-1.0zM184.5 159.4h1.0v1.0h-1.0zM185.3 159.2h1.0v1.0h-1.0zM185.1 159.5h1.0v1.0h-1.0zM181.2 168.6h1.0v1.0h-1.0zM180.9 167.7h1.0v1.0h-1.0zM180.7 168.6h1.0v1.0h-1.0zM182.4 168.0h1.0v1.0h-1.0zM182.0 168.4h1.0v1.0h-1.0zM181.5 168.6h1.0v1.0h-1.0zM182.4 168.5h1.0v1.0h-1.0zM182.1 168.2h1.0v1.0h-1.0zM174.1 156.3h1.0v1.0h-1.0zM173.8 155.8h1.0v1.0h-1.0zM173.7 156.3h1.0v1.0h-1.0zM180.2 153.1h1.0v1.0h-1.0zM175.5 153.5h1.0v1.0h-1.0zM175.5 153.7h1.0v1.0h-1.0zM182.4 153.9h1.0v1.0h-1.0zM181.8 153.8h1.0v1.0h-1.0zM183.7 157.5h1.0v1.0h-1.0zM184.1 157.5h1.0v1.0h-1.0zM173.8 161.1h1.0v1.0h-1.0zM174.1 160.9h1.0v1.0h-1.0zM174.3 161.5h1.0v1.0h-1.0zM175.0 162.0h1.0v1.0h-1.0zM173.8 159.2h1.0v1.0h-1.0zM173.5 158.9h1.0v1.0h-1.0zM177.0 164.0h1.0v1.0h-1.0zM176.7 164.3h1.0v1.0h-1.0zM177.4 164.1h1.0v1.0h-1.0zM178.6 153.6h1.0v1.0h-1.0zM179.2 153.4h1.0v1.0h-1.0zM178.6 153.2h1.0v1.0h-1.0zM178.9 152.9h1.0v1.0h-1.0zM179.5 153.5h1.0v1.0h-1.0zM180.4 166.7h1.0v1.0h-1.0zM178.3 153.3h1.0v1.0h-1.0zM183.1 155.2h1.0v1.0h-1.0zM183.5 155.5h1.0v1.0h-1.0zM176.8 153.3h1.0v1.0h-1.0zM177.5 153.1h1.0v1.0h-1.0zM177.5 153.6h1.0v1.0h-1.0zM184.1 166.6h1.0v1.0h-1.0zM183.5 166.5h1.0v1.0h-1.0zM183.6 166.1h1.0v1.0h-1.0zM182.7 167.2h1.0v1.0h-1.0zM182.9 167.3h1.0v1.0h-1.0zM180.9 154.4h1.0v1.0h-1.0zM181.5 154.5h1.0v1.0h-1.0zM180.8 154.1h1.0v1.0h-1.0zM182.6 156.3h1.0v1.0h-1.0zM183.5 156.5h1.0v1.0h-1.0zM183.5 156.0h1.0v1.0h-1.0zM182.5 156.5h1.0v1.0h-1.0zM174.6 154.0h1.0v1.0h-1.0zM175.4 153.9h1.0v1.0h-1.0zM175.0 153.9h1.0v1.0h-1.0zM175.0 154.2h1.0v1.0h-1.0zM175.3 153.8h1.0v1.0h-1.0zM182.2 155.4h1.0v1.0h-1.0zM182.3 154.8h1.0v1.0h-1.0zM182.1 155.3h1.0v1.0h-1.0zM173.8 160.1h1.0v1.0h-1.0zM174.2 160.3h1.0v1.0h-1.0zM173.9 160.2h1.0v1.0h-1.0zM173.8 160.7h1.0v1.0h-1.0zM174.0 160.2h1.0v1.0h-1.0zM176.7 163.1h1.0v1.0h-1.0zM176.9 163.1h1.0v1.0h-1.0zM183.6 162.7h1.0v1.0h-1.0zM181.3 167.6h1.0v1.0h-1.0zM181.1 167.5h1.0v1.0h-1.0zM179.5 166.5h1.0v1.0h-1.0zM179.3 166.4h1.0v1.0h-1.0zM179.5 165.8h1.0v1.0h-1.0zM181.7 156.4h1.0v1.0h-1.0zM181.6 155.9h1.0v1.0h-1.0zM175.0 157.9h1.0v1.0h-1.0zM184.3 158.1h1.0v1.0h-1.0zM181.9 167.2h1.0v1.0h-1.0zM182.5 167.2h1.0v1.0h-1.0zM181.7 167.2h1.0v1.0h-1.0zM182.1 167.5h1.0v1.0h-1.0zM182.4 166.9h1.0v1.0h-1.0zM181.9 167.3h1.0v1.0h-1.0zM184.4 162.8h1.0v1.0h-1.0zM184.4 163.6h1.0v1.0h-1.0zM183.2 157.3h1.0v1.0h-1.0zM183.1 157.3h1.0v1.0h-1.0zM183.4 157.1h1.0v1.0h-1.0zM175.7 162.1h1.0v1.0h-1.0zM175.6 162.3h1.0v1.0h-1.0zM176.4 161.9h1.0v1.0h-1.0zM181.0 154.9h1.0v1.0h-1.0zM184.5 164.8h1.0v1.0h-1.0zM175.1 157.6h1.0v1.0h-1.0zM175.0 157.5h1.0v1.0h-1.0zM178.4 165.0h1.0v1.0h-1.0zM178.3 165.6h1.0v1.0h-1.0zM178.4 165.2h1.0v1.0h-1.0zM178.1 165.3h1.0v1.0h-1.0zM178.4 164.9h1.0v1.0h-1.0zM178.5 165.5h1.0v1.0h-1.0zM180.0 154.2h1.0v1.0h-1.0zM180.5 154.4h1.0v1.0h-1.0zM180.3 154.4h1.0v1.0h-1.0zM180.4 153.8h1.0v1.0h-1.0zM179.8 153.8h1.0v1.0h-1.0zM183.6 160.8h1.0v1.0h-1.0zM184.2 160.9h1.0v1.0h-1.0zM184.0 161.5h1.0v1.0h-1.0zM175.0 159.2h1.0v1.0h-1.0zM174.6 159.3h1.0v1.0h-1.0zM174.8 159.5h1.0v1.0h-1.0zM184.4 164.2h1.0v1.0h-1.0zM181.1 155.8h1.0v1.0h-1.0zM180.7 156.3h1.0v1.0h-1.0zM181.3 156.6h1.0v1.0h-1.0zM180.7 155.8h1.0v1.0h-1.0zM181.4 156.3h1.0v1.0h-1.0zM180.7 156.6h1.0v1.0h-1.0zM182.8 166.4h1.0v1.0h-1.0zM174.7 155.1h1.0v1.0h-1.0zM174.7 154.8h1.0v1.0h-1.0zM175.3 161.0h1.0v1.0h-1.0zM175.2 161.4h1.0v1.0h-1.0zM175.5 161.4h1.0v1.0h-1.0zM182.3 157.1h1.0v1.0h-1.0zM174.6 156.0h1.0v1.0h-1.0zM175.3 156.3h1.0v1.0h-1.0zM176.9 161.9h1.0v1.0h-1.0zM176.0 154.7h1.0v1.0h-1.0zM178.7 154.1h1.0v1.0h-1.0zM178.9 154.4h1.0v1.0h-1.0zM184.2 159.1h1.0v1.0h-1.0zM184.4 159.2h1.0v1.0h-1.0zM184.4 159.3h1.0v1.0h-1.0zM183.9 159.0h1.0v1.0h-1.0zM175.2 160.3h1.0v1.0h-1.0zM175.1 160.3h1.0v1.0h-1.0zM184.0 160.5h1.0v1.0h-1.0zM184.4 159.9h1.0v1.0h-1.0zM184.4 159.9h1.0v1.0h-1.0zM177.9 164.3h1.0v1.0h-1.0zM178.3 164.5h1.0v1.0h-1.0zM178.2 164.0h1.0v1.0h-1.0zM178.2 164.5h1.0v1.0h-1.0zM180.0 154.7h1.0v1.0h-1.0zM180.4 155.2h1.0v1.0h-1.0zM179.5 155.6h1.0v1.0h-1.0zM180.9 166.4h1.0v1.0h-1.0zM181.1 165.7h1.0v1.0h-1.0zM180.6 166.1h1.0v1.0h-1.0zM181.7 166.0h1.0v1.0h-1.0zM178.0 154.6h1.0v1.0h-1.0zM182.6 158.6h1.0v1.0h-1.0zM183.1 158.6h1.0v1.0h-1.0zM183.2 157.8h1.0v1.0h-1.0zM177.5 154.7h1.0v1.0h-1.0zM176.5 154.2h1.0v1.0h-1.0zM177.2 154.3h1.0v1.0h-1.0zM177.0 154.3h1.0v1.0h-1.0zM176.3 157.8h1.0v1.0h-1.0zM176.2 158.6h1.0v1.0h-1.0zM176.3 161.0h1.0v1.0h-1.0zM176.5 161.4h1.0v1.0h-1.0zM176.5 161.1h1.0v1.0h-1.0zM176.2 161.5h1.0v1.0h-1.0zM175.9 161.0h1.0v1.0h-1.0zM176.1 161.4h1.0v1.0h-1.0zM176.2 161.6h1.0v1.0h-1.0zM176.2 159.6h1.0v1.0h-1.0zM176.3 159.0h1.0v1.0h-1.0z" fill="#6a9ea4" opacity="1.0" filter="url(#soft)"/>
<path d="M182.6 164.7h1.0v1.0h-1.0zM182.7 165.1h1.0v1.0h-1.0zM182.6 165.5h1.0v1.0h-1.0zM183.0 164.8h1.0v1.0h-1.0zM182.7 165.6h1.0v1.0h-1.0zM182.8 165.0h1.0v1.0h-1.0zM178.9 165.4h1.0v1.0h-1.0zM178.6 165.4h1.0v1.0h-1.0zM179.3 164.9h1.0v1.0h-1.0zM176.3 160.3h1.0v1.0h-1.0zM176.4 160.0h1.0v1.0h-1.0zM175.8 160.6h1.0v1.0h-1.0zM176.3 160.1h1.0v1.0h-1.0zM176.1 160.7h1.0v1.0h-1.0zM175.9 157.4h1.0v1.0h-1.0zM175.7 157.4h1.0v1.0h-1.0zM175.7 157.0h1.0v1.0h-1.0zM175.7 156.9h1.0v1.0h-1.0zM178.0 162.2h1.0v1.0h-1.0zM177.5 161.7h1.0v1.0h-1.0zM177.8 162.3h1.0v1.0h-1.0zM178.3 162.0h1.0v1.0h-1.0zM177.7 162.6h1.0v1.0h-1.0zM177.3 161.3h1.0v1.0h-1.0zM177.0 160.9h1.0v1.0h-1.0zM180.0 156.0h1.0v1.0h-1.0zM175.7 156.0h1.0v1.0h-1.0zM176.2 156.0h1.0v1.0h-1.0zM175.9 156.4h1.0v1.0h-1.0zM176.5 156.1h1.0v1.0h-1.0zM175.9 155.7h1.0v1.0h-1.0zM175.6 155.9h1.0v1.0h-1.0zM178.8 155.2h1.0v1.0h-1.0zM178.8 154.8h1.0v1.0h-1.0zM182.3 158.1h1.0v1.0h-1.0zM182.1 158.5h1.0v1.0h-1.0zM183.3 164.4h1.0v1.0h-1.0zM183.3 164.1h1.0v1.0h-1.0zM182.7 164.6h1.0v1.0h-1.0zM183.3 164.3h1.0v1.0h-1.0zM183.2 163.8h1.0v1.0h-1.0zM183.4 164.2h1.0v1.0h-1.0zM182.9 164.5h1.0v1.0h-1.0zM183.3 164.0h1.0v1.0h-1.0zM179.5 165.2h1.0v1.0h-1.0zM180.2 165.5h1.0v1.0h-1.0zM179.7 165.3h1.0v1.0h-1.0zM179.9 165.1h1.0v1.0h-1.0zM180.5 165.2h1.0v1.0h-1.0zM180.3 165.1h1.0v1.0h-1.0zM176.5 160.6h1.0v1.0h-1.0zM177.5 160.0h1.0v1.0h-1.0zM177.3 160.6h1.0v1.0h-1.0zM182.5 165.3h1.0v1.0h-1.0zM182.0 165.6h1.0v1.0h-1.0zM182.4 165.5h1.0v1.0h-1.0zM183.2 159.3h1.0v1.0h-1.0zM183.3 159.4h1.0v1.0h-1.0zM183.2 159.3h1.0v1.0h-1.0zM183.0 158.7h1.0v1.0h-1.0zM176.8 159.3h1.0v1.0h-1.0zM177.2 159.6h1.0v1.0h-1.0zM178.2 161.0h1.0v1.0h-1.0zM178.3 161.2h1.0v1.0h-1.0zM178.2 161.0h1.0v1.0h-1.0zM177.9 161.3h1.0v1.0h-1.0zM177.2 155.2h1.0v1.0h-1.0zM177.3 155.6h1.0v1.0h-1.0zM177.0 154.9h1.0v1.0h-1.0zM177.1 154.9h1.0v1.0h-1.0zM176.8 155.7h1.0v1.0h-1.0zM177.4 154.8h1.0v1.0h-1.0zM176.6 155.0h1.0v1.0h-1.0zM176.8 155.6h1.0v1.0h-1.0zM179.4 164.6h1.0v1.0h-1.0zM178.6 164.1h1.0v1.0h-1.0zM178.9 164.1h1.0v1.0h-1.0zM178.9 164.2h1.0v1.0h-1.0zM178.9 164.6h1.0v1.0h-1.0zM178.8 164.6h1.0v1.0h-1.0zM180.6 165.6h1.0v1.0h-1.0zM180.7 164.7h1.0v1.0h-1.0zM180.8 164.9h1.0v1.0h-1.0zM180.8 164.9h1.0v1.0h-1.0zM177.7 155.2h1.0v1.0h-1.0zM177.8 155.4h1.0v1.0h-1.0zM177.8 155.5h1.0v1.0h-1.0zM179.6 157.2h1.0v1.0h-1.0zM180.1 156.9h1.0v1.0h-1.0zM176.6 158.6h1.0v1.0h-1.0zM177.3 158.2h1.0v1.0h-1.0zM176.5 158.2h1.0v1.0h-1.0zM177.4 158.6h1.0v1.0h-1.0zM183.2 162.4h1.0v1.0h-1.0zM183.0 162.1h1.0v1.0h-1.0zM182.6 161.8h1.0v1.0h-1.0zM182.7 162.2h1.0v1.0h-1.0zM182.5 161.9h1.0v1.0h-1.0zM180.8 158.0h1.0v1.0h-1.0zM180.7 158.5h1.0v1.0h-1.0zM181.4 158.2h1.0v1.0h-1.0zM180.9 157.9h1.0v1.0h-1.0zM181.2 158.3h1.0v1.0h-1.0zM180.9 158.2h1.0v1.0h-1.0zM179.4 163.3h1.0v1.0h-1.0zM182.9 161.4h1.0v1.0h-1.0zM182.8 161.4h1.0v1.0h-1.0zM182.8 160.9h1.0v1.0h-1.0zM183.2 161.1h1.0v1.0h-1.0zM183.1 160.4h1.0v1.0h-1.0zM183.3 159.8h1.0v1.0h-1.0zM183.0 159.8h1.0v1.0h-1.0zM183.0 159.9h1.0v1.0h-1.0zM179.1 156.0h1.0v1.0h-1.0zM179.3 156.2h1.0v1.0h-1.0zM179.3 156.5h1.0v1.0h-1.0zM178.7 156.1h1.0v1.0h-1.0zM178.7 156.2h1.0v1.0h-1.0zM179.5 156.2h1.0v1.0h-1.0zM178.4 160.1h1.0v1.0h-1.0zM178.4 160.0h1.0v1.0h-1.0zM178.0 160.6h1.0v1.0h-1.0zM178.1 160.4h1.0v1.0h-1.0zM177.7 160.5h1.0v1.0h-1.0zM178.5 160.2h1.0v1.0h-1.0zM177.0 156.3h1.0v1.0h-1.0zM176.6 156.3h1.0v1.0h-1.0zM177.3 156.0h1.0v1.0h-1.0zM177.0 156.1h1.0v1.0h-1.0zM178.8 162.5h1.0v1.0h-1.0zM179.1 162.6h1.0v1.0h-1.0zM177.6 159.2h1.0v1.0h-1.0zM178.2 159.1h1.0v1.0h-1.0zM182.2 164.6h1.0v1.0h-1.0zM181.8 164.2h1.0v1.0h-1.0zM181.5 164.2h1.0v1.0h-1.0zM182.4 164.2h1.0v1.0h-1.0zM182.2 158.8h1.0v1.0h-1.0zM182.5 158.8h1.0v1.0h-1.0zM182.1 159.3h1.0v1.0h-1.0zM181.7 159.1h1.0v1.0h-1.0zM182.1 159.3h1.0v1.0h-1.0zM179.9 164.6h1.0v1.0h-1.0zM179.9 164.7h1.0v1.0h-1.0zM179.9 163.9h1.0v1.0h-1.0zM179.8 164.0h1.0v1.0h-1.0zM177.8 155.8h1.0v1.0h-1.0zM178.3 156.4h1.0v1.0h-1.0zM178.3 156.0h1.0v1.0h-1.0zM177.6 156.3h1.0v1.0h-1.0zM178.4 156.7h1.0v1.0h-1.0zM177.7 155.9h1.0v1.0h-1.0zM177.8 156.1h1.0v1.0h-1.0zM178.4 156.6h1.0v1.0h-1.0zM179.1 161.7h1.0v1.0h-1.0zM178.8 161.1h1.0v1.0h-1.0zM179.1 161.1h1.0v1.0h-1.0zM180.0 158.3h1.0v1.0h-1.0zM179.6 157.8h1.0v1.0h-1.0z" fill="#88ac62" opacity="1.0" filter="url(#soft)"/>
<path d="M179.4 157.1h1.0v1.0h-1.0zM179.4 156.9h1.0v1.0h-1.0zM178.2 157.9h1.0v1.0h-1.0zM177.5 158.0h1.0v1.0h-1.0zM178.1 158.6h1.0v1.0h-1.0zM178.2 158.7h1.0v1.0h-1.0zM177.7 158.6h1.0v1.0h-1.0zM178.0 157.9h1.0v1.0h-1.0zM178.3 157.8h1.0v1.0h-1.0zM177.6 157.5h1.0v1.0h-1.0zM178.2 157.4h1.0v1.0h-1.0zM178.0 157.1h1.0v1.0h-1.0zM178.4 157.5h1.0v1.0h-1.0zM181.4 164.6h1.0v1.0h-1.0zM180.7 164.6h1.0v1.0h-1.0zM179.5 160.1h1.0v1.0h-1.0zM179.1 160.2h1.0v1.0h-1.0zM178.8 159.8h1.0v1.0h-1.0zM178.8 157.8h1.0v1.0h-1.0zM179.1 158.3h1.0v1.0h-1.0zM178.6 158.6h1.0v1.0h-1.0zM178.8 158.1h1.0v1.0h-1.0zM179.3 158.5h1.0v1.0h-1.0zM178.7 157.8h1.0v1.0h-1.0zM179.2 157.8h1.0v1.0h-1.0zM178.8 158.6h1.0v1.0h-1.0zM178.7 158.5h1.0v1.0h-1.0zM179.1 158.4h1.0v1.0h-1.0zM178.5 158.9h1.0v1.0h-1.0zM178.6 159.1h1.0v1.0h-1.0zM180.7 159.6h1.0v1.0h-1.0zM181.4 159.0h1.0v1.0h-1.0zM181.1 158.9h1.0v1.0h-1.0zM180.9 159.1h1.0v1.0h-1.0zM180.5 158.8h1.0v1.0h-1.0zM182.4 163.1h1.0v1.0h-1.0zM181.6 162.9h1.0v1.0h-1.0zM182.0 163.0h1.0v1.0h-1.0zM182.0 163.0h1.0v1.0h-1.0zM181.5 163.0h1.0v1.0h-1.0zM182.0 163.4h1.0v1.0h-1.0zM182.4 163.3h1.0v1.0h-1.0zM179.6 163.0h1.0v1.0h-1.0zM179.9 163.3h1.0v1.0h-1.0zM180.0 163.6h1.0v1.0h-1.0zM180.0 162.8h1.0v1.0h-1.0zM179.6 163.1h1.0v1.0h-1.0zM179.5 159.0h1.0v1.0h-1.0zM179.5 159.3h1.0v1.0h-1.0zM180.3 159.1h1.0v1.0h-1.0zM180.4 159.5h1.0v1.0h-1.0zM179.8 159.0h1.0v1.0h-1.0zM182.2 160.1h1.0v1.0h-1.0zM181.9 160.5h1.0v1.0h-1.0zM181.6 160.0h1.0v1.0h-1.0zM181.9 160.5h1.0v1.0h-1.0zM181.8 161.9h1.0v1.0h-1.0zM182.4 162.4h1.0v1.0h-1.0zM181.6 162.6h1.0v1.0h-1.0zM180.5 161.9h1.0v1.0h-1.0zM179.6 162.3h1.0v1.0h-1.0zM180.0 161.8h1.0v1.0h-1.0zM180.0 161.8h1.0v1.0h-1.0zM179.7 162.5h1.0v1.0h-1.0zM180.2 161.9h1.0v1.0h-1.0zM179.6 162.4h1.0v1.0h-1.0zM181.7 161.2h1.0v1.0h-1.0zM181.5 161.5h1.0v1.0h-1.0zM181.9 161.0h1.0v1.0h-1.0zM182.5 161.3h1.0v1.0h-1.0zM179.8 159.9h1.0v1.0h-1.0zM180.4 160.0h1.0v1.0h-1.0zM179.9 159.8h1.0v1.0h-1.0zM180.1 160.3h1.0v1.0h-1.0zM179.6 161.0h1.0v1.0h-1.0zM180.4 161.3h1.0v1.0h-1.0zM179.8 161.6h1.0v1.0h-1.0zM181.1 163.0h1.0v1.0h-1.0zM181.2 163.4h1.0v1.0h-1.0zM180.7 163.2h1.0v1.0h-1.0zM180.7 163.0h1.0v1.0h-1.0zM181.0 162.9h1.0v1.0h-1.0zM181.2 160.4h1.0v1.0h-1.0zM181.4 160.1h1.0v1.0h-1.0zM181.4 160.0h1.0v1.0h-1.0zM180.9 160.3h1.0v1.0h-1.0zM180.9 160.1h1.0v1.0h-1.0zM181.4 160.4h1.0v1.0h-1.0zM180.9 161.9h1.0v1.0h-1.0zM181.1 162.1h1.0v1.0h-1.0zM180.9 162.3h1.0v1.0h-1.0zM181.4 162.5h1.0v1.0h-1.0zM180.6 161.7h1.0v1.0h-1.0zM180.7 162.6h1.0v1.0h-1.0zM181.1 162.6h1.0v1.0h-1.0zM180.6 161.6h1.0v1.0h-1.0zM180.9 160.9h1.0v1.0h-1.0zM181.3 160.9h1.0v1.0h-1.0zM181.1 161.6h1.0v1.0h-1.0zM180.6 161.3h1.0v1.0h-1.0zM181.4 161.4h1.0v1.0h-1.0zM180.5 161.6h1.0v1.0h-1.0z" fill="#a8ae48" opacity="1.0" filter="url(#soft)"/>
<rect x="156.50" y="116.70" width="74.70" height="67.60" fill="none" stroke="#000" stroke-width="1.5"/>
<line x1="156.50" y1="167.20" x2="231.20" y2="167.20" stroke="#000" stroke-width="1.1" />
<text x="154.30" y="188.20" font-size="7.6" text-anchor="end">10<tspan dy="-5.6" font-size="6.8">0</tspan></text>
<line x1="154.30" y1="184.30" x2="156.50" y2="184.30" stroke="#000" stroke-width="0.9" />
<line x1="155.10" y1="179.21" x2="156.50" y2="179.21" stroke="#000" stroke-width="0.6" />
<line x1="155.10" y1="176.24" x2="156.50" y2="176.24" stroke="#000" stroke-width="0.6" />
<line x1="155.10" y1="174.13" x2="156.50" y2="174.13" stroke="#000" stroke-width="0.6" />
<line x1="155.10" y1="172.49" x2="156.50" y2="172.49" stroke="#000" stroke-width="0.6" />
<line x1="155.10" y1="171.15" x2="156.50" y2="171.15" stroke="#000" stroke-width="0.6" />
<line x1="155.10" y1="170.02" x2="156.50" y2="170.02" stroke="#000" stroke-width="0.6" />
<line x1="155.10" y1="169.04" x2="156.50" y2="169.04" stroke="#000" stroke-width="0.6" />
<line x1="155.10" y1="168.17" x2="156.50" y2="168.17" stroke="#000" stroke-width="0.6" />
<text x="154.30" y="171.30" font-size="7.6" text-anchor="end">10<tspan dy="-5.6" font-size="6.8">1</tspan></text>
<line x1="154.30" y1="167.40" x2="156.50" y2="167.40" stroke="#000" stroke-width="0.9" />
<line x1="155.10" y1="162.31" x2="156.50" y2="162.31" stroke="#000" stroke-width="0.6" />
<line x1="155.10" y1="159.34" x2="156.50" y2="159.34" stroke="#000" stroke-width="0.6" />
<line x1="155.10" y1="157.23" x2="156.50" y2="157.23" stroke="#000" stroke-width="0.6" />
<line x1="155.10" y1="155.59" x2="156.50" y2="155.59" stroke="#000" stroke-width="0.6" />
<line x1="155.10" y1="154.25" x2="156.50" y2="154.25" stroke="#000" stroke-width="0.6" />
<line x1="155.10" y1="153.12" x2="156.50" y2="153.12" stroke="#000" stroke-width="0.6" />
<line x1="155.10" y1="152.14" x2="156.50" y2="152.14" stroke="#000" stroke-width="0.6" />
<line x1="155.10" y1="151.27" x2="156.50" y2="151.27" stroke="#000" stroke-width="0.6" />
<text x="154.30" y="154.40" font-size="7.6" text-anchor="end">10<tspan dy="-5.6" font-size="6.8">2</tspan></text>
<line x1="154.30" y1="150.50" x2="156.50" y2="150.50" stroke="#000" stroke-width="0.9" />
<line x1="155.10" y1="145.41" x2="156.50" y2="145.41" stroke="#000" stroke-width="0.6" />
<line x1="155.10" y1="142.44" x2="156.50" y2="142.44" stroke="#000" stroke-width="0.6" />
<line x1="155.10" y1="140.33" x2="156.50" y2="140.33" stroke="#000" stroke-width="0.6" />
<line x1="155.10" y1="138.69" x2="156.50" y2="138.69" stroke="#000" stroke-width="0.6" />
<line x1="155.10" y1="137.35" x2="156.50" y2="137.35" stroke="#000" stroke-width="0.6" />
<line x1="155.10" y1="136.22" x2="156.50" y2="136.22" stroke="#000" stroke-width="0.6" />
<line x1="155.10" y1="135.24" x2="156.50" y2="135.24" stroke="#000" stroke-width="0.6" />
<line x1="155.10" y1="134.37" x2="156.50" y2="134.37" stroke="#000" stroke-width="0.6" />
<text x="154.30" y="137.50" font-size="7.6" text-anchor="end">10<tspan dy="-5.6" font-size="6.8">3</tspan></text>
<line x1="154.30" y1="133.60" x2="156.50" y2="133.60" stroke="#000" stroke-width="0.9" />
<line x1="155.10" y1="128.51" x2="156.50" y2="128.51" stroke="#000" stroke-width="0.6" />
<line x1="155.10" y1="125.54" x2="156.50" y2="125.54" stroke="#000" stroke-width="0.6" />
<line x1="155.10" y1="123.43" x2="156.50" y2="123.43" stroke="#000" stroke-width="0.6" />
<line x1="155.10" y1="121.79" x2="156.50" y2="121.79" stroke="#000" stroke-width="0.6" />
<line x1="155.10" y1="120.45" x2="156.50" y2="120.45" stroke="#000" stroke-width="0.6" />
<line x1="155.10" y1="119.32" x2="156.50" y2="119.32" stroke="#000" stroke-width="0.6" />
<line x1="155.10" y1="118.34" x2="156.50" y2="118.34" stroke="#000" stroke-width="0.6" />
<line x1="155.10" y1="117.47" x2="156.50" y2="117.47" stroke="#000" stroke-width="0.6" />
<text x="154.30" y="120.60" font-size="7.6" text-anchor="end">10<tspan dy="-5.6" font-size="6.8">4</tspan></text>
<line x1="154.30" y1="116.70" x2="156.50" y2="116.70" stroke="#000" stroke-width="0.9" />
<text x="154.33" y="194.20" font-size="8.90" text-anchor="start" >0</text>
<text x="158.27" y="194.20" font-size="8.90" text-anchor="start" >200</text>
<text x="175.87" y="194.20" font-size="8.90" text-anchor="start" >400</text>
<text x="192.17" y="194.20" font-size="8.90" text-anchor="start" >600</text>
<text x="208.47" y="194.20" font-size="8.90" text-anchor="start" >800</text>
<text x="225.25" y="194.20" font-size="8.90" text-anchor="start" >1K</text>
<text x="195.71" y="129.60" font-size="8.60" text-anchor="start" >73.6%</text>
<path d="M267.1 163.8h1.0v1.0h-1.0zM267.1 150.3h1.0v1.0h-1.0zM267.1 168.5h1.0v1.0h-1.0zM268.1 160.6h1.0v1.0h-1.0zM328.7 169.5h1.0v1.0h-1.0zM270.5 178.0h1.0v1.0h-1.0zM326.3 131.2h1.0v1.0h-1.0zM327.9 154.5h1.0v1.0h-1.0zM324.1 172.7h1.0v1.0h-1.0zM316.8 182.9h1.0v1.0h-1.0zM311.7 181.8h1.0v1.0h-1.0zM319.2 136.0h1.0v1.0h-1.0zM304.9 136.3h1.0v1.0h-1.0zM323.6 162.4h1.0v1.0h-1.0zM319.1 167.8h1.0v1.0h-1.0zM267.1 172.0h1.0v1.0h-1.0zM277.2 131.6h1.0v1.0h-1.0zM307.9 182.4h1.0v1.0h-1.0zM271.2 135.8h1.0v1.0h-1.0zM300.6 134.7h1.0v1.0h-1.0zM324.9 143.2h1.0v1.0h-1.0zM328.5 143.1h1.0v1.0h-1.0zM291.6 134.1h1.0v1.0h-1.0zM309.2 177.2h1.0v1.0h-1.0zM317.4 171.4h1.0v1.0h-1.0zM303.2 142.6h1.0v1.0h-1.0zM316.9 140.6h1.0v1.0h-1.0zM278.7 180.9h1.0v1.0h-1.0zM314.9 168.8h1.0v1.0h-1.0zM280.2 178.8h1.0v1.0h-1.0zM270.7 147.0h1.0v1.0h-1.0zM274.3 136.4h1.0v1.0h-1.0zM314.0 164.8h1.0v1.0h-1.0zM288.7 129.3h1.0v1.0h-1.0zM286.9 129.3h1.0v1.0h-1.0zM322.0 159.0h1.0v1.0h-1.0zM269.2 171.0h1.0v1.0h-1.0zM274.1 169.4h1.0v1.0h-1.0zM307.2 179.3h1.0v1.0h-1.0zM319.9 142.3h1.0v1.0h-1.0zM269.7 152.3h1.0v1.0h-1.0zM288.5 182.9h1.0v1.0h-1.0zM319.7 140.1h1.0v1.0h-1.0zM272.3 151.7h1.0v1.0h-1.0zM295.1 136.3h1.0v1.0h-1.0zM275.9 134.1h1.0v1.0h-1.0zM288.2 181.0h1.0v1.0h-1.0zM306.5 139.3h1.0v1.0h-1.0zM319.5 162.3h1.0v1.0h-1.0zM321.2 156.4h1.0v1.0h-1.0zM278.7 170.9h1.0v1.0h-1.0zM271.7 143.4h1.0v1.0h-1.0zM313.9 139.3h1.0v1.0h-1.0zM311.9 143.4h1.0v1.0h-1.0zM272.6 167.2h1.0v1.0h-1.0zM269.5 167.5h1.0v1.0h-1.0zM311.8 160.9h1.0v1.0h-1.0zM312.6 171.9h1.0v1.0h-1.0zM296.7 136.2h1.0v1.0h-1.0zM319.6 160.9h1.0v1.0h-1.0zM295.7 182.9h1.0v1.0h-1.0zM311.7 162.6h1.0v1.0h-1.0zM314.4 151.4h1.0v1.0h-1.0zM273.1 149.5h1.0v1.0h-1.0zM273.9 143.3h1.0v1.0h-1.0zM314.1 158.2h1.0v1.0h-1.0zM290.7 137.6h1.0v1.0h-1.0zM312.5 148.4h1.0v1.0h-1.0zM281.9 133.7h1.0v1.0h-1.0zM270.7 168.5h1.0v1.0h-1.0zM279.3 169.7h1.0v1.0h-1.0zM318.6 155.6h1.0v1.0h-1.0zM302.3 182.9h1.0v1.0h-1.0zM273.1 145.0h1.0v1.0h-1.0zM294.4 182.9h1.0v1.0h-1.0zM319.0 158.6h1.0v1.0h-1.0zM302.1 145.7h1.0v1.0h-1.0zM310.2 173.4h1.0v1.0h-1.0zM312.9 146.4h1.0v1.0h-1.0zM279.0 135.1h1.0v1.0h-1.0zM312.3 146.4h1.0v1.0h-1.0zM295.6 139.2h1.0v1.0h-1.0zM312.8 155.9h1.0v1.0h-1.0zM312.9 150.8h1.0v1.0h-1.0zM298.0 179.6h1.0v1.0h-1.0zM313.3 140.9h1.0v1.0h-1.0zM308.9 140.3h1.0v1.0h-1.0zM312.5 155.9h1.0v1.0h-1.0zM309.6 170.4h1.0v1.0h-1.0zM311.5 140.1h1.0v1.0h-1.0zM315.6 157.3h1.0v1.0h-1.0zM290.3 176.2h1.0v1.0h-1.0zM310.2 141.6h1.0v1.0h-1.0zM284.3 177.1h1.0v1.0h-1.0zM273.2 158.6h1.0v1.0h-1.0zM273.4 158.0h1.0v1.0h-1.0zM316.8 158.1h1.0v1.0h-1.0zM300.0 137.1h1.0v1.0h-1.0zM298.0 181.7h1.0v1.0h-1.0zM276.6 137.6h1.0v1.0h-1.0zM280.9 175.1h1.0v1.0h-1.0zM318.0 156.5h1.0v1.0h-1.0zM278.4 138.5h1.0v1.0h-1.0z" fill="#cfd7e7" opacity="1.0" filter="url(#soft)"/>
<path d="M312.2 166.8h1.0v1.0h-1.0zM311.8 167.6h1.0v1.0h-1.0zM308.0 146.9h1.0v1.0h-1.0zM289.7 179.4h1.0v1.0h-1.0zM306.6 142.1h1.0v1.0h-1.0zM307.0 142.6h1.0v1.0h-1.0zM304.2 177.7h1.0v1.0h-1.0zM277.7 136.1h1.0v1.0h-1.0zM310.3 148.9h1.0v1.0h-1.0zM283.5 136.0h1.0v1.0h-1.0zM291.5 181.6h1.0v1.0h-1.0zM300.1 181.0h1.0v1.0h-1.0zM302.9 180.6h1.0v1.0h-1.0zM307.5 145.5h1.0v1.0h-1.0zM310.5 171.6h1.0v1.0h-1.0zM310.7 172.1h1.0v1.0h-1.0zM277.3 143.0h1.0v1.0h-1.0zM300.9 146.1h1.0v1.0h-1.0zM308.4 162.1h1.0v1.0h-1.0zM307.6 145.5h1.0v1.0h-1.0zM308.3 144.2h1.0v1.0h-1.0zM302.1 178.5h1.0v1.0h-1.0zM304.3 178.9h1.0v1.0h-1.0zM274.8 161.0h1.0v1.0h-1.0zM300.8 147.5h1.0v1.0h-1.0zM307.3 172.7h1.0v1.0h-1.0zM298.6 138.2h1.0v1.0h-1.0zM299.5 137.9h1.0v1.0h-1.0zM294.0 180.9h1.0v1.0h-1.0zM306.9 149.1h1.0v1.0h-1.0zM298.7 182.9h1.0v1.0h-1.0zM275.8 165.4h1.0v1.0h-1.0zM276.4 165.5h1.0v1.0h-1.0zM287.9 137.5h1.0v1.0h-1.0zM285.2 176.3h1.0v1.0h-1.0zM306.1 148.0h1.0v1.0h-1.0zM308.0 161.4h1.0v1.0h-1.0zM307.8 157.6h1.0v1.0h-1.0zM299.9 141.1h1.0v1.0h-1.0zM303.0 178.9h1.0v1.0h-1.0zM281.9 174.9h1.0v1.0h-1.0zM275.3 163.5h1.0v1.0h-1.0zM278.4 141.1h1.0v1.0h-1.0zM299.0 139.9h1.0v1.0h-1.0zM300.3 182.9h1.0v1.0h-1.0zM299.6 182.9h1.0v1.0h-1.0zM282.2 135.8h1.0v1.0h-1.0zM282.2 136.1h1.0v1.0h-1.0zM281.4 137.9h1.0v1.0h-1.0zM308.5 164.6h1.0v1.0h-1.0zM300.2 177.7h1.0v1.0h-1.0zM286.8 137.0h1.0v1.0h-1.0zM309.6 150.3h1.0v1.0h-1.0zM292.9 180.9h1.0v1.0h-1.0zM299.4 146.7h1.0v1.0h-1.0zM304.9 149.6h1.0v1.0h-1.0zM304.7 149.5h1.0v1.0h-1.0zM293.5 140.6h1.0v1.0h-1.0zM306.9 167.8h1.0v1.0h-1.0zM306.9 169.9h1.0v1.0h-1.0zM280.4 167.0h1.0v1.0h-1.0zM302.4 149.3h1.0v1.0h-1.0zM309.8 165.7h1.0v1.0h-1.0zM285.8 175.4h1.0v1.0h-1.0zM307.3 157.7h1.0v1.0h-1.0zM275.5 155.6h1.0v1.0h-1.0zM275.2 156.7h1.0v1.0h-1.0zM282.0 171.5h1.0v1.0h-1.0zM281.7 170.9h1.0v1.0h-1.0zM281.9 173.4h1.0v1.0h-1.0zM288.2 137.9h1.0v1.0h-1.0zM280.1 165.9h1.0v1.0h-1.0zM277.9 143.7h1.0v1.0h-1.0zM292.7 180.2h1.0v1.0h-1.0zM306.5 168.5h1.0v1.0h-1.0zM306.8 160.2h1.0v1.0h-1.0zM307.4 159.8h1.0v1.0h-1.0zM297.4 177.4h1.0v1.0h-1.0zM280.1 140.2h1.0v1.0h-1.0zM279.7 140.2h1.0v1.0h-1.0zM284.4 174.8h1.0v1.0h-1.0zM306.1 152.2h1.0v1.0h-1.0zM310.5 151.7h1.0v1.0h-1.0zM276.2 146.7h1.0v1.0h-1.0zM275.8 145.8h1.0v1.0h-1.0zM290.6 138.7h1.0v1.0h-1.0zM305.3 151.5h1.0v1.0h-1.0zM305.3 161.9h1.0v1.0h-1.0zM305.8 158.3h1.0v1.0h-1.0zM308.3 152.5h1.0v1.0h-1.0zM305.8 170.9h1.0v1.0h-1.0zM305.7 171.3h1.0v1.0h-1.0zM276.5 159.0h1.0v1.0h-1.0zM308.7 165.8h1.0v1.0h-1.0zM309.3 166.6h1.0v1.0h-1.0zM305.9 154.6h1.0v1.0h-1.0zM292.0 179.4h1.0v1.0h-1.0zM304.6 171.2h1.0v1.0h-1.0zM283.5 173.8h1.0v1.0h-1.0zM302.9 175.4h1.0v1.0h-1.0zM275.3 147.6h1.0v1.0h-1.0zM303.8 174.6h1.0v1.0h-1.0zM304.5 174.3h1.0v1.0h-1.0zM303.7 174.2h1.0v1.0h-1.0zM292.4 177.9h1.0v1.0h-1.0zM292.2 178.3h1.0v1.0h-1.0zM285.8 138.3h1.0v1.0h-1.0zM283.5 138.1h1.0v1.0h-1.0zM304.1 170.5h1.0v1.0h-1.0zM302.3 149.8h1.0v1.0h-1.0zM282.6 169.6h1.0v1.0h-1.0zM280.9 167.1h1.0v1.0h-1.0zM279.7 141.6h1.0v1.0h-1.0zM303.6 169.1h1.0v1.0h-1.0zM307.8 165.2h1.0v1.0h-1.0zM310.5 152.1h1.0v1.0h-1.0zM278.5 142.9h1.0v1.0h-1.0zM306.5 165.6h1.0v1.0h-1.0zM305.4 154.0h1.0v1.0h-1.0zM276.0 161.7h1.0v1.0h-1.0zM307.5 155.6h1.0v1.0h-1.0zM307.9 155.3h1.0v1.0h-1.0zM309.0 155.0h1.0v1.0h-1.0zM310.4 154.3h1.0v1.0h-1.0zM309.5 154.6h1.0v1.0h-1.0zM308.9 152.1h1.0v1.0h-1.0zM283.0 139.2h1.0v1.0h-1.0zM282.5 139.1h1.0v1.0h-1.0zM298.8 176.0h1.0v1.0h-1.0zM298.5 175.8h1.0v1.0h-1.0zM293.5 177.4h1.0v1.0h-1.0zM303.8 156.0h1.0v1.0h-1.0zM307.1 166.4h1.0v1.0h-1.0zM293.9 177.3h1.0v1.0h-1.0zM294.4 177.1h1.0v1.0h-1.0zM310.5 152.8h1.0v1.0h-1.0zM300.8 150.2h1.0v1.0h-1.0zM279.4 146.1h1.0v1.0h-1.0zM298.6 141.9h1.0v1.0h-1.0zM279.6 141.9h1.0v1.0h-1.0zM288.0 140.1h1.0v1.0h-1.0zM292.4 175.2h1.0v1.0h-1.0zM306.2 166.1h1.0v1.0h-1.0zM304.8 153.4h1.0v1.0h-1.0zM308.1 153.9h1.0v1.0h-1.0zM296.3 176.5h1.0v1.0h-1.0zM295.7 176.4h1.0v1.0h-1.0zM300.9 175.6h1.0v1.0h-1.0zM303.1 173.6h1.0v1.0h-1.0zM304.9 165.5h1.0v1.0h-1.0zM305.1 165.5h1.0v1.0h-1.0zM280.4 142.7h1.0v1.0h-1.0zM294.9 175.9h1.0v1.0h-1.0zM298.9 143.6h1.0v1.0h-1.0zM299.2 142.8h1.0v1.0h-1.0zM288.8 173.2h1.0v1.0h-1.0zM301.8 151.0h1.0v1.0h-1.0zM276.4 150.8h1.0v1.0h-1.0zM293.8 142.0h1.0v1.0h-1.0zM283.6 139.1h1.0v1.0h-1.0zM304.3 151.9h1.0v1.0h-1.0z" fill="#b6c7e1" opacity="1.0" filter="url(#soft)"/>
<path d="M282.0 166.7h1.0v1.0h-1.0zM286.1 139.6h1.0v1.0h-1.0zM287.9 172.8h1.0v1.0h-1.0zM293.5 141.1h1.0v1.0h-1.0zM291.6 140.1h1.0v1.0h-1.0zM304.1 162.1h1.0v1.0h-1.0zM304.9 159.0h1.0v1.0h-1.0zM281.1 143.6h1.0v1.0h-1.0zM286.6 140.4h1.0v1.0h-1.0zM302.5 171.7h1.0v1.0h-1.0zM302.5 172.0h1.0v1.0h-1.0zM278.7 147.5h1.0v1.0h-1.0zM302.8 151.7h1.0v1.0h-1.0zM278.4 164.7h1.0v1.0h-1.0zM283.8 141.4h1.0v1.0h-1.0zM302.7 168.4h1.0v1.0h-1.0zM293.7 175.6h1.0v1.0h-1.0zM296.2 142.4h1.0v1.0h-1.0zM296.1 142.4h1.0v1.0h-1.0zM302.2 170.2h1.0v1.0h-1.0zM303.6 165.0h1.0v1.0h-1.0zM297.2 174.9h1.0v1.0h-1.0zM302.1 151.9h1.0v1.0h-1.0zM303.9 166.2h1.0v1.0h-1.0zM275.8 149.5h1.0v1.0h-1.0zM276.3 149.7h1.0v1.0h-1.0zM290.8 140.0h1.0v1.0h-1.0zM298.1 144.2h1.0v1.0h-1.0zM298.8 149.0h1.0v1.0h-1.0zM282.0 166.3h1.0v1.0h-1.0zM297.4 141.7h1.0v1.0h-1.0zM296.8 142.2h1.0v1.0h-1.0zM280.1 145.1h1.0v1.0h-1.0zM276.4 153.3h1.0v1.0h-1.0zM276.0 153.1h1.0v1.0h-1.0zM276.3 147.9h1.0v1.0h-1.0zM275.8 148.3h1.0v1.0h-1.0zM276.9 163.5h1.0v1.0h-1.0zM301.1 173.7h1.0v1.0h-1.0zM300.7 173.8h1.0v1.0h-1.0zM289.8 173.4h1.0v1.0h-1.0zM290.0 173.6h1.0v1.0h-1.0zM303.4 153.1h1.0v1.0h-1.0zM281.5 143.5h1.0v1.0h-1.0zM282.9 167.3h1.0v1.0h-1.0zM282.5 166.9h1.0v1.0h-1.0zM301.6 168.8h1.0v1.0h-1.0zM304.5 161.1h1.0v1.0h-1.0zM302.7 154.0h1.0v1.0h-1.0zM303.2 154.5h1.0v1.0h-1.0zM283.8 170.5h1.0v1.0h-1.0zM285.4 140.6h1.0v1.0h-1.0zM285.5 140.6h1.0v1.0h-1.0zM302.5 167.3h1.0v1.0h-1.0zM277.4 162.0h1.0v1.0h-1.0zM298.1 143.1h1.0v1.0h-1.0zM287.3 173.1h1.0v1.0h-1.0zM276.9 148.7h1.0v1.0h-1.0zM277.0 147.9h1.0v1.0h-1.0zM300.8 170.9h1.0v1.0h-1.0zM303.3 163.0h1.0v1.0h-1.0zM303.8 158.0h1.0v1.0h-1.0zM283.9 172.3h1.0v1.0h-1.0zM284.5 172.2h1.0v1.0h-1.0zM288.4 142.5h1.0v1.0h-1.0zM286.2 141.4h1.0v1.0h-1.0zM285.8 141.1h1.0v1.0h-1.0zM299.9 174.3h1.0v1.0h-1.0zM303.1 166.1h1.0v1.0h-1.0zM277.5 158.2h1.0v1.0h-1.0zM277.2 158.1h1.0v1.0h-1.0zM304.2 160.6h1.0v1.0h-1.0zM292.3 140.9h1.0v1.0h-1.0zM296.4 145.8h1.0v1.0h-1.0zM296.8 144.5h1.0v1.0h-1.0zM296.9 144.0h1.0v1.0h-1.0zM278.9 148.5h1.0v1.0h-1.0zM284.6 173.6h1.0v1.0h-1.0zM294.2 144.5h1.0v1.0h-1.0zM294.1 144.1h1.0v1.0h-1.0zM301.1 170.2h1.0v1.0h-1.0zM297.2 147.8h1.0v1.0h-1.0zM296.7 148.2h1.0v1.0h-1.0zM295.8 144.9h1.0v1.0h-1.0zM299.0 150.6h1.0v1.0h-1.0zM286.0 173.6h1.0v1.0h-1.0zM286.2 142.3h1.0v1.0h-1.0zM301.6 154.8h1.0v1.0h-1.0zM301.8 155.1h1.0v1.0h-1.0zM295.5 144.0h1.0v1.0h-1.0zM294.9 144.1h1.0v1.0h-1.0zM296.4 147.7h1.0v1.0h-1.0zM296.2 147.1h1.0v1.0h-1.0zM297.9 149.4h1.0v1.0h-1.0zM298.3 149.5h1.0v1.0h-1.0zM297.8 149.3h1.0v1.0h-1.0zM285.5 142.1h1.0v1.0h-1.0zM296.0 143.8h1.0v1.0h-1.0zM299.8 173.0h1.0v1.0h-1.0zM299.6 173.4h1.0v1.0h-1.0zM302.5 167.2h1.0v1.0h-1.0zM293.1 173.9h1.0v1.0h-1.0zM292.8 173.8h1.0v1.0h-1.0zM302.3 156.3h1.0v1.0h-1.0zM293.6 144.8h1.0v1.0h-1.0zM288.2 143.5h1.0v1.0h-1.0zM297.7 173.9h1.0v1.0h-1.0zM298.5 174.6h1.0v1.0h-1.0zM290.2 140.7h1.0v1.0h-1.0zM295.2 146.4h1.0v1.0h-1.0zM293.1 145.3h1.0v1.0h-1.0zM276.7 157.7h1.0v1.0h-1.0zM287.2 172.1h1.0v1.0h-1.0zM291.0 141.7h1.0v1.0h-1.0zM285.1 168.0h1.0v1.0h-1.0zM300.7 168.5h1.0v1.0h-1.0zM291.9 143.1h1.0v1.0h-1.0zM289.1 142.6h1.0v1.0h-1.0zM303.1 157.9h1.0v1.0h-1.0zM303.2 158.3h1.0v1.0h-1.0zM303.3 157.9h1.0v1.0h-1.0zM302.7 158.6h1.0v1.0h-1.0zM277.9 149.3h1.0v1.0h-1.0zM302.4 164.8h1.0v1.0h-1.0zM302.1 165.5h1.0v1.0h-1.0zM301.9 164.0h1.0v1.0h-1.0zM278.1 159.6h1.0v1.0h-1.0zM285.0 171.8h1.0v1.0h-1.0zM301.2 154.0h1.0v1.0h-1.0zM300.3 152.2h1.0v1.0h-1.0zM302.3 163.6h1.0v1.0h-1.0zM300.5 167.3h1.0v1.0h-1.0zM303.2 160.0h1.0v1.0h-1.0zM276.6 152.6h1.0v1.0h-1.0zM277.2 152.5h1.0v1.0h-1.0zM276.7 155.6h1.0v1.0h-1.0zM277.4 155.5h1.0v1.0h-1.0zM285.1 143.0h1.0v1.0h-1.0zM284.8 143.7h1.0v1.0h-1.0zM285.2 143.3h1.0v1.0h-1.0zM278.3 162.5h1.0v1.0h-1.0zM278.2 161.7h1.0v1.0h-1.0zM296.8 173.1h1.0v1.0h-1.0zM291.7 145.7h1.0v1.0h-1.0zM303.2 159.2h1.0v1.0h-1.0zM284.5 171.3h1.0v1.0h-1.0zM294.6 172.9h1.0v1.0h-1.0zM299.7 170.5h1.0v1.0h-1.0zM286.0 172.5h1.0v1.0h-1.0zM285.7 172.7h1.0v1.0h-1.0zM286.1 172.2h1.0v1.0h-1.0zM298.5 150.4h1.0v1.0h-1.0zM300.8 154.7h1.0v1.0h-1.0zM288.5 142.9h1.0v1.0h-1.0zM277.3 154.2h1.0v1.0h-1.0zM297.7 173.6h1.0v1.0h-1.0zM297.7 172.8h1.0v1.0h-1.0zM298.0 173.1h1.0v1.0h-1.0zM299.3 171.9h1.0v1.0h-1.0zM302.5 162.2h1.0v1.0h-1.0zM284.2 166.6h1.0v1.0h-1.0zM300.5 156.0h1.0v1.0h-1.0zM279.0 163.5h1.0v1.0h-1.0zM279.5 163.4h1.0v1.0h-1.0zM279.2 163.4h1.0v1.0h-1.0zM290.6 142.0h1.0v1.0h-1.0zM290.8 142.1h1.0v1.0h-1.0zM296.0 149.7h1.0v1.0h-1.0zM295.1 148.5h1.0v1.0h-1.0zM289.9 142.2h1.0v1.0h-1.0zM290.3 141.9h1.0v1.0h-1.0zM301.0 166.0h1.0v1.0h-1.0zM300.4 168.8h1.0v1.0h-1.0zM288.1 170.7h1.0v1.0h-1.0zM292.1 173.6h1.0v1.0h-1.0zM285.5 168.8h1.0v1.0h-1.0zM281.5 146.5h1.0v1.0h-1.0zM281.4 146.1h1.0v1.0h-1.0zM281.3 145.8h1.0v1.0h-1.0zM285.8 171.0h1.0v1.0h-1.0zM285.9 144.0h1.0v1.0h-1.0zM286.3 144.6h1.0v1.0h-1.0zM286.1 169.8h1.0v1.0h-1.0zM285.8 170.5h1.0v1.0h-1.0zM286.3 170.3h1.0v1.0h-1.0zM286.1 170.4h1.0v1.0h-1.0zM287.1 170.3h1.0v1.0h-1.0zM301.6 159.4h1.0v1.0h-1.0zM291.4 143.0h1.0v1.0h-1.0zM290.6 142.9h1.0v1.0h-1.0z" fill="#96b2da" opacity="1.0" filter="url(#soft)"/>
<path d="M302.4 161.4h1.0v1.0h-1.0zM302.3 161.3h1.0v1.0h-1.0zM290.6 144.6h1.0v1.0h-1.0zM285.7 168.3h1.0v1.0h-1.0zM299.8 166.9h1.0v1.0h-1.0zM301.1 158.4h1.0v1.0h-1.0zM300.6 158.5h1.0v1.0h-1.0zM280.1 163.6h1.0v1.0h-1.0zM301.3 165.6h1.0v1.0h-1.0zM292.2 146.1h1.0v1.0h-1.0zM301.6 160.0h1.0v1.0h-1.0zM301.8 159.9h1.0v1.0h-1.0zM300.4 153.0h1.0v1.0h-1.0zM278.3 150.1h1.0v1.0h-1.0zM290.1 143.0h1.0v1.0h-1.0zM289.8 142.8h1.0v1.0h-1.0zM283.4 144.3h1.0v1.0h-1.0zM283.4 144.6h1.0v1.0h-1.0zM283.2 144.4h1.0v1.0h-1.0zM290.8 172.5h1.0v1.0h-1.0zM291.5 172.1h1.0v1.0h-1.0zM297.9 172.2h1.0v1.0h-1.0zM297.8 171.8h1.0v1.0h-1.0zM292.9 147.3h1.0v1.0h-1.0zM293.5 172.7h1.0v1.0h-1.0zM292.9 173.0h1.0v1.0h-1.0zM290.8 145.4h1.0v1.0h-1.0zM294.0 148.2h1.0v1.0h-1.0zM294.4 147.7h1.0v1.0h-1.0zM294.4 148.6h1.0v1.0h-1.0zM294.4 148.4h1.0v1.0h-1.0zM299.7 166.7h1.0v1.0h-1.0zM300.0 166.3h1.0v1.0h-1.0zM277.8 157.6h1.0v1.0h-1.0zM277.8 156.8h1.0v1.0h-1.0zM301.3 163.6h1.0v1.0h-1.0zM296.5 172.3h1.0v1.0h-1.0zM286.1 167.2h1.0v1.0h-1.0zM298.9 170.2h1.0v1.0h-1.0zM298.8 170.5h1.0v1.0h-1.0zM284.6 144.0h1.0v1.0h-1.0zM299.2 168.6h1.0v1.0h-1.0zM298.9 168.3h1.0v1.0h-1.0zM298.9 167.5h1.0v1.0h-1.0zM285.2 166.0h1.0v1.0h-1.0zM284.7 166.1h1.0v1.0h-1.0zM285.2 166.6h1.0v1.0h-1.0zM287.0 168.0h1.0v1.0h-1.0zM287.3 168.2h1.0v1.0h-1.0zM287.3 168.2h1.0v1.0h-1.0zM299.1 168.9h1.0v1.0h-1.0zM298.6 169.0h1.0v1.0h-1.0zM282.1 162.9h1.0v1.0h-1.0zM281.9 163.3h1.0v1.0h-1.0zM278.3 156.6h1.0v1.0h-1.0zM278.4 155.9h1.0v1.0h-1.0zM282.8 164.0h1.0v1.0h-1.0zM282.8 164.3h1.0v1.0h-1.0zM283.0 163.8h1.0v1.0h-1.0zM283.5 163.8h1.0v1.0h-1.0zM301.5 162.6h1.0v1.0h-1.0zM288.2 169.2h1.0v1.0h-1.0zM294.4 150.1h1.0v1.0h-1.0zM294.4 150.7h1.0v1.0h-1.0zM299.6 165.5h1.0v1.0h-1.0zM283.8 165.1h1.0v1.0h-1.0zM278.7 159.8h1.0v1.0h-1.0zM297.8 171.3h1.0v1.0h-1.0zM294.9 171.9h1.0v1.0h-1.0zM295.4 171.9h1.0v1.0h-1.0zM295.0 171.7h1.0v1.0h-1.0zM295.1 172.4h1.0v1.0h-1.0zM291.9 146.8h1.0v1.0h-1.0zM291.9 147.4h1.0v1.0h-1.0zM294.7 149.8h1.0v1.0h-1.0zM295.1 150.0h1.0v1.0h-1.0zM294.5 149.8h1.0v1.0h-1.0zM292.6 147.8h1.0v1.0h-1.0zM293.4 148.1h1.0v1.0h-1.0zM299.0 152.3h1.0v1.0h-1.0zM299.0 151.9h1.0v1.0h-1.0zM279.3 161.4h1.0v1.0h-1.0zM279.2 161.5h1.0v1.0h-1.0zM299.7 155.3h1.0v1.0h-1.0zM301.5 160.6h1.0v1.0h-1.0zM299.9 156.7h1.0v1.0h-1.0zM299.6 157.5h1.0v1.0h-1.0zM292.7 149.6h1.0v1.0h-1.0zM290.9 146.4h1.0v1.0h-1.0zM287.7 145.6h1.0v1.0h-1.0zM279.1 159.1h1.0v1.0h-1.0zM290.5 145.1h1.0v1.0h-1.0zM290.5 144.7h1.0v1.0h-1.0zM287.0 167.5h1.0v1.0h-1.0zM278.3 154.5h1.0v1.0h-1.0zM277.6 154.3h1.0v1.0h-1.0zM300.2 164.1h1.0v1.0h-1.0zM300.4 164.3h1.0v1.0h-1.0zM297.8 167.9h1.0v1.0h-1.0zM298.2 167.9h1.0v1.0h-1.0zM296.6 171.0h1.0v1.0h-1.0zM288.8 144.8h1.0v1.0h-1.0zM288.9 145.5h1.0v1.0h-1.0zM289.5 145.1h1.0v1.0h-1.0zM292.7 150.8h1.0v1.0h-1.0zM298.5 169.9h1.0v1.0h-1.0zM298.2 170.4h1.0v1.0h-1.0zM297.9 170.2h1.0v1.0h-1.0zM292.0 172.7h1.0v1.0h-1.0zM292.4 172.5h1.0v1.0h-1.0zM279.9 162.6h1.0v1.0h-1.0zM280.5 162.0h1.0v1.0h-1.0zM279.7 161.9h1.0v1.0h-1.0zM279.9 162.3h1.0v1.0h-1.0zM277.6 153.7h1.0v1.0h-1.0zM277.7 151.9h1.0v1.0h-1.0zM280.8 148.9h1.0v1.0h-1.0zM280.7 149.7h1.0v1.0h-1.0zM279.3 150.0h1.0v1.0h-1.0zM278.9 150.5h1.0v1.0h-1.0zM278.6 150.4h1.0v1.0h-1.0zM290.2 169.8h1.0v1.0h-1.0zM290.4 170.0h1.0v1.0h-1.0zM290.3 170.4h1.0v1.0h-1.0zM287.5 168.6h1.0v1.0h-1.0zM294.3 172.4h1.0v1.0h-1.0zM281.1 162.2h1.0v1.0h-1.0zM281.0 161.7h1.0v1.0h-1.0zM285.7 165.9h1.0v1.0h-1.0zM291.7 150.4h1.0v1.0h-1.0zM299.9 162.9h1.0v1.0h-1.0zM299.6 162.9h1.0v1.0h-1.0zM291.8 149.2h1.0v1.0h-1.0zM292.3 149.7h1.0v1.0h-1.0zM291.9 149.0h1.0v1.0h-1.0zM281.8 146.0h1.0v1.0h-1.0zM282.3 145.9h1.0v1.0h-1.0zM281.6 146.3h1.0v1.0h-1.0zM299.1 164.8h1.0v1.0h-1.0zM298.5 164.8h1.0v1.0h-1.0zM297.2 169.4h1.0v1.0h-1.0zM297.3 169.2h1.0v1.0h-1.0zM296.9 151.2h1.0v1.0h-1.0zM297.0 150.9h1.0v1.0h-1.0zM288.7 168.9h1.0v1.0h-1.0zM297.3 170.7h1.0v1.0h-1.0zM283.0 145.3h1.0v1.0h-1.0zM282.6 145.4h1.0v1.0h-1.0zM283.0 145.3h1.0v1.0h-1.0zM292.7 171.9h1.0v1.0h-1.0zM281.8 162.1h1.0v1.0h-1.0zM294.9 171.2h1.0v1.0h-1.0zM290.7 147.3h1.0v1.0h-1.0zM279.1 157.0h1.0v1.0h-1.0zM297.9 166.2h1.0v1.0h-1.0zM296.3 168.8h1.0v1.0h-1.0zM296.3 169.5h1.0v1.0h-1.0zM295.6 169.8h1.0v1.0h-1.0zM296.5 169.9h1.0v1.0h-1.0zM295.6 170.2h1.0v1.0h-1.0zM296.2 169.9h1.0v1.0h-1.0zM295.5 169.9h1.0v1.0h-1.0zM278.6 155.8h1.0v1.0h-1.0zM279.1 156.1h1.0v1.0h-1.0zM278.8 156.0h1.0v1.0h-1.0zM282.1 146.7h1.0v1.0h-1.0zM284.8 144.9h1.0v1.0h-1.0zM284.6 144.9h1.0v1.0h-1.0zM297.1 167.3h1.0v1.0h-1.0zM297.1 167.3h1.0v1.0h-1.0zM283.1 163.1h1.0v1.0h-1.0zM280.3 160.8h1.0v1.0h-1.0zM280.3 161.3h1.0v1.0h-1.0zM280.2 160.9h1.0v1.0h-1.0zM287.1 166.1h1.0v1.0h-1.0zM286.9 165.8h1.0v1.0h-1.0zM294.6 151.5h1.0v1.0h-1.0zM295.3 151.1h1.0v1.0h-1.0zM279.0 155.3h1.0v1.0h-1.0zM299.5 153.0h1.0v1.0h-1.0zM299.4 153.5h1.0v1.0h-1.0zM298.7 153.1h1.0v1.0h-1.0zM299.5 164.0h1.0v1.0h-1.0zM299.8 162.0h1.0v1.0h-1.0zM282.4 148.0h1.0v1.0h-1.0zM295.9 151.4h1.0v1.0h-1.0zM283.9 145.4h1.0v1.0h-1.0zM279.7 150.4h1.0v1.0h-1.0zM295.3 167.8h1.0v1.0h-1.0zM280.1 160.3h1.0v1.0h-1.0zM283.7 164.4h1.0v1.0h-1.0zM300.3 159.9h1.0v1.0h-1.0zM300.4 160.1h1.0v1.0h-1.0zM295.5 167.3h1.0v1.0h-1.0zM295.8 167.5h1.0v1.0h-1.0zM281.8 149.0h1.0v1.0h-1.0zM282.4 149.0h1.0v1.0h-1.0zM282.0 149.6h1.0v1.0h-1.0zM282.4 148.8h1.0v1.0h-1.0zM279.0 154.3h1.0v1.0h-1.0zM279.1 154.2h1.0v1.0h-1.0zM291.0 147.9h1.0v1.0h-1.0zM291.0 148.5h1.0v1.0h-1.0zM298.0 152.0h1.0v1.0h-1.0zM297.7 152.2h1.0v1.0h-1.0zM292.2 171.6h1.0v1.0h-1.0zM291.5 171.7h1.0v1.0h-1.0zM300.1 161.3h1.0v1.0h-1.0zM300.3 161.0h1.0v1.0h-1.0zM300.1 161.1h1.0v1.0h-1.0zM299.4 156.8h1.0v1.0h-1.0zM298.7 157.0h1.0v1.0h-1.0zM280.9 150.6h1.0v1.0h-1.0zM297.7 165.5h1.0v1.0h-1.0zM298.0 165.7h1.0v1.0h-1.0zM291.1 169.7h1.0v1.0h-1.0zM291.0 170.0h1.0v1.0h-1.0zM299.1 156.5h1.0v1.0h-1.0zM298.9 156.1h1.0v1.0h-1.0zM299.1 155.8h1.0v1.0h-1.0zM299.1 154.6h1.0v1.0h-1.0zM291.0 149.3h1.0v1.0h-1.0zM299.3 163.3h1.0v1.0h-1.0zM289.2 168.0h1.0v1.0h-1.0zM289.2 168.2h1.0v1.0h-1.0z" fill="#7a9fd0" opacity="1.0" filter="url(#soft)"/>
<path d="M298.6 154.7h1.0v1.0h-1.0zM299.0 155.5h1.0v1.0h-1.0zM282.0 160.7h1.0v1.0h-1.0zM282.0 150.2h1.0v1.0h-1.0zM282.0 150.3h1.0v1.0h-1.0zM279.5 159.0h1.0v1.0h-1.0zM279.7 159.4h1.0v1.0h-1.0zM278.7 150.9h1.0v1.0h-1.0zM279.2 151.5h1.0v1.0h-1.0zM279.3 150.8h1.0v1.0h-1.0zM278.5 151.2h1.0v1.0h-1.0zM298.9 158.0h1.0v1.0h-1.0zM299.0 158.4h1.0v1.0h-1.0zM298.6 158.3h1.0v1.0h-1.0zM293.5 170.1h1.0v1.0h-1.0zM294.3 170.1h1.0v1.0h-1.0zM293.6 170.5h1.0v1.0h-1.0zM297.0 166.1h1.0v1.0h-1.0zM297.0 166.1h1.0v1.0h-1.0zM283.2 146.0h1.0v1.0h-1.0zM282.9 145.8h1.0v1.0h-1.0zM292.9 171.3h1.0v1.0h-1.0zM293.2 171.2h1.0v1.0h-1.0zM293.5 171.2h1.0v1.0h-1.0zM292.8 171.1h1.0v1.0h-1.0zM293.4 171.2h1.0v1.0h-1.0zM291.0 150.0h1.0v1.0h-1.0zM289.2 146.3h1.0v1.0h-1.0zM289.0 145.8h1.0v1.0h-1.0zM289.1 146.7h1.0v1.0h-1.0zM290.1 168.9h1.0v1.0h-1.0zM289.6 169.7h1.0v1.0h-1.0zM289.7 168.7h1.0v1.0h-1.0zM294.0 169.2h1.0v1.0h-1.0zM280.0 156.5h1.0v1.0h-1.0zM278.7 152.9h1.0v1.0h-1.0zM279.3 153.0h1.0v1.0h-1.0zM294.1 168.3h1.0v1.0h-1.0zM293.9 168.7h1.0v1.0h-1.0zM293.7 168.1h1.0v1.0h-1.0zM294.3 168.1h1.0v1.0h-1.0zM281.1 160.5h1.0v1.0h-1.0zM288.1 145.9h1.0v1.0h-1.0zM287.5 146.2h1.0v1.0h-1.0zM298.0 163.9h1.0v1.0h-1.0zM297.5 164.5h1.0v1.0h-1.0zM279.9 157.9h1.0v1.0h-1.0zM279.5 158.1h1.0v1.0h-1.0zM283.3 149.2h1.0v1.0h-1.0zM283.0 149.4h1.0v1.0h-1.0zM293.9 152.5h1.0v1.0h-1.0zM289.9 147.1h1.0v1.0h-1.0zM289.7 146.8h1.0v1.0h-1.0zM286.1 146.6h1.0v1.0h-1.0zM286.3 146.2h1.0v1.0h-1.0zM279.9 157.6h1.0v1.0h-1.0zM279.6 157.7h1.0v1.0h-1.0zM280.2 156.8h1.0v1.0h-1.0zM285.7 165.2h1.0v1.0h-1.0zM286.0 164.8h1.0v1.0h-1.0zM285.8 165.2h1.0v1.0h-1.0zM288.8 167.7h1.0v1.0h-1.0zM282.5 147.2h1.0v1.0h-1.0zM283.3 147.5h1.0v1.0h-1.0zM282.9 146.7h1.0v1.0h-1.0zM280.2 154.6h1.0v1.0h-1.0zM280.2 154.1h1.0v1.0h-1.0zM279.6 154.3h1.0v1.0h-1.0zM283.0 148.0h1.0v1.0h-1.0zM282.7 148.6h1.0v1.0h-1.0zM279.0 152.1h1.0v1.0h-1.0zM294.0 167.6h1.0v1.0h-1.0zM294.4 166.8h1.0v1.0h-1.0zM291.9 169.7h1.0v1.0h-1.0zM292.2 169.8h1.0v1.0h-1.0zM292.9 170.0h1.0v1.0h-1.0zM283.6 145.8h1.0v1.0h-1.0zM283.7 146.5h1.0v1.0h-1.0zM285.1 146.1h1.0v1.0h-1.0zM285.3 146.1h1.0v1.0h-1.0zM284.8 146.3h1.0v1.0h-1.0zM282.4 150.7h1.0v1.0h-1.0zM296.4 166.4h1.0v1.0h-1.0zM295.7 165.8h1.0v1.0h-1.0zM295.9 166.6h1.0v1.0h-1.0zM296.5 165.9h1.0v1.0h-1.0zM295.6 166.1h1.0v1.0h-1.0zM283.2 151.4h1.0v1.0h-1.0zM291.1 151.2h1.0v1.0h-1.0zM291.0 151.0h1.0v1.0h-1.0zM290.9 151.4h1.0v1.0h-1.0zM298.7 162.2h1.0v1.0h-1.0zM298.6 159.1h1.0v1.0h-1.0zM296.9 151.8h1.0v1.0h-1.0zM297.2 152.5h1.0v1.0h-1.0zM292.8 169.2h1.0v1.0h-1.0zM280.4 151.5h1.0v1.0h-1.0zM279.9 151.5h1.0v1.0h-1.0zM279.7 151.7h1.0v1.0h-1.0zM279.6 150.8h1.0v1.0h-1.0zM297.3 165.1h1.0v1.0h-1.0zM282.0 159.8h1.0v1.0h-1.0zM290.9 169.4h1.0v1.0h-1.0zM287.3 165.5h1.0v1.0h-1.0zM294.7 152.6h1.0v1.0h-1.0zM294.7 152.5h1.0v1.0h-1.0zM280.8 155.1h1.0v1.0h-1.0zM298.2 163.2h1.0v1.0h-1.0zM297.5 163.1h1.0v1.0h-1.0zM283.9 150.3h1.0v1.0h-1.0zM284.1 150.5h1.0v1.0h-1.0zM280.8 159.2h1.0v1.0h-1.0zM281.2 159.2h1.0v1.0h-1.0zM281.4 159.7h1.0v1.0h-1.0zM281.0 159.1h1.0v1.0h-1.0zM281.4 159.0h1.0v1.0h-1.0zM283.7 146.8h1.0v1.0h-1.0zM297.7 152.9h1.0v1.0h-1.0zM283.6 163.6h1.0v1.0h-1.0zM284.0 148.8h1.0v1.0h-1.0zM284.3 149.7h1.0v1.0h-1.0zM289.7 148.2h1.0v1.0h-1.0zM292.5 152.5h1.0v1.0h-1.0zM280.0 153.1h1.0v1.0h-1.0zM280.0 153.2h1.0v1.0h-1.0zM293.8 166.3h1.0v1.0h-1.0zM293.2 168.4h1.0v1.0h-1.0zM293.4 167.9h1.0v1.0h-1.0zM292.7 168.0h1.0v1.0h-1.0zM288.6 166.1h1.0v1.0h-1.0zM284.2 148.0h1.0v1.0h-1.0zM289.2 166.4h1.0v1.0h-1.0zM291.7 169.1h1.0v1.0h-1.0zM281.3 156.7h1.0v1.0h-1.0zM290.1 168.7h1.0v1.0h-1.0zM290.1 167.9h1.0v1.0h-1.0zM289.6 168.6h1.0v1.0h-1.0zM289.7 168.6h1.0v1.0h-1.0zM290.0 168.2h1.0v1.0h-1.0zM281.4 154.7h1.0v1.0h-1.0zM282.7 160.8h1.0v1.0h-1.0zM283.5 160.7h1.0v1.0h-1.0zM295.5 152.3h1.0v1.0h-1.0zM296.0 152.1h1.0v1.0h-1.0zM296.1 152.6h1.0v1.0h-1.0zM284.2 150.9h1.0v1.0h-1.0zM287.8 165.5h1.0v1.0h-1.0zM282.1 152.0h1.0v1.0h-1.0zM282.3 152.1h1.0v1.0h-1.0zM290.1 149.0h1.0v1.0h-1.0zM298.3 157.1h1.0v1.0h-1.0zM280.5 152.1h1.0v1.0h-1.0zM280.4 152.6h1.0v1.0h-1.0zM280.1 151.9h1.0v1.0h-1.0zM280.3 152.0h1.0v1.0h-1.0zM284.9 147.3h1.0v1.0h-1.0zM280.9 156.8h1.0v1.0h-1.0zM280.9 151.9h1.0v1.0h-1.0zM281.5 152.4h1.0v1.0h-1.0zM281.4 158.1h1.0v1.0h-1.0zM281.0 158.4h1.0v1.0h-1.0zM280.7 158.4h1.0v1.0h-1.0zM297.0 164.7h1.0v1.0h-1.0zM297.2 163.8h1.0v1.0h-1.0zM281.0 153.6h1.0v1.0h-1.0zM289.4 147.2h1.0v1.0h-1.0zM288.5 147.3h1.0v1.0h-1.0zM298.9 160.4h1.0v1.0h-1.0zM299.0 159.8h1.0v1.0h-1.0zM282.9 152.4h1.0v1.0h-1.0zM283.2 152.1h1.0v1.0h-1.0zM283.0 151.8h1.0v1.0h-1.0zM298.9 161.4h1.0v1.0h-1.0zM298.8 161.1h1.0v1.0h-1.0zM297.6 154.9h1.0v1.0h-1.0zM297.8 155.3h1.0v1.0h-1.0zM297.7 154.2h1.0v1.0h-1.0zM297.6 154.2h1.0v1.0h-1.0zM298.1 154.0h1.0v1.0h-1.0zM297.6 154.5h1.0v1.0h-1.0zM289.7 150.0h1.0v1.0h-1.0zM290.3 150.2h1.0v1.0h-1.0zM295.7 164.9h1.0v1.0h-1.0zM295.8 165.3h1.0v1.0h-1.0zM292.4 168.5h1.0v1.0h-1.0zM292.3 168.5h1.0v1.0h-1.0zM291.6 168.0h1.0v1.0h-1.0zM292.4 168.1h1.0v1.0h-1.0zM285.0 148.7h1.0v1.0h-1.0zM284.6 148.3h1.0v1.0h-1.0zM285.6 147.4h1.0v1.0h-1.0zM285.5 146.9h1.0v1.0h-1.0zM286.3 146.7h1.0v1.0h-1.0zM293.0 166.1h1.0v1.0h-1.0zM293.2 166.2h1.0v1.0h-1.0zM285.1 149.6h1.0v1.0h-1.0zM284.8 149.5h1.0v1.0h-1.0zM282.2 153.1h1.0v1.0h-1.0zM281.9 153.4h1.0v1.0h-1.0zM284.2 152.7h1.0v1.0h-1.0zM281.5 157.8h1.0v1.0h-1.0zM282.3 158.2h1.0v1.0h-1.0zM281.8 157.7h1.0v1.0h-1.0zM287.1 147.5h1.0v1.0h-1.0zM287.2 147.2h1.0v1.0h-1.0zM287.0 147.7h1.0v1.0h-1.0zM287.0 147.1h1.0v1.0h-1.0zM287.5 147.2h1.0v1.0h-1.0zM294.6 165.7h1.0v1.0h-1.0zM295.0 165.1h1.0v1.0h-1.0zM287.6 147.6h1.0v1.0h-1.0zM282.0 156.9h1.0v1.0h-1.0zM281.7 156.7h1.0v1.0h-1.0zM281.7 156.3h1.0v1.0h-1.0zM281.8 156.0h1.0v1.0h-1.0zM281.6 155.8h1.0v1.0h-1.0zM281.6 155.8h1.0v1.0h-1.0zM282.5 156.5h1.0v1.0h-1.0zM284.8 150.1h1.0v1.0h-1.0zM284.6 150.3h1.0v1.0h-1.0zM285.2 150.0h1.0v1.0h-1.0zM297.7 162.3h1.0v1.0h-1.0zM298.0 161.9h1.0v1.0h-1.0zM282.3 155.0h1.0v1.0h-1.0zM281.6 155.4h1.0v1.0h-1.0zM283.2 159.9h1.0v1.0h-1.0zM282.9 160.3h1.0v1.0h-1.0zM283.3 160.0h1.0v1.0h-1.0zM281.6 154.4h1.0v1.0h-1.0zM282.4 154.6h1.0v1.0h-1.0zM291.9 167.0h1.0v1.0h-1.0zM292.3 167.0h1.0v1.0h-1.0zM297.0 153.3h1.0v1.0h-1.0zM296.9 153.4h1.0v1.0h-1.0zM297.2 153.0h1.0v1.0h-1.0zM283.5 162.6h1.0v1.0h-1.0zM284.2 162.6h1.0v1.0h-1.0zM284.1 162.0h1.0v1.0h-1.0zM284.0 161.8h1.0v1.0h-1.0zM289.4 164.7h1.0v1.0h-1.0zM288.7 165.2h1.0v1.0h-1.0zM289.9 151.7h1.0v1.0h-1.0zM289.8 151.4h1.0v1.0h-1.0zM291.0 151.9h1.0v1.0h-1.0zM288.6 148.3h1.0v1.0h-1.0zM288.9 148.6h1.0v1.0h-1.0zM289.1 148.1h1.0v1.0h-1.0zM288.6 148.7h1.0v1.0h-1.0zM288.9 148.2h1.0v1.0h-1.0zM288.8 148.3h1.0v1.0h-1.0zM293.9 165.6h1.0v1.0h-1.0zM293.7 165.7h1.0v1.0h-1.0zM290.9 167.3h1.0v1.0h-1.0zM291.0 167.4h1.0v1.0h-1.0zM290.9 166.7h1.0v1.0h-1.0zM289.8 165.9h1.0v1.0h-1.0zM289.7 166.3h1.0v1.0h-1.0zM290.1 166.6h1.0v1.0h-1.0zM290.0 166.2h1.0v1.0h-1.0zM290.0 166.7h1.0v1.0h-1.0zM285.8 147.8h1.0v1.0h-1.0zM286.5 148.4h1.0v1.0h-1.0zM283.4 153.6h1.0v1.0h-1.0zM283.2 153.5h1.0v1.0h-1.0zM282.8 153.0h1.0v1.0h-1.0zM283.2 152.8h1.0v1.0h-1.0zM285.7 164.5h1.0v1.0h-1.0zM286.0 164.5h1.0v1.0h-1.0zM297.8 158.7h1.0v1.0h-1.0zM298.1 159.2h1.0v1.0h-1.0zM297.8 159.5h1.0v1.0h-1.0zM296.5 164.3h1.0v1.0h-1.0zM296.0 164.3h1.0v1.0h-1.0zM292.2 166.0h1.0v1.0h-1.0zM291.9 166.5h1.0v1.0h-1.0zM291.8 166.5h1.0v1.0h-1.0zM291.6 166.6h1.0v1.0h-1.0zM296.1 152.9h1.0v1.0h-1.0zM295.5 153.4h1.0v1.0h-1.0zM296.4 153.5h1.0v1.0h-1.0zM295.6 152.8h1.0v1.0h-1.0zM289.3 148.9h1.0v1.0h-1.0zM285.4 151.9h1.0v1.0h-1.0zM285.4 152.3h1.0v1.0h-1.0zM296.8 153.9h1.0v1.0h-1.0zM296.6 154.5h1.0v1.0h-1.0zM282.9 159.7h1.0v1.0h-1.0zM285.7 149.6h1.0v1.0h-1.0zM286.1 149.3h1.0v1.0h-1.0zM294.8 153.6h1.0v1.0h-1.0zM284.5 153.2h1.0v1.0h-1.0zM283.7 153.5h1.0v1.0h-1.0zM284.0 152.8h1.0v1.0h-1.0zM297.2 156.9h1.0v1.0h-1.0zM296.8 157.1h1.0v1.0h-1.0zM296.8 156.7h1.0v1.0h-1.0zM296.7 157.2h1.0v1.0h-1.0zM282.6 156.3h1.0v1.0h-1.0zM292.8 165.3h1.0v1.0h-1.0zM282.5 157.7h1.0v1.0h-1.0zM289.0 150.1h1.0v1.0h-1.0zM289.2 150.3h1.0v1.0h-1.0zM288.6 150.6h1.0v1.0h-1.0zM288.7 149.7h1.0v1.0h-1.0zM296.6 155.0h1.0v1.0h-1.0zM296.8 155.2h1.0v1.0h-1.0zM297.0 154.9h1.0v1.0h-1.0zM287.4 147.8h1.0v1.0h-1.0zM287.3 148.5h1.0v1.0h-1.0zM296.7 158.5h1.0v1.0h-1.0z" fill="#6595c4" opacity="1.0" filter="url(#soft)"/>
<path d="M296.8 156.3h1.0v1.0h-1.0zM297.5 155.9h1.0v1.0h-1.0zM297.3 155.8h1.0v1.0h-1.0zM294.4 153.0h1.0v1.0h-1.0zM293.6 153.1h1.0v1.0h-1.0zM291.2 166.2h1.0v1.0h-1.0zM285.4 162.8h1.0v1.0h-1.0zM285.2 162.9h1.0v1.0h-1.0zM284.9 163.6h1.0v1.0h-1.0zM285.4 162.9h1.0v1.0h-1.0zM288.3 147.8h1.0v1.0h-1.0zM287.8 148.6h1.0v1.0h-1.0zM287.6 148.0h1.0v1.0h-1.0zM282.6 153.8h1.0v1.0h-1.0zM286.7 163.9h1.0v1.0h-1.0zM287.2 163.8h1.0v1.0h-1.0zM286.5 164.4h1.0v1.0h-1.0zM282.9 155.0h1.0v1.0h-1.0zM283.4 155.5h1.0v1.0h-1.0zM282.9 155.1h1.0v1.0h-1.0zM283.2 155.0h1.0v1.0h-1.0zM288.2 164.2h1.0v1.0h-1.0zM288.3 164.4h1.0v1.0h-1.0zM297.5 162.6h1.0v1.0h-1.0zM297.7 161.4h1.0v1.0h-1.0zM298.3 161.4h1.0v1.0h-1.0zM297.5 160.8h1.0v1.0h-1.0zM283.7 161.3h1.0v1.0h-1.0zM285.6 150.6h1.0v1.0h-1.0zM285.6 150.1h1.0v1.0h-1.0zM285.6 150.7h1.0v1.0h-1.0zM284.9 153.4h1.0v1.0h-1.0zM285.4 153.2h1.0v1.0h-1.0zM285.0 153.4h1.0v1.0h-1.0zM290.0 164.8h1.0v1.0h-1.0zM290.5 164.9h1.0v1.0h-1.0zM290.2 165.1h1.0v1.0h-1.0zM298.1 160.6h1.0v1.0h-1.0zM298.1 160.6h1.0v1.0h-1.0zM298.1 159.8h1.0v1.0h-1.0zM297.6 160.5h1.0v1.0h-1.0zM295.8 162.9h1.0v1.0h-1.0zM295.9 163.0h1.0v1.0h-1.0zM296.1 163.2h1.0v1.0h-1.0zM295.8 162.8h1.0v1.0h-1.0zM295.6 163.1h1.0v1.0h-1.0zM292.5 152.7h1.0v1.0h-1.0zM292.8 153.5h1.0v1.0h-1.0zM292.8 153.5h1.0v1.0h-1.0zM286.6 149.6h1.0v1.0h-1.0zM287.5 149.3h1.0v1.0h-1.0zM284.3 154.0h1.0v1.0h-1.0zM284.2 154.0h1.0v1.0h-1.0zM283.6 154.2h1.0v1.0h-1.0zM295.3 164.0h1.0v1.0h-1.0zM294.6 164.1h1.0v1.0h-1.0zM295.1 164.2h1.0v1.0h-1.0zM289.2 151.3h1.0v1.0h-1.0zM289.2 164.5h1.0v1.0h-1.0zM289.4 164.0h1.0v1.0h-1.0zM284.0 156.6h1.0v1.0h-1.0zM284.3 156.1h1.0v1.0h-1.0zM284.0 154.9h1.0v1.0h-1.0zM283.6 155.3h1.0v1.0h-1.0zM284.2 154.8h1.0v1.0h-1.0zM297.1 159.6h1.0v1.0h-1.0zM297.0 158.8h1.0v1.0h-1.0zM296.9 159.4h1.0v1.0h-1.0zM296.7 159.5h1.0v1.0h-1.0zM292.3 165.2h1.0v1.0h-1.0zM292.4 165.1h1.0v1.0h-1.0zM289.6 152.7h1.0v1.0h-1.0zM289.9 152.0h1.0v1.0h-1.0zM290.0 152.0h1.0v1.0h-1.0zM285.6 151.5h1.0v1.0h-1.0zM285.7 151.2h1.0v1.0h-1.0zM286.0 150.7h1.0v1.0h-1.0zM286.4 151.4h1.0v1.0h-1.0zM284.5 154.7h1.0v1.0h-1.0zM288.4 149.8h1.0v1.0h-1.0zM288.4 150.0h1.0v1.0h-1.0zM288.4 150.2h1.0v1.0h-1.0zM287.8 150.7h1.0v1.0h-1.0zM295.6 154.6h1.0v1.0h-1.0zM290.6 165.0h1.0v1.0h-1.0zM290.8 165.4h1.0v1.0h-1.0zM285.7 152.0h1.0v1.0h-1.0zM286.0 151.9h1.0v1.0h-1.0zM285.7 152.5h1.0v1.0h-1.0zM286.0 151.8h1.0v1.0h-1.0zM296.4 159.3h1.0v1.0h-1.0zM296.5 159.1h1.0v1.0h-1.0zM286.7 150.7h1.0v1.0h-1.0zM287.2 149.9h1.0v1.0h-1.0zM286.8 150.1h1.0v1.0h-1.0zM283.6 157.6h1.0v1.0h-1.0zM284.4 156.9h1.0v1.0h-1.0zM284.1 157.2h1.0v1.0h-1.0zM284.3 157.1h1.0v1.0h-1.0zM285.3 154.8h1.0v1.0h-1.0zM284.8 155.0h1.0v1.0h-1.0zM285.3 154.9h1.0v1.0h-1.0zM284.6 155.3h1.0v1.0h-1.0zM295.9 158.7h1.0v1.0h-1.0zM295.5 162.4h1.0v1.0h-1.0zM295.8 162.5h1.0v1.0h-1.0zM297.4 161.6h1.0v1.0h-1.0zM296.6 160.8h1.0v1.0h-1.0zM296.9 161.3h1.0v1.0h-1.0zM296.7 160.9h1.0v1.0h-1.0zM296.6 161.2h1.0v1.0h-1.0zM296.7 161.6h1.0v1.0h-1.0zM294.6 159.1h1.0v1.0h-1.0zM294.6 159.1h1.0v1.0h-1.0zM292.5 153.1h1.0v1.0h-1.0zM292.3 153.0h1.0v1.0h-1.0zM294.3 164.0h1.0v1.0h-1.0zM294.1 164.2h1.0v1.0h-1.0zM293.8 164.2h1.0v1.0h-1.0zM294.6 159.8h1.0v1.0h-1.0zM285.1 155.7h1.0v1.0h-1.0zM295.8 159.9h1.0v1.0h-1.0zM296.4 160.5h1.0v1.0h-1.0zM296.4 159.7h1.0v1.0h-1.0zM290.2 164.1h1.0v1.0h-1.0zM290.4 163.7h1.0v1.0h-1.0zM297.2 160.1h1.0v1.0h-1.0zM297.4 159.9h1.0v1.0h-1.0zM283.9 159.9h1.0v1.0h-1.0zM284.0 159.8h1.0v1.0h-1.0zM284.4 160.5h1.0v1.0h-1.0zM287.9 151.0h1.0v1.0h-1.0zM287.9 151.6h1.0v1.0h-1.0zM286.8 151.6h1.0v1.0h-1.0zM287.0 151.6h1.0v1.0h-1.0zM285.0 162.2h1.0v1.0h-1.0zM285.4 162.1h1.0v1.0h-1.0zM295.5 161.3h1.0v1.0h-1.0zM295.7 161.0h1.0v1.0h-1.0zM289.4 151.8h1.0v1.0h-1.0zM288.7 152.6h1.0v1.0h-1.0zM289.1 152.6h1.0v1.0h-1.0zM283.6 158.4h1.0v1.0h-1.0zM284.2 158.6h1.0v1.0h-1.0zM293.2 164.6h1.0v1.0h-1.0zM293.3 164.6h1.0v1.0h-1.0zM295.2 162.8h1.0v1.0h-1.0zM286.0 163.1h1.0v1.0h-1.0zM286.5 163.7h1.0v1.0h-1.0zM285.8 163.3h1.0v1.0h-1.0zM285.6 163.5h1.0v1.0h-1.0zM286.1 162.9h1.0v1.0h-1.0zM286.2 163.7h1.0v1.0h-1.0zM295.9 157.5h1.0v1.0h-1.0zM295.9 157.1h1.0v1.0h-1.0zM295.8 157.6h1.0v1.0h-1.0zM295.7 156.8h1.0v1.0h-1.0zM296.1 157.6h1.0v1.0h-1.0zM290.5 164.3h1.0v1.0h-1.0zM291.4 163.7h1.0v1.0h-1.0zM290.7 164.7h1.0v1.0h-1.0zM294.5 161.1h1.0v1.0h-1.0zM294.7 161.6h1.0v1.0h-1.0zM286.0 153.9h1.0v1.0h-1.0zM293.9 159.9h1.0v1.0h-1.0zM293.7 159.7h1.0v1.0h-1.0zM294.3 160.1h1.0v1.0h-1.0zM294.4 160.3h1.0v1.0h-1.0zM286.6 152.5h1.0v1.0h-1.0zM286.8 152.5h1.0v1.0h-1.0zM286.9 152.1h1.0v1.0h-1.0zM287.0 152.5h1.0v1.0h-1.0zM291.5 164.2h1.0v1.0h-1.0zM291.7 164.4h1.0v1.0h-1.0zM291.5 164.3h1.0v1.0h-1.0zM283.8 159.5h1.0v1.0h-1.0zM284.0 159.2h1.0v1.0h-1.0zM284.5 159.7h1.0v1.0h-1.0zM283.7 159.2h1.0v1.0h-1.0zM283.6 159.1h1.0v1.0h-1.0zM288.5 163.1h1.0v1.0h-1.0zM288.7 163.3h1.0v1.0h-1.0zM288.8 163.6h1.0v1.0h-1.0zM290.8 153.3h1.0v1.0h-1.0zM291.4 153.6h1.0v1.0h-1.0zM290.6 153.1h1.0v1.0h-1.0zM290.8 153.3h1.0v1.0h-1.0zM291.1 152.9h1.0v1.0h-1.0zM295.9 155.8h1.0v1.0h-1.0zM296.0 156.1h1.0v1.0h-1.0zM285.9 155.7h1.0v1.0h-1.0zM285.6 155.3h1.0v1.0h-1.0zM294.6 154.3h1.0v1.0h-1.0zM294.7 154.2h1.0v1.0h-1.0zM295.4 153.7h1.0v1.0h-1.0zM295.3 162.4h1.0v1.0h-1.0zM294.6 162.1h1.0v1.0h-1.0zM288.1 152.5h1.0v1.0h-1.0zM288.0 152.6h1.0v1.0h-1.0zM288.4 163.3h1.0v1.0h-1.0zM287.8 162.8h1.0v1.0h-1.0zM289.6 163.0h1.0v1.0h-1.0zM289.7 162.7h1.0v1.0h-1.0zM290.0 163.0h1.0v1.0h-1.0zM284.8 156.9h1.0v1.0h-1.0zM284.6 157.5h1.0v1.0h-1.0zM285.2 157.3h1.0v1.0h-1.0zM294.6 157.7h1.0v1.0h-1.0zM294.5 158.4h1.0v1.0h-1.0zM294.7 158.2h1.0v1.0h-1.0zM287.3 163.1h1.0v1.0h-1.0zM286.7 163.1h1.0v1.0h-1.0zM286.7 163.6h1.0v1.0h-1.0zM285.5 161.4h1.0v1.0h-1.0zM284.6 161.5h1.0v1.0h-1.0zM285.2 160.7h1.0v1.0h-1.0zM293.9 160.8h1.0v1.0h-1.0zM293.9 161.0h1.0v1.0h-1.0zM294.3 161.1h1.0v1.0h-1.0zM291.4 163.3h1.0v1.0h-1.0zM290.8 163.0h1.0v1.0h-1.0zM291.0 163.0h1.0v1.0h-1.0zM290.7 162.9h1.0v1.0h-1.0zM289.6 153.1h1.0v1.0h-1.0zM294.1 162.8h1.0v1.0h-1.0zM294.3 163.1h1.0v1.0h-1.0zM294.1 163.0h1.0v1.0h-1.0zM286.6 153.5h1.0v1.0h-1.0zM291.7 163.5h1.0v1.0h-1.0zM291.7 162.9h1.0v1.0h-1.0zM293.5 160.4h1.0v1.0h-1.0zM293.4 162.8h1.0v1.0h-1.0zM293.4 163.5h1.0v1.0h-1.0zM292.6 163.1h1.0v1.0h-1.0zM292.8 163.1h1.0v1.0h-1.0zM292.8 162.8h1.0v1.0h-1.0zM294.2 162.1h1.0v1.0h-1.0zM293.9 161.9h1.0v1.0h-1.0zM293.8 162.0h1.0v1.0h-1.0zM293.6 162.6h1.0v1.0h-1.0zM294.3 162.0h1.0v1.0h-1.0zM293.6 162.3h1.0v1.0h-1.0zM285.9 162.2h1.0v1.0h-1.0zM289.4 153.3h1.0v1.0h-1.0zM288.5 153.5h1.0v1.0h-1.0zM286.3 157.6h1.0v1.0h-1.0zM286.3 157.2h1.0v1.0h-1.0zM289.8 162.4h1.0v1.0h-1.0zM290.8 162.0h1.0v1.0h-1.0zM290.7 162.6h1.0v1.0h-1.0zM291.2 162.3h1.0v1.0h-1.0zM290.7 162.5h1.0v1.0h-1.0z" fill="#6a9ea4" opacity="1.0" filter="url(#soft)"/>
<path d="M292.9 161.0h1.0v1.0h-1.0zM292.7 161.0h1.0v1.0h-1.0zM292.7 161.3h1.0v1.0h-1.0zM287.9 153.2h1.0v1.0h-1.0zM287.9 153.4h1.0v1.0h-1.0zM288.4 153.6h1.0v1.0h-1.0zM288.5 153.1h1.0v1.0h-1.0zM293.8 154.6h1.0v1.0h-1.0zM293.8 154.1h1.0v1.0h-1.0zM293.6 153.8h1.0v1.0h-1.0zM285.1 159.8h1.0v1.0h-1.0zM284.7 158.1h1.0v1.0h-1.0zM284.9 158.1h1.0v1.0h-1.0zM292.5 159.3h1.0v1.0h-1.0zM293.3 159.1h1.0v1.0h-1.0zM293.4 159.1h1.0v1.0h-1.0zM291.9 161.8h1.0v1.0h-1.0zM291.8 162.2h1.0v1.0h-1.0zM291.5 162.1h1.0v1.0h-1.0zM287.3 154.2h1.0v1.0h-1.0zM287.3 154.1h1.0v1.0h-1.0zM286.7 154.1h1.0v1.0h-1.0zM287.0 154.5h1.0v1.0h-1.0zM289.4 162.7h1.0v1.0h-1.0zM288.7 162.2h1.0v1.0h-1.0zM288.5 162.2h1.0v1.0h-1.0zM293.0 162.4h1.0v1.0h-1.0zM292.8 162.0h1.0v1.0h-1.0zM292.6 162.7h1.0v1.0h-1.0zM293.7 158.4h1.0v1.0h-1.0zM293.7 158.7h1.0v1.0h-1.0zM294.2 157.9h1.0v1.0h-1.0zM294.1 158.6h1.0v1.0h-1.0zM286.8 155.4h1.0v1.0h-1.0zM286.5 155.5h1.0v1.0h-1.0zM287.2 154.8h1.0v1.0h-1.0zM286.6 155.7h1.0v1.0h-1.0zM286.6 155.1h1.0v1.0h-1.0zM287.3 154.8h1.0v1.0h-1.0zM287.0 155.4h1.0v1.0h-1.0zM286.5 155.0h1.0v1.0h-1.0zM291.6 161.4h1.0v1.0h-1.0zM288.3 162.7h1.0v1.0h-1.0zM288.3 162.7h1.0v1.0h-1.0zM288.4 162.2h1.0v1.0h-1.0zM287.0 157.2h1.0v1.0h-1.0zM286.6 157.6h1.0v1.0h-1.0zM286.7 156.8h1.0v1.0h-1.0zM286.9 157.0h1.0v1.0h-1.0zM287.0 157.3h1.0v1.0h-1.0zM287.0 161.8h1.0v1.0h-1.0zM287.1 162.6h1.0v1.0h-1.0zM287.0 161.8h1.0v1.0h-1.0zM286.8 162.0h1.0v1.0h-1.0zM294.7 155.0h1.0v1.0h-1.0zM295.2 155.3h1.0v1.0h-1.0zM295.5 155.6h1.0v1.0h-1.0zM295.1 155.1h1.0v1.0h-1.0zM284.8 159.0h1.0v1.0h-1.0zM285.3 159.1h1.0v1.0h-1.0zM285.0 158.7h1.0v1.0h-1.0zM285.4 159.5h1.0v1.0h-1.0zM285.4 159.5h1.0v1.0h-1.0zM285.3 159.3h1.0v1.0h-1.0zM286.4 160.9h1.0v1.0h-1.0zM286.2 160.9h1.0v1.0h-1.0zM285.5 161.0h1.0v1.0h-1.0zM285.8 161.0h1.0v1.0h-1.0zM290.9 160.9h1.0v1.0h-1.0zM292.0 159.8h1.0v1.0h-1.0zM291.9 159.8h1.0v1.0h-1.0zM292.0 160.1h1.0v1.0h-1.0zM292.2 160.4h1.0v1.0h-1.0zM291.9 160.0h1.0v1.0h-1.0zM293.1 154.0h1.0v1.0h-1.0zM293.1 154.4h1.0v1.0h-1.0zM293.2 154.6h1.0v1.0h-1.0zM293.5 154.3h1.0v1.0h-1.0zM288.1 154.5h1.0v1.0h-1.0zM288.1 153.9h1.0v1.0h-1.0zM288.3 154.2h1.0v1.0h-1.0zM288.3 154.2h1.0v1.0h-1.0zM288.2 153.8h1.0v1.0h-1.0zM288.2 154.2h1.0v1.0h-1.0zM286.5 158.5h1.0v1.0h-1.0zM285.7 158.1h1.0v1.0h-1.0zM286.4 158.7h1.0v1.0h-1.0zM285.8 158.6h1.0v1.0h-1.0zM286.0 158.6h1.0v1.0h-1.0zM286.1 157.7h1.0v1.0h-1.0zM289.5 153.8h1.0v1.0h-1.0zM289.3 154.6h1.0v1.0h-1.0zM288.9 154.2h1.0v1.0h-1.0zM288.1 156.4h1.0v1.0h-1.0zM288.2 155.8h1.0v1.0h-1.0zM287.8 156.5h1.0v1.0h-1.0zM287.7 156.4h1.0v1.0h-1.0zM289.9 161.5h1.0v1.0h-1.0zM289.8 161.1h1.0v1.0h-1.0zM289.5 161.2h1.0v1.0h-1.0zM295.4 156.6h1.0v1.0h-1.0zM295.4 156.5h1.0v1.0h-1.0zM295.1 156.4h1.0v1.0h-1.0zM289.8 153.9h1.0v1.0h-1.0zM289.8 154.4h1.0v1.0h-1.0zM290.3 154.2h1.0v1.0h-1.0zM289.8 154.2h1.0v1.0h-1.0zM290.4 154.0h1.0v1.0h-1.0zM285.7 160.1h1.0v1.0h-1.0zM286.4 159.8h1.0v1.0h-1.0zM285.6 160.1h1.0v1.0h-1.0zM287.9 155.2h1.0v1.0h-1.0zM287.9 155.4h1.0v1.0h-1.0zM288.2 154.7h1.0v1.0h-1.0zM288.2 155.0h1.0v1.0h-1.0zM288.4 155.0h1.0v1.0h-1.0zM291.6 153.9h1.0v1.0h-1.0zM291.6 153.9h1.0v1.0h-1.0zM290.8 153.8h1.0v1.0h-1.0zM290.5 154.7h1.0v1.0h-1.0zM287.4 157.8h1.0v1.0h-1.0zM286.8 158.4h1.0v1.0h-1.0zM286.5 158.3h1.0v1.0h-1.0zM287.4 158.6h1.0v1.0h-1.0zM292.6 158.4h1.0v1.0h-1.0zM292.6 158.3h1.0v1.0h-1.0zM287.0 161.5h1.0v1.0h-1.0zM287.5 161.0h1.0v1.0h-1.0zM286.5 161.0h1.0v1.0h-1.0zM286.9 160.9h1.0v1.0h-1.0zM287.3 161.5h1.0v1.0h-1.0zM292.5 159.0h1.0v1.0h-1.0zM292.0 158.9h1.0v1.0h-1.0zM292.4 159.2h1.0v1.0h-1.0zM292.0 159.6h1.0v1.0h-1.0zM289.2 161.3h1.0v1.0h-1.0zM289.2 161.1h1.0v1.0h-1.0zM286.2 159.1h1.0v1.0h-1.0zM286.2 159.1h1.0v1.0h-1.0zM286.5 158.8h1.0v1.0h-1.0zM286.3 158.7h1.0v1.0h-1.0zM291.4 160.0h1.0v1.0h-1.0zM290.9 160.0h1.0v1.0h-1.0zM291.2 160.1h1.0v1.0h-1.0zM290.8 160.2h1.0v1.0h-1.0zM291.3 160.5h1.0v1.0h-1.0zM290.9 159.8h1.0v1.0h-1.0zM288.3 161.3h1.0v1.0h-1.0zM287.8 160.9h1.0v1.0h-1.0zM287.9 161.3h1.0v1.0h-1.0zM288.2 158.3h1.0v1.0h-1.0zM288.4 158.6h1.0v1.0h-1.0zM288.5 158.0h1.0v1.0h-1.0zM286.6 160.4h1.0v1.0h-1.0zM287.3 160.4h1.0v1.0h-1.0zM287.0 160.6h1.0v1.0h-1.0zM286.5 158.8h1.0v1.0h-1.0zM287.5 159.0h1.0v1.0h-1.0zM288.6 155.9h1.0v1.0h-1.0zM288.6 156.7h1.0v1.0h-1.0zM289.1 156.5h1.0v1.0h-1.0zM293.6 156.9h1.0v1.0h-1.0zM294.5 157.4h1.0v1.0h-1.0zM293.7 157.6h1.0v1.0h-1.0zM294.4 157.4h1.0v1.0h-1.0zM288.9 157.2h1.0v1.0h-1.0zM288.5 157.1h1.0v1.0h-1.0zM288.6 157.4h1.0v1.0h-1.0z" fill="#88ac62" opacity="1.0" filter="url(#soft)"/>
<path d="M290.1 160.4h1.0v1.0h-1.0zM289.8 159.9h1.0v1.0h-1.0zM294.2 155.3h1.0v1.0h-1.0zM294.0 155.5h1.0v1.0h-1.0zM294.0 155.4h1.0v1.0h-1.0zM293.9 155.6h1.0v1.0h-1.0zM288.2 160.2h1.0v1.0h-1.0zM287.9 160.0h1.0v1.0h-1.0zM287.9 159.2h1.0v1.0h-1.0zM288.3 159.2h1.0v1.0h-1.0zM287.9 159.4h1.0v1.0h-1.0zM287.5 159.6h1.0v1.0h-1.0zM288.1 159.1h1.0v1.0h-1.0zM291.8 158.2h1.0v1.0h-1.0zM292.2 158.2h1.0v1.0h-1.0zM289.6 154.9h1.0v1.0h-1.0zM290.1 155.3h1.0v1.0h-1.0zM291.0 158.7h1.0v1.0h-1.0zM290.8 159.1h1.0v1.0h-1.0zM290.6 159.1h1.0v1.0h-1.0zM290.7 159.4h1.0v1.0h-1.0zM288.7 160.5h1.0v1.0h-1.0zM288.7 160.7h1.0v1.0h-1.0zM289.4 160.1h1.0v1.0h-1.0zM289.5 160.6h1.0v1.0h-1.0zM288.8 159.9h1.0v1.0h-1.0zM288.5 160.1h1.0v1.0h-1.0zM289.2 160.5h1.0v1.0h-1.0zM288.8 160.0h1.0v1.0h-1.0zM288.8 160.1h1.0v1.0h-1.0zM288.7 159.9h1.0v1.0h-1.0zM288.8 158.3h1.0v1.0h-1.0zM288.8 158.1h1.0v1.0h-1.0zM289.4 159.2h1.0v1.0h-1.0zM289.5 159.2h1.0v1.0h-1.0zM289.1 158.9h1.0v1.0h-1.0zM289.3 158.7h1.0v1.0h-1.0zM289.6 159.6h1.0v1.0h-1.0zM289.9 159.3h1.0v1.0h-1.0zM289.6 159.5h1.0v1.0h-1.0zM293.6 155.8h1.0v1.0h-1.0zM294.3 156.6h1.0v1.0h-1.0zM293.7 156.7h1.0v1.0h-1.0zM293.7 156.3h1.0v1.0h-1.0zM293.7 156.0h1.0v1.0h-1.0zM293.8 156.4h1.0v1.0h-1.0zM294.2 155.9h1.0v1.0h-1.0zM293.7 156.5h1.0v1.0h-1.0zM293.9 156.1h1.0v1.0h-1.0zM293.1 157.0h1.0v1.0h-1.0zM292.7 157.2h1.0v1.0h-1.0zM293.2 157.7h1.0v1.0h-1.0zM293.2 157.2h1.0v1.0h-1.0zM292.8 156.8h1.0v1.0h-1.0zM291.4 154.8h1.0v1.0h-1.0zM290.6 155.3h1.0v1.0h-1.0zM290.8 154.8h1.0v1.0h-1.0zM290.7 155.0h1.0v1.0h-1.0zM291.1 154.8h1.0v1.0h-1.0zM291.0 155.3h1.0v1.0h-1.0zM290.9 155.0h1.0v1.0h-1.0zM291.2 158.6h1.0v1.0h-1.0zM290.6 158.3h1.0v1.0h-1.0zM291.3 158.2h1.0v1.0h-1.0zM291.2 157.7h1.0v1.0h-1.0zM289.6 156.4h1.0v1.0h-1.0zM290.0 155.9h1.0v1.0h-1.0zM290.1 156.2h1.0v1.0h-1.0zM289.6 156.2h1.0v1.0h-1.0zM290.2 158.5h1.0v1.0h-1.0zM290.3 158.6h1.0v1.0h-1.0zM289.5 158.1h1.0v1.0h-1.0zM293.1 155.0h1.0v1.0h-1.0zM293.2 154.8h1.0v1.0h-1.0zM289.6 157.2h1.0v1.0h-1.0zM289.9 157.4h1.0v1.0h-1.0zM290.4 157.0h1.0v1.0h-1.0zM289.7 157.3h1.0v1.0h-1.0zM289.8 156.9h1.0v1.0h-1.0zM290.2 157.5h1.0v1.0h-1.0zM290.1 157.0h1.0v1.0h-1.0zM290.2 156.8h1.0v1.0h-1.0zM292.3 154.9h1.0v1.0h-1.0zM292.3 155.3h1.0v1.0h-1.0zM291.9 154.8h1.0v1.0h-1.0zM291.6 155.7h1.0v1.0h-1.0zM291.7 154.7h1.0v1.0h-1.0zM292.1 155.4h1.0v1.0h-1.0zM291.1 157.1h1.0v1.0h-1.0zM290.7 157.5h1.0v1.0h-1.0zM291.2 157.2h1.0v1.0h-1.0zM291.4 157.0h1.0v1.0h-1.0zM290.7 157.7h1.0v1.0h-1.0zM291.1 157.5h1.0v1.0h-1.0zM291.0 157.5h1.0v1.0h-1.0zM291.4 155.9h1.0v1.0h-1.0zM290.9 156.4h1.0v1.0h-1.0zM291.2 155.8h1.0v1.0h-1.0zM290.7 156.7h1.0v1.0h-1.0zM292.8 156.6h1.0v1.0h-1.0zM292.7 155.9h1.0v1.0h-1.0zM293.4 156.5h1.0v1.0h-1.0zM293.5 155.9h1.0v1.0h-1.0zM293.4 156.3h1.0v1.0h-1.0zM293.5 156.5h1.0v1.0h-1.0zM293.2 155.8h1.0v1.0h-1.0zM292.8 156.3h1.0v1.0h-1.0zM292.4 155.8h1.0v1.0h-1.0zM291.6 155.8h1.0v1.0h-1.0zM292.1 156.5h1.0v1.0h-1.0zM292.2 156.6h1.0v1.0h-1.0z" fill="#a8ae48" opacity="1.0" filter="url(#soft)"/>
<rect x="266.50" y="116.70" width="74.70" height="67.60" fill="none" stroke="#000" stroke-width="1.5"/>
<line x1="266.50" y1="167.20" x2="341.20" y2="167.20" stroke="#000" stroke-width="1.1" />
<text x="264.30" y="188.20" font-size="7.6" text-anchor="end">10<tspan dy="-5.6" font-size="6.8">0</tspan></text>
<line x1="264.30" y1="184.30" x2="266.50" y2="184.30" stroke="#000" stroke-width="0.9" />
<line x1="265.10" y1="179.21" x2="266.50" y2="179.21" stroke="#000" stroke-width="0.6" />
<line x1="265.10" y1="176.24" x2="266.50" y2="176.24" stroke="#000" stroke-width="0.6" />
<line x1="265.10" y1="174.13" x2="266.50" y2="174.13" stroke="#000" stroke-width="0.6" />
<line x1="265.10" y1="172.49" x2="266.50" y2="172.49" stroke="#000" stroke-width="0.6" />
<line x1="265.10" y1="171.15" x2="266.50" y2="171.15" stroke="#000" stroke-width="0.6" />
<line x1="265.10" y1="170.02" x2="266.50" y2="170.02" stroke="#000" stroke-width="0.6" />
<line x1="265.10" y1="169.04" x2="266.50" y2="169.04" stroke="#000" stroke-width="0.6" />
<line x1="265.10" y1="168.17" x2="266.50" y2="168.17" stroke="#000" stroke-width="0.6" />
<text x="264.30" y="171.30" font-size="7.6" text-anchor="end">10<tspan dy="-5.6" font-size="6.8">1</tspan></text>
<line x1="264.30" y1="167.40" x2="266.50" y2="167.40" stroke="#000" stroke-width="0.9" />
<line x1="265.10" y1="162.31" x2="266.50" y2="162.31" stroke="#000" stroke-width="0.6" />
<line x1="265.10" y1="159.34" x2="266.50" y2="159.34" stroke="#000" stroke-width="0.6" />
<line x1="265.10" y1="157.23" x2="266.50" y2="157.23" stroke="#000" stroke-width="0.6" />
<line x1="265.10" y1="155.59" x2="266.50" y2="155.59" stroke="#000" stroke-width="0.6" />
<line x1="265.10" y1="154.25" x2="266.50" y2="154.25" stroke="#000" stroke-width="0.6" />
<line x1="265.10" y1="153.12" x2="266.50" y2="153.12" stroke="#000" stroke-width="0.6" />
<line x1="265.10" y1="152.14" x2="266.50" y2="152.14" stroke="#000" stroke-width="0.6" />
<line x1="265.10" y1="151.27" x2="266.50" y2="151.27" stroke="#000" stroke-width="0.6" />
<text x="264.30" y="154.40" font-size="7.6" text-anchor="end">10<tspan dy="-5.6" font-size="6.8">2</tspan></text>
<line x1="264.30" y1="150.50" x2="266.50" y2="150.50" stroke="#000" stroke-width="0.9" />
<line x1="265.10" y1="145.41" x2="266.50" y2="145.41" stroke="#000" stroke-width="0.6" />
<line x1="265.10" y1="142.44" x2="266.50" y2="142.44" stroke="#000" stroke-width="0.6" />
<line x1="265.10" y1="140.33" x2="266.50" y2="140.33" stroke="#000" stroke-width="0.6" />
<line x1="265.10" y1="138.69" x2="266.50" y2="138.69" stroke="#000" stroke-width="0.6" />
<line x1="265.10" y1="137.35" x2="266.50" y2="137.35" stroke="#000" stroke-width="0.6" />
<line x1="265.10" y1="136.22" x2="266.50" y2="136.22" stroke="#000" stroke-width="0.6" />
<line x1="265.10" y1="135.24" x2="266.50" y2="135.24" stroke="#000" stroke-width="0.6" />
<line x1="265.10" y1="134.37" x2="266.50" y2="134.37" stroke="#000" stroke-width="0.6" />
<text x="264.30" y="137.50" font-size="7.6" text-anchor="end">10<tspan dy="-5.6" font-size="6.8">3</tspan></text>
<line x1="264.30" y1="133.60" x2="266.50" y2="133.60" stroke="#000" stroke-width="0.9" />
<line x1="265.10" y1="128.51" x2="266.50" y2="128.51" stroke="#000" stroke-width="0.6" />
<line x1="265.10" y1="125.54" x2="266.50" y2="125.54" stroke="#000" stroke-width="0.6" />
<line x1="265.10" y1="123.43" x2="266.50" y2="123.43" stroke="#000" stroke-width="0.6" />
<line x1="265.10" y1="121.79" x2="266.50" y2="121.79" stroke="#000" stroke-width="0.6" />
<line x1="265.10" y1="120.45" x2="266.50" y2="120.45" stroke="#000" stroke-width="0.6" />
<line x1="265.10" y1="119.32" x2="266.50" y2="119.32" stroke="#000" stroke-width="0.6" />
<line x1="265.10" y1="118.34" x2="266.50" y2="118.34" stroke="#000" stroke-width="0.6" />
<line x1="265.10" y1="117.47" x2="266.50" y2="117.47" stroke="#000" stroke-width="0.6" />
<text x="264.30" y="120.60" font-size="7.6" text-anchor="end">10<tspan dy="-5.6" font-size="6.8">4</tspan></text>
<line x1="264.30" y1="116.70" x2="266.50" y2="116.70" stroke="#000" stroke-width="0.9" />
<text x="264.33" y="194.20" font-size="8.90" text-anchor="start" >0</text>
<text x="268.27" y="194.20" font-size="8.90" text-anchor="start" >200</text>
<text x="285.87" y="194.20" font-size="8.90" text-anchor="start" >400</text>
<text x="302.17" y="194.20" font-size="8.90" text-anchor="start" >600</text>
<text x="318.47" y="194.20" font-size="8.90" text-anchor="start" >800</text>
<text x="335.25" y="194.20" font-size="8.90" text-anchor="start" >1K</text>
<text x="305.56" y="129.60" font-size="8.60" text-anchor="start" >88.2%</text>
<text x="361.44" y="9.60" font-size="11.00" text-anchor="start" font-weight="bold" >B</text>
<line x1="408.30" y1="12.40" x2="408.30" y2="85.80" stroke="#000" stroke-width="1.3" />
<line x1="407.70" y1="85.20" x2="517.50" y2="85.20" stroke="#000" stroke-width="1.3" />
<line x1="405.50" y1="85.20" x2="408.30" y2="85.20" stroke="#000" stroke-width="1.1" />
<text x="399.58" y="88.30" font-size="8.50" text-anchor="start" >0</text>
<line x1="405.50" y1="61.10" x2="408.30" y2="61.10" stroke="#000" stroke-width="1.1" />
<text x="394.87" y="64.20" font-size="8.50" text-anchor="start" >20</text>
<line x1="405.50" y1="37.20" x2="408.30" y2="37.20" stroke="#000" stroke-width="1.1" />
<text x="394.87" y="40.30" font-size="8.50" text-anchor="start" >40</text>
<line x1="405.50" y1="13.00" x2="408.30" y2="13.00" stroke="#000" stroke-width="1.1" />
<text x="394.87" y="16.10" font-size="8.50" text-anchor="start" >60</text>
<line x1="419.90" y1="85.20" x2="419.90" y2="87.80" stroke="#000" stroke-width="1.1" />
<line x1="442.30" y1="85.20" x2="442.30" y2="87.80" stroke="#000" stroke-width="1.1" />
<line x1="464.20" y1="85.20" x2="464.20" y2="87.80" stroke="#000" stroke-width="1.1" />
<line x1="485.90" y1="85.20" x2="485.90" y2="87.80" stroke="#000" stroke-width="1.1" />
<line x1="508.10" y1="85.20" x2="508.10" y2="87.80" stroke="#000" stroke-width="1.1" />
<text x="417.51" y="96.40" font-size="8.60" text-anchor="start" >0</text>
<text x="437.53" y="96.40" font-size="8.60" text-anchor="start" >12</text>
<text x="459.43" y="96.40" font-size="8.60" text-anchor="start" >24</text>
<text x="481.13" y="96.40" font-size="8.60" text-anchor="start" >36</text>
<text x="503.33" y="96.40" font-size="8.60" text-anchor="start" >48</text>
<polyline points="419.9,78.1 442.3,67.3 464.2,57.7 485.9,42.9 508.1,20.5" fill="none" stroke="#23449a" stroke-width="1.7"/>
<polyline points="419.9,78.1 442.3,60.0 464.2,50.2 485.9,31.0 508.1,23.3" fill="none" stroke="#d8262e" stroke-width="1.7"/>
<circle cx="419.9" cy="78.1" r="1.8" fill="#23449a"/>
<circle cx="442.3" cy="67.3" r="1.8" fill="#23449a"/>
<circle cx="464.2" cy="57.7" r="1.8" fill="#23449a"/>
<circle cx="485.9" cy="42.9" r="1.8" fill="#23449a"/>
<circle cx="508.1" cy="20.5" r="1.8" fill="#23449a"/>
<circle cx="508.1" cy="20.5" r="2.6" fill="#4a3a8a"/>
<circle cx="419.9" cy="78.1" r="2.4" fill="#4a3a8a"/>
<line x1="442.30" y1="57.40" x2="442.30" y2="62.60" stroke="#d8262e" stroke-width="1.5" />
<line x1="439.50" y1="57.40" x2="445.10" y2="57.40" stroke="#d8262e" stroke-width="1.5" />
<line x1="439.50" y1="62.60" x2="445.10" y2="62.60" stroke="#d8262e" stroke-width="1.5" />
<path d="M440.0,58.4 L444.6,58.4 L442.3,62.0Z" fill="#d8262e" />
<path d="M461.9,48.6 L466.5,48.6 L464.2,52.2Z" fill="#d8262e" />
<line x1="485.90" y1="28.40" x2="485.90" y2="33.60" stroke="#d8262e" stroke-width="1.5" />
<line x1="483.10" y1="28.40" x2="488.70" y2="28.40" stroke="#d8262e" stroke-width="1.5" />
<line x1="483.10" y1="33.60" x2="488.70" y2="33.60" stroke="#d8262e" stroke-width="1.5" />
<path d="M483.59999999999997,29.4 L488.2,29.4 L485.9,33.0Z" fill="#d8262e" />
<path d="M505.8,21.7 L510.40000000000003,21.7 L508.1,25.3Z" fill="#d8262e" />
<text x="412.53" y="11.80" font-size="8.85" text-anchor="start" >Cytarabine(160μM)</text>
<text x="411.55" y="25.90" font-size="8.80" text-anchor="start" >Daunorubicin (50nM)</text>
<line x1="416.40" y1="16.60" x2="424.10" y2="16.60" stroke="#d8262e" stroke-width="1.6" />
<path d="M418.3,15.3 L422.3,15.3 L420.3,18.3Z" fill="#d8262e" />
<line x1="416.40" y1="29.80" x2="424.10" y2="29.80" stroke="#23449a" stroke-width="1.6" />
<circle cx="420.3" cy="29.8" r="1.6" fill="#23449a"/>
<text x="462.57" y="81.20" font-size="8.75" text-anchor="start" >Time (hours)</text>
<text transform="translate(389.60,83.94) rotate(-90)" font-size="8.80">Apoptosis rate (%)</text>
<line x1="408.30" y1="120.50" x2="408.30" y2="191.40" stroke="#000" stroke-width="1.3" />
<line x1="407.70" y1="190.80" x2="515.30" y2="190.80" stroke="#000" stroke-width="1.3" />
<line x1="405.50" y1="190.80" x2="408.30" y2="190.80" stroke="#000" stroke-width="1.1" />
<text x="395.06" y="193.90" font-size="8.50" text-anchor="start" >40</text>
<line x1="405.50" y1="179.18" x2="408.30" y2="179.18" stroke="#000" stroke-width="1.1" />
<text x="395.06" y="182.28" font-size="8.50" text-anchor="start" >50</text>
<line x1="405.50" y1="167.57" x2="408.30" y2="167.57" stroke="#000" stroke-width="1.1" />
<text x="395.06" y="170.67" font-size="8.50" text-anchor="start" >60</text>
<line x1="405.50" y1="155.95" x2="408.30" y2="155.95" stroke="#000" stroke-width="1.1" />
<text x="395.06" y="159.05" font-size="8.50" text-anchor="start" >70</text>
<line x1="405.50" y1="144.33" x2="408.30" y2="144.33" stroke="#000" stroke-width="1.1" />
<text x="395.06" y="147.43" font-size="8.50" text-anchor="start" >80</text>
<line x1="405.50" y1="132.72" x2="408.30" y2="132.72" stroke="#000" stroke-width="1.1" />
<text x="395.06" y="135.82" font-size="8.50" text-anchor="start" >90</text>
<line x1="405.50" y1="121.10" x2="408.30" y2="121.10" stroke="#000" stroke-width="1.1" />
<text x="390.31" y="124.20" font-size="8.50" text-anchor="start" >100</text>
<line x1="419.80" y1="190.80" x2="419.80" y2="193.40" stroke="#000" stroke-width="1.1" />
<line x1="441.80" y1="190.80" x2="441.80" y2="193.40" stroke="#000" stroke-width="1.1" />
<line x1="462.20" y1="190.80" x2="462.20" y2="193.40" stroke="#000" stroke-width="1.1" />
<line x1="483.10" y1="190.80" x2="483.10" y2="193.40" stroke="#000" stroke-width="1.1" />
<line x1="504.60" y1="190.80" x2="504.60" y2="193.40" stroke="#000" stroke-width="1.1" />
<text x="417.41" y="203.80" font-size="8.60" text-anchor="start" >0</text>
<text x="437.03" y="203.80" font-size="8.60" text-anchor="start" >12</text>
<text x="457.43" y="203.80" font-size="8.60" text-anchor="start" >24</text>
<text x="478.33" y="203.80" font-size="8.60" text-anchor="start" >36</text>
<text x="499.83" y="203.80" font-size="8.60" text-anchor="start" >48</text>
<polyline points="419.8,172.0 441.8,164.6 462.2,161.9 483.1,156.0 504.6,149.2" fill="none" stroke="#23449a" stroke-width="1.6"/>
<polyline points="419.8,176.1 441.8,152.1 462.2,142.6 483.1,136.9 504.6,137.4" fill="none" stroke="#d8262e" stroke-width="1.6"/>
<line x1="441.80" y1="158.10" x2="441.80" y2="171.70" stroke="#23449a" stroke-width="1.6" />
<line x1="439.20" y1="158.10" x2="444.40" y2="158.10" stroke="#23449a" stroke-width="1.6" />
<line x1="439.20" y1="171.70" x2="444.40" y2="171.70" stroke="#23449a" stroke-width="1.6" />
<line x1="462.20" y1="156.50" x2="462.20" y2="166.30" stroke="#23449a" stroke-width="1.6" />
<line x1="459.60" y1="156.50" x2="464.80" y2="156.50" stroke="#23449a" stroke-width="1.6" />
<line x1="459.60" y1="166.30" x2="464.80" y2="166.30" stroke="#23449a" stroke-width="1.6" />
<line x1="483.10" y1="154.20" x2="483.10" y2="158.00" stroke="#23449a" stroke-width="1.6" />
<line x1="480.50" y1="154.20" x2="485.70" y2="154.20" stroke="#23449a" stroke-width="1.6" />
<line x1="480.50" y1="158.00" x2="485.70" y2="158.00" stroke="#23449a" stroke-width="1.6" />
<line x1="419.80" y1="174.40" x2="419.80" y2="177.70" stroke="#d8262e" stroke-width="1.5" />
<line x1="417.20" y1="174.40" x2="422.40" y2="174.40" stroke="#d8262e" stroke-width="1.5" />
<line x1="417.20" y1="177.70" x2="422.40" y2="177.70" stroke="#d8262e" stroke-width="1.5" />
<circle cx="419.8" cy="172.0" r="1.8" fill="#23449a"/>
<circle cx="441.8" cy="164.6" r="1.8" fill="#23449a"/>
<circle cx="462.2" cy="161.9" r="1.8" fill="#23449a"/>
<circle cx="483.1" cy="156.0" r="1.8" fill="#23449a"/>
<circle cx="504.6" cy="149.2" r="1.8" fill="#23449a"/>
<circle cx="419.8" cy="172.0" r="2.4" fill="#3a4a9a"/>
<path d="M417.40000000000003,174.29999999999998 L422.2,174.29999999999998 L419.8,178.29999999999998Z" fill="#d8262e" />
<path d="M439.40000000000003,150.29999999999998 L444.2,150.29999999999998 L441.8,154.29999999999998Z" fill="#d8262e" />
<circle cx="462.2" cy="142.6" r="1.4" fill="#d8262e"/>
<circle cx="483.1" cy="136.9" r="1.4" fill="#d8262e"/>
<circle cx="504.6" cy="137.4" r="1.4" fill="#d8262e"/>
<text x="413.28" y="118.20" font-size="8.85" text-anchor="start" >Cytarabine(160μM)</text>
<text x="412.35" y="132.00" font-size="8.80" text-anchor="start" >Daunorubicin (50nM)</text>
<line x1="416.90" y1="122.20" x2="424.30" y2="122.20" stroke="#d8262e" stroke-width="1.6" />
<path d="M418.6,121 L422.6,121 L420.6,124Z" fill="#d8262e" />
<line x1="416.90" y1="135.30" x2="424.30" y2="135.30" stroke="#23449a" stroke-width="1.6" />
<circle cx="420.6" cy="135.3" r="1.6" fill="#23449a"/>
<text x="458.82" y="188.60" font-size="8.75" text-anchor="start" >Time (hours)</text>
<text x="446.18" y="161.20" font-size="10.00" text-anchor="start" >***</text>
<text x="463.78" y="153.40" font-size="10.00" text-anchor="start" >***</text>
<text x="484.98" y="148.50" font-size="10.00" text-anchor="start" >***</text>
<text x="506.18" y="147.20" font-size="10.00" text-anchor="start" >***</text>
<text x="506.18" y="159.10" font-size="10.00" text-anchor="start" >***</text>
<text x="487.50" y="166.00" font-size="10.00" text-anchor="start" >**</text>
<text transform="translate(370.60,190.07) rotate(-90)" font-size="8.65">tmTNF-α expression</text>
<text transform="translate(381.20,180.04) rotate(-90)" font-size="8.65">in survival cells</text>
<text transform="translate(388.60,195.75) rotate(-90)" font-size="8.65">after chemotherapy (%)</text>
<text x="0.39" y="224.70" font-size="11.00" text-anchor="start" font-weight="bold" >C</text>
<line x1="40.10" y1="233.80" x2="40.10" y2="324.70" stroke="#000" stroke-width="1.4" />
<line x1="39.50" y1="324.10" x2="156.00" y2="324.10" stroke="#000" stroke-width="1.4" />
<line x1="37.30" y1="324.10" x2="40.10" y2="324.10" stroke="#000" stroke-width="1.1" />
<text x="30.28" y="327.20" font-size="8.50" text-anchor="start" >0</text>
<line x1="37.30" y1="301.68" x2="40.10" y2="301.68" stroke="#000" stroke-width="1.1" />
<text x="25.56" y="304.78" font-size="8.50" text-anchor="start" >20</text>
<line x1="37.30" y1="279.25" x2="40.10" y2="279.25" stroke="#000" stroke-width="1.1" />
<text x="25.56" y="282.35" font-size="8.50" text-anchor="start" >40</text>
<line x1="37.30" y1="256.83" x2="40.10" y2="256.83" stroke="#000" stroke-width="1.1" />
<text x="25.56" y="259.93" font-size="8.50" text-anchor="start" >60</text>
<line x1="37.30" y1="234.40" x2="40.10" y2="234.40" stroke="#000" stroke-width="1.1" />
<text x="25.56" y="237.50" font-size="8.50" text-anchor="start" >80</text>
<rect x="51.00" y="255.30" width="16.20" height="68.80" fill="#1e3a9a" />
<rect x="67.40" y="269.30" width="17.40" height="54.80" fill="#d21f30" />
<rect x="112.20" y="247.80" width="15.90" height="76.30" fill="#1e3a9a" />
<rect x="128.30" y="269.90" width="17.20" height="54.20" fill="#d21f30" />
<line x1="59.10" y1="254.30" x2="59.10" y2="255.50" stroke="#1e3a9a" stroke-width="1.3" />
<line x1="56.50" y1="254.30" x2="61.70" y2="254.30" stroke="#1e3a9a" stroke-width="1.2" />
<line x1="76.50" y1="266.20" x2="76.50" y2="269.50" stroke="#d21f30" stroke-width="1.4" />
<line x1="71.80" y1="266.20" x2="81.30" y2="266.20" stroke="#d21f30" stroke-width="1.5" />
<line x1="120.60" y1="244.00" x2="120.60" y2="248.00" stroke="#1e3a9a" stroke-width="1.4" />
<line x1="116.40" y1="244.00" x2="124.90" y2="244.00" stroke="#1e3a9a" stroke-width="1.5" />
<line x1="137.30" y1="264.80" x2="137.30" y2="270.00" stroke="#d21f30" stroke-width="1.4" />
<line x1="132.80" y1="264.80" x2="141.90" y2="264.80" stroke="#d21f30" stroke-width="1.5" />
<text x="55.50" y="257.30" font-size="10.00" text-anchor="start" >**</text>
<text x="116.70" y="247.20" font-size="10.00" text-anchor="start" >**</text>
<line x1="67.20" y1="324.10" x2="67.20" y2="326.70" stroke="#000" stroke-width="1.1" />
<line x1="128.20" y1="324.10" x2="128.20" y2="326.70" stroke="#000" stroke-width="1.1" />
<text x="44.15" y="335.40" font-size="8.75" text-anchor="start" >Cytarabine</text>
<text x="100.91" y="335.30" font-size="8.75" text-anchor="start" >Daunorubicin</text>
<rect x="45.80" y="220.70" width="10.40" height="6.30" fill="#1e3a9a" />
<rect x="45.80" y="229.90" width="10.40" height="6.10" fill="#d21f30" />
<text x="58.60" y="226.00" font-size="8.40" text-anchor="start" >tmTNF-α shRNA</text>
<text x="58.60" y="236.60" font-size="8.40" text-anchor="start" >Control shRNA</text>
<text transform="translate(22.30,319.44) rotate(-90)" font-size="8.80">Apoptosis rate (%)</text>
<text x="179.54" y="227.00" font-size="11.00" text-anchor="start" font-weight="bold" >D</text>
<line x1="214.60" y1="222.50" x2="214.60" y2="315.00" stroke="#000" stroke-width="1.4" />
<line x1="214.00" y1="314.40" x2="336.00" y2="314.40" stroke="#000" stroke-width="1.4" />
<line x1="211.80" y1="314.40" x2="214.60" y2="314.40" stroke="#000" stroke-width="1.1" />
<text x="204.78" y="317.80" font-size="8.50" text-anchor="start" >0</text>
<line x1="211.80" y1="283.97" x2="214.60" y2="283.97" stroke="#000" stroke-width="1.1" />
<text x="200.06" y="287.37" font-size="8.50" text-anchor="start" >20</text>
<line x1="211.80" y1="253.53" x2="214.60" y2="253.53" stroke="#000" stroke-width="1.1" />
<text x="200.06" y="256.93" font-size="8.50" text-anchor="start" >40</text>
<line x1="211.80" y1="223.10" x2="214.60" y2="223.10" stroke="#000" stroke-width="1.1" />
<text x="200.06" y="226.50" font-size="8.50" text-anchor="start" >60</text>
<line x1="214.20" y1="314.40" x2="214.20" y2="317.00" stroke="#000" stroke-width="1.1" />
<text x="211.81" y="327.40" font-size="8.60" text-anchor="start" >0</text>
<line x1="235.00" y1="314.40" x2="235.00" y2="317.00" stroke="#000" stroke-width="1.1" />
<text x="230.23" y="327.40" font-size="8.60" text-anchor="start" >10</text>
<line x1="255.50" y1="314.40" x2="255.50" y2="317.00" stroke="#000" stroke-width="1.1" />
<text x="250.73" y="327.40" font-size="8.60" text-anchor="start" >20</text>
<line x1="275.10" y1="314.40" x2="275.10" y2="317.00" stroke="#000" stroke-width="1.1" />
<text x="270.33" y="327.40" font-size="8.60" text-anchor="start" >40</text>
<line x1="295.70" y1="314.40" x2="295.70" y2="317.00" stroke="#000" stroke-width="1.1" />
<text x="290.93" y="327.40" font-size="8.60" text-anchor="start" >80</text>
<line x1="316.00" y1="314.40" x2="316.00" y2="317.00" stroke="#000" stroke-width="1.1" />
<text x="308.82" y="327.40" font-size="8.60" text-anchor="start" >160</text>
<line x1="335.10" y1="314.40" x2="335.10" y2="317.00" stroke="#000" stroke-width="1.1" />
<text x="327.92" y="327.40" font-size="8.60" text-anchor="start" >320</text>
<polyline points="214.2,314.4 235,314.4 255.5,303.9 275.1,299.6 295.7,278.2 316,275.7 335.1,269.3" fill="none" stroke="#d6262c" stroke-width="1.5"/>
<polyline points="214.2,314.4 235,300.7 255.5,281.0 275.1,269.3 295.7,250.3 316,243.9 335.1,236.5" fill="none" stroke="#1f2a5c" stroke-width="1.4"/>
<line x1="275.10" y1="296.90" x2="275.10" y2="302.20" stroke="#d6262c" stroke-width="1.7" />
<line x1="272.30" y1="296.90" x2="277.90" y2="296.90" stroke="#d6262c" stroke-width="1.7" />
<line x1="272.30" y1="302.20" x2="277.90" y2="302.20" stroke="#d6262c" stroke-width="1.7" />
<line x1="295.70" y1="271.40" x2="295.70" y2="281.60" stroke="#d6262c" stroke-width="1.7" />
<line x1="292.90" y1="271.40" x2="298.50" y2="271.40" stroke="#d6262c" stroke-width="1.7" />
<line x1="292.90" y1="281.60" x2="298.50" y2="281.60" stroke="#d6262c" stroke-width="1.7" />
<line x1="316.00" y1="271.40" x2="316.00" y2="279.90" stroke="#d6262c" stroke-width="1.7" />
<line x1="313.20" y1="271.40" x2="318.80" y2="271.40" stroke="#d6262c" stroke-width="1.7" />
<line x1="313.20" y1="279.90" x2="318.80" y2="279.90" stroke="#d6262c" stroke-width="1.7" />
<line x1="255.50" y1="272.50" x2="255.50" y2="288.80" stroke="#1f2a5c" stroke-width="1.7" />
<line x1="252.70" y1="272.50" x2="258.30" y2="272.50" stroke="#1f2a5c" stroke-width="1.7" />
<line x1="252.70" y1="288.80" x2="258.30" y2="288.80" stroke="#1f2a5c" stroke-width="1.7" />
<line x1="275.10" y1="260.20" x2="275.10" y2="277.80" stroke="#1f2a5c" stroke-width="1.7" />
<line x1="272.30" y1="260.20" x2="277.90" y2="260.20" stroke="#1f2a5c" stroke-width="1.7" />
<line x1="272.30" y1="277.80" x2="277.90" y2="277.80" stroke="#1f2a5c" stroke-width="1.7" />
<line x1="316.00" y1="240.30" x2="316.00" y2="247.70" stroke="#1f2a5c" stroke-width="1.7" />
<line x1="313.20" y1="240.30" x2="318.80" y2="240.30" stroke="#1f2a5c" stroke-width="1.7" />
<line x1="313.20" y1="247.70" x2="318.80" y2="247.70" stroke="#1f2a5c" stroke-width="1.7" />
<line x1="335.10" y1="233.30" x2="335.10" y2="240.00" stroke="#1f2a5c" stroke-width="1.7" />
<line x1="332.30" y1="233.30" x2="337.90" y2="233.30" stroke="#1f2a5c" stroke-width="1.7" />
<line x1="332.30" y1="240.00" x2="337.90" y2="240.00" stroke="#1f2a5c" stroke-width="1.7" />
<circle cx="214.2" cy="314.4" r="1.9" fill="#d6262c"/>
<circle cx="235" cy="314.4" r="1.9" fill="#d6262c"/>
<circle cx="255.5" cy="303.9" r="1.9" fill="#d6262c"/>
<circle cx="275.1" cy="299.6" r="1.9" fill="#d6262c"/>
<circle cx="295.7" cy="278.2" r="1.9" fill="#d6262c"/>
<circle cx="316" cy="275.7" r="1.9" fill="#d6262c"/>
<circle cx="335.1" cy="269.3" r="1.9" fill="#d6262c"/>
<rect x="212.50" y="312.70" width="3.40" height="3.40" fill="#1f2a5c" />
<rect x="233.30" y="299.00" width="3.40" height="3.40" fill="#1f2a5c" />
<rect x="253.80" y="279.30" width="3.40" height="3.40" fill="#1f2a5c" />
<rect x="273.40" y="267.60" width="3.40" height="3.40" fill="#1f2a5c" />
<rect x="294.00" y="248.60" width="3.40" height="3.40" fill="#1f2a5c" />
<rect x="314.30" y="242.20" width="3.40" height="3.40" fill="#1f2a5c" />
<rect x="333.40" y="234.80" width="3.40" height="3.40" fill="#1f2a5c" />
<text x="228.48" y="297.50" font-size="10.00" text-anchor="start" >***</text>
<text x="253.55" y="272.50" font-size="10.00" text-anchor="start" >*</text>
<text x="273.15" y="260.90" font-size="10.00" text-anchor="start" >*</text>
<text x="291.80" y="250.30" font-size="10.00" text-anchor="start" >**</text>
<text x="312.10" y="239.70" font-size="10.00" text-anchor="start" >**</text>
<text x="331.20" y="232.80" font-size="10.00" text-anchor="start" >**</text>
<line x1="220.50" y1="229.50" x2="230.10" y2="229.50" stroke="#d6262c" stroke-width="1.6" />
<circle cx="225.3" cy="229.5" r="1.9" fill="#d6262c"/>
<line x1="220.50" y1="239.20" x2="230.10" y2="239.20" stroke="#1f2a5c" stroke-width="1.6" />
<rect x="223.60" y="237.50" width="3.40" height="3.40" fill="#1f2a5c" />
<text x="232.57" y="232.20" font-size="8.45" text-anchor="start" >Control shRNA</text>
<text x="232.18" y="241.80" font-size="8.40" text-anchor="start" >tmTNF shRNA</text>
<text x="240.40" y="338.20" font-size="8.45" text-anchor="start" >Fas antibody (ng/L)</text>
<text transform="translate(197.40,303.06) rotate(-90)" font-size="8.80">Cytotoxicity (%)</text>
<text x="360.94" y="225.80" font-size="11.00" text-anchor="start" font-weight="bold" >E</text>
<line x1="409.60" y1="246.00" x2="409.60" y2="296.90" stroke="#000" stroke-width="1.4" />
<line x1="409.60" y1="302.00" x2="409.60" y2="324.90" stroke="#000" stroke-width="1.4" />
<line x1="409.00" y1="324.40" x2="509.80" y2="324.40" stroke="#000" stroke-width="1.4" />
<line x1="408.00" y1="296.60" x2="411.20" y2="296.60" stroke="#000" stroke-width="1.3" />
<line x1="407.60" y1="302.40" x2="411.60" y2="302.40" stroke="#000" stroke-width="1.3" />
<line x1="407.20" y1="246.60" x2="409.60" y2="246.60" stroke="#000" stroke-width="1.1" />
<text x="390.81" y="249.70" font-size="8.50" text-anchor="start" >100</text>
<line x1="407.20" y1="256.80" x2="409.60" y2="256.80" stroke="#000" stroke-width="1.1" />
<text x="395.56" y="259.90" font-size="8.50" text-anchor="start" >80</text>
<line x1="407.20" y1="267.00" x2="409.60" y2="267.00" stroke="#000" stroke-width="1.1" />
<text x="395.56" y="270.10" font-size="8.50" text-anchor="start" >60</text>
<line x1="407.20" y1="277.70" x2="409.60" y2="277.70" stroke="#000" stroke-width="1.1" />
<text x="395.56" y="280.80" font-size="8.50" text-anchor="start" >40</text>
<line x1="407.20" y1="287.40" x2="409.60" y2="287.40" stroke="#000" stroke-width="1.1" />
<text x="395.56" y="290.50" font-size="8.50" text-anchor="start" >20</text>
<line x1="407.20" y1="302.40" x2="409.60" y2="302.40" stroke="#000" stroke-width="1.1" />
<text x="393.19" y="305.50" font-size="8.50" text-anchor="start" >2.0</text>
<line x1="407.20" y1="313.40" x2="409.60" y2="313.40" stroke="#000" stroke-width="1.1" />
<text x="393.19" y="316.50" font-size="8.50" text-anchor="start" >1.0</text>
<line x1="407.20" y1="324.50" x2="409.60" y2="324.50" stroke="#000" stroke-width="1.1" />
<text x="393.19" y="327.60" font-size="8.50" text-anchor="start" >0.0</text>
<rect x="419.00" y="260.40" width="4.40" height="4.40" fill="#d42038" stroke="#b8102a" stroke-width="0.7"/>
<rect x="419.20" y="269.00" width="4.40" height="4.40" fill="#d42038" stroke="#b8102a" stroke-width="0.7"/>
<rect x="416.20" y="277.30" width="4.40" height="4.40" fill="#d42038" stroke="#b8102a" stroke-width="0.7"/>
<rect x="421.40" y="279.40" width="4.40" height="4.40" fill="#d42038" stroke="#b8102a" stroke-width="0.7"/>
<rect x="419.00" y="289.90" width="4.40" height="4.40" fill="#d42038" stroke="#b8102a" stroke-width="0.7"/>
<rect x="418.80" y="275.80" width="4.40" height="4.40" fill="#d42038" stroke="#b8102a" stroke-width="0.7"/>
<line x1="413.50" y1="277.90" x2="429.40" y2="277.90" stroke="#222" stroke-width="1.4" />
<line x1="421.40" y1="273.20" x2="421.40" y2="282.30" stroke="#222" stroke-width="1.2" />
<line x1="419.20" y1="273.20" x2="423.60" y2="273.20" stroke="#222" stroke-width="1.2" />
<line x1="419.20" y1="282.30" x2="423.60" y2="282.30" stroke="#222" stroke-width="1.2" />
<path d="M444.1,300.0 L446.8,304.8 L441.4,304.8Z" fill="#1d2f7a" />
<path d="M440.0,306.2 L442.7,311.0 L437.3,311.0Z" fill="#1d2f7a" />
<path d="M447.5,306.7 L450.2,311.5 L444.8,311.5Z" fill="#1d2f7a" />
<path d="M444.0,308.7 L446.7,313.5 L441.3,313.5Z" fill="#1d2f7a" />
<path d="M439.5,311.7 L442.2,316.5 L436.8,316.5Z" fill="#1d2f7a" />
<path d="M443.5,312.4 L446.2,317.2 L440.8,317.2Z" fill="#1d2f7a" />
<path d="M448.0,311.7 L450.7,316.5 L445.3,316.5Z" fill="#1d2f7a" />
<line x1="437.00" y1="309.90" x2="451.60" y2="309.90" stroke="#222" stroke-width="1.4" />
<text x="440.10" y="302.90" font-size="10.00" text-anchor="start" >**</text>
<rect x="466.80" y="244.70" width="4.40" height="4.40" fill="#d42038" stroke="#b8102a" stroke-width="0.7"/>
<rect x="462.30" y="245.80" width="4.40" height="4.40" fill="#d42038" stroke="#b8102a" stroke-width="0.7"/>
<rect x="460.70" y="249.50" width="4.40" height="4.40" fill="#d42038" stroke="#b8102a" stroke-width="0.7"/>
<rect x="464.80" y="253.00" width="4.40" height="4.40" fill="#d42038" stroke="#b8102a" stroke-width="0.7"/>
<rect x="464.80" y="267.90" width="4.40" height="4.40" fill="#d42038" stroke="#b8102a" stroke-width="0.7"/>
<rect x="468.30" y="247.80" width="4.40" height="4.40" fill="#d42038" stroke="#b8102a" stroke-width="0.7"/>
<line x1="459.80" y1="253.80" x2="475.10" y2="253.80" stroke="#222" stroke-width="1.4" />
<line x1="467.20" y1="250.00" x2="467.20" y2="257.90" stroke="#222" stroke-width="1.2" />
<line x1="465.00" y1="250.00" x2="469.40" y2="250.00" stroke="#222" stroke-width="1.2" />
<line x1="465.00" y1="257.90" x2="469.40" y2="257.90" stroke="#222" stroke-width="1.2" />
<text x="483.83" y="321.70" font-size="8.40" text-anchor="start" >ND</text>
<text x="417.31" y="335.00" font-size="8.75" text-anchor="start" >Liver</text>
<text x="462.85" y="334.60" font-size="8.60" text-anchor="start" >Tumor</text>
<line x1="428.40" y1="324.40" x2="428.40" y2="327.00" stroke="#000" stroke-width="1.1" />
<line x1="479.20" y1="324.40" x2="479.20" y2="327.00" stroke="#000" stroke-width="1.1" />
<path d="M418.5,225.1 L421.2,229.9 L415.8,229.9Z" fill="#1d2f7a" />
<rect x="417.00" y="233.90" width="4.40" height="4.40" fill="#d42038" stroke="#b8102a" stroke-width="0.7"/>
<text x="423.41" y="229.70" font-size="8.75" text-anchor="start" >tmTNF-α shRNA</text>
<text x="423.27" y="238.60" font-size="8.75" text-anchor="start" >Control shRNA</text>
<text transform="translate(387.40,325.15) rotate(-90)" font-size="8.90">CD45 expression (%)</text>
<text x="1.19" y="359.40" font-size="11.00" text-anchor="start" font-weight="bold" >F</text>
<text x="32.98" y="364.50" font-size="8.65" text-anchor="start" >SKM-1-shRNA</text>
<line x1="39.10" y1="367.80" x2="84.60" y2="367.80" stroke="#000" stroke-width="1.1" />
<text x="21.28" y="379.90" font-size="8.60" text-anchor="start" >Control</text>
<text x="64.20" y="379.90" font-size="8.80" text-anchor="start" >tmTNF-α</text>
<g shape-rendering="crispEdges">
<rect x="11.00" y="382.60" width="46.20" height="104.40" fill="rgb(10,29,18)" />
<rect x="57.20" y="382.60" width="47.40" height="104.40" fill="rgb(37,5,8)" />
<rect x="11.00" y="383.50" width="46.20" height="4.00" fill="rgb(17,49,28)" />
<rect x="57.20" y="383.50" width="47.40" height="4.00" fill="rgb(53,7,11)" />
<rect x="11.00" y="395.00" width="46.20" height="1.00" fill="rgb(23,66,37)" />
<rect x="57.20" y="395.00" width="47.40" height="1.00" fill="rgb(67,9,14)" />
<rect x="11.00" y="399.00" width="46.20" height="3.00" fill="rgb(19,56,32)" />
<rect x="57.20" y="399.00" width="47.40" height="3.00" fill="rgb(59,8,12)" />
<rect x="11.00" y="404.00" width="46.20" height="3.00" fill="rgb(26,77,43)" />
<rect x="57.20" y="404.00" width="47.40" height="3.00" fill="rgb(75,11,16)" />
<rect x="11.00" y="410.00" width="46.20" height="2.70" fill="rgb(26,77,43)" />
<rect x="57.20" y="410.00" width="47.40" height="2.70" fill="rgb(75,11,16)" />
<rect x="11.00" y="415.00" width="46.20" height="1.00" fill="rgb(16,46,27)" />
<rect x="57.20" y="415.00" width="47.40" height="1.00" fill="rgb(50,7,11)" />
<rect x="11.00" y="420.00" width="46.20" height="2.00" fill="rgb(18,53,30)" />
<rect x="57.20" y="420.00" width="47.40" height="2.00" fill="rgb(56,8,12)" />
<rect x="11.00" y="426.00" width="46.20" height="1.00" fill="rgb(23,66,37)" />
<rect x="57.20" y="426.00" width="47.40" height="1.00" fill="rgb(67,9,14)" />
<rect x="11.00" y="433.00" width="46.20" height="2.00" fill="rgb(18,53,30)" />
<rect x="57.20" y="433.00" width="47.40" height="2.00" fill="rgb(56,8,12)" />
<rect x="11.00" y="438.00" width="46.20" height="1.00" fill="rgb(17,49,28)" />
<rect x="57.20" y="438.00" width="47.40" height="1.00" fill="rgb(53,7,11)" />
<rect x="11.00" y="443.50" width="46.20" height="1.50" fill="rgb(19,56,32)" />
<rect x="57.20" y="443.50" width="47.40" height="1.50" fill="rgb(59,8,12)" />
<rect x="11.00" y="448.00" width="46.20" height="1.00" fill="rgb(17,49,28)" />
<rect x="57.20" y="448.00" width="47.40" height="1.00" fill="rgb(53,7,11)" />
<rect x="11.00" y="454.00" width="46.20" height="1.00" fill="rgb(18,53,30)" />
<rect x="57.20" y="454.00" width="47.40" height="1.00" fill="rgb(56,8,12)" />
<rect x="11.00" y="460.80" width="46.20" height="2.80" fill="rgb(28,80,45)" />
<rect x="57.20" y="460.80" width="47.40" height="2.80" fill="rgb(78,11,17)" />
<rect x="11.00" y="468.50" width="46.20" height="1.50" fill="rgb(19,56,32)" />
<rect x="57.20" y="468.50" width="47.40" height="1.50" fill="rgb(59,8,12)" />
<rect x="11.00" y="474.00" width="46.20" height="1.00" fill="rgb(19,56,32)" />
<rect x="57.20" y="474.00" width="47.40" height="1.00" fill="rgb(59,8,12)" />
<rect x="11.00" y="479.00" width="46.20" height="2.00" fill="rgb(24,70,39)" />
<rect x="57.20" y="479.00" width="47.40" height="2.00" fill="rgb(70,10,15)" />
<rect x="11.00" y="484.00" width="46.20" height="1.00" fill="rgb(19,56,32)" />
<rect x="57.20" y="484.00" width="47.40" height="1.00" fill="rgb(59,8,12)" />
<rect x="11.00" y="487.00" width="46.20" height="104.60" fill="rgb(214,28,34)" />
<rect x="57.20" y="487.00" width="47.40" height="104.60" fill="rgb(78,176,62)" />
<rect x="11.00" y="487.50" width="46.20" height="2.00" fill="rgb(164,20,24)" />
<rect x="57.20" y="487.50" width="47.40" height="2.00" fill="rgb(55,134,46)" />
<rect x="11.00" y="492.70" width="46.20" height="2.00" fill="rgb(152,18,22)" />
<rect x="57.20" y="492.70" width="47.40" height="2.00" fill="rgb(50,124,42)" />
<rect x="11.00" y="496.50" width="46.20" height="1.00" fill="rgb(176,22,26)" />
<rect x="57.20" y="496.50" width="47.40" height="1.00" fill="rgb(61,144,50)" />
<rect x="11.00" y="500.00" width="46.20" height="2.00" fill="rgb(158,19,23)" />
<rect x="57.20" y="500.00" width="47.40" height="2.00" fill="rgb(52,129,44)" />
<rect x="11.00" y="504.00" width="46.20" height="3.00" fill="rgb(152,18,22)" />
<rect x="57.20" y="504.00" width="47.40" height="3.00" fill="rgb(50,124,42)" />
<rect x="11.00" y="509.00" width="46.20" height="1.00" fill="rgb(176,22,26)" />
<rect x="57.20" y="509.00" width="47.40" height="1.00" fill="rgb(61,144,50)" />
<rect x="11.00" y="512.00" width="46.20" height="1.50" fill="rgb(170,21,25)" />
<rect x="57.20" y="512.00" width="47.40" height="1.50" fill="rgb(58,139,48)" />
<rect x="11.00" y="518.60" width="46.20" height="2.90" fill="rgb(139,16,19)" />
<rect x="57.20" y="518.60" width="47.40" height="2.90" fill="rgb(44,113,38)" />
<rect x="11.00" y="523.40" width="46.20" height="2.90" fill="rgb(114,12,14)" />
<rect x="57.20" y="523.40" width="47.40" height="2.90" fill="rgb(33,92,30)" />
<rect x="11.00" y="528.00" width="46.20" height="1.00" fill="rgb(176,22,26)" />
<rect x="57.20" y="528.00" width="47.40" height="1.00" fill="rgb(61,144,50)" />
<rect x="11.00" y="531.00" width="46.20" height="2.00" fill="rgb(152,18,22)" />
<rect x="57.20" y="531.00" width="47.40" height="2.00" fill="rgb(50,124,42)" />
<rect x="11.00" y="535.00" width="46.20" height="2.00" fill="rgb(164,20,24)" />
<rect x="57.20" y="535.00" width="47.40" height="2.00" fill="rgb(55,134,46)" />
<rect x="11.00" y="539.50" width="46.20" height="1.00" fill="rgb(164,20,24)" />
<rect x="57.20" y="539.50" width="47.40" height="1.00" fill="rgb(55,134,46)" />
<rect x="11.00" y="543.00" width="46.20" height="1.00" fill="rgb(176,22,26)" />
<rect x="57.20" y="543.00" width="47.40" height="1.00" fill="rgb(61,144,50)" />
<rect x="11.00" y="548.40" width="46.20" height="1.90" fill="rgb(152,18,22)" />
<rect x="57.20" y="548.40" width="47.40" height="1.90" fill="rgb(50,124,42)" />
<rect x="11.00" y="552.00" width="46.20" height="1.00" fill="rgb(176,22,26)" />
<rect x="57.20" y="552.00" width="47.40" height="1.00" fill="rgb(61,144,50)" />
<rect x="11.00" y="556.00" width="46.20" height="2.00" fill="rgb(152,18,22)" />
<rect x="57.20" y="556.00" width="47.40" height="2.00" fill="rgb(50,124,42)" />
<rect x="11.00" y="561.00" width="46.20" height="1.50" fill="rgb(164,20,24)" />
<rect x="57.20" y="561.00" width="47.40" height="1.50" fill="rgb(55,134,46)" />
<rect x="11.00" y="566.70" width="46.20" height="1.90" fill="rgb(145,17,20)" />
<rect x="57.20" y="566.70" width="47.40" height="1.90" fill="rgb(47,118,40)" />
<rect x="11.00" y="573.00" width="46.20" height="1.50" fill="rgb(170,21,25)" />
<rect x="57.20" y="573.00" width="47.40" height="1.50" fill="rgb(58,139,48)" />
<rect x="11.00" y="578.00" width="46.20" height="1.00" fill="rgb(183,23,28)" />
<rect x="57.20" y="578.00" width="47.40" height="1.00" fill="rgb(64,150,52)" />
</g>
<rect x="30.00" y="597.30" width="62.30" height="3.30" fill="url(#lg)" />
<text x="24.22" y="609.60" font-size="8.70" text-anchor="start" >Low</text>
<text x="84.01" y="609.60" font-size="8.60" text-anchor="start" >High</text>
<text x="135.01" y="360.00" font-size="11.00" text-anchor="start" font-weight="bold" >G</text>
<text transform="translate(151.60,391.24) rotate(-90)" font-size="8.60">Value</text>
<line x1="155.00" y1="362.30" x2="155.00" y2="393.10" stroke="#000" stroke-width="1.1" />
<text x="161.75" y="370.00" font-size="8.60" text-anchor="start"  font-style="italic">Q</text>
<text x="161.99" y="392.70" font-size="8.60" text-anchor="start"  font-style="italic">P</text>
<line x1="173.00" y1="358.50" x2="173.00" y2="515.40" stroke="#000" stroke-width="1.4" />
<line x1="172.40" y1="514.80" x2="309.00" y2="514.80" stroke="#000" stroke-width="1.4" />
<line x1="170.20" y1="514.80" x2="173.00" y2="514.80" stroke="#000" stroke-width="1.1" />
<text x="158.48" y="518.10" font-size="8.50" text-anchor="start" >0</text>
<line x1="170.20" y1="480.90" x2="173.00" y2="480.90" stroke="#000" stroke-width="1.1" />
<text x="153.76" y="484.20" font-size="8.50" text-anchor="start" >10</text>
<line x1="170.20" y1="447.00" x2="173.00" y2="447.00" stroke="#000" stroke-width="1.1" />
<text x="153.76" y="450.30" font-size="8.50" text-anchor="start" >20</text>
<line x1="170.20" y1="413.80" x2="173.00" y2="413.80" stroke="#000" stroke-width="1.1" />
<text x="153.76" y="417.10" font-size="8.50" text-anchor="start" >30</text>
<rect x="179.40" y="403.20" width="16.80" height="111.60" fill="#0c0a0b" />
<line x1="187.80" y1="514.80" x2="187.80" y2="517.60" stroke="#000" stroke-width="1.1" />
<rect x="205.80" y="449.80" width="17.40" height="65.00" fill="#0c0a0b" />
<line x1="214.50" y1="514.80" x2="214.50" y2="517.60" stroke="#000" stroke-width="1.1" />
<rect x="232.40" y="444.40" width="16.90" height="70.40" fill="#0c0a0b" />
<line x1="240.85" y1="514.80" x2="240.85" y2="517.60" stroke="#000" stroke-width="1.1" />
<rect x="258.20" y="444.40" width="17.30" height="70.40" fill="#0c0a0b" />
<line x1="266.85" y1="514.80" x2="266.85" y2="517.60" stroke="#000" stroke-width="1.1" />
<rect x="284.20" y="444.40" width="17.00" height="70.40" fill="#0c0a0b" />
<line x1="292.70" y1="514.80" x2="292.70" y2="517.60" stroke="#000" stroke-width="1.1" />
<text x="174.53" y="370.80" font-size="8.30" text-anchor="start" >.018</text>
<text x="202.68" y="370.80" font-size="8.30" text-anchor="start" >.096</text>
<text x="228.28" y="370.80" font-size="8.30" text-anchor="start" >.160</text>
<text x="254.53" y="370.80" font-size="8.30" text-anchor="start" >.160</text>
<text x="280.08" y="370.80" font-size="8.30" text-anchor="start" >.160</text>
<text x="175.98" y="392.90" font-size="8.30" text-anchor="start" >.000</text>
<text x="203.13" y="392.90" font-size="8.30" text-anchor="start" >.002</text>
<text x="231.18" y="392.90" font-size="8.30" text-anchor="start" >.007</text>
<text x="257.43" y="392.90" font-size="8.30" text-anchor="start" >.007</text>
<text x="282.43" y="392.90" font-size="8.30" text-anchor="start" >.007</text>
<text transform="translate(192.60,559.76) rotate(-90)" font-size="8.80">Cell cycle</text>
<text transform="translate(216.20,574.94) rotate(-90)" font-size="8.80">P53 signaling</text>
<text transform="translate(243.70,560.73) rotate(-90)" font-size="8.80">Apoptosis</text>
<text transform="translate(269.30,584.89) rotate(-90)" font-size="8.80">TGF-β signaling</text>
<text transform="translate(294.90,578.86) rotate(-90)" font-size="8.80">ErbB signaling</text>
<text x="205.14" y="601.50" font-size="8.80" text-anchor="start" >Signaling Pathway</text>
<text transform="translate(152.30,510.17) rotate(-90)" font-size="8.80">The number of genes</text>
<text x="331.99" y="359.60" font-size="11.00" text-anchor="start" font-weight="bold" >H</text>
<text x="359.74" y="363.00" font-size="8.70" text-anchor="start" >Symbol</text>
<text x="364.61" y="374.40" font-size="8.80" text-anchor="start" >gene</text>
<text x="454.64" y="351.80" font-size="8.70" text-anchor="start" >Ratio</text>
<text x="409.24" y="362.30" font-size="8.90" text-anchor="start" >(tmTNF-α shRNA / Control)</text>
<line x1="429.00" y1="366.90" x2="518.00" y2="366.90" stroke="#000" stroke-width="1.1" />
<text x="405.92" y="377.90" font-size="8.90" text-anchor="start" >Microarray</text>
<text x="474.75" y="377.90" font-size="8.90" text-anchor="start" >Real-time</text>
<text x="363.87" y="394.90" font-size="8.50" text-anchor="start" >TNF-α</text>
<text x="415.90" y="394.90" font-size="8.40" text-anchor="start" >0.6251</text>
<text x="464.60" y="394.90" font-size="8.40" text-anchor="start" >0.163±0.0285</text>
<text x="366.31" y="409.80" font-size="8.50" text-anchor="start" >Bcl-2</text>
<text x="415.90" y="409.80" font-size="8.40" text-anchor="start" >3.2513</text>
<text x="464.60" y="409.80" font-size="8.40" text-anchor="start" >1.841±0.5023</text>
<text x="368.67" y="423.20" font-size="8.50" text-anchor="start" >Bax</text>
<text x="415.90" y="423.20" font-size="8.40" text-anchor="start" >1.1894</text>
<text x="464.60" y="423.20" font-size="8.40" text-anchor="start" >2.874±0.8767</text>
<text x="368.44" y="436.40" font-size="8.50" text-anchor="start" >Bad</text>
<text x="415.90" y="436.40" font-size="8.40" text-anchor="start" >0.9915</text>
<text x="464.60" y="436.40" font-size="8.40" text-anchor="start" >0.726±0.1811</text>
<text x="364.89" y="449.60" font-size="8.50" text-anchor="start" >Apaf1</text>
<text x="415.90" y="449.60" font-size="8.40" text-anchor="start" >1.5203</text>
<text x="464.60" y="449.60" font-size="8.40" text-anchor="start" >3.042±1.4</text>
<text x="368.92" y="462.80" font-size="8.50" text-anchor="start" >Fas</text>
<text x="415.90" y="462.80" font-size="8.40" text-anchor="start" >1.5097</text>
<text x="464.60" y="462.80" font-size="8.40" text-anchor="start" >6.018±2.195</text>
<text x="361.36" y="476.10" font-size="8.50" text-anchor="start" >Casp10</text>
<text x="415.90" y="476.10" font-size="8.40" text-anchor="start" >1.5189</text>
<text x="464.60" y="476.10" font-size="8.40" text-anchor="start" >2.592±0.56</text>
<text x="363.95" y="489.20" font-size="8.50" text-anchor="start" >TRAIL</text>
<text x="415.90" y="489.20" font-size="8.40" text-anchor="start" >2.2372</text>
<text x="464.60" y="489.20" font-size="8.40" text-anchor="start" >2.296±0.4133</text>
<text x="364.65" y="504.10" font-size="8.50" text-anchor="start" >CDK6</text>
<text x="415.90" y="504.10" font-size="8.40" text-anchor="start" >1.1112</text>
<text x="464.60" y="504.10" font-size="8.40" text-anchor="start" >1.465±0.2267</text>
<text x="368.44" y="517.10" font-size="8.50" text-anchor="start" >P21</text>
<text x="415.90" y="517.10" font-size="8.40" text-anchor="start" >0.3338</text>
<text x="464.60" y="517.10" font-size="8.40" text-anchor="start" >0.235±0.08</text>
<text x="368.44" y="530.40" font-size="8.50" text-anchor="start" >P16</text>
<text x="415.90" y="530.40" font-size="8.40" text-anchor="start" >0.9162</text>
<text x="464.60" y="530.40" font-size="8.40" text-anchor="start" >2.369±0.2441</text>
<text x="368.44" y="543.60" font-size="8.50" text-anchor="start" >P27</text>
<text x="415.90" y="543.60" font-size="8.40" text-anchor="start" >1.8794</text>
<text x="464.60" y="543.60" font-size="8.40" text-anchor="start" >1.367±0.1826</text>
<text x="365.84" y="556.70" font-size="8.50" text-anchor="start" >E2F2</text>
<text x="415.90" y="556.70" font-size="8.40" text-anchor="start" >0.6162</text>
<text x="464.60" y="556.70" font-size="8.40" text-anchor="start" >0.49±0.38</text>
<text x="356.62" y="569.90" font-size="8.50" text-anchor="start" >GADD45b</text>
<text x="415.90" y="569.90" font-size="8.40" text-anchor="start" >0.8731</text>
<text x="464.60" y="569.90" font-size="8.40" text-anchor="start" >0.895±0.0665</text>
<text x="365.38" y="583.20" font-size="8.50" text-anchor="start" >Mad2</text>
<text x="415.90" y="583.20" font-size="8.40" text-anchor="start" >2.2358</text>
<text x="464.60" y="583.20" font-size="8.40" text-anchor="start" >3.438±2</text>
<text x="368.20" y="596.40" font-size="8.50" text-anchor="start" >Myc</text>
<text x="415.90" y="596.40" font-size="8.40" text-anchor="start" >1.694</text>
<text x="464.60" y="596.40" font-size="8.40" text-anchor="start" >3.249±1.23</text>
<text x="365.61" y="609.50" font-size="8.50" text-anchor="start" >PLK1</text>
<text x="415.90" y="609.50" font-size="8.40" text-anchor="start" >0.8483</text>
<text x="464.60" y="609.50" font-size="8.40" text-anchor="start" >2.696±0.8895</text>
<line x1="351.00" y1="403.30" x2="351.00" y2="491.00" stroke="#000" stroke-width="1.1" />
<line x1="350.50" y1="498.70" x2="350.50" y2="613.00" stroke="#000" stroke-width="1.1" />
<text transform="translate(341.00,470.80) rotate(-90)" font-size="8.70">Apoptosis</text>
<text transform="translate(341.40,576.03) rotate(-90)" font-size="8.80">Cell cycle</text>
</svg>
</body></html>
